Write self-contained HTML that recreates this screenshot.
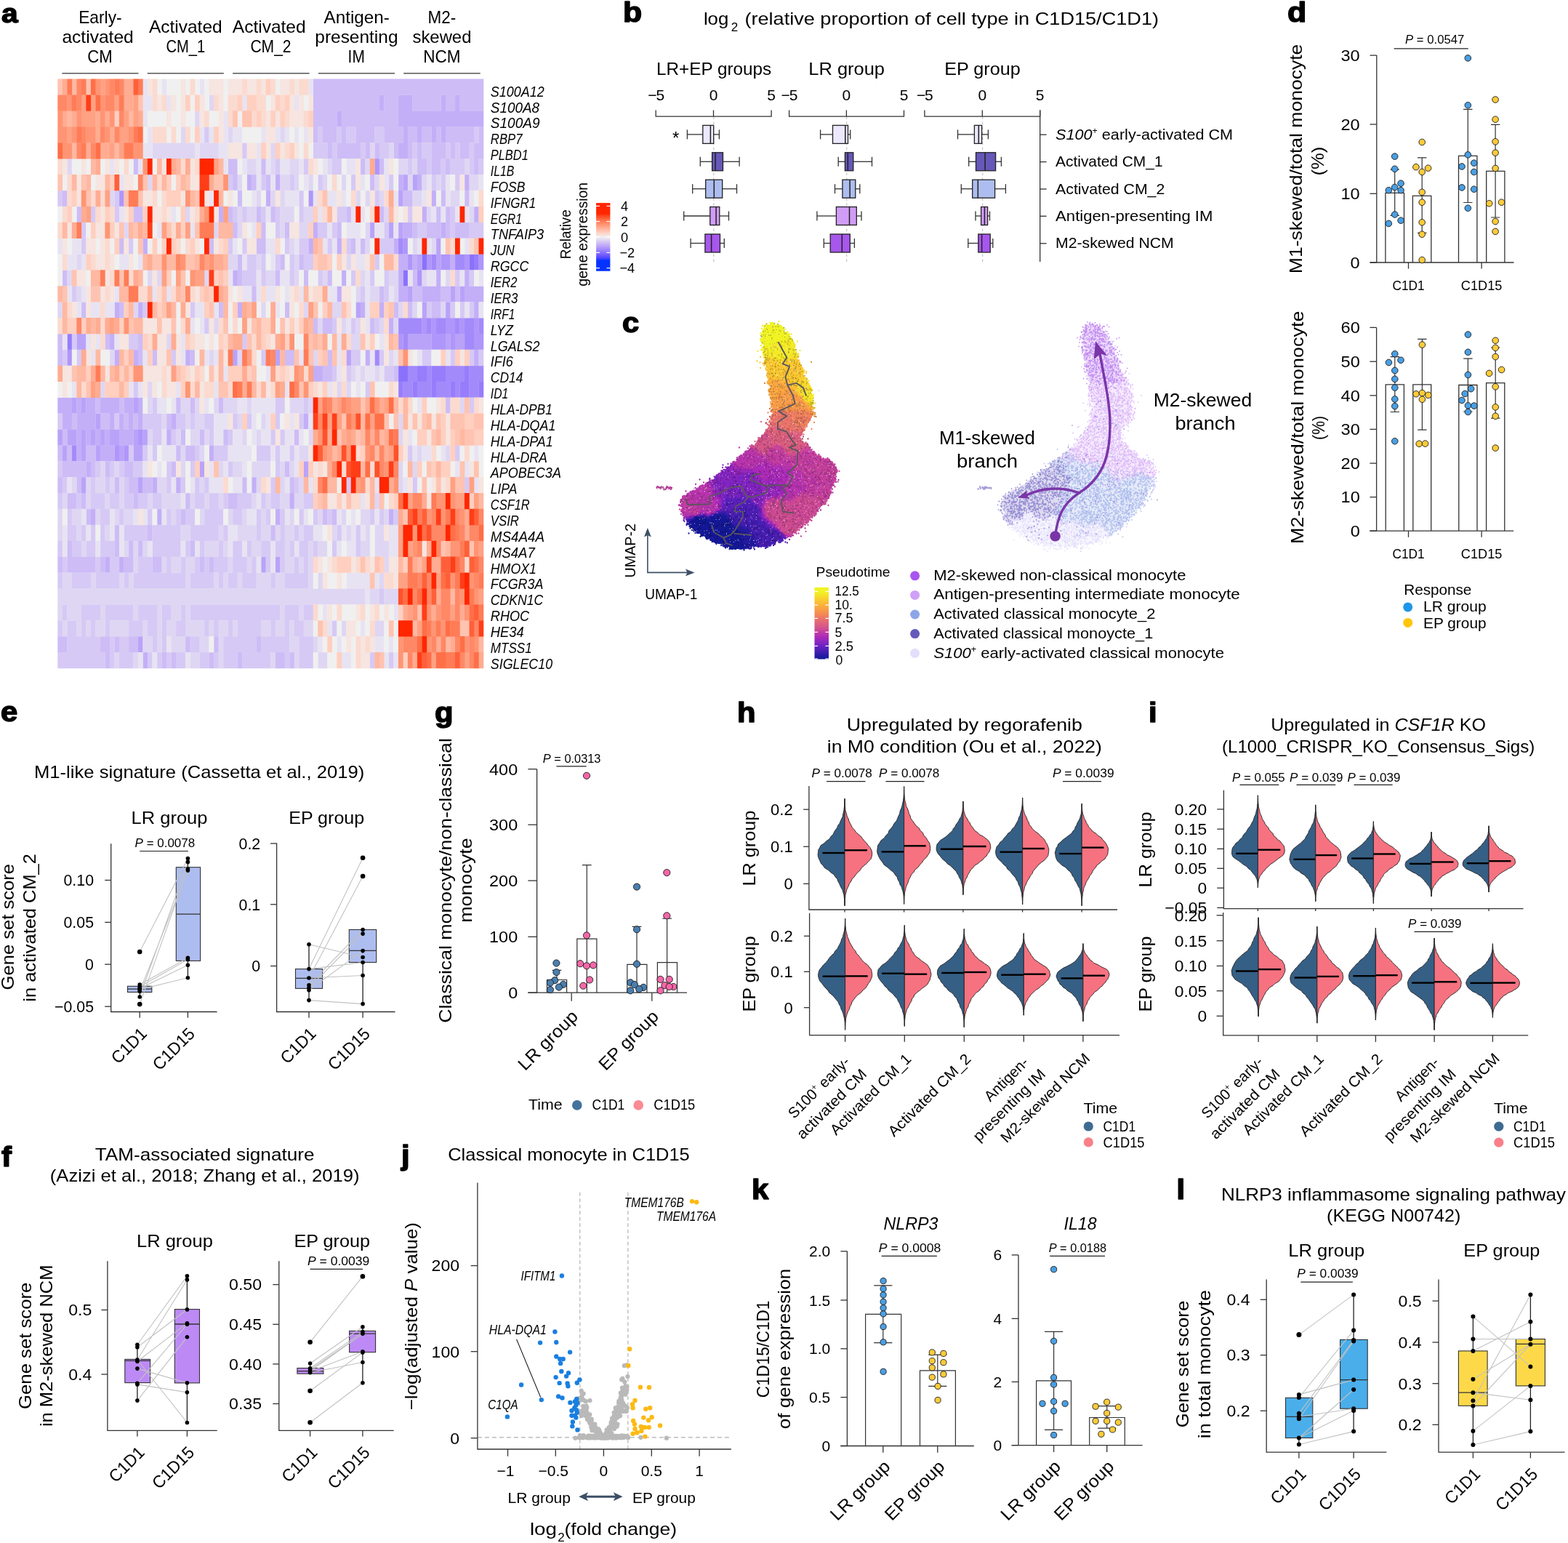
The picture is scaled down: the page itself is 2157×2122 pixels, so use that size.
<!DOCTYPE html>
<html><head><meta charset="utf-8"><title>Figure</title>
<style>html,body{margin:0;padding:0;background:#fff}svg{display:block}text{font-family:"Liberation Sans",sans-serif}</style></head>
<body><svg width="2157" height="2122" viewBox="0 0 2157 2122">
<text x="2" y="30.9" font-size="37" font-weight="bold" stroke="#000" stroke-width="1.5" stroke-linejoin="round" textLength="22.6" lengthAdjust="spacingAndGlyphs">a</text>
<g stroke-width="22.3" fill="none">
<path d="M580.4 360.6h6.8M645.5 360.6h6.8M554.4 382.5h6.8M547.9 513.9h6.8M554.4 513.9h6.8" stroke="#8a71fc"/>
<path d="M652 360.6h6.8M92.3 470.1h6.8M573.9 513.9h6.8M580.4 513.9h6.8M593.4 513.9h6.8M599.9 513.9h6.8M606.4 513.9h6.8M639 513.9h6.8M547.9 535.8h6.8M567.4 535.8h6.8M593.4 535.8h6.8M619.4 535.8h6.8M632.5 535.8h6.8M639 535.8h6.8M658.5 535.8h6.8" stroke="#977dfc"/>
<path d="M547.9 338.7h6.8M593.4 360.6h6.8M626 360.6h6.8M632.5 360.6h6.8M547.9 448.2h6.8M554.4 448.2h6.8M560.9 448.2h6.8M567.4 448.2h6.8M573.9 448.2h6.8M586.9 448.2h6.8M599.9 448.2h6.8M606.4 448.2h6.8M626 448.2h6.8M639 448.2h6.8M645.5 448.2h6.8M658.5 448.2h6.8M554.4 470.1h6.8M639 470.1h6.8M645.5 470.1h6.8M515.3 492h6.8M560.9 513.9h6.8M567.4 513.9h6.8M586.9 513.9h6.8M612.9 513.9h6.8M619.4 513.9h6.8M626 513.9h6.8M632.5 513.9h6.8M645.5 513.9h6.8M652 513.9h6.8M658.5 513.9h6.8M554.4 535.8h6.8M560.9 535.8h6.8M573.9 535.8h6.8M580.4 535.8h6.8M586.9 535.8h6.8M599.9 535.8h6.8M606.4 535.8h6.8M612.9 535.8h6.8M626 535.8h6.8M645.5 535.8h6.8M652 535.8h6.8M98.8 623.4h6.8" stroke="#a38afb"/>
<path d="M515.3 229.2h6.8M163.9 273h6.8M424.2 273h6.8M554.4 338.7h6.8M560.9 360.6h6.8M586.9 360.6h6.8M606.4 360.6h6.8M612.9 360.6h6.8M639 360.6h6.8M658.5 360.6h6.8M573.9 382.5h6.8M580.4 448.2h6.8M593.4 448.2h6.8M612.9 448.2h6.8M619.4 448.2h6.8M632.5 448.2h6.8M652 448.2h6.8M547.9 470.1h6.8M593.4 470.1h6.8M599.9 470.1h6.8M606.4 470.1h6.8M619.4 470.1h6.8M652 470.1h6.8M658.5 470.1h6.8M92.3 492h6.8M189.9 601.5h6.8M157.4 623.4h6.8M170.4 623.4h6.8" stroke="#af96fa"/>
<path d="M554.4 251.1h6.8M567.4 251.1h6.8M547.9 273h6.8M508.8 316.8h6.8M534.8 316.8h6.8M547.9 316.8h6.8M599.9 338.7h6.8M573.9 360.6h6.8M599.9 360.6h6.8M560.9 404.4h6.8M619.4 404.4h6.8M632.5 404.4h6.8M489.3 426.3h6.8M580.4 426.3h6.8M612.9 426.3h6.8M105.3 470.1h6.8M111.8 470.1h6.8M560.9 470.1h6.8M567.4 470.1h6.8M573.9 470.1h6.8M580.4 470.1h6.8M586.9 470.1h6.8M612.9 470.1h6.8M626 470.1h6.8M632.5 470.1h6.8M320.1 492h6.8M378.7 492h6.8M476.3 492h6.8M98.8 557.7h6.8M111.8 557.7h6.8M183.4 557.7h6.8M131.4 579.6h6.8M79.3 601.5h6.8M92.3 601.5h6.8M98.8 601.5h6.8M111.8 601.5h6.8M124.9 601.5h6.8M137.9 601.5h6.8M150.9 601.5h6.8M157.4 601.5h6.8M183.4 601.5h6.8M196.4 601.5h6.8M85.8 623.4h6.8M111.8 623.4h6.8M131.4 623.4h6.8M163.9 623.4h6.8M183.4 623.4h6.8M189.9 623.4h6.8M274.5 645.3h6.8M417.7 645.3h6.8M111.8 667.2h6.8M189.9 667.2h6.8M359.1 776.7h6.8M378.7 776.7h6.8M189.9 886.2h6.8" stroke="#b9a3f9"/>
<path d="M521.8 141.6h6.8M547.9 141.6h6.8M554.4 141.6h6.8M560.9 141.6h6.8M606.4 141.6h6.8M626 141.6h6.8M463.3 163.5h6.8M547.9 163.5h6.8M554.4 163.5h6.8M560.9 163.5h6.8M567.4 163.5h6.8M573.9 163.5h6.8M580.4 163.5h6.8M586.9 163.5h6.8M593.4 163.5h6.8M599.9 163.5h6.8M606.4 163.5h6.8M612.9 163.5h6.8M619.4 163.5h6.8M626 163.5h6.8M632.5 163.5h6.8M639 163.5h6.8M645.5 163.5h6.8M652 163.5h6.8M658.5 163.5h6.8M554.4 185.4h6.8M573.9 185.4h6.8M593.4 185.4h6.8M606.4 185.4h6.8M547.9 207.3h6.8M554.4 207.3h6.8M339.6 251.1h6.8M378.7 251.1h6.8M547.9 251.1h6.8M573.9 251.1h6.8M639 251.1h6.8M365.6 273h6.8M593.4 273h6.8M300.6 294.9h6.8M580.4 294.9h6.8M652 294.9h6.8M430.7 316.8h6.8M554.4 316.8h6.8M560.9 316.8h6.8M606.4 316.8h6.8M196.4 338.7h6.8M424.2 338.7h6.8M463.3 338.7h6.8M541.4 338.7h6.8M547.9 360.6h6.8M554.4 360.6h6.8M567.4 360.6h6.8M619.4 360.6h6.8M320.1 382.5h6.8M469.8 382.5h6.8M547.9 382.5h6.8M599.9 382.5h6.8M639 382.5h6.8M463.3 404.4h6.8M547.9 404.4h6.8M554.4 404.4h6.8M580.4 404.4h6.8M586.9 404.4h6.8M593.4 404.4h6.8M599.9 404.4h6.8M639 404.4h6.8M645.5 404.4h6.8M652 404.4h6.8M658.5 404.4h6.8M157.4 426.3h6.8M189.9 426.3h6.8M326.6 426.3h6.8M495.8 426.3h6.8M521.8 426.3h6.8M652 426.3h6.8M534.8 448.2h6.8M150.9 470.1h6.8M157.4 492h6.8M183.4 492h6.8M255 492h6.8M502.3 492h6.8M652 492h6.8M430.7 513.9h6.8M437.2 513.9h6.8M79.3 557.7h6.8M85.8 557.7h6.8M92.3 557.7h6.8M105.3 557.7h6.8M118.3 557.7h6.8M124.9 557.7h6.8M137.9 557.7h6.8M144.4 557.7h6.8M150.9 557.7h6.8M157.4 557.7h6.8M170.4 557.7h6.8M176.9 557.7h6.8M189.9 557.7h6.8M85.8 579.6h6.8M92.3 579.6h6.8M105.3 579.6h6.8M111.8 579.6h6.8M118.3 579.6h6.8M124.9 579.6h6.8M150.9 579.6h6.8M163.9 579.6h6.8M176.9 579.6h6.8M189.9 579.6h6.8M235.5 579.6h6.8M417.7 579.6h6.8M105.3 601.5h6.8M118.3 601.5h6.8M131.4 601.5h6.8M144.4 601.5h6.8M163.9 601.5h6.8M170.4 601.5h6.8M176.9 601.5h6.8M229 601.5h6.8M105.3 623.4h6.8M137.9 623.4h6.8M144.4 623.4h6.8M150.9 623.4h6.8M287.5 623.4h6.8M118.3 645.3h6.8M209.5 667.2h6.8M242 667.2h6.8M346.1 667.2h6.8M398.2 689.1h6.8M124.9 711h6.8M216 711h6.8M378.7 711h6.8M534.8 711h6.8M144.4 776.7h6.8M163.9 776.7h6.8M196.4 908.1h6.8" stroke="#c3aff8"/>
<path d="M430.7 119.7h6.8M437.2 119.7h6.8M443.7 119.7h6.8M450.2 119.7h6.8M456.8 119.7h6.8M463.3 119.7h6.8M469.8 119.7h6.8M476.3 119.7h6.8M482.8 119.7h6.8M489.3 119.7h6.8M495.8 119.7h6.8M502.3 119.7h6.8M508.8 119.7h6.8M515.3 119.7h6.8M521.8 119.7h6.8M528.3 119.7h6.8M534.8 119.7h6.8M541.4 119.7h6.8M547.9 119.7h6.8M554.4 119.7h6.8M560.9 119.7h6.8M567.4 119.7h6.8M573.9 119.7h6.8M580.4 119.7h6.8M586.9 119.7h6.8M593.4 119.7h6.8M599.9 119.7h6.8M606.4 119.7h6.8M612.9 119.7h6.8M619.4 119.7h6.8M626 119.7h6.8M632.5 119.7h6.8M639 119.7h6.8M645.5 119.7h6.8M652 119.7h6.8M658.5 119.7h6.8M430.7 141.6h6.8M437.2 141.6h6.8M443.7 141.6h6.8M450.2 141.6h6.8M456.8 141.6h6.8M463.3 141.6h6.8M469.8 141.6h6.8M476.3 141.6h6.8M482.8 141.6h6.8M489.3 141.6h6.8M495.8 141.6h6.8M502.3 141.6h6.8M508.8 141.6h6.8M515.3 141.6h6.8M528.3 141.6h6.8M534.8 141.6h6.8M541.4 141.6h6.8M567.4 141.6h6.8M573.9 141.6h6.8M580.4 141.6h6.8M586.9 141.6h6.8M593.4 141.6h6.8M599.9 141.6h6.8M612.9 141.6h6.8M619.4 141.6h6.8M632.5 141.6h6.8M639 141.6h6.8M645.5 141.6h6.8M652 141.6h6.8M658.5 141.6h6.8M430.7 163.5h6.8M437.2 163.5h6.8M443.7 163.5h6.8M450.2 163.5h6.8M456.8 163.5h6.8M469.8 163.5h6.8M476.3 163.5h6.8M482.8 163.5h6.8M489.3 163.5h6.8M495.8 163.5h6.8M502.3 163.5h6.8M508.8 163.5h6.8M515.3 163.5h6.8M521.8 163.5h6.8M528.3 163.5h6.8M534.8 163.5h6.8M541.4 163.5h6.8M430.7 185.4h6.8M443.7 185.4h6.8M450.2 185.4h6.8M456.8 185.4h6.8M469.8 185.4h6.8M489.3 185.4h6.8M495.8 185.4h6.8M502.3 185.4h6.8M508.8 185.4h6.8M528.3 185.4h6.8M534.8 185.4h6.8M541.4 185.4h6.8M547.9 185.4h6.8M560.9 185.4h6.8M567.4 185.4h6.8M580.4 185.4h6.8M586.9 185.4h6.8M599.9 185.4h6.8M612.9 185.4h6.8M619.4 185.4h6.8M626 185.4h6.8M632.5 185.4h6.8M639 185.4h6.8M645.5 185.4h6.8M658.5 185.4h6.8M450.2 207.3h6.8M463.3 207.3h6.8M469.8 207.3h6.8M476.3 207.3h6.8M482.8 207.3h6.8M489.3 207.3h6.8M502.3 207.3h6.8M515.3 207.3h6.8M541.4 207.3h6.8M560.9 207.3h6.8M573.9 207.3h6.8M593.4 207.3h6.8M599.9 207.3h6.8M606.4 207.3h6.8M619.4 207.3h6.8M632.5 207.3h6.8M639 207.3h6.8M652 207.3h6.8M658.5 207.3h6.8M183.4 229.2h6.8M313.6 229.2h6.8M320.1 229.2h6.8M359.1 229.2h6.8M495.8 229.2h6.8M521.8 229.2h6.8M573.9 229.2h6.8M580.4 229.2h6.8M593.4 229.2h6.8M599.9 229.2h6.8M612.9 229.2h6.8M652 229.2h6.8M320.1 251.1h6.8M346.1 251.1h6.8M365.6 251.1h6.8M508.8 251.1h6.8M85.8 273h6.8M326.6 273h6.8M554.4 273h6.8M560.9 273h6.8M606.4 273h6.8M639 273h6.8M105.3 294.9h6.8M183.4 294.9h6.8M189.9 294.9h6.8M313.6 294.9h6.8M352.6 294.9h6.8M372.2 294.9h6.8M476.3 294.9h6.8M521.8 294.9h6.8M599.9 294.9h6.8M612.9 294.9h6.8M320.1 316.8h6.8M359.1 316.8h6.8M391.7 316.8h6.8M463.3 316.8h6.8M567.4 316.8h6.8M586.9 316.8h6.8M593.4 316.8h6.8M599.9 316.8h6.8M612.9 316.8h6.8M626 316.8h6.8M632.5 316.8h6.8M639 316.8h6.8M163.9 338.7h6.8M287.5 338.7h6.8M352.6 338.7h6.8M359.1 338.7h6.8M482.8 338.7h6.8M495.8 338.7h6.8M326.6 360.6h6.8M385.2 360.6h6.8M411.2 360.6h6.8M85.8 382.5h6.8M326.6 382.5h6.8M378.7 382.5h6.8M417.7 382.5h6.8M450.2 382.5h6.8M567.4 382.5h6.8M346.1 404.4h6.8M521.8 404.4h6.8M567.4 404.4h6.8M573.9 404.4h6.8M606.4 404.4h6.8M612.9 404.4h6.8M626 404.4h6.8M111.8 426.3h6.8M163.9 426.3h6.8M300.6 426.3h6.8M391.7 426.3h6.8M541.4 426.3h6.8M560.9 426.3h6.8M593.4 426.3h6.8M599.9 426.3h6.8M430.7 448.2h6.8M443.7 448.2h6.8M450.2 448.2h6.8M508.8 448.2h6.8M79.3 470.1h6.8M144.4 470.1h6.8M189.9 470.1h6.8M79.3 492h6.8M189.9 492h6.8M209.5 492h6.8M261.5 492h6.8M391.7 492h6.8M398.2 492h6.8M450.2 492h6.8M443.7 513.9h6.8M450.2 513.9h6.8M541.4 513.9h6.8M131.4 557.7h6.8M163.9 557.7h6.8M242 557.7h6.8M261.5 557.7h6.8M300.6 557.7h6.8M612.9 557.7h6.8M98.8 579.6h6.8M137.9 579.6h6.8M144.4 579.6h6.8M170.4 579.6h6.8M183.4 579.6h6.8M229 579.6h6.8M85.8 601.5h6.8M248.5 601.5h6.8M274.5 601.5h6.8M307.1 601.5h6.8M404.7 601.5h6.8M79.3 623.4h6.8M92.3 623.4h6.8M118.3 623.4h6.8M124.9 623.4h6.8M242 623.4h6.8M255 623.4h6.8M261.5 623.4h6.8M85.8 645.3h6.8M92.3 645.3h6.8M98.8 645.3h6.8M105.3 645.3h6.8M111.8 645.3h6.8M124.9 645.3h6.8M144.4 645.3h6.8M170.4 645.3h6.8M176.9 645.3h6.8M235.5 645.3h6.8M391.7 645.3h6.8M79.3 667.2h6.8M105.3 667.2h6.8M157.4 667.2h6.8M176.9 667.2h6.8M183.4 667.2h6.8M196.4 667.2h6.8M202.9 667.2h6.8M333.1 667.2h6.8M398.2 667.2h6.8M92.3 689.1h6.8M98.8 689.1h6.8M111.8 689.1h6.8M183.4 689.1h6.8M255 689.1h6.8M313.6 689.1h6.8M320.1 689.1h6.8M118.3 711h6.8M248.5 711h6.8M443.7 711h6.8M456.8 711h6.8M157.4 732.9h6.8M202.9 732.9h6.8M372.2 732.9h6.8M92.3 754.8h6.8M157.4 754.8h6.8M176.9 754.8h6.8M189.9 754.8h6.8M261.5 754.8h6.8M79.3 776.7h6.8M92.3 776.7h6.8M98.8 776.7h6.8M105.3 776.7h6.8M111.8 776.7h6.8M118.3 776.7h6.8M124.9 776.7h6.8M137.9 776.7h6.8M170.4 776.7h6.8M176.9 776.7h6.8M209.5 776.7h6.8M216 776.7h6.8M274.5 776.7h6.8M287.5 776.7h6.8M79.3 886.2h6.8M85.8 886.2h6.8M137.9 886.2h6.8M144.4 886.2h6.8M157.4 886.2h6.8M176.9 886.2h6.8M183.4 886.2h6.8M255 886.2h6.8M294.1 886.2h6.8M352.6 886.2h6.8M144.4 908.1h6.8M222.5 908.1h6.8M235.5 908.1h6.8M287.5 908.1h6.8M326.6 908.1h6.8M378.7 908.1h6.8M385.2 908.1h6.8M398.2 908.1h6.8" stroke="#cdbcf6"/>
<path d="M281 185.4h6.8M437.2 185.4h6.8M463.3 185.4h6.8M476.3 185.4h6.8M482.8 185.4h6.8M515.3 185.4h6.8M521.8 185.4h6.8M652 185.4h6.8M333.1 207.3h6.8M430.7 207.3h6.8M437.2 207.3h6.8M443.7 207.3h6.8M456.8 207.3h6.8M495.8 207.3h6.8M521.8 207.3h6.8M528.3 207.3h6.8M567.4 207.3h6.8M580.4 207.3h6.8M586.9 207.3h6.8M612.9 207.3h6.8M626 207.3h6.8M645.5 207.3h6.8M378.7 229.2h6.8M417.7 229.2h6.8M456.8 229.2h6.8M463.3 229.2h6.8M560.9 229.2h6.8M586.9 229.2h6.8M606.4 229.2h6.8M619.4 229.2h6.8M626 229.2h6.8M632.5 229.2h6.8M645.5 229.2h6.8M658.5 229.2h6.8M313.6 251.1h6.8M359.1 251.1h6.8M398.2 251.1h6.8M437.2 251.1h6.8M482.8 251.1h6.8M534.8 251.1h6.8M593.4 251.1h6.8M606.4 251.1h6.8M626 251.1h6.8M79.3 273h6.8M157.4 273h6.8M411.2 273h6.8M515.3 273h6.8M124.9 294.9h6.8M157.4 294.9h6.8M320.1 294.9h6.8M333.1 294.9h6.8M359.1 294.9h6.8M378.7 294.9h6.8M411.2 294.9h6.8M463.3 294.9h6.8M469.8 294.9h6.8M560.9 294.9h6.8M619.4 294.9h6.8M111.8 316.8h6.8M378.7 316.8h6.8M437.2 316.8h6.8M443.7 316.8h6.8M456.8 316.8h6.8M528.3 316.8h6.8M573.9 316.8h6.8M580.4 316.8h6.8M619.4 316.8h6.8M645.5 316.8h6.8M652 316.8h6.8M658.5 316.8h6.8M111.8 338.7h6.8M176.9 338.7h6.8M313.6 338.7h6.8M333.1 338.7h6.8M391.7 338.7h6.8M411.2 338.7h6.8M417.7 338.7h6.8M450.2 338.7h6.8M476.3 338.7h6.8M521.8 338.7h6.8M528.3 338.7h6.8M534.8 338.7h6.8M339.6 360.6h6.8M346.1 360.6h6.8M359.1 360.6h6.8M378.7 360.6h6.8M398.2 360.6h6.8M417.7 360.6h6.8M424.2 360.6h6.8M515.3 360.6h6.8M333.1 382.5h6.8M339.6 382.5h6.8M346.1 382.5h6.8M359.1 382.5h6.8M398.2 382.5h6.8M437.2 382.5h6.8M482.8 382.5h6.8M508.8 382.5h6.8M528.3 382.5h6.8M626 382.5h6.8M645.5 382.5h6.8M98.8 404.4h6.8M495.8 404.4h6.8M528.3 404.4h6.8M196.4 426.3h6.8M261.5 426.3h6.8M586.9 426.3h6.8M619.4 426.3h6.8M632.5 426.3h6.8M645.5 426.3h6.8M281 448.2h6.8M456.8 448.2h6.8M482.8 448.2h6.8M515.3 448.2h6.8M98.8 470.1h6.8M176.9 470.1h6.8M183.4 470.1h6.8M333.1 470.1h6.8M85.8 492h6.8M105.3 492h6.8M235.5 492h6.8M359.1 492h6.8M482.8 492h6.8M489.3 492h6.8M521.8 492h6.8M580.4 492h6.8M586.9 492h6.8M619.4 492h6.8M645.5 492h6.8M658.5 492h6.8M456.8 513.9h6.8M476.3 513.9h6.8M528.3 513.9h6.8M534.8 513.9h6.8M183.4 535.8h6.8M502.3 535.8h6.8M209.5 557.7h6.8M378.7 557.7h6.8M385.2 557.7h6.8M417.7 557.7h6.8M645.5 557.7h6.8M79.3 579.6h6.8M157.4 579.6h6.8M196.4 579.6h6.8M202.9 579.6h6.8M209.5 579.6h6.8M216 579.6h6.8M242 579.6h6.8M248.5 579.6h6.8M261.5 579.6h6.8M281 579.6h6.8M287.5 579.6h6.8M320.1 579.6h6.8M339.6 579.6h6.8M378.7 579.6h6.8M411.2 579.6h6.8M209.5 601.5h6.8M216 601.5h6.8M235.5 601.5h6.8M287.5 601.5h6.8M313.6 601.5h6.8M372.2 601.5h6.8M385.2 601.5h6.8M176.9 623.4h6.8M196.4 623.4h6.8M209.5 623.4h6.8M268 623.4h6.8M294.1 623.4h6.8M300.6 623.4h6.8M307.1 623.4h6.8M352.6 623.4h6.8M359.1 623.4h6.8M365.6 623.4h6.8M378.7 623.4h6.8M398.2 623.4h6.8M560.9 623.4h6.8M626 623.4h6.8M79.3 645.3h6.8M131.4 645.3h6.8M150.9 645.3h6.8M163.9 645.3h6.8M183.4 645.3h6.8M189.9 645.3h6.8M229 645.3h6.8M261.5 645.3h6.8M313.6 645.3h6.8M378.7 645.3h6.8M85.8 667.2h6.8M124.9 667.2h6.8M144.4 667.2h6.8M170.4 667.2h6.8M229 667.2h6.8M248.5 667.2h6.8M268 667.2h6.8M281 667.2h6.8M372.2 667.2h6.8M404.7 667.2h6.8M476.3 667.2h6.8M567.4 667.2h6.8M639 667.2h6.8M79.3 689.1h6.8M105.3 689.1h6.8M124.9 689.1h6.8M131.4 689.1h6.8M137.9 689.1h6.8M150.9 689.1h6.8M157.4 689.1h6.8M170.4 689.1h6.8M176.9 689.1h6.8M189.9 689.1h6.8M196.4 689.1h6.8M209.5 689.1h6.8M216 689.1h6.8M268 689.1h6.8M274.5 689.1h6.8M287.5 689.1h6.8M294.1 689.1h6.8M307.1 689.1h6.8M326.6 689.1h6.8M333.1 689.1h6.8M339.6 689.1h6.8M359.1 689.1h6.8M372.2 689.1h6.8M378.7 689.1h6.8M417.7 689.1h6.8M424.2 689.1h6.8M92.3 711h6.8M137.9 711h6.8M144.4 711h6.8M163.9 711h6.8M202.9 711h6.8M229 711h6.8M242 711h6.8M255 711h6.8M261.5 711h6.8M281 711h6.8M287.5 711h6.8M294.1 711h6.8M300.6 711h6.8M320.1 711h6.8M326.6 711h6.8M352.6 711h6.8M365.6 711h6.8M385.2 711h6.8M411.2 711h6.8M430.7 711h6.8M450.2 711h6.8M508.8 711h6.8M521.8 711h6.8M541.4 711h6.8M92.3 732.9h6.8M98.8 732.9h6.8M111.8 732.9h6.8M124.9 732.9h6.8M137.9 732.9h6.8M170.4 732.9h6.8M176.9 732.9h6.8M183.4 732.9h6.8M189.9 732.9h6.8M196.4 732.9h6.8M209.5 732.9h6.8M216 732.9h6.8M222.5 732.9h6.8M229 732.9h6.8M235.5 732.9h6.8M242 732.9h6.8M261.5 732.9h6.8M268 732.9h6.8M274.5 732.9h6.8M281 732.9h6.8M287.5 732.9h6.8M294.1 732.9h6.8M307.1 732.9h6.8M352.6 732.9h6.8M385.2 732.9h6.8M404.7 732.9h6.8M417.7 732.9h6.8M424.2 732.9h6.8M463.3 732.9h6.8M489.3 732.9h6.8M79.3 754.8h6.8M98.8 754.8h6.8M105.3 754.8h6.8M118.3 754.8h6.8M124.9 754.8h6.8M137.9 754.8h6.8M144.4 754.8h6.8M150.9 754.8h6.8M209.5 754.8h6.8M216 754.8h6.8M222.5 754.8h6.8M229 754.8h6.8M235.5 754.8h6.8M242 754.8h6.8M255 754.8h6.8M274.5 754.8h6.8M300.6 754.8h6.8M320.1 754.8h6.8M326.6 754.8h6.8M339.6 754.8h6.8M359.1 754.8h6.8M365.6 754.8h6.8M378.7 754.8h6.8M385.2 754.8h6.8M398.2 754.8h6.8M411.2 754.8h6.8M417.7 754.8h6.8M430.7 754.8h6.8M456.8 754.8h6.8M489.3 754.8h6.8M85.8 776.7h6.8M131.4 776.7h6.8M150.9 776.7h6.8M157.4 776.7h6.8M189.9 776.7h6.8M196.4 776.7h6.8M202.9 776.7h6.8M229 776.7h6.8M248.5 776.7h6.8M268 776.7h6.8M281 776.7h6.8M294.1 776.7h6.8M300.6 776.7h6.8M307.1 776.7h6.8M320.1 776.7h6.8M326.6 776.7h6.8M333.1 776.7h6.8M346.1 776.7h6.8M365.6 776.7h6.8M385.2 776.7h6.8M404.7 776.7h6.8M417.7 776.7h6.8M79.3 798.6h6.8M98.8 798.6h6.8M105.3 798.6h6.8M111.8 798.6h6.8M118.3 798.6h6.8M131.4 798.6h6.8M137.9 798.6h6.8M144.4 798.6h6.8M150.9 798.6h6.8M157.4 798.6h6.8M170.4 798.6h6.8M183.4 798.6h6.8M189.9 798.6h6.8M196.4 798.6h6.8M202.9 798.6h6.8M209.5 798.6h6.8M216 798.6h6.8M222.5 798.6h6.8M229 798.6h6.8M235.5 798.6h6.8M242 798.6h6.8M248.5 798.6h6.8M261.5 798.6h6.8M268 798.6h6.8M274.5 798.6h6.8M281 798.6h6.8M287.5 798.6h6.8M300.6 798.6h6.8M313.6 798.6h6.8M320.1 798.6h6.8M333.1 798.6h6.8M339.6 798.6h6.8M346.1 798.6h6.8M372.2 798.6h6.8M391.7 798.6h6.8M398.2 798.6h6.8M404.7 798.6h6.8M411.2 798.6h6.8M417.7 798.6h6.8M521.8 820.5h6.8M85.8 842.4h6.8M111.8 842.4h6.8M118.3 842.4h6.8M124.9 842.4h6.8M131.4 842.4h6.8M144.4 842.4h6.8M150.9 842.4h6.8M157.4 842.4h6.8M163.9 842.4h6.8M170.4 842.4h6.8M176.9 842.4h6.8M189.9 842.4h6.8M196.4 842.4h6.8M202.9 842.4h6.8M209.5 842.4h6.8M222.5 842.4h6.8M229 842.4h6.8M248.5 842.4h6.8M261.5 842.4h6.8M268 842.4h6.8M274.5 842.4h6.8M281 842.4h6.8M287.5 842.4h6.8M294.1 842.4h6.8M300.6 842.4h6.8M307.1 842.4h6.8M313.6 842.4h6.8M320.1 842.4h6.8M326.6 842.4h6.8M333.1 842.4h6.8M339.6 842.4h6.8M346.1 842.4h6.8M352.6 842.4h6.8M359.1 842.4h6.8M365.6 842.4h6.8M372.2 842.4h6.8M378.7 842.4h6.8M391.7 842.4h6.8M398.2 842.4h6.8M404.7 842.4h6.8M417.7 842.4h6.8M424.2 842.4h6.8M79.3 864.3h6.8M92.3 864.3h6.8M98.8 864.3h6.8M111.8 864.3h6.8M124.9 864.3h6.8M144.4 864.3h6.8M176.9 864.3h6.8M183.4 864.3h6.8M189.9 864.3h6.8M202.9 864.3h6.8M209.5 864.3h6.8M222.5 864.3h6.8M242 864.3h6.8M248.5 864.3h6.8M281 864.3h6.8M294.1 864.3h6.8M313.6 864.3h6.8M326.6 864.3h6.8M333.1 864.3h6.8M339.6 864.3h6.8M346.1 864.3h6.8M352.6 864.3h6.8M372.2 864.3h6.8M391.7 864.3h6.8M404.7 864.3h6.8M411.2 864.3h6.8M456.8 864.3h6.8M92.3 886.2h6.8M98.8 886.2h6.8M105.3 886.2h6.8M111.8 886.2h6.8M118.3 886.2h6.8M124.9 886.2h6.8M131.4 886.2h6.8M150.9 886.2h6.8M163.9 886.2h6.8M170.4 886.2h6.8M209.5 886.2h6.8M222.5 886.2h6.8M261.5 886.2h6.8M268 886.2h6.8M307.1 886.2h6.8M313.6 886.2h6.8M320.1 886.2h6.8M326.6 886.2h6.8M333.1 886.2h6.8M339.6 886.2h6.8M346.1 886.2h6.8M359.1 886.2h6.8M365.6 886.2h6.8M372.2 886.2h6.8M378.7 886.2h6.8M385.2 886.2h6.8M391.7 886.2h6.8M411.2 886.2h6.8M417.7 886.2h6.8M424.2 886.2h6.8M79.3 908.1h6.8M85.8 908.1h6.8M92.3 908.1h6.8M98.8 908.1h6.8M105.3 908.1h6.8M111.8 908.1h6.8M118.3 908.1h6.8M124.9 908.1h6.8M131.4 908.1h6.8M137.9 908.1h6.8M150.9 908.1h6.8M163.9 908.1h6.8M170.4 908.1h6.8M176.9 908.1h6.8M202.9 908.1h6.8M216 908.1h6.8M229 908.1h6.8M242 908.1h6.8M248.5 908.1h6.8M274.5 908.1h6.8M281 908.1h6.8M294.1 908.1h6.8M307.1 908.1h6.8M313.6 908.1h6.8M320.1 908.1h6.8M333.1 908.1h6.8M339.6 908.1h6.8M346.1 908.1h6.8M352.6 908.1h6.8M359.1 908.1h6.8M365.6 908.1h6.8M391.7 908.1h6.8M411.2 908.1h6.8M417.7 908.1h6.8M424.2 908.1h6.8M508.8 908.1h6.8M534.8 908.1h6.8" stroke="#d6c9f5"/>
<path d="M287.5 141.6h6.8M268 163.5h6.8M248.5 185.4h6.8M313.6 185.4h6.8M385.2 185.4h6.8M209.5 207.3h6.8M216 207.3h6.8M222.5 207.3h6.8M229 207.3h6.8M235.5 207.3h6.8M242 207.3h6.8M248.5 207.3h6.8M255 207.3h6.8M261.5 207.3h6.8M274.5 207.3h6.8M281 207.3h6.8M287.5 207.3h6.8M294.1 207.3h6.8M372.2 207.3h6.8M508.8 207.3h6.8M534.8 207.3h6.8M92.3 229.2h6.8M339.6 229.2h6.8M346.1 229.2h6.8M372.2 229.2h6.8M398.2 229.2h6.8M404.7 229.2h6.8M450.2 229.2h6.8M502.3 229.2h6.8M547.9 229.2h6.8M554.4 229.2h6.8M567.4 229.2h6.8M639 229.2h6.8M202.9 251.1h6.8M326.6 251.1h6.8M385.2 251.1h6.8M391.7 251.1h6.8M404.7 251.1h6.8M424.2 251.1h6.8M443.7 251.1h6.8M469.8 251.1h6.8M515.3 251.1h6.8M560.9 251.1h6.8M580.4 251.1h6.8M599.9 251.1h6.8M645.5 251.1h6.8M652 251.1h6.8M150.9 273h6.8M352.6 273h6.8M372.2 273h6.8M385.2 273h6.8M489.3 273h6.8M502.3 273h6.8M521.8 273h6.8M567.4 273h6.8M573.9 273h6.8M619.4 273h6.8M626 273h6.8M255 294.9h6.8M326.6 294.9h6.8M339.6 294.9h6.8M346.1 294.9h6.8M385.2 294.9h6.8M391.7 294.9h6.8M398.2 294.9h6.8M417.7 294.9h6.8M424.2 294.9h6.8M528.3 294.9h6.8M586.9 294.9h6.8M645.5 294.9h6.8M170.4 316.8h6.8M294.1 316.8h6.8M326.6 316.8h6.8M385.2 316.8h6.8M411.2 316.8h6.8M417.7 316.8h6.8M502.3 316.8h6.8M398.2 338.7h6.8M502.3 338.7h6.8M567.4 338.7h6.8M593.4 338.7h6.8M105.3 360.6h6.8M313.6 360.6h6.8M320.1 360.6h6.8M352.6 360.6h6.8M404.7 360.6h6.8M476.3 360.6h6.8M92.3 382.5h6.8M202.9 382.5h6.8M216 382.5h6.8M281 382.5h6.8M365.6 382.5h6.8M372.2 382.5h6.8M404.7 382.5h6.8M443.7 382.5h6.8M495.8 382.5h6.8M534.8 382.5h6.8M541.4 382.5h6.8M580.4 382.5h6.8M612.9 382.5h6.8M105.3 404.4h6.8M489.3 404.4h6.8M508.8 404.4h6.8M515.3 404.4h6.8M541.4 404.4h6.8M79.3 426.3h6.8M183.4 426.3h6.8M359.1 426.3h6.8M417.7 426.3h6.8M456.8 426.3h6.8M463.3 426.3h6.8M547.9 426.3h6.8M567.4 426.3h6.8M606.4 426.3h6.8M294.1 448.2h6.8M437.2 448.2h6.8M469.8 448.2h6.8M489.3 448.2h6.8M521.8 448.2h6.8M541.4 448.2h6.8M229 470.1h6.8M482.8 470.1h6.8M489.3 470.1h6.8M150.9 492h6.8M287.5 492h6.8M326.6 492h6.8M430.7 492h6.8M534.8 492h6.8M482.8 513.9h6.8M495.8 513.9h6.8M515.3 513.9h6.8M137.9 535.8h6.8M202.9 535.8h6.8M463.3 535.8h6.8M476.3 535.8h6.8M202.9 557.7h6.8M248.5 557.7h6.8M255 557.7h6.8M268 557.7h6.8M294.1 557.7h6.8M307.1 557.7h6.8M313.6 557.7h6.8M320.1 557.7h6.8M339.6 557.7h6.8M398.2 557.7h6.8M404.7 557.7h6.8M411.2 557.7h6.8M424.2 557.7h6.8M632.5 557.7h6.8M222.5 579.6h6.8M255 579.6h6.8M268 579.6h6.8M274.5 579.6h6.8M326.6 579.6h6.8M359.1 579.6h6.8M547.9 579.6h6.8M202.9 601.5h6.8M242 601.5h6.8M261.5 601.5h6.8M268 601.5h6.8M281 601.5h6.8M333.1 601.5h6.8M352.6 601.5h6.8M424.2 601.5h6.8M547.9 601.5h6.8M248.5 623.4h6.8M274.5 623.4h6.8M411.2 623.4h6.8M417.7 623.4h6.8M573.9 623.4h6.8M612.9 623.4h6.8M137.9 645.3h6.8M157.4 645.3h6.8M248.5 645.3h6.8M300.6 645.3h6.8M320.1 645.3h6.8M326.6 645.3h6.8M346.1 645.3h6.8M352.6 645.3h6.8M359.1 645.3h6.8M365.6 645.3h6.8M385.2 645.3h6.8M398.2 645.3h6.8M547.9 645.3h6.8M567.4 645.3h6.8M98.8 667.2h6.8M118.3 667.2h6.8M131.4 667.2h6.8M137.9 667.2h6.8M150.9 667.2h6.8M163.9 667.2h6.8M216 667.2h6.8M222.5 667.2h6.8M274.5 667.2h6.8M352.6 667.2h6.8M385.2 667.2h6.8M411.2 667.2h6.8M547.9 667.2h6.8M85.8 689.1h6.8M118.3 689.1h6.8M144.4 689.1h6.8M163.9 689.1h6.8M202.9 689.1h6.8M222.5 689.1h6.8M229 689.1h6.8M235.5 689.1h6.8M242 689.1h6.8M261.5 689.1h6.8M281 689.1h6.8M300.6 689.1h6.8M346.1 689.1h6.8M365.6 689.1h6.8M385.2 689.1h6.8M391.7 689.1h6.8M404.7 689.1h6.8M411.2 689.1h6.8M515.3 689.1h6.8M79.3 711h6.8M98.8 711h6.8M105.3 711h6.8M131.4 711h6.8M157.4 711h6.8M170.4 711h6.8M176.9 711h6.8M235.5 711h6.8M274.5 711h6.8M313.6 711h6.8M333.1 711h6.8M359.1 711h6.8M398.2 711h6.8M437.2 711h6.8M469.8 711h6.8M495.8 711h6.8M502.3 711h6.8M528.3 711h6.8M79.3 732.9h6.8M105.3 732.9h6.8M144.4 732.9h6.8M248.5 732.9h6.8M255 732.9h6.8M300.6 732.9h6.8M326.6 732.9h6.8M333.1 732.9h6.8M339.6 732.9h6.8M346.1 732.9h6.8M359.1 732.9h6.8M365.6 732.9h6.8M378.7 732.9h6.8M391.7 732.9h6.8M398.2 732.9h6.8M411.2 732.9h6.8M456.8 732.9h6.8M476.3 732.9h6.8M502.3 732.9h6.8M515.3 732.9h6.8M521.8 732.9h6.8M111.8 754.8h6.8M170.4 754.8h6.8M183.4 754.8h6.8M196.4 754.8h6.8M281 754.8h6.8M287.5 754.8h6.8M294.1 754.8h6.8M307.1 754.8h6.8M346.1 754.8h6.8M352.6 754.8h6.8M391.7 754.8h6.8M424.2 754.8h6.8M437.2 754.8h6.8M443.7 754.8h6.8M495.8 754.8h6.8M502.3 754.8h6.8M515.3 754.8h6.8M521.8 754.8h6.8M528.3 754.8h6.8M183.4 776.7h6.8M222.5 776.7h6.8M235.5 776.7h6.8M242 776.7h6.8M255 776.7h6.8M261.5 776.7h6.8M313.6 776.7h6.8M339.6 776.7h6.8M391.7 776.7h6.8M398.2 776.7h6.8M411.2 776.7h6.8M424.2 776.7h6.8M528.3 776.7h6.8M85.8 798.6h6.8M92.3 798.6h6.8M124.9 798.6h6.8M163.9 798.6h6.8M176.9 798.6h6.8M255 798.6h6.8M294.1 798.6h6.8M307.1 798.6h6.8M326.6 798.6h6.8M352.6 798.6h6.8M359.1 798.6h6.8M365.6 798.6h6.8M378.7 798.6h6.8M385.2 798.6h6.8M424.2 798.6h6.8M437.2 798.6h6.8M521.8 798.6h6.8M79.3 820.5h6.8M85.8 820.5h6.8M92.3 820.5h6.8M98.8 820.5h6.8M105.3 820.5h6.8M111.8 820.5h6.8M118.3 820.5h6.8M124.9 820.5h6.8M131.4 820.5h6.8M137.9 820.5h6.8M144.4 820.5h6.8M150.9 820.5h6.8M157.4 820.5h6.8M163.9 820.5h6.8M170.4 820.5h6.8M176.9 820.5h6.8M183.4 820.5h6.8M189.9 820.5h6.8M196.4 820.5h6.8M202.9 820.5h6.8M209.5 820.5h6.8M216 820.5h6.8M222.5 820.5h6.8M229 820.5h6.8M235.5 820.5h6.8M242 820.5h6.8M248.5 820.5h6.8M255 820.5h6.8M261.5 820.5h6.8M268 820.5h6.8M274.5 820.5h6.8M281 820.5h6.8M287.5 820.5h6.8M294.1 820.5h6.8M300.6 820.5h6.8M307.1 820.5h6.8M313.6 820.5h6.8M320.1 820.5h6.8M326.6 820.5h6.8M333.1 820.5h6.8M339.6 820.5h6.8M346.1 820.5h6.8M352.6 820.5h6.8M359.1 820.5h6.8M365.6 820.5h6.8M372.2 820.5h6.8M378.7 820.5h6.8M385.2 820.5h6.8M391.7 820.5h6.8M398.2 820.5h6.8M404.7 820.5h6.8M411.2 820.5h6.8M417.7 820.5h6.8M424.2 820.5h6.8M430.7 820.5h6.8M437.2 820.5h6.8M443.7 820.5h6.8M450.2 820.5h6.8M456.8 820.5h6.8M463.3 820.5h6.8M469.8 820.5h6.8M476.3 820.5h6.8M482.8 820.5h6.8M489.3 820.5h6.8M495.8 820.5h6.8M508.8 820.5h6.8M515.3 820.5h6.8M528.3 820.5h6.8M534.8 820.5h6.8M541.4 820.5h6.8M79.3 842.4h6.8M92.3 842.4h6.8M98.8 842.4h6.8M105.3 842.4h6.8M137.9 842.4h6.8M183.4 842.4h6.8M216 842.4h6.8M235.5 842.4h6.8M242 842.4h6.8M255 842.4h6.8M385.2 842.4h6.8M411.2 842.4h6.8M85.8 864.3h6.8M105.3 864.3h6.8M118.3 864.3h6.8M131.4 864.3h6.8M137.9 864.3h6.8M150.9 864.3h6.8M157.4 864.3h6.8M163.9 864.3h6.8M170.4 864.3h6.8M196.4 864.3h6.8M216 864.3h6.8M229 864.3h6.8M235.5 864.3h6.8M255 864.3h6.8M261.5 864.3h6.8M268 864.3h6.8M274.5 864.3h6.8M287.5 864.3h6.8M300.6 864.3h6.8M307.1 864.3h6.8M320.1 864.3h6.8M359.1 864.3h6.8M365.6 864.3h6.8M378.7 864.3h6.8M385.2 864.3h6.8M398.2 864.3h6.8M417.7 864.3h6.8M424.2 864.3h6.8M469.8 864.3h6.8M515.3 864.3h6.8M521.8 864.3h6.8M196.4 886.2h6.8M202.9 886.2h6.8M216 886.2h6.8M235.5 886.2h6.8M242 886.2h6.8M248.5 886.2h6.8M274.5 886.2h6.8M281 886.2h6.8M300.6 886.2h6.8M398.2 886.2h6.8M404.7 886.2h6.8M430.7 886.2h6.8M157.4 908.1h6.8M183.4 908.1h6.8M261.5 908.1h6.8M268 908.1h6.8M300.6 908.1h6.8M372.2 908.1h6.8M404.7 908.1h6.8M437.2 908.1h6.8M443.7 908.1h6.8" stroke="#dfd6f3"/>
<path d="M196.4 119.7h6.8M222.5 119.7h6.8M274.5 119.7h6.8M424.2 119.7h6.8M196.4 141.6h6.8M202.9 141.6h6.8M229 141.6h6.8M333.1 141.6h6.8M404.7 141.6h6.8M196.4 163.5h6.8M307.1 163.5h6.8M202.9 185.4h6.8M274.5 185.4h6.8M287.5 185.4h6.8M307.1 185.4h6.8M320.1 185.4h6.8M326.6 185.4h6.8M359.1 185.4h6.8M378.7 185.4h6.8M391.7 185.4h6.8M404.7 185.4h6.8M417.7 185.4h6.8M196.4 207.3h6.8M202.9 207.3h6.8M268 207.3h6.8M300.6 207.3h6.8M307.1 207.3h6.8M352.6 207.3h6.8M150.9 229.2h6.8M189.9 229.2h6.8M307.1 229.2h6.8M333.1 229.2h6.8M352.6 229.2h6.8M365.6 229.2h6.8M385.2 229.2h6.8M391.7 229.2h6.8M411.2 229.2h6.8M443.7 229.2h6.8M476.3 229.2h6.8M482.8 229.2h6.8M528.3 229.2h6.8M163.9 251.1h6.8M352.6 251.1h6.8M372.2 251.1h6.8M417.7 251.1h6.8M495.8 251.1h6.8M528.3 251.1h6.8M586.9 251.1h6.8M612.9 251.1h6.8M658.5 251.1h6.8M287.5 273h6.8M346.1 273h6.8M391.7 273h6.8M398.2 273h6.8M404.7 273h6.8M430.7 273h6.8M450.2 273h6.8M456.8 273h6.8M469.8 273h6.8M541.4 273h6.8M580.4 273h6.8M612.9 273h6.8M645.5 273h6.8M163.9 294.9h6.8M235.5 294.9h6.8M365.6 294.9h6.8M437.2 294.9h6.8M482.8 294.9h6.8M495.8 294.9h6.8M593.4 294.9h6.8M606.4 294.9h6.8M626 294.9h6.8M639 294.9h6.8M216 316.8h6.8M261.5 316.8h6.8M346.1 316.8h6.8M450.2 316.8h6.8M476.3 316.8h6.8M482.8 316.8h6.8M489.3 316.8h6.8M515.3 316.8h6.8M521.8 316.8h6.8M541.4 316.8h6.8M79.3 338.7h6.8M98.8 338.7h6.8M105.3 338.7h6.8M320.1 338.7h6.8M365.6 338.7h6.8M372.2 338.7h6.8M404.7 338.7h6.8M443.7 338.7h6.8M456.8 338.7h6.8M489.3 338.7h6.8M573.9 338.7h6.8M586.9 338.7h6.8M639 338.7h6.8M92.3 360.6h6.8M98.8 360.6h6.8M111.8 360.6h6.8M163.9 360.6h6.8M170.4 360.6h6.8M189.9 360.6h6.8M333.1 360.6h6.8M372.2 360.6h6.8M489.3 360.6h6.8M495.8 360.6h6.8M313.6 382.5h6.8M352.6 382.5h6.8M385.2 382.5h6.8M391.7 382.5h6.8M502.3 382.5h6.8M560.9 382.5h6.8M586.9 382.5h6.8M593.4 382.5h6.8M632.5 382.5h6.8M658.5 382.5h6.8M92.3 404.4h6.8M111.8 404.4h6.8M157.4 404.4h6.8M209.5 404.4h6.8M229 404.4h6.8M333.1 404.4h6.8M339.6 404.4h6.8M352.6 404.4h6.8M365.6 404.4h6.8M372.2 404.4h6.8M391.7 404.4h6.8M411.2 404.4h6.8M450.2 404.4h6.8M456.8 404.4h6.8M502.3 404.4h6.8M534.8 404.4h6.8M105.3 426.3h6.8M124.9 426.3h6.8M131.4 426.3h6.8M144.4 426.3h6.8M150.9 426.3h6.8M268 426.3h6.8M274.5 426.3h6.8M294.1 426.3h6.8M378.7 426.3h6.8M502.3 426.3h6.8M639 426.3h6.8M658.5 426.3h6.8M261.5 448.2h6.8M274.5 448.2h6.8M476.3 448.2h6.8M502.3 448.2h6.8M85.8 470.1h6.8M118.3 470.1h6.8M131.4 470.1h6.8M157.4 470.1h6.8M248.5 470.1h6.8M463.3 470.1h6.8M521.8 470.1h6.8M124.9 492h6.8M196.4 492h6.8M248.5 492h6.8M281 492h6.8M294.1 492h6.8M411.2 492h6.8M463.3 492h6.8M508.8 492h6.8M541.4 492h6.8M573.9 492h6.8M612.9 492h6.8M307.1 513.9h6.8M365.6 513.9h6.8M463.3 513.9h6.8M489.3 513.9h6.8M502.3 513.9h6.8M508.8 513.9h6.8M521.8 513.9h6.8M98.8 535.8h6.8M176.9 535.8h6.8M189.9 535.8h6.8M242 535.8h6.8M294.1 535.8h6.8M391.7 535.8h6.8M450.2 535.8h6.8M489.3 535.8h6.8M216 557.7h6.8M222.5 557.7h6.8M235.5 557.7h6.8M281 557.7h6.8M326.6 557.7h6.8M333.1 557.7h6.8M346.1 557.7h6.8M352.6 557.7h6.8M359.1 557.7h6.8M365.6 557.7h6.8M372.2 557.7h6.8M573.9 557.7h6.8M294.1 579.6h6.8M300.6 579.6h6.8M307.1 579.6h6.8M346.1 579.6h6.8M365.6 579.6h6.8M398.2 579.6h6.8M424.2 579.6h6.8M222.5 601.5h6.8M294.1 601.5h6.8M300.6 601.5h6.8M320.1 601.5h6.8M326.6 601.5h6.8M346.1 601.5h6.8M359.1 601.5h6.8M365.6 601.5h6.8M391.7 601.5h6.8M398.2 601.5h6.8M411.2 601.5h6.8M560.9 601.5h6.8M202.9 623.4h6.8M222.5 623.4h6.8M229 623.4h6.8M235.5 623.4h6.8M313.6 623.4h6.8M320.1 623.4h6.8M326.6 623.4h6.8M333.1 623.4h6.8M339.6 623.4h6.8M372.2 623.4h6.8M385.2 623.4h6.8M391.7 623.4h6.8M404.7 623.4h6.8M567.4 623.4h6.8M580.4 623.4h6.8M586.9 623.4h6.8M606.4 623.4h6.8M652 623.4h6.8M196.4 645.3h6.8M216 645.3h6.8M287.5 645.3h6.8M307.1 645.3h6.8M333.1 645.3h6.8M404.7 645.3h6.8M626 645.3h6.8M639 645.3h6.8M92.3 667.2h6.8M235.5 667.2h6.8M261.5 667.2h6.8M287.5 667.2h6.8M294.1 667.2h6.8M300.6 667.2h6.8M320.1 667.2h6.8M326.6 667.2h6.8M391.7 667.2h6.8M424.2 667.2h6.8M515.3 667.2h6.8M554.4 667.2h6.8M652 667.2h6.8M248.5 689.1h6.8M352.6 689.1h6.8M495.8 689.1h6.8M111.8 711h6.8M150.9 711h6.8M183.4 711h6.8M196.4 711h6.8M222.5 711h6.8M339.6 711h6.8M346.1 711h6.8M391.7 711h6.8M417.7 711h6.8M463.3 711h6.8M482.8 711h6.8M515.3 711h6.8M85.8 732.9h6.8M118.3 732.9h6.8M150.9 732.9h6.8M163.9 732.9h6.8M313.6 732.9h6.8M320.1 732.9h6.8M430.7 732.9h6.8M437.2 732.9h6.8M469.8 732.9h6.8M482.8 732.9h6.8M495.8 732.9h6.8M534.8 732.9h6.8M541.4 732.9h6.8M85.8 754.8h6.8M131.4 754.8h6.8M163.9 754.8h6.8M202.9 754.8h6.8M248.5 754.8h6.8M268 754.8h6.8M313.6 754.8h6.8M333.1 754.8h6.8M372.2 754.8h6.8M404.7 754.8h6.8M463.3 754.8h6.8M476.3 754.8h6.8M482.8 754.8h6.8M534.8 754.8h6.8M541.4 754.8h6.8M352.6 776.7h6.8M372.2 776.7h6.8M476.3 798.6h6.8M482.8 798.6h6.8M489.3 798.6h6.8M495.8 798.6h6.8M502.3 798.6h6.8M515.3 798.6h6.8M502.3 820.5h6.8M443.7 842.4h6.8M541.4 842.4h6.8M450.2 864.3h6.8M495.8 864.3h6.8M229 886.2h6.8M437.2 886.2h6.8M463.3 886.2h6.8M515.3 886.2h6.8M521.8 886.2h6.8M534.8 886.2h6.8M189.9 908.1h6.8M209.5 908.1h6.8M255 908.1h6.8M469.8 908.1h6.8M476.3 908.1h6.8M528.3 908.1h6.8M541.4 908.1h6.8" stroke="#e8e3f2"/>
<path d="M216 119.7h6.8M229 119.7h6.8M235.5 119.7h6.8M242 119.7h6.8M255 119.7h6.8M268 119.7h6.8M281 119.7h6.8M307.1 119.7h6.8M378.7 119.7h6.8M242 141.6h6.8M261.5 141.6h6.8M281 141.6h6.8M307.1 141.6h6.8M365.6 141.6h6.8M417.7 141.6h6.8M202.9 163.5h6.8M209.5 163.5h6.8M216 163.5h6.8M222.5 163.5h6.8M235.5 163.5h6.8M242 163.5h6.8M255 163.5h6.8M261.5 163.5h6.8M287.5 163.5h6.8M294.1 163.5h6.8M326.6 163.5h6.8M196.4 185.4h6.8M229 185.4h6.8M242 185.4h6.8M261.5 185.4h6.8M333.1 185.4h6.8M339.6 185.4h6.8M346.1 185.4h6.8M352.6 185.4h6.8M398.2 185.4h6.8M411.2 185.4h6.8M411.2 207.3h6.8M424.2 207.3h6.8M98.8 229.2h6.8M105.3 229.2h6.8M118.3 229.2h6.8M137.9 229.2h6.8M163.9 229.2h6.8M176.9 229.2h6.8M209.5 229.2h6.8M326.6 229.2h6.8M437.2 229.2h6.8M469.8 229.2h6.8M541.4 229.2h6.8M85.8 251.1h6.8M124.9 251.1h6.8M183.4 251.1h6.8M235.5 251.1h6.8M333.1 251.1h6.8M411.2 251.1h6.8M430.7 251.1h6.8M450.2 251.1h6.8M463.3 251.1h6.8M476.3 251.1h6.8M502.3 251.1h6.8M541.4 251.1h6.8M619.4 251.1h6.8M216 273h6.8M307.1 273h6.8M320.1 273h6.8M333.1 273h6.8M339.6 273h6.8M359.1 273h6.8M417.7 273h6.8M476.3 273h6.8M495.8 273h6.8M599.9 273h6.8M632.5 273h6.8M652 273h6.8M79.3 294.9h6.8M98.8 294.9h6.8M242 294.9h6.8M404.7 294.9h6.8M502.3 294.9h6.8M547.9 294.9h6.8M118.3 316.8h6.8M209.5 316.8h6.8M339.6 316.8h6.8M365.6 316.8h6.8M372.2 316.8h6.8M469.8 316.8h6.8M495.8 316.8h6.8M92.3 338.7h6.8M131.4 338.7h6.8M150.9 338.7h6.8M183.4 338.7h6.8M202.9 338.7h6.8M216 338.7h6.8M248.5 338.7h6.8M274.5 338.7h6.8M326.6 338.7h6.8M385.2 338.7h6.8M508.8 338.7h6.8M560.9 338.7h6.8M606.4 338.7h6.8M632.5 338.7h6.8M79.3 360.6h6.8M157.4 360.6h6.8M183.4 360.6h6.8M365.6 360.6h6.8M391.7 360.6h6.8M456.8 360.6h6.8M521.8 360.6h6.8M79.3 382.5h6.8M118.3 382.5h6.8M196.4 382.5h6.8M235.5 382.5h6.8M255 382.5h6.8M411.2 382.5h6.8M424.2 382.5h6.8M430.7 382.5h6.8M456.8 382.5h6.8M463.3 382.5h6.8M476.3 382.5h6.8M515.3 382.5h6.8M521.8 382.5h6.8M606.4 382.5h6.8M652 382.5h6.8M320.1 404.4h6.8M385.2 404.4h6.8M482.8 404.4h6.8M242 426.3h6.8M313.6 426.3h6.8M352.6 426.3h6.8M365.6 426.3h6.8M385.2 426.3h6.8M404.7 426.3h6.8M437.2 426.3h6.8M482.8 426.3h6.8M573.9 426.3h6.8M626 426.3h6.8M242 448.2h6.8M268 448.2h6.8M313.6 448.2h6.8M326.6 448.2h6.8M378.7 448.2h6.8M281 470.1h6.8M294.1 470.1h6.8M404.7 470.1h6.8M411.2 470.1h6.8M450.2 470.1h6.8M515.3 470.1h6.8M98.8 492h6.8M137.9 492h6.8M144.4 492h6.8M268 492h6.8M352.6 492h6.8M495.8 492h6.8M567.4 492h6.8M593.4 492h6.8M599.9 492h6.8M281 513.9h6.8M352.6 513.9h6.8M359.1 513.9h6.8M79.3 535.8h6.8M92.3 535.8h6.8M216 535.8h6.8M482.8 535.8h6.8M495.8 535.8h6.8M515.3 535.8h6.8M521.8 535.8h6.8M528.3 535.8h6.8M196.4 557.7h6.8M229 557.7h6.8M287.5 557.7h6.8M391.7 557.7h6.8M567.4 557.7h6.8M586.9 557.7h6.8M593.4 557.7h6.8M352.6 579.6h6.8M385.2 579.6h6.8M534.8 579.6h6.8M255 601.5h6.8M339.6 601.5h6.8M417.7 601.5h6.8M567.4 601.5h6.8M216 623.4h6.8M281 623.4h6.8M346.1 623.4h6.8M599.9 623.4h6.8M632.5 623.4h6.8M645.5 623.4h6.8M658.5 623.4h6.8M209.5 645.3h6.8M222.5 645.3h6.8M255 645.3h6.8M339.6 645.3h6.8M372.2 645.3h6.8M554.4 645.3h6.8M580.4 645.3h6.8M619.4 645.3h6.8M658.5 645.3h6.8M255 667.2h6.8M313.6 667.2h6.8M339.6 667.2h6.8M463.3 667.2h6.8M573.9 667.2h6.8M586.9 667.2h6.8M528.3 689.1h6.8M85.8 711h6.8M209.5 711h6.8M268 711h6.8M307.1 711h6.8M372.2 711h6.8M404.7 711h6.8M424.2 711h6.8M476.3 711h6.8M489.3 711h6.8M131.4 732.9h6.8M443.7 732.9h6.8M508.8 732.9h6.8M450.2 754.8h6.8M469.8 754.8h6.8M508.8 754.8h6.8M443.7 776.7h6.8M430.7 798.6h6.8M450.2 798.6h6.8M456.8 798.6h6.8M469.8 798.6h6.8M437.2 842.4h6.8M456.8 842.4h6.8M469.8 842.4h6.8M476.3 842.4h6.8M482.8 842.4h6.8M502.3 842.4h6.8M521.8 842.4h6.8M534.8 842.4h6.8M430.7 864.3h6.8M463.3 864.3h6.8M489.3 864.3h6.8M502.3 864.3h6.8M528.3 864.3h6.8M541.4 864.3h6.8M287.5 886.2h6.8M443.7 886.2h6.8M456.8 886.2h6.8M469.8 886.2h6.8M482.8 886.2h6.8M528.3 886.2h6.8M541.4 886.2h6.8M430.7 908.1h6.8M450.2 908.1h6.8M456.8 908.1h6.8M482.8 908.1h6.8" stroke="#f0f0f0"/>
<path d="M202.9 119.7h6.8M248.5 119.7h6.8M287.5 119.7h6.8M294.1 119.7h6.8M300.6 119.7h6.8M313.6 119.7h6.8M320.1 119.7h6.8M326.6 119.7h6.8M339.6 119.7h6.8M346.1 119.7h6.8M359.1 119.7h6.8M385.2 119.7h6.8M391.7 119.7h6.8M404.7 119.7h6.8M216 141.6h6.8M235.5 141.6h6.8M248.5 141.6h6.8M274.5 141.6h6.8M300.6 141.6h6.8M372.2 141.6h6.8M398.2 141.6h6.8M411.2 141.6h6.8M424.2 141.6h6.8M229 163.5h6.8M248.5 163.5h6.8M274.5 163.5h6.8M300.6 163.5h6.8M365.6 163.5h6.8M378.7 163.5h6.8M398.2 163.5h6.8M404.7 163.5h6.8M411.2 163.5h6.8M300.6 185.4h6.8M365.6 185.4h6.8M372.2 185.4h6.8M424.2 185.4h6.8M313.6 207.3h6.8M320.1 207.3h6.8M326.6 207.3h6.8M339.6 207.3h6.8M346.1 207.3h6.8M365.6 207.3h6.8M385.2 207.3h6.8M404.7 207.3h6.8M85.8 229.2h6.8M111.8 229.2h6.8M144.4 229.2h6.8M157.4 229.2h6.8M222.5 229.2h6.8M261.5 229.2h6.8M430.7 229.2h6.8M489.3 229.2h6.8M534.8 229.2h6.8M105.3 251.1h6.8M131.4 251.1h6.8M137.9 251.1h6.8M170.4 251.1h6.8M176.9 251.1h6.8M261.5 251.1h6.8M268 251.1h6.8M489.3 251.1h6.8M521.8 251.1h6.8M632.5 251.1h6.8M105.3 273h6.8M196.4 273h6.8M202.9 273h6.8M248.5 273h6.8M281 273h6.8M313.6 273h6.8M378.7 273h6.8M463.3 273h6.8M508.8 273h6.8M586.9 273h6.8M137.9 294.9h6.8M170.4 294.9h6.8M209.5 294.9h6.8M216 294.9h6.8M229 294.9h6.8M261.5 294.9h6.8M294.1 294.9h6.8M456.8 294.9h6.8M541.4 294.9h6.8M554.4 294.9h6.8M567.4 294.9h6.8M573.9 294.9h6.8M92.3 316.8h6.8M131.4 316.8h6.8M137.9 316.8h6.8M157.4 316.8h6.8M333.1 316.8h6.8M398.2 316.8h6.8M404.7 316.8h6.8M85.8 338.7h6.8M118.3 338.7h6.8M124.9 338.7h6.8M137.9 338.7h6.8M170.4 338.7h6.8M268 338.7h6.8M294.1 338.7h6.8M339.6 338.7h6.8M346.1 338.7h6.8M131.4 360.6h6.8M137.9 360.6h6.8M150.9 360.6h6.8M176.9 360.6h6.8M469.8 360.6h6.8M482.8 360.6h6.8M502.3 360.6h6.8M105.3 382.5h6.8M111.8 382.5h6.8M144.4 382.5h6.8M209.5 382.5h6.8M118.3 404.4h6.8M137.9 404.4h6.8M150.9 404.4h6.8M268 404.4h6.8M313.6 404.4h6.8M326.6 404.4h6.8M378.7 404.4h6.8M398.2 404.4h6.8M424.2 404.4h6.8M469.8 404.4h6.8M476.3 404.4h6.8M98.8 426.3h6.8M118.3 426.3h6.8M255 426.3h6.8M398.2 426.3h6.8M196.4 448.2h6.8M202.9 448.2h6.8M209.5 448.2h6.8M222.5 448.2h6.8M229 448.2h6.8M287.5 448.2h6.8M339.6 448.2h6.8M391.7 448.2h6.8M404.7 448.2h6.8M463.3 448.2h6.8M495.8 448.2h6.8M124.9 470.1h6.8M163.9 470.1h6.8M170.4 470.1h6.8M216 470.1h6.8M222.5 470.1h6.8M242 470.1h6.8M268 470.1h6.8M274.5 470.1h6.8M287.5 470.1h6.8M372.2 470.1h6.8M502.3 470.1h6.8M528.3 470.1h6.8M118.3 492h6.8M216 492h6.8M222.5 492h6.8M242 492h6.8M307.1 492h6.8M528.3 492h6.8M560.9 492h6.8M632.5 492h6.8M85.8 513.9h6.8M92.3 513.9h6.8M144.4 513.9h6.8M196.4 513.9h6.8M202.9 513.9h6.8M209.5 513.9h6.8M216 513.9h6.8M229 513.9h6.8M261.5 513.9h6.8M294.1 513.9h6.8M398.2 513.9h6.8M469.8 513.9h6.8M85.8 535.8h6.8M196.4 535.8h6.8M209.5 535.8h6.8M229 535.8h6.8M235.5 535.8h6.8M274.5 535.8h6.8M365.6 535.8h6.8M437.2 535.8h6.8M456.8 535.8h6.8M541.4 535.8h6.8M274.5 557.7h6.8M599.9 557.7h6.8M658.5 557.7h6.8M313.6 579.6h6.8M391.7 579.6h6.8M404.7 579.6h6.8M560.9 579.6h6.8M573.9 579.6h6.8M593.4 579.6h6.8M612.9 579.6h6.8M378.7 601.5h6.8M554.4 601.5h6.8M586.9 601.5h6.8M612.9 601.5h6.8M424.2 623.4h6.8M554.4 623.4h6.8M202.9 645.3h6.8M242 645.3h6.8M281 645.3h6.8M430.7 645.3h6.8M443.7 645.3h6.8M645.5 645.3h6.8M365.6 667.2h6.8M560.9 667.2h6.8M593.4 667.2h6.8M606.4 667.2h6.8M658.5 667.2h6.8M450.2 689.1h6.8M456.8 689.1h6.8M469.8 689.1h6.8M502.3 689.1h6.8M586.9 689.1h6.8M189.9 711h6.8M450.2 732.9h6.8M528.3 732.9h6.8M580.4 754.8h6.8M437.2 776.7h6.8M450.2 776.7h6.8M482.8 776.7h6.8M508.8 776.7h6.8M534.8 776.7h6.8M541.4 776.7h6.8M443.7 798.6h6.8M463.3 798.6h6.8M541.4 798.6h6.8M450.2 842.4h6.8M489.3 842.4h6.8M508.8 842.4h6.8M528.3 842.4h6.8M476.3 864.3h6.8M482.8 864.3h6.8M476.3 886.2h6.8M495.8 886.2h6.8M508.8 886.2h6.8M495.8 908.1h6.8M502.3 908.1h6.8" stroke="#f6e5e0"/>
<path d="M209.5 119.7h6.8M261.5 119.7h6.8M333.1 119.7h6.8M352.6 119.7h6.8M372.2 119.7h6.8M398.2 119.7h6.8M411.2 119.7h6.8M417.7 119.7h6.8M209.5 141.6h6.8M222.5 141.6h6.8M294.1 141.6h6.8M313.6 141.6h6.8M320.1 141.6h6.8M352.6 141.6h6.8M359.1 141.6h6.8M385.2 141.6h6.8M281 163.5h6.8M313.6 163.5h6.8M346.1 163.5h6.8M359.1 163.5h6.8M391.7 163.5h6.8M417.7 163.5h6.8M209.5 185.4h6.8M216 185.4h6.8M222.5 185.4h6.8M235.5 185.4h6.8M255 185.4h6.8M391.7 207.3h6.8M417.7 207.3h6.8M79.3 229.2h6.8M170.4 229.2h6.8M248.5 229.2h6.8M268 229.2h6.8M424.2 229.2h6.8M92.3 251.1h6.8M216 251.1h6.8M456.8 251.1h6.8M92.3 273h6.8M124.9 273h6.8M137.9 273h6.8M209.5 273h6.8M222.5 273h6.8M437.2 273h6.8M482.8 273h6.8M528.3 273h6.8M658.5 273h6.8M85.8 294.9h6.8M131.4 294.9h6.8M150.9 294.9h6.8M222.5 294.9h6.8M268 294.9h6.8M443.7 294.9h6.8M508.8 294.9h6.8M79.3 316.8h6.8M235.5 316.8h6.8M144.4 338.7h6.8M242 338.7h6.8M255 338.7h6.8M300.6 338.7h6.8M378.7 338.7h6.8M469.8 338.7h6.8M619.4 338.7h6.8M645.5 338.7h6.8M85.8 360.6h6.8M124.9 360.6h6.8M144.4 360.6h6.8M541.4 360.6h6.8M150.9 382.5h6.8M176.9 382.5h6.8M489.3 382.5h6.8M619.4 382.5h6.8M144.4 404.4h6.8M189.9 404.4h6.8M196.4 404.4h6.8M216 404.4h6.8M235.5 404.4h6.8M261.5 404.4h6.8M359.1 404.4h6.8M404.7 404.4h6.8M430.7 404.4h6.8M437.2 404.4h6.8M92.3 426.3h6.8M137.9 426.3h6.8M411.2 426.3h6.8M476.3 426.3h6.8M554.4 426.3h6.8M79.3 448.2h6.8M137.9 448.2h6.8M248.5 448.2h6.8M300.6 448.2h6.8M320.1 448.2h6.8M528.3 448.2h6.8M137.9 470.1h6.8M202.9 470.1h6.8M261.5 470.1h6.8M307.1 470.1h6.8M346.1 470.1h6.8M365.6 470.1h6.8M476.3 470.1h6.8M346.1 492h6.8M469.8 492h6.8M222.5 513.9h6.8M255 513.9h6.8M274.5 513.9h6.8M378.7 513.9h6.8M391.7 513.9h6.8M417.7 513.9h6.8M111.8 535.8h6.8M222.5 535.8h6.8M261.5 535.8h6.8M281 535.8h6.8M287.5 535.8h6.8M313.6 535.8h6.8M352.6 535.8h6.8M372.2 535.8h6.8M430.7 535.8h6.8M469.8 535.8h6.8M534.8 535.8h6.8M547.9 557.7h6.8M560.9 557.7h6.8M606.4 557.7h6.8M619.4 557.7h6.8M626 557.7h6.8M652 557.7h6.8M489.3 623.4h6.8M593.4 623.4h6.8M639 623.4h6.8M437.2 645.3h6.8M469.8 645.3h6.8M508.8 645.3h6.8M307.1 667.2h6.8M359.1 667.2h6.8M430.7 667.2h6.8M502.3 667.2h6.8M612.9 667.2h6.8M482.8 689.1h6.8M489.3 689.1h6.8M534.8 689.1h6.8M430.7 776.7h6.8M456.8 776.7h6.8M489.3 776.7h6.8M502.3 776.7h6.8M639 776.7h6.8M528.3 798.6h6.8M534.8 798.6h6.8M430.7 842.4h6.8M463.3 842.4h6.8M495.8 842.4h6.8M515.3 842.4h6.8M443.7 864.3h6.8M508.8 864.3h6.8M489.3 886.2h6.8M502.3 886.2h6.8M489.3 908.1h6.8" stroke="#fbdad0"/>
<path d="M365.6 119.7h6.8M255 141.6h6.8M268 141.6h6.8M326.6 141.6h6.8M339.6 141.6h6.8M346.1 141.6h6.8M378.7 141.6h6.8M391.7 141.6h6.8M157.4 163.5h6.8M352.6 163.5h6.8M372.2 163.5h6.8M385.2 163.5h6.8M424.2 163.5h6.8M268 185.4h6.8M294.1 185.4h6.8M359.1 207.3h6.8M378.7 207.3h6.8M398.2 207.3h6.8M150.9 251.1h6.8M229 251.1h6.8M242 251.1h6.8M98.8 273h6.8M229 273h6.8M235.5 273h6.8M242 273h6.8M92.3 294.9h6.8M144.4 294.9h6.8M176.9 294.9h6.8M196.4 294.9h6.8M248.5 294.9h6.8M430.7 294.9h6.8M658.5 294.9h6.8M124.9 316.8h6.8M150.9 316.8h6.8M248.5 316.8h6.8M352.6 316.8h6.8M424.2 316.8h6.8M157.4 338.7h6.8M209.5 338.7h6.8M222.5 338.7h6.8M235.5 338.7h6.8M261.5 338.7h6.8M307.1 338.7h6.8M118.3 360.6h6.8M430.7 360.6h6.8M450.2 360.6h6.8M463.3 360.6h6.8M229 382.5h6.8M294.1 382.5h6.8M307.1 382.5h6.8M274.5 404.4h6.8M287.5 404.4h6.8M170.4 426.3h6.8M216 426.3h6.8M281 426.3h6.8M320.1 426.3h6.8M443.7 426.3h6.8M508.8 426.3h6.8M515.3 426.3h6.8M528.3 426.3h6.8M92.3 448.2h6.8M98.8 448.2h6.8M111.8 448.2h6.8M163.9 448.2h6.8M359.1 448.2h6.8M365.6 448.2h6.8M398.2 448.2h6.8M411.2 448.2h6.8M196.4 470.1h6.8M255 470.1h6.8M300.6 470.1h6.8M359.1 470.1h6.8M391.7 470.1h6.8M508.8 470.1h6.8M170.4 492h6.8M202.9 492h6.8M437.2 492h6.8M606.4 492h6.8M626 492h6.8M639 492h6.8M118.3 513.9h6.8M163.9 513.9h6.8M176.9 513.9h6.8M248.5 513.9h6.8M268 513.9h6.8M313.6 513.9h6.8M320.1 513.9h6.8M326.6 513.9h6.8M339.6 513.9h6.8M385.2 513.9h6.8M144.4 535.8h6.8M150.9 535.8h6.8M157.4 535.8h6.8M170.4 535.8h6.8M248.5 535.8h6.8M424.2 535.8h6.8M443.7 535.8h6.8M580.4 557.7h6.8M333.1 579.6h6.8M372.2 579.6h6.8M606.4 579.6h6.8M639 579.6h6.8M645.5 579.6h6.8M573.9 601.5h6.8M580.4 601.5h6.8M606.4 601.5h6.8M619.4 601.5h6.8M652 601.5h6.8M658.5 601.5h6.8M495.8 623.4h6.8M547.9 623.4h6.8M619.4 623.4h6.8M268 645.3h6.8M411.2 645.3h6.8M424.2 645.3h6.8M573.9 645.3h6.8M593.4 645.3h6.8M606.4 645.3h6.8M612.9 645.3h6.8M430.7 689.1h6.8M463.3 689.1h6.8M541.4 689.1h6.8M645.5 689.1h6.8M463.3 776.7h6.8M469.8 776.7h6.8M476.3 776.7h6.8M521.8 776.7h6.8M554.4 776.7h6.8M547.9 842.4h6.8M450.2 886.2h6.8M463.3 908.1h6.8M554.4 908.1h6.8" stroke="#ffcfc0"/>
<path d="M79.3 119.7h6.8M118.3 119.7h6.8M189.9 141.6h6.8M320.1 163.5h6.8M333.1 163.5h6.8M339.6 163.5h6.8M79.3 251.1h6.8M111.8 251.1h6.8M196.4 251.1h6.8M255 251.1h6.8M294.1 251.1h6.8M300.6 251.1h6.8M118.3 273h6.8M170.4 273h6.8M189.9 273h6.8M268 273h6.8M443.7 273h6.8M163.9 316.8h6.8M183.4 316.8h6.8M229 316.8h6.8M268 316.8h6.8M189.9 338.7h6.8M437.2 338.7h6.8M612.9 338.7h6.8M652 338.7h6.8M209.5 360.6h6.8M216 360.6h6.8M255 360.6h6.8M261.5 360.6h6.8M437.2 360.6h6.8M443.7 360.6h6.8M508.8 360.6h6.8M98.8 382.5h6.8M163.9 382.5h6.8M248.5 382.5h6.8M300.6 382.5h6.8M85.8 404.4h6.8M124.9 404.4h6.8M131.4 404.4h6.8M222.5 404.4h6.8M248.5 404.4h6.8M281 404.4h6.8M222.5 426.3h6.8M287.5 426.3h6.8M430.7 426.3h6.8M469.8 426.3h6.8M534.8 426.3h6.8M176.9 448.2h6.8M216 448.2h6.8M235.5 448.2h6.8M307.1 448.2h6.8M346.1 448.2h6.8M385.2 448.2h6.8M339.6 470.1h6.8M424.2 470.1h6.8M437.2 470.1h6.8M495.8 470.1h6.8M541.4 470.1h6.8M229 492h6.8M404.7 492h6.8M424.2 492h6.8M443.7 492h6.8M456.8 492h6.8M547.9 492h6.8M98.8 513.9h6.8M242 513.9h6.8M287.5 513.9h6.8M346.1 513.9h6.8M118.3 535.8h6.8M300.6 535.8h6.8M307.1 535.8h6.8M411.2 535.8h6.8M508.8 535.8h6.8M495.8 557.7h6.8M639 557.7h6.8M469.8 579.6h6.8M528.3 579.6h6.8M541.4 579.6h6.8M567.4 579.6h6.8M580.4 579.6h6.8M599.9 579.6h6.8M619.4 579.6h6.8M626 579.6h6.8M632.5 579.6h6.8M652 579.6h6.8M658.5 579.6h6.8M463.3 601.5h6.8M489.3 601.5h6.8M593.4 601.5h6.8M626 601.5h6.8M639 601.5h6.8M645.5 601.5h6.8M294.1 645.3h6.8M586.9 645.3h6.8M632.5 645.3h6.8M652 645.3h6.8M580.4 667.2h6.8M599.9 667.2h6.8M626 667.2h6.8M632.5 667.2h6.8M437.2 689.1h6.8M476.3 689.1h6.8M521.8 689.1h6.8M554.4 711h6.8M606.4 754.8h6.8M645.5 754.8h6.8M495.8 776.7h6.8M515.3 776.7h6.8M508.8 798.6h6.8M573.9 842.4h6.8M437.2 864.3h6.8M534.8 864.3h6.8M632.5 864.3h6.8M639 864.3h6.8M521.8 908.1h6.8" stroke="#ffc3b1"/>
<path d="M98.8 119.7h6.8M92.3 163.5h6.8M176.9 163.5h6.8M98.8 207.3h6.8M157.4 207.3h6.8M124.9 229.2h6.8M216 229.2h6.8M242 229.2h6.8M300.6 229.2h6.8M98.8 251.1h6.8M118.3 251.1h6.8M144.4 251.1h6.8M209.5 251.1h6.8M222.5 251.1h6.8M248.5 251.1h6.8M261.5 273h6.8M300.6 273h6.8M450.2 294.9h6.8M534.8 294.9h6.8M85.8 316.8h6.8M176.9 316.8h6.8M196.4 316.8h6.8M300.6 316.8h6.8M307.1 316.8h6.8M313.6 316.8h6.8M430.7 338.7h6.8M196.4 360.6h6.8M229 360.6h6.8M235.5 360.6h6.8M268 360.6h6.8M307.1 360.6h6.8M528.3 360.6h6.8M534.8 360.6h6.8M124.9 382.5h6.8M131.4 382.5h6.8M189.9 382.5h6.8M79.3 404.4h6.8M163.9 404.4h6.8M170.4 404.4h6.8M202.9 404.4h6.8M242 404.4h6.8M307.1 404.4h6.8M417.7 404.4h6.8M85.8 426.3h6.8M176.9 426.3h6.8M209.5 426.3h6.8M235.5 426.3h6.8M307.1 426.3h6.8M339.6 426.3h6.8M450.2 426.3h6.8M85.8 448.2h6.8M124.9 448.2h6.8M183.4 448.2h6.8M189.9 448.2h6.8M352.6 448.2h6.8M424.2 448.2h6.8M313.6 470.1h6.8M352.6 470.1h6.8M430.7 470.1h6.8M456.8 470.1h6.8M534.8 470.1h6.8M131.4 492h6.8M163.9 492h6.8M176.9 492h6.8M274.5 492h6.8M300.6 492h6.8M385.2 492h6.8M105.3 513.9h6.8M111.8 513.9h6.8M137.9 513.9h6.8M150.9 513.9h6.8M170.4 513.9h6.8M300.6 513.9h6.8M105.3 535.8h6.8M163.9 535.8h6.8M268 535.8h6.8M346.1 535.8h6.8M359.1 535.8h6.8M541.4 557.7h6.8M554.4 557.7h6.8M495.8 579.6h6.8M554.4 579.6h6.8M586.9 579.6h6.8M495.8 601.5h6.8M521.8 601.5h6.8M599.9 601.5h6.8M632.5 601.5h6.8M456.8 623.4h6.8M515.3 623.4h6.8M495.8 645.3h6.8M560.9 645.3h6.8M599.9 645.3h6.8M378.7 667.2h6.8M417.7 667.2h6.8M450.2 667.2h6.8M456.8 667.2h6.8M508.8 667.2h6.8M443.7 689.1h6.8M508.8 689.1h6.8M658.5 689.1h6.8M612.9 754.8h6.8M547.9 776.7h6.8M573.9 776.7h6.8M619.4 820.5h6.8M567.4 864.3h6.8M612.9 886.2h6.8M658.5 886.2h6.8M515.3 908.1h6.8" stroke="#ffb8a2"/>
<path d="M85.8 119.7h6.8M170.4 119.7h6.8M176.9 119.7h6.8M170.4 141.6h6.8M176.9 141.6h6.8M85.8 163.5h6.8M98.8 163.5h6.8M131.4 163.5h6.8M144.4 163.5h6.8M189.9 163.5h6.8M131.4 185.4h6.8M150.9 185.4h6.8M118.3 207.3h6.8M137.9 207.3h6.8M144.4 207.3h6.8M131.4 229.2h6.8M235.5 229.2h6.8M255 229.2h6.8M508.8 229.2h6.8M287.5 251.1h6.8M131.4 273h6.8M534.8 273h6.8M111.8 294.9h6.8M274.5 294.9h6.8M98.8 316.8h6.8M189.9 316.8h6.8M242 316.8h6.8M202.9 360.6h6.8M294.1 360.6h6.8M300.6 360.6h6.8M183.4 382.5h6.8M300.6 404.4h6.8M443.7 404.4h6.8M248.5 426.3h6.8M333.1 426.3h6.8M372.2 426.3h6.8M118.3 448.2h6.8M131.4 448.2h6.8M144.4 448.2h6.8M157.4 448.2h6.8M255 448.2h6.8M372.2 448.2h6.8M417.7 448.2h6.8M209.5 470.1h6.8M235.5 470.1h6.8M320.1 470.1h6.8M326.6 470.1h6.8M378.7 470.1h6.8M443.7 470.1h6.8M469.8 470.1h6.8M111.8 492h6.8M79.3 513.9h6.8M124.9 513.9h6.8M157.4 513.9h6.8M333.1 513.9h6.8M131.4 535.8h6.8M333.1 535.8h6.8M385.2 535.8h6.8M456.8 557.7h6.8M502.3 557.7h6.8M521.8 557.7h6.8M430.7 601.5h6.8M450.2 601.5h6.8M469.8 601.5h6.8M482.8 601.5h6.8M508.8 601.5h6.8M528.3 601.5h6.8M463.3 623.4h6.8M528.3 623.4h6.8M450.2 645.3h6.8M534.8 667.2h6.8M580.4 689.1h6.8M547.9 711h6.8M639 711h6.8M639 732.9h6.8M586.9 754.8h6.8M567.4 776.7h6.8M593.4 776.7h6.8M599.9 776.7h6.8M599.9 820.5h6.8M554.4 842.4h6.8M593.4 842.4h6.8M632.5 842.4h6.8M599.9 886.2h6.8M619.4 886.2h6.8M567.4 908.1h6.8M658.5 908.1h6.8" stroke="#ffac92"/>
<path d="M137.9 119.7h6.8M111.8 141.6h6.8M124.9 141.6h6.8M157.4 141.6h6.8M183.4 141.6h6.8M111.8 163.5h6.8M118.3 163.5h6.8M124.9 163.5h6.8M170.4 163.5h6.8M183.4 163.5h6.8M92.3 185.4h6.8M163.9 185.4h6.8M170.4 185.4h6.8M150.9 207.3h6.8M163.9 207.3h6.8M294.1 229.2h6.8M144.4 273h6.8M118.3 294.9h6.8M307.1 294.9h6.8M222.5 316.8h6.8M255 316.8h6.8M281 360.6h6.8M222.5 382.5h6.8M242 382.5h6.8M268 382.5h6.8M274.5 382.5h6.8M229 426.3h6.8M346.1 426.3h6.8M424.2 426.3h6.8M150.9 448.2h6.8M333.1 448.2h6.8M385.2 470.1h6.8M339.6 492h6.8M235.5 513.9h6.8M372.2 513.9h6.8M411.2 513.9h6.8M424.2 513.9h6.8M124.9 535.8h6.8M378.7 535.8h6.8M437.2 557.7h6.8M463.3 557.7h6.8M482.8 557.7h6.8M489.3 557.7h6.8M528.3 557.7h6.8M450.2 579.6h6.8M463.3 579.6h6.8M508.8 579.6h6.8M476.3 601.5h6.8M450.2 623.4h6.8M534.8 623.4h6.8M489.3 667.2h6.8M619.4 667.2h6.8M645.5 667.2h6.8M560.9 689.1h6.8M626 689.1h6.8M632.5 689.1h6.8M652 689.1h6.8M547.9 732.9h6.8M547.9 754.8h6.8M560.9 754.8h6.8M658.5 754.8h6.8M580.4 776.7h6.8M547.9 798.6h6.8M554.4 798.6h6.8M599.9 798.6h6.8M658.5 820.5h6.8M560.9 842.4h6.8M619.4 842.4h6.8M573.9 864.3h6.8M593.4 908.1h6.8M639 908.1h6.8" stroke="#ffa183"/>
<path d="M131.4 119.7h6.8M144.4 119.7h6.8M92.3 141.6h6.8M137.9 141.6h6.8M79.3 163.5h6.8M105.3 163.5h6.8M137.9 163.5h6.8M150.9 163.5h6.8M79.3 185.4h6.8M85.8 185.4h6.8M98.8 185.4h6.8M118.3 185.4h6.8M124.9 185.4h6.8M144.4 185.4h6.8M176.9 185.4h6.8M85.8 207.3h6.8M92.3 207.3h6.8M183.4 207.3h6.8M189.9 207.3h6.8M196.4 229.2h6.8M307.1 251.1h6.8M111.8 273h6.8M255 273h6.8M281 294.9h6.8M144.4 316.8h6.8M222.5 360.6h6.8M248.5 360.6h6.8M287.5 360.6h6.8M261.5 382.5h6.8M170.4 448.2h6.8M398.2 470.1h6.8M554.4 492h6.8M183.4 513.9h6.8M189.9 513.9h6.8M404.7 513.9h6.8M255 535.8h6.8M417.7 535.8h6.8M476.3 557.7h6.8M515.3 557.7h6.8M482.8 579.6h6.8M437.2 601.5h6.8M443.7 623.4h6.8M476.3 623.4h6.8M502.3 623.4h6.8M528.3 645.3h6.8M495.8 667.2h6.8M541.4 667.2h6.8M599.9 689.1h6.8M606.4 689.1h6.8M619.4 689.1h6.8M586.9 711h6.8M606.4 711h6.8M632.5 711h6.8M567.4 732.9h6.8M567.4 754.8h6.8M619.4 754.8h6.8M626 754.8h6.8M652 754.8h6.8M619.4 798.6h6.8M645.5 798.6h6.8M632.5 820.5h6.8M652 820.5h6.8M567.4 842.4h6.8M586.9 842.4h6.8M599.9 842.4h6.8M639 842.4h6.8M593.4 864.3h6.8M606.4 864.3h6.8M547.9 886.2h6.8M586.9 886.2h6.8M639 886.2h6.8M652 886.2h6.8M547.9 908.1h6.8" stroke="#ff9574"/>
<path d="M105.3 119.7h6.8M150.9 119.7h6.8M163.9 119.7h6.8M79.3 141.6h6.8M85.8 141.6h6.8M105.3 141.6h6.8M144.4 141.6h6.8M150.9 141.6h6.8M163.9 163.5h6.8M111.8 185.4h6.8M137.9 185.4h6.8M157.4 185.4h6.8M105.3 207.3h6.8M124.9 207.3h6.8M189.9 251.1h6.8M242 360.6h6.8M274.5 360.6h6.8M255 404.4h6.8M105.3 448.2h6.8M417.7 470.1h6.8M372.2 492h6.8M404.7 535.8h6.8M450.2 557.7h6.8M469.8 557.7h6.8M437.2 579.6h6.8M502.3 601.5h6.8M515.3 601.5h6.8M508.8 623.4h6.8M521.8 623.4h6.8M456.8 645.3h6.8M521.8 645.3h6.8M541.4 645.3h6.8M437.2 667.2h6.8M567.4 689.1h6.8M573.9 689.1h6.8M593.4 711h6.8M626 711h6.8M658.5 711h6.8M593.4 732.9h6.8M599.9 732.9h6.8M606.4 732.9h6.8M632.5 732.9h6.8M645.5 732.9h6.8M652 732.9h6.8M573.9 754.8h6.8M599.9 754.8h6.8M632.5 776.7h6.8M658.5 776.7h6.8M573.9 798.6h6.8M586.9 798.6h6.8M652 798.6h6.8M567.4 820.5h6.8M586.9 820.5h6.8M606.4 820.5h6.8M612.9 820.5h6.8M626 820.5h6.8M606.4 842.4h6.8M612.9 842.4h6.8M626 842.4h6.8M652 864.3h6.8M554.4 886.2h6.8M560.9 886.2h6.8M567.4 886.2h6.8M593.4 886.2h6.8M606.4 886.2h6.8M626 886.2h6.8M645.5 886.2h6.8M560.9 908.1h6.8M632.5 908.1h6.8M645.5 908.1h6.8" stroke="#ff8866"/>
<path d="M92.3 119.7h6.8M111.8 119.7h6.8M157.4 119.7h6.8M189.9 119.7h6.8M98.8 141.6h6.8M163.9 141.6h6.8M105.3 185.4h6.8M183.4 185.4h6.8M111.8 207.3h6.8M170.4 207.3h6.8M176.9 207.3h6.8M176.9 273h6.8M183.4 273h6.8M105.3 316.8h6.8M274.5 316.8h6.8M281 316.8h6.8M287.5 316.8h6.8M137.9 382.5h6.8M157.4 382.5h6.8M170.4 382.5h6.8M176.9 404.4h6.8M183.4 404.4h6.8M313.6 492h6.8M333.1 492h6.8M365.6 492h6.8M417.7 492h6.8M131.4 513.9h6.8M326.6 535.8h6.8M339.6 535.8h6.8M443.7 557.7h6.8M476.3 579.6h6.8M541.4 601.5h6.8M593.4 689.1h6.8M573.9 711h6.8M612.9 711h6.8M626 732.9h6.8M632.5 754.8h6.8M560.9 776.7h6.8M560.9 798.6h6.8M567.4 798.6h6.8M626 798.6h6.8M658.5 798.6h6.8M645.5 820.5h6.8M658.5 842.4h6.8M586.9 864.3h6.8M599.9 864.3h6.8M619.4 864.3h6.8M626 864.3h6.8M612.9 908.1h6.8M619.4 908.1h6.8" stroke="#ff7c57"/>
<path d="M124.9 119.7h6.8M131.4 141.6h6.8M189.9 185.4h6.8M79.3 207.3h6.8M131.4 207.3h6.8M320.1 535.8h6.8M398.2 535.8h6.8M508.8 557.7h6.8M534.8 557.7h6.8M502.3 579.6h6.8M515.3 579.6h6.8M521.8 579.6h6.8M534.8 601.5h6.8M502.3 645.3h6.8M443.7 667.2h6.8M547.9 689.1h6.8M580.4 732.9h6.8M619.4 732.9h6.8M658.5 732.9h6.8M626 776.7h6.8M652 776.7h6.8M606.4 798.6h6.8M554.4 820.5h6.8M573.9 820.5h6.8M645.5 842.4h6.8M580.4 864.3h6.8M612.9 864.3h6.8M573.9 886.2h6.8M632.5 886.2h6.8M586.9 908.1h6.8M599.9 908.1h6.8M606.4 908.1h6.8M652 908.1h6.8" stroke="#ff6f48"/>
<path d="M183.4 119.7h6.8M157.4 251.1h6.8M437.2 623.4h6.8M560.9 711h6.8M580.4 711h6.8M652 711h6.8M639 754.8h6.8M606.4 776.7h6.8M612.9 776.7h6.8M645.5 776.7h6.8M580.4 798.6h6.8M612.9 798.6h6.8M593.4 820.5h6.8M652 842.4h6.8M645.5 864.3h6.8M580.4 908.1h6.8M626 908.1h6.8" stroke="#ff6039"/>
<path d="M489.3 579.6h6.8M443.7 601.5h6.8M469.8 623.4h6.8M541.4 623.4h6.8M476.3 645.3h6.8M515.3 645.3h6.8M586.9 732.9h6.8M547.9 820.5h6.8" stroke="#ff512a"/>
<path d="M118.3 141.6h6.8M274.5 251.1h6.8M281 251.1h6.8M202.9 316.8h6.8M287.5 382.5h6.8M430.7 579.6h6.8M443.7 579.6h6.8M456.8 579.6h6.8M482.8 645.3h6.8M489.3 645.3h6.8M534.8 645.3h6.8M567.4 711h6.8M599.9 711h6.8M619.4 711h6.8M645.5 711h6.8M586.9 776.7h6.8M619.4 776.7h6.8M632.5 798.6h6.8M580.4 842.4h6.8M658.5 864.3h6.8M573.9 908.1h6.8" stroke="#ff3e18"/>
<path d="M202.9 229.2h6.8M229 229.2h6.8M274.5 229.2h6.8M281 229.2h6.8M287.5 229.2h6.8M202.9 294.9h6.8M287.5 294.9h6.8M489.3 294.9h6.8M515.3 294.9h6.8M632.5 294.9h6.8M202.9 426.3h6.8M430.7 557.7h6.8M430.7 623.4h6.8M482.8 623.4h6.8M554.4 689.1h6.8M612.9 689.1h6.8M639 689.1h6.8M554.4 754.8h6.8M593.4 754.8h6.8M560.9 820.5h6.8M580.4 820.5h6.8M639 820.5h6.8M580.4 886.2h6.8" stroke="#ff2600"/>
<path d="M463.3 645.3h6.8" stroke="#ff2600"/>
<path d="M274.5 273h6.8M294.1 273h6.8M229 338.7h6.8M281 338.7h6.8M515.3 338.7h6.8M580.4 338.7h6.8M626 338.7h6.8M658.5 338.7h6.8M294.1 404.4h6.8M456.8 601.5h6.8M469.8 667.2h6.8M482.8 667.2h6.8M521.8 667.2h6.8M528.3 667.2h6.8M554.4 732.9h6.8M560.9 732.9h6.8M573.9 732.9h6.8M612.9 732.9h6.8M593.4 798.6h6.8M639 798.6h6.8M547.9 864.3h6.8M554.4 864.3h6.8M560.9 864.3h6.8" stroke="#ff2600"/>
</g>
<path d="M85.4 100.9L190.5 100.9" stroke="#333" stroke-width="1.3"/>
<path d="M202.8 100.9L307.8 100.9" stroke="#333" stroke-width="1.3"/>
<path d="M320.1 100.9L425.6 100.9" stroke="#333" stroke-width="1.3"/>
<path d="M437.9 100.9L543 100.9" stroke="#333" stroke-width="1.3"/>
<path d="M555.2 100.9L660.7 100.9" stroke="#333" stroke-width="1.3"/>
<text x="108.2" y="31.6" font-size="24" textLength="59.4" lengthAdjust="spacingAndGlyphs">Early-</text>
<text x="85.4" y="59" font-size="24" textLength="98.4" lengthAdjust="spacingAndGlyphs">activated</text>
<text x="120.2" y="86.1" font-size="24" textLength="34.4" lengthAdjust="spacingAndGlyphs">CM</text>
<text x="204.9" y="45" font-size="24" textLength="100.8" lengthAdjust="spacingAndGlyphs">Activated</text>
<text x="228.4" y="72" font-size="24" textLength="53.8" lengthAdjust="spacingAndGlyphs">CM_1</text>
<text x="319.8" y="45" font-size="24" textLength="100.8" lengthAdjust="spacingAndGlyphs">Activated</text>
<text x="344.4" y="72" font-size="24" textLength="56.2" lengthAdjust="spacingAndGlyphs">CM_2</text>
<text x="445.6" y="31.6" font-size="24" textLength="90.3" lengthAdjust="spacingAndGlyphs">Antigen-</text>
<text x="433.3" y="59" font-size="24" textLength="114.2" lengthAdjust="spacingAndGlyphs">presenting</text>
<text x="478.6" y="86.1" font-size="24" textLength="23.2" lengthAdjust="spacingAndGlyphs">IM</text>
<text x="588.6" y="31.6" font-size="24" textLength="38.7" lengthAdjust="spacingAndGlyphs">M2-</text>
<text x="567.5" y="59" font-size="24" textLength="80.9" lengthAdjust="spacingAndGlyphs">skewed</text>
<text x="582.3" y="86.1" font-size="24" textLength="51.3" lengthAdjust="spacingAndGlyphs">NCM</text>
<text x="674.8" y="132.7" font-size="19.6" font-style="italic" textLength="73.9" lengthAdjust="spacingAndGlyphs">S100A12</text>
<text x="674.8" y="154.6" font-size="19.6" font-style="italic" textLength="67.3" lengthAdjust="spacingAndGlyphs">S100A8</text>
<text x="674.8" y="176.4" font-size="19.6" font-style="italic" textLength="67.7" lengthAdjust="spacingAndGlyphs">S100A9</text>
<text x="674.8" y="198.3" font-size="19.6" font-style="italic" textLength="43.7" lengthAdjust="spacingAndGlyphs">RBP7</text>
<text x="674.8" y="220.1" font-size="19.6" font-style="italic" textLength="52" lengthAdjust="spacingAndGlyphs">PLBD1</text>
<text x="674.8" y="242" font-size="19.6" font-style="italic" textLength="32.6" lengthAdjust="spacingAndGlyphs">IL1B</text>
<text x="674.8" y="263.9" font-size="19.6" font-style="italic" textLength="47.6" lengthAdjust="spacingAndGlyphs">FOSB</text>
<text x="674.8" y="285.7" font-size="19.6" font-style="italic" textLength="62.4" lengthAdjust="spacingAndGlyphs">IFNGR1</text>
<text x="674.8" y="307.6" font-size="19.6" font-style="italic" textLength="43.2" lengthAdjust="spacingAndGlyphs">EGR1</text>
<text x="674.8" y="329.4" font-size="19.6" font-style="italic" textLength="73.4" lengthAdjust="spacingAndGlyphs">TNFAIP3</text>
<text x="674.8" y="351.3" font-size="19.6" font-style="italic" textLength="33.1" lengthAdjust="spacingAndGlyphs">JUN</text>
<text x="674.8" y="373.2" font-size="19.6" font-style="italic" textLength="52.5" lengthAdjust="spacingAndGlyphs">RGCC</text>
<text x="674.8" y="395" font-size="19.6" font-style="italic" textLength="36.6" lengthAdjust="spacingAndGlyphs">IER2</text>
<text x="674.8" y="416.9" font-size="19.6" font-style="italic" textLength="37.5" lengthAdjust="spacingAndGlyphs">IER3</text>
<text x="674.8" y="438.7" font-size="19.6" font-style="italic" textLength="33.7" lengthAdjust="spacingAndGlyphs">IRF1</text>
<text x="674.8" y="460.6" font-size="19.6" font-style="italic" textLength="31.1" lengthAdjust="spacingAndGlyphs">LYZ</text>
<text x="674.8" y="482.5" font-size="19.6" font-style="italic" textLength="67.7" lengthAdjust="spacingAndGlyphs">LGALS2</text>
<text x="674.8" y="504.3" font-size="19.6" font-style="italic" textLength="30.9" lengthAdjust="spacingAndGlyphs">IFI6</text>
<text x="674.8" y="526.2" font-size="19.6" font-style="italic" textLength="44.6" lengthAdjust="spacingAndGlyphs">CD14</text>
<text x="674.8" y="548" font-size="19.6" font-style="italic" textLength="24.5" lengthAdjust="spacingAndGlyphs">ID1</text>
<text x="674.8" y="569.9" font-size="19.6" font-style="italic" textLength="85.1" lengthAdjust="spacingAndGlyphs">HLA-DPB1</text>
<text x="674.8" y="591.8" font-size="19.6" font-style="italic" textLength="89.7" lengthAdjust="spacingAndGlyphs">HLA-DQA1</text>
<text x="674.8" y="613.6" font-size="19.6" font-style="italic" textLength="85.8" lengthAdjust="spacingAndGlyphs">HLA-DPA1</text>
<text x="674.8" y="635.5" font-size="19.6" font-style="italic" textLength="78.2" lengthAdjust="spacingAndGlyphs">HLA-DRA</text>
<text x="674.8" y="657.3" font-size="19.6" font-style="italic" textLength="97.1" lengthAdjust="spacingAndGlyphs">APOBEC3A</text>
<text x="674.8" y="679.2" font-size="19.6" font-style="italic" textLength="36.5" lengthAdjust="spacingAndGlyphs">LIPA</text>
<text x="674.8" y="701.1" font-size="19.6" font-style="italic" textLength="53.9" lengthAdjust="spacingAndGlyphs">CSF1R</text>
<text x="674.8" y="722.9" font-size="19.6" font-style="italic" textLength="39.1" lengthAdjust="spacingAndGlyphs">VSIR</text>
<text x="674.8" y="744.8" font-size="19.6" font-style="italic" textLength="74.2" lengthAdjust="spacingAndGlyphs">MS4A4A</text>
<text x="674.8" y="766.6" font-size="19.6" font-style="italic" textLength="61" lengthAdjust="spacingAndGlyphs">MS4A7</text>
<text x="674.8" y="788.5" font-size="19.6" font-style="italic" textLength="63.1" lengthAdjust="spacingAndGlyphs">HMOX1</text>
<text x="674.8" y="810.4" font-size="19.6" font-style="italic" textLength="72.6" lengthAdjust="spacingAndGlyphs">FCGR3A</text>
<text x="674.8" y="832.2" font-size="19.6" font-style="italic" textLength="72.4" lengthAdjust="spacingAndGlyphs">CDKN1C</text>
<text x="674.8" y="854.1" font-size="19.6" font-style="italic" textLength="53.4" lengthAdjust="spacingAndGlyphs">RHOC</text>
<text x="674.8" y="875.9" font-size="19.6" font-style="italic" textLength="46" lengthAdjust="spacingAndGlyphs">HE34</text>
<text x="674.8" y="897.8" font-size="19.6" font-style="italic" textLength="56.9" lengthAdjust="spacingAndGlyphs">MTSS1</text>
<text x="674.8" y="919.7" font-size="19.6" font-style="italic" textLength="85.3" lengthAdjust="spacingAndGlyphs">SIGLEC10</text>
<text x="785.2" y="322.3" font-size="20.2" text-anchor="middle" transform="rotate(-90 785.2 322.3)" textLength="68" lengthAdjust="spacingAndGlyphs">Relative</text>
<text x="807.9" y="322.3" font-size="20.2" text-anchor="middle" transform="rotate(-90 807.9 322.3)" textLength="143" lengthAdjust="spacingAndGlyphs">gene expression</text>
<defs><linearGradient id="hg" x1="0" y1="0" x2="0" y2="1">
<stop offset="0.000" stop-color="#ff2600"/>
<stop offset="0.023" stop-color="#ff2600"/>
<stop offset="0.046" stop-color="#ff2600"/>
<stop offset="0.069" stop-color="#ff2600"/>
<stop offset="0.091" stop-color="#ff2600"/>
<stop offset="0.114" stop-color="#ff2600"/>
<stop offset="0.137" stop-color="#ff2600"/>
<stop offset="0.160" stop-color="#ff2600"/>
<stop offset="0.182" stop-color="#ff3e18"/>
<stop offset="0.205" stop-color="#ff512a"/>
<stop offset="0.228" stop-color="#ff6039"/>
<stop offset="0.250" stop-color="#ff6f48"/>
<stop offset="0.273" stop-color="#ff7c57"/>
<stop offset="0.296" stop-color="#ff8866"/>
<stop offset="0.319" stop-color="#ff9574"/>
<stop offset="0.341" stop-color="#ffa183"/>
<stop offset="0.364" stop-color="#ffac92"/>
<stop offset="0.387" stop-color="#ffb8a2"/>
<stop offset="0.410" stop-color="#ffc3b1"/>
<stop offset="0.432" stop-color="#ffcfc0"/>
<stop offset="0.455" stop-color="#fbdad0"/>
<stop offset="0.478" stop-color="#f6e5e0"/>
<stop offset="0.501" stop-color="#f0f0f0"/>
<stop offset="0.523" stop-color="#e8e3f2"/>
<stop offset="0.546" stop-color="#dfd6f3"/>
<stop offset="0.569" stop-color="#d6c9f5"/>
<stop offset="0.591" stop-color="#cdbcf6"/>
<stop offset="0.614" stop-color="#c3aff8"/>
<stop offset="0.637" stop-color="#b9a3f9"/>
<stop offset="0.660" stop-color="#af96fa"/>
<stop offset="0.682" stop-color="#a38afb"/>
<stop offset="0.705" stop-color="#977dfc"/>
<stop offset="0.728" stop-color="#8a71fc"/>
<stop offset="0.751" stop-color="#7c65fd"/>
<stop offset="0.773" stop-color="#6b58fe"/>
<stop offset="0.796" stop-color="#584cfe"/>
<stop offset="0.819" stop-color="#3e40ff"/>
<stop offset="0.842" stop-color="#0433ff"/>
<stop offset="0.864" stop-color="#0433ff"/>
<stop offset="0.887" stop-color="#0433ff"/>
<stop offset="0.910" stop-color="#0433ff"/>
<stop offset="0.932" stop-color="#0433ff"/>
<stop offset="0.955" stop-color="#0433ff"/>
<stop offset="0.978" stop-color="#0433ff"/>
<stop offset="1.000" stop-color="#0433ff"/>
</linearGradient></defs>
<rect x="820.1" y="279.1" width="19.3" height="93.7" fill="url(#hg)"/>
<text x="854" y="290" font-size="18.2">4</text>
<path d="M820.1 283.4L825 283.4" stroke="#fff" stroke-width="1.2"/>
<path d="M834.5 283.4L839.4 283.4" stroke="#fff" stroke-width="1.2"/>
<text x="854" y="311.1" font-size="18.2">2</text>
<path d="M820.1 304.5L825 304.5" stroke="#fff" stroke-width="1.2"/>
<path d="M834.5 304.5L839.4 304.5" stroke="#fff" stroke-width="1.2"/>
<text x="854" y="332.5" font-size="18.2">0</text>
<path d="M820.1 325.9L825 325.9" stroke="#fff" stroke-width="1.2"/>
<path d="M834.5 325.9L839.4 325.9" stroke="#fff" stroke-width="1.2"/>
<text x="852.4" y="354" font-size="18.2">−2</text>
<path d="M820.1 347.4L825 347.4" stroke="#fff" stroke-width="1.2"/>
<path d="M834.5 347.4L839.4 347.4" stroke="#fff" stroke-width="1.2"/>
<text x="852.4" y="375.2" font-size="18.2">−4</text>
<path d="M820.1 368.6L825 368.6" stroke="#fff" stroke-width="1.2"/>
<path d="M834.5 368.6L839.4 368.6" stroke="#fff" stroke-width="1.2"/>
<text x="857" y="30.2" font-size="39" font-weight="bold" stroke="#000" stroke-width="1.5" stroke-linejoin="round" textLength="26.2" lengthAdjust="spacingAndGlyphs">b</text>
<text x="967.9" y="34.4" font-size="24" textLength="34.4" lengthAdjust="spacingAndGlyphs">log</text>
<text x="1005.8" y="42.6" font-size="17">2</text>
<text x="1024.4" y="34.4" font-size="24" textLength="569.6" lengthAdjust="spacingAndGlyphs">(relative proportion of cell type in C1D15/C1D1)</text>
<text x="903" y="102.5" font-size="24" textLength="158.2" lengthAdjust="spacingAndGlyphs">LR+EP groups</text>
<text x="1112.3" y="102.5" font-size="24" textLength="104.7" lengthAdjust="spacingAndGlyphs">LR group</text>
<text x="1299.2" y="102.5" font-size="24" textLength="104.6" lengthAdjust="spacingAndGlyphs">EP group</text>
<path d="M981.8 160.5L981.8 361" stroke="#c4c4c4" stroke-width="1.2" stroke-dasharray="3.5 3.5"/>
<path d="M902.2 151.4V160.2H1061.1V151.4M981.5 151.4V160.2" stroke="#333" stroke-width="1.3" fill="none"/>
<text x="891.2" y="137.9" font-size="21">−</text>
<text x="902.4" y="137.9" font-size="21">5</text>
<text x="981.5" y="137.9" font-size="21" text-anchor="middle">0</text>
<text x="1061.1" y="137.9" font-size="21" text-anchor="middle">5</text>
<path d="M1164.7 160.5L1164.7 361" stroke="#c4c4c4" stroke-width="1.2" stroke-dasharray="3.5 3.5"/>
<path d="M1085.6 151.4V160.2H1243.5V151.4M1164.4 151.4V160.2" stroke="#333" stroke-width="1.3" fill="none"/>
<text x="1074.6" y="137.9" font-size="21">−</text>
<text x="1085.8" y="137.9" font-size="21">5</text>
<text x="1164.4" y="137.9" font-size="21" text-anchor="middle">0</text>
<text x="1243.5" y="137.9" font-size="21" text-anchor="middle">5</text>
<path d="M1351.6 160.5L1351.6 361" stroke="#c4c4c4" stroke-width="1.2" stroke-dasharray="3.5 3.5"/>
<path d="M1271.9 151.4V160.2H1430.7V151.4M1351.3 151.4V160.2" stroke="#333" stroke-width="1.3" fill="none"/>
<text x="1260.9" y="137.9" font-size="21">−</text>
<text x="1272.1" y="137.9" font-size="21">5</text>
<text x="1351.3" y="137.9" font-size="21" text-anchor="middle">0</text>
<text x="1430.7" y="137.9" font-size="21" text-anchor="middle">5</text>
<path d="M1430.7 151.4L1430.7 360" stroke="#333" stroke-width="1.3"/>
<path d="M1430.7 185.2L1439.6 185.2" stroke="#333" stroke-width="1.3"/>
<path d="M1430.7 222.6L1439.6 222.6" stroke="#333" stroke-width="1.3"/>
<path d="M1430.7 260L1439.6 260" stroke="#333" stroke-width="1.3"/>
<path d="M1430.7 297.3L1439.6 297.3" stroke="#333" stroke-width="1.3"/>
<path d="M1430.7 334.8L1439.6 334.8" stroke="#333" stroke-width="1.3"/>
<path d="M945.4 184.9L966.8 184.9" stroke="#333" stroke-width="1.3"/>
<path d="M981.7 184.9L989.4 184.9" stroke="#333" stroke-width="1.3"/>
<path d="M945.4 178.4L945.4 191.4" stroke="#333" stroke-width="1.3"/>
<path d="M989.4 178.4L989.4 191.4" stroke="#333" stroke-width="1.3"/>
<rect x="966.8" y="172.4" width="14.9" height="25" fill="#ece8fd" stroke="#222" stroke-width="1.3"/>
<path d="M977.4 172.4L977.4 197.4" stroke="#222" stroke-width="1.5"/>
<path d="M963.3 222.3L979.6 222.3" stroke="#333" stroke-width="1.3"/>
<path d="M994.5 222.3L1017.1 222.3" stroke="#333" stroke-width="1.3"/>
<path d="M963.3 215.8L963.3 228.8" stroke="#333" stroke-width="1.3"/>
<path d="M1017.1 215.8L1017.1 228.8" stroke="#333" stroke-width="1.3"/>
<rect x="979.6" y="209.8" width="14.9" height="25" fill="#6558b8" stroke="#222" stroke-width="1.3"/>
<path d="M984.1 209.8L984.1 234.8" stroke="#222" stroke-width="1.5"/>
<path d="M952.7 259.7L970.7 259.7" stroke="#333" stroke-width="1.3"/>
<path d="M993.7 259.7L1013.5 259.7" stroke="#333" stroke-width="1.3"/>
<path d="M952.7 253.2L952.7 266.2" stroke="#333" stroke-width="1.3"/>
<path d="M1013.5 253.2L1013.5 266.2" stroke="#333" stroke-width="1.3"/>
<rect x="970.7" y="247.2" width="23" height="25" fill="#adbdef" stroke="#222" stroke-width="1.3"/>
<path d="M982.3 247.2L982.3 272.2" stroke="#222" stroke-width="1.5"/>
<path d="M940.7 297L976.8 297" stroke="#333" stroke-width="1.3"/>
<path d="M989.8 297L1002.5 297" stroke="#333" stroke-width="1.3"/>
<path d="M940.7 290.5L940.7 303.5" stroke="#333" stroke-width="1.3"/>
<path d="M1002.5 290.5L1002.5 303.5" stroke="#333" stroke-width="1.3"/>
<rect x="976.8" y="284.5" width="13" height="25" fill="#d19cf7" stroke="#222" stroke-width="1.3"/>
<path d="M985.1 284.5L985.1 309.5" stroke="#222" stroke-width="1.5"/>
<path d="M950.1 334.5L969.9 334.5" stroke="#333" stroke-width="1.3"/>
<path d="M990.6 334.5L996.3 334.5" stroke="#333" stroke-width="1.3"/>
<path d="M950.1 328L950.1 341" stroke="#333" stroke-width="1.3"/>
<path d="M996.3 328L996.3 341" stroke="#333" stroke-width="1.3"/>
<rect x="969.9" y="322" width="20.6" height="25" fill="#a757ec" stroke="#222" stroke-width="1.3"/>
<path d="M978.6 322L978.6 347" stroke="#222" stroke-width="1.5"/>
<path d="M1128.6 184.9L1145.5 184.9" stroke="#333" stroke-width="1.3"/>
<path d="M1166.5 184.9L1169.7 184.9" stroke="#333" stroke-width="1.3"/>
<path d="M1128.6 178.4L1128.6 191.4" stroke="#333" stroke-width="1.3"/>
<path d="M1169.7 178.4L1169.7 191.4" stroke="#333" stroke-width="1.3"/>
<rect x="1145.5" y="172.4" width="21" height="25" fill="#ece8fd" stroke="#222" stroke-width="1.3"/>
<path d="M1162.8 172.4L1162.8 197.4" stroke="#222" stroke-width="1.5"/>
<path d="M1153.2 222.3L1162.4 222.3" stroke="#333" stroke-width="1.3"/>
<path d="M1173.8 222.3L1199.5 222.3" stroke="#333" stroke-width="1.3"/>
<path d="M1153.2 215.8L1153.2 228.8" stroke="#333" stroke-width="1.3"/>
<path d="M1199.5 215.8L1199.5 228.8" stroke="#333" stroke-width="1.3"/>
<rect x="1162.4" y="209.8" width="11.4" height="25" fill="#6558b8" stroke="#222" stroke-width="1.3"/>
<path d="M1166.3 209.8L1166.3 234.8" stroke="#222" stroke-width="1.5"/>
<path d="M1148.5 259.7L1158.9 259.7" stroke="#333" stroke-width="1.3"/>
<path d="M1176.7 259.7L1182.8 259.7" stroke="#333" stroke-width="1.3"/>
<path d="M1148.5 253.2L1148.5 266.2" stroke="#333" stroke-width="1.3"/>
<path d="M1182.8 253.2L1182.8 266.2" stroke="#333" stroke-width="1.3"/>
<rect x="1158.9" y="247.2" width="17.9" height="25" fill="#adbdef" stroke="#222" stroke-width="1.3"/>
<path d="M1169.1 247.2L1169.1 272.2" stroke="#222" stroke-width="1.5"/>
<path d="M1123.9 297L1150.4 297" stroke="#333" stroke-width="1.3"/>
<path d="M1178.3 297L1185 297" stroke="#333" stroke-width="1.3"/>
<path d="M1123.9 290.5L1123.9 303.5" stroke="#333" stroke-width="1.3"/>
<path d="M1185 290.5L1185 303.5" stroke="#333" stroke-width="1.3"/>
<rect x="1150.4" y="284.5" width="27.9" height="25" fill="#d19cf7" stroke="#222" stroke-width="1.3"/>
<path d="M1168.5 284.5L1168.5 309.5" stroke="#222" stroke-width="1.5"/>
<path d="M1133.3 334.5L1142.2 334.5" stroke="#333" stroke-width="1.3"/>
<path d="M1169.3 334.5L1175.4 334.5" stroke="#333" stroke-width="1.3"/>
<path d="M1133.3 328L1133.3 341" stroke="#333" stroke-width="1.3"/>
<path d="M1175.4 328L1175.4 341" stroke="#333" stroke-width="1.3"/>
<rect x="1142.2" y="322" width="27.1" height="25" fill="#a757ec" stroke="#222" stroke-width="1.3"/>
<path d="M1158.3 322L1158.3 347" stroke="#222" stroke-width="1.5"/>
<path d="M1317.5 184.9L1340.4 184.9" stroke="#333" stroke-width="1.3"/>
<path d="M1350.6 184.9L1359.4 184.9" stroke="#333" stroke-width="1.3"/>
<path d="M1317.5 178.4L1317.5 191.4" stroke="#333" stroke-width="1.3"/>
<path d="M1359.4 178.4L1359.4 191.4" stroke="#333" stroke-width="1.3"/>
<rect x="1340.4" y="172.4" width="10.2" height="25" fill="#ece8fd" stroke="#222" stroke-width="1.3"/>
<path d="M1346.3 172.4L1346.3 197.4" stroke="#222" stroke-width="1.5"/>
<path d="M1332.7 222.3L1342.5 222.3" stroke="#333" stroke-width="1.3"/>
<path d="M1369.6 222.3L1377.4 222.3" stroke="#333" stroke-width="1.3"/>
<path d="M1332.7 215.8L1332.7 228.8" stroke="#333" stroke-width="1.3"/>
<path d="M1377.4 215.8L1377.4 228.8" stroke="#333" stroke-width="1.3"/>
<rect x="1342.5" y="209.8" width="27.1" height="25" fill="#6558b8" stroke="#222" stroke-width="1.3"/>
<path d="M1355.1 209.8L1355.1 234.8" stroke="#222" stroke-width="1.5"/>
<path d="M1322.3 259.7L1337.7 259.7" stroke="#333" stroke-width="1.3"/>
<path d="M1368.6 259.7L1383.4 259.7" stroke="#333" stroke-width="1.3"/>
<path d="M1322.3 253.2L1322.3 266.2" stroke="#333" stroke-width="1.3"/>
<path d="M1383.4 253.2L1383.4 266.2" stroke="#333" stroke-width="1.3"/>
<rect x="1337.7" y="247.2" width="30.9" height="25" fill="#adbdef" stroke="#222" stroke-width="1.3"/>
<path d="M1345.3 247.2L1345.3 272.2" stroke="#222" stroke-width="1.5"/>
<path d="M1342 297L1349.6 297" stroke="#333" stroke-width="1.3"/>
<path d="M1358.7 297L1361.5 297" stroke="#333" stroke-width="1.3"/>
<path d="M1342 290.5L1342 303.5" stroke="#333" stroke-width="1.3"/>
<path d="M1361.5 290.5L1361.5 303.5" stroke="#333" stroke-width="1.3"/>
<rect x="1349.6" y="284.5" width="9" height="25" fill="#d19cf7" stroke="#222" stroke-width="1.3"/>
<path d="M1354.4 284.5L1354.4 309.5" stroke="#222" stroke-width="1.5"/>
<path d="M1331.8 334.5L1345.8 334.5" stroke="#333" stroke-width="1.3"/>
<path d="M1362.2 334.5L1365.8 334.5" stroke="#333" stroke-width="1.3"/>
<path d="M1331.8 328L1331.8 341" stroke="#333" stroke-width="1.3"/>
<path d="M1365.8 328L1365.8 341" stroke="#333" stroke-width="1.3"/>
<rect x="1345.8" y="322" width="16.4" height="25" fill="#a757ec" stroke="#222" stroke-width="1.3"/>
<path d="M1350.6 322L1350.6 347" stroke="#222" stroke-width="1.5"/>
<text x="929.7" y="197.5" font-size="24" text-anchor="middle">*</text>
<text x="1452.1" y="191.5" font-size="21" textLength="244" lengthAdjust="spacingAndGlyphs"><tspan font-style="italic">S100</tspan><tspan dy="-8" font-size="12">+</tspan><tspan dy="8"> early-activated CM</tspan></text>
<text x="1452.1" y="229.3" font-size="21" textLength="147.4" lengthAdjust="spacingAndGlyphs">Activated CM_1</text>
<text x="1452.1" y="266.5" font-size="21" textLength="150.2" lengthAdjust="spacingAndGlyphs">Activated CM_2</text>
<text x="1452.1" y="304.1" font-size="21" textLength="216.3" lengthAdjust="spacingAndGlyphs">Antigen-presenting IM</text>
<text x="1452.1" y="341.2" font-size="21" textLength="162.6" lengthAdjust="spacingAndGlyphs">M2-skewed NCM</text>
<text x="856" y="456.7" font-size="38" font-weight="bold" stroke="#000" stroke-width="1.5" stroke-linejoin="round" textLength="23.2" lengthAdjust="spacingAndGlyphs">c</text>
<g transform="translate(880 420) scale(0.5)" fill="none" stroke-linecap="round" stroke-width="12.8">
<path d="M364 52h0M353 59h0M360 60h0M368 59h0M377 60h0M385 59h0M347 67h0M357 66h0M365 67h0M373 67h0M381 66h0M390 66h0M343 73h0M351 74h0M360 74h0M369 74h0M377 74h0M385 74h0M394 75h0M340 81h0M348 81h0M356 80h0M365 81h0M373 81h0M382 82h0M389 81h0M398 81h0M407 81h0M343 88h0M352 88h0M360 88h0M369 89h0M376 88h0M385 88h0M394 88h0M402 88h0M410 89h0M339 96h0M347 95h0M356 95h0M365 96h0M373 96h0M381 95h0M390 96h0M397 96h0M343 102h0M351 103h0M360 103h0M368 103h0M378 103h0M347 111h0M357 110h0M364 109h0M344 117h0" stroke="#f0f424"/>
<path d="M406 95h0M415 95h0M385 103h0M393 102h0M403 103h0M410 102h0M419 103h0M372 111h0M381 110h0M389 110h0M398 110h0M406 110h0M414 109h0M423 110h0M353 117h0M360 117h0M369 116h0M377 117h0M385 117h0M393 118h0M403 117h0M411 117h0M418 116h0M347 125h0M357 125h0M364 124h0M373 125h0M381 125h0M389 124h0M398 125h0M406 125h0M415 125h0M423 125h0M344 132h0M352 132h0M361 132h0M369 131h0M377 132h0M385 132h0M394 132h0M402 131h0M411 132h0M419 132h0M426 132h0M347 139h0M356 138h0M365 139h0M373 139h0M381 138h0M389 139h0M397 138h0M407 139h0M414 139h0M423 139h0M369 146h0M376 146h0M386 146h0M394 147h0M402 145h0M410 146h0M448 240h0M456 240h0M464 239h0M453 247h0M460 246h0M469 247h0M456 254h0M464 254h0M473 253h0M460 261h0M469 261h0M472 269h0" stroke="#f4e727"/>
<path d="M431 139h0M353 147h0M361 146h0M418 146h0M427 146h0M389 154h0M397 153h0M406 152h0M443 203h0M452 203h0M440 210h0M447 210h0M457 211h0M435 217h0M444 217h0M452 218h0M461 218h0M431 225h0M440 224h0M447 225h0M455 225h0M465 225h0M435 232h0M443 232h0M452 233h0M460 232h0M469 232h0M439 239h0M444 247h0M465 268h0" stroke="#f8d92b"/>
<path d="M348 154h0M357 153h0M364 152h0M373 152h0M381 153h0M415 153h0M422 152h0M431 153h0M352 161h0M361 161h0M369 160h0M377 160h0M385 160h0M394 160h0M402 160h0M411 160h0M419 161h0M427 161h0M436 160h0M357 168h0M364 167h0M373 168h0M381 168h0M390 168h0M398 167h0M406 167h0M415 168h0M423 168h0M431 168h0M440 168h0M352 175h0M360 175h0M369 174h0M376 175h0M385 175h0M394 174h0M402 174h0M411 174h0M418 175h0M426 174h0M435 175h0M444 175h0M357 182h0M365 181h0M372 182h0M381 182h0M390 182h0M398 182h0M406 182h0M415 183h0M422 182h0M432 182h0M440 181h0M448 182h0M361 188h0M369 189h0M377 190h0M385 189h0M394 188h0M402 189h0M411 190h0M418 189h0M426 189h0M436 190h0M444 189h0M365 196h0M373 196h0M381 196h0M390 196h0M398 196h0M406 197h0M414 196h0M422 196h0M431 196h0M439 196h0M448 196h0M403 203h0M410 204h0M418 204h0M428 203h0M435 204h0M414 210h0M422 210h0M431 211h0M427 218h0M448 254h0M468 275h0" stroke="#facc2f"/>
<path d="M356 196h0M369 204h0M378 204h0M386 203h0M394 204h0M406 211h0M411 218h0M418 218h0M423 226h0M427 232h0M431 240h0M452 262h0" stroke="#fbbf35"/>
<path d="M360 204h0M357 210h0M390 210h0M398 211h0M402 217h0M415 226h0M419 233h0M435 247h0M456 268h0M473 283h0" stroke="#fcb23a"/>
<path d="M364 211h0M372 210h0M381 211h0M361 217h0M368 219h0M377 218h0M385 218h0M394 218h0M365 225h0M373 225h0M382 226h0M389 226h0M398 226h0M407 225h0M360 233h0M369 232h0M377 232h0M385 232h0M394 233h0M402 233h0M411 232h0M365 240h0M373 239h0M381 240h0M389 240h0M397 239h0M415 239h0M423 239h0M368 246h0M376 247h0M428 246h0M364 253h0M373 253h0M440 254h0M368 262h0M460 275h0M464 282h0" stroke="#faa641"/>
<path d="M406 240h0M385 247h0M394 246h0M403 247h0M410 247h0M418 247h0M381 254h0M389 254h0M398 254h0M407 254h0M415 255h0M423 254h0M430 255h0M378 262h0M385 260h0M393 261h0M402 261h0M410 261h0M418 261h0M427 261h0M435 261h0M443 261h0M373 268h0M381 268h0M390 268h0M398 269h0M406 268h0M415 269h0M423 268h0M430 269h0M439 268h0M448 268h0M368 275h0M377 276h0M385 275h0M393 276h0M402 275h0M411 276h0M419 276h0M428 275h0M436 275h0M443 275h0M453 276h0M373 283h0M381 283h0M390 283h0M398 283h0M406 283h0M415 282h0M422 283h0M431 283h0M440 283h0M448 282h0M456 283h0M469 291h0" stroke="#f79a49"/>
<path d="M368 290h0M376 290h0M386 290h0M393 290h0M402 290h0M410 290h0M419 290h0M427 290h0M436 290h0M444 290h0M452 290h0M461 290h0M464 297h0M473 298h0" stroke="#f58e50"/>
<path d="M374 297h0M406 298h0M414 297h0M422 297h0M431 298h0M439 297h0M447 297h0M456 297h0M418 304h0M427 304h0M435 305h0M444 304h0M452 305h0M460 304h0M468 305h0M422 311h0M431 311h0M440 312h0M448 312h0M456 312h0M464 312h0M419 318h0M427 319h0M436 318h0M444 318h0M452 319h0M460 319h0M422 326h0M431 326h0M439 326h0M447 327h0M456 326h0M435 333h0M444 334h0M451 333h0" stroke="#f0815d"/>
<path d="M381 297h0M390 297h0M398 297h0M368 304h0M377 304h0M385 305h0M394 304h0M401 304h0M410 305h0M365 311h0M373 312h0M381 312h0M390 311h0M397 312h0M406 312h0M415 312h0M368 319h0M378 319h0M385 318h0M394 318h0M402 319h0M411 319h0M372 326h0M381 326h0M389 326h0M397 326h0M406 327h0M415 326h0M385 333h0M393 333h0M402 333h0M411 333h0M419 333h0M427 333h0M398 341h0M407 341h0M414 340h0M423 340h0M431 341h0M440 341h0M448 341h0" stroke="#ea746a"/>
<path d="M364 326h0M369 333h0M377 333h0M390 340h0M403 348h0M410 348h0M418 348h0M428 348h0M436 348h0M443 348h0" stroke="#e46b74"/>
<path d="M361 333h0M357 341h0M364 340h0M372 340h0M381 340h0M351 347h0M360 348h0M368 347h0M377 348h0M386 348h0M393 348h0M356 354h0M365 355h0M373 355h0M381 355h0M389 356h0M397 355h0M406 355h0M415 354h0M423 356h0M432 355h0M439 355h0M361 362h0M369 361h0M376 362h0M386 363h0M394 362h0M402 362h0M410 362h0M419 361h0M426 362h0M435 362h0M365 369h0M374 369h0M381 369h0M390 370h0M398 370h0M406 370h0M415 370h0M423 369h0M431 370h0M439 369h0M369 376h0M376 376h0M385 376h0M393 377h0M402 376h0M410 376h0M418 376h0M428 377h0M435 377h0M443 377h0M373 383h0M398 383h0M405 384h0M414 384h0M423 384h0M431 383h0M439 384h0M402 390h0M410 390h0M419 391h0M427 391h0M436 391h0M415 398h0M423 398h0" stroke="#dd617e"/>
<path d="M348 354h0M343 363h0M352 362h0M331 369h0M340 369h0M348 369h0M356 369h0M327 377h0M335 376h0M344 377h0M352 377h0M361 376h0M323 384h0M331 384h0M339 384h0M347 384h0M357 383h0M364 383h0M382 384h0M389 383h0M448 383h0M457 383h0M319 392h0M327 391h0M335 391h0M343 390h0M352 391h0M361 391h0M393 391h0M443 391h0M453 391h0M331 398h0M339 398h0M347 398h0M406 398h0M432 398h0M439 399h0M335 405h0M411 405h0M418 405h0M426 405h0" stroke="#d75888"/>
<path d="M310 390h0M369 390h0M385 390h0M460 391h0M323 397h0M357 398h0M398 399h0M448 398h0M457 398h0M327 405h0M344 406h0M352 406h0M402 405h0M435 405h0M443 405h0M414 412h0M423 413h0M430 412h0M418 419h0M494 520h0M439 528h0M448 528h0M456 528h0M465 527h0M473 528h0M481 527h0M490 527h0M497 528h0M427 535h0M435 535h0M444 536h0M452 535h0M459 535h0M469 535h0M477 534h0M485 536h0M493 536h0M501 535h0M511 535h0M357 542h0M364 542h0M373 541h0M382 543h0M389 542h0M398 542h0M407 542h0M414 542h0M423 543h0M431 542h0M440 542h0M447 542h0M456 543h0M464 542h0M473 543h0M482 542h0M489 542h0M498 542h0M507 543h0M352 549h0M360 549h0M369 550h0M377 549h0M386 550h0M394 550h0M402 549h0M410 549h0M419 550h0M428 550h0M435 549h0M444 549h0M452 549h0M461 549h0M469 549h0M478 549h0M485 549h0M494 549h0M348 557h0M356 556h0M365 557h0M372 556h0M381 556h0M390 557h0M399 557h0M406 556h0M415 557h0M422 557h0M431 557h0M439 556h0M448 556h0M456 556h0M464 557h0M472 557h0M481 557h0M489 556h0M353 563h0M360 563h0M369 564h0M377 564h0M385 564h0M394 564h0M401 564h0M411 564h0M418 564h0M428 564h0M435 564h0M444 564h0M452 564h0M460 564h0M469 563h0M477 563h0M485 563h0M356 570h0M365 570h0M372 570h0M381 570h0M390 570h0M398 571h0M406 570h0M415 571h0M423 571h0M431 571h0M440 572h0M447 571h0M456 571h0M464 571h0M472 571h0M481 571h0M352 577h0M361 578h0M368 579h0M377 578h0M385 579h0M394 578h0M402 578h0M411 579h0M418 578h0M426 578h0M436 579h0M443 578h0M452 578h0M461 579h0M468 578h0M364 585h0M373 585h0M381 586h0M389 585h0M397 585h0M407 586h0M414 585h0M423 585h0M430 585h0M439 586h0M448 586h0M457 585h0M464 586h0M369 593h0M376 593h0M386 592h0M393 593h0M403 592h0M411 593h0M419 592h0M426 592h0M435 593h0M444 593h0M451 592h0M460 593h0M382 600h0M389 600h0M398 600h0M405 599h0M414 600h0M423 600h0M432 599h0M439 600h0M447 599h0M385 608h0M393 607h0M402 608h0M411 607h0M418 607h0M427 606h0M436 607h0M443 607h0M390 615h0M398 615h0M406 614h0M415 615h0M423 613h0M430 615h0M394 622h0M402 622h0M411 621h0M419 621h0M426 621h0M406 629h0M415 629h0" stroke="#ce4b94"/>
<path d="M377 391h0M315 398h0M364 398h0M372 399h0M382 397h0M389 398h0M465 398h0M360 405h0M368 405h0M377 405h0M385 406h0M393 406h0M451 406h0M460 405h0M468 406h0M477 406h0M331 413h0M339 412h0M348 412h0M356 412h0M364 412h0M372 413h0M382 413h0M389 412h0M398 412h0M406 413h0M440 412h0M447 413h0M457 413h0M465 412h0M473 413h0M481 413h0M352 419h0M360 419h0M369 420h0M377 419h0M385 419h0M394 419h0M402 420h0M411 419h0M426 420h0M435 420h0M444 419h0M452 419h0M460 419h0M469 419h0M477 420h0M485 419h0M494 419h0M356 427h0M364 427h0M373 428h0M382 426h0M390 426h0M398 427h0M405 427h0M414 427h0M422 426h0M431 427h0M439 427h0M447 426h0M456 427h0M464 427h0M473 427h0M481 426h0M489 427h0M497 427h0M505 427h0M514 427h0M368 434h0M377 434h0M386 434h0M393 434h0M402 434h0M410 434h0M418 434h0M427 434h0M435 434h0M444 435h0M453 434h0M460 435h0M468 434h0M477 434h0M486 435h0M493 434h0M502 434h0M510 434h0M519 434h0M526 434h0M414 441h0M423 442h0M432 441h0M440 441h0M448 441h0M457 442h0M464 442h0M472 441h0M481 442h0M490 441h0M497 441h0M506 441h0M514 441h0M523 442h0M531 441h0M427 449h0M435 449h0M444 448h0M451 448h0M460 448h0M468 449h0M477 448h0M484 448h0M494 448h0M502 449h0M511 449h0M518 449h0M527 449h0M536 448h0M431 455h0M439 456h0M448 455h0M456 455h0M465 455h0M473 455h0M481 455h0M489 456h0M498 456h0M506 456h0M514 456h0M523 456h0M531 456h0M539 455h0M443 462h0M451 463h0M461 463h0M468 462h0M477 463h0M485 463h0M493 464h0M501 463h0M511 463h0M518 463h0M527 462h0M535 463h0M457 471h0M464 470h0M472 471h0M480 470h0M489 470h0M498 470h0M507 471h0M514 470h0M523 470h0M531 470h0M461 477h0M469 477h0M477 477h0M486 478h0M493 477h0M501 478h0M510 478h0M518 477h0M526 477h0M535 478h0M457 484h0M464 485h0M472 485h0M481 484h0M489 485h0M498 485h0M505 485h0M514 485h0M523 485h0M531 484h0M452 491h0M460 492h0M469 491h0M476 492h0M485 492h0M493 492h0M502 492h0M511 492h0M518 491h0M527 491h0M455 500h0M465 498h0M473 498h0M481 498h0M490 499h0M498 498h0M506 498h0M514 499h0M523 499h0M461 506h0M468 506h0M476 506h0M485 507h0M493 506h0M501 506h0M510 506h0M519 506h0M448 514h0M456 513h0M465 513h0M472 514h0M482 513h0M490 513h0M497 513h0M505 514h0M514 513h0M522 514h0M435 520h0M443 520h0M452 521h0M461 521h0M469 521h0M477 521h0M486 520h0M501 521h0M509 521h0M518 521h0M123 528h0M132 528h0M139 528h0M422 528h0M432 527h0M506 528h0M515 527h0M120 535h0M128 535h0M136 534h0M144 536h0M352 535h0M360 535h0M369 535h0M377 536h0M386 535h0M393 535h0M402 535h0M411 536h0M419 535h0M123 542h0M132 543h0M140 542h0M148 542h0M347 541h0M119 549h0M127 550h0M135 550h0M143 550h0M152 549h0M344 550h0M123 557h0M131 557h0M140 557h0M148 556h0M157 557h0M119 564h0M127 564h0M135 563h0M144 564h0M153 564h0M161 564h0M344 564h0M140 572h0M148 571h0M157 570h0M348 571h0M356 585h0M360 592h0M373 600h0M377 607h0M382 615h0M398 629h0" stroke="#c43ea0"/>
<path d="M306 399h0M294 405h0M302 406h0M311 406h0M318 405h0M289 412h0M298 412h0M307 412h0M315 413h0M324 412h0M277 419h0M285 420h0M293 419h0M302 420h0M310 420h0M320 420h0M328 419h0M335 419h0M344 419h0M273 427h0M281 426h0M289 427h0M298 427h0M307 426h0M314 427h0M323 426h0M331 427h0M340 427h0M349 427h0M260 434h0M268 434h0M278 434h0M285 434h0M293 434h0M302 435h0M310 434h0M319 434h0M327 434h0M353 434h0M361 433h0M265 441h0M272 441h0M281 442h0M289 441h0M298 441h0M306 442h0M315 441h0M323 441h0M365 442h0M373 441h0M381 441h0M390 442h0M397 441h0M406 441h0M286 448h0M294 448h0M302 448h0M311 448h0M401 449h0M411 449h0M418 449h0M414 456h0M422 456h0M410 463h0M419 463h0M427 463h0M436 462h0M414 470h0M423 470h0M431 470h0M440 470h0M448 470h0M410 477h0M419 477h0M427 477h0M435 477h0M444 477h0M452 477h0M406 485h0M414 484h0M423 485h0M430 484h0M439 484h0M448 484h0M186 492h0M401 491h0M410 492h0M418 492h0M427 491h0M435 492h0M444 491h0M173 499h0M181 499h0M190 499h0M406 499h0M414 499h0M423 499h0M432 499h0M440 499h0M447 500h0M161 507h0M169 505h0M177 506h0M186 506h0M194 506h0M401 507h0M410 506h0M419 506h0M427 506h0M435 507h0M443 506h0M452 506h0M148 514h0M156 513h0M165 514h0M173 513h0M182 514h0M190 513h0M199 514h0M406 513h0M414 514h0M423 513h0M431 513h0M440 513h0M136 521h0M144 520h0M152 520h0M160 520h0M169 520h0M177 521h0M185 520h0M195 521h0M402 520h0M410 521h0M419 520h0M427 521h0M148 528h0M157 527h0M164 528h0M174 528h0M182 527h0M190 527h0M199 528h0M381 527h0M389 527h0M398 528h0M407 528h0M414 528h0M153 534h0M160 535h0M169 535h0M177 535h0M186 535h0M194 535h0M203 535h0M210 535h0M157 542h0M166 542h0M174 542h0M182 543h0M189 542h0M198 542h0M206 542h0M160 549h0M169 550h0M178 550h0M185 549h0M193 550h0M202 549h0M211 550h0M164 556h0M173 556h0M182 557h0M189 556h0M198 556h0M206 557h0M340 556h0M168 564h0M177 563h0M185 563h0M195 564h0M202 563h0M123 571h0M131 571h0M165 570h0M181 570h0M189 571h0M340 571h0M127 578h0M136 578h0M145 579h0M152 578h0M344 579h0M348 585h0M365 599h0" stroke="#b734ad"/>
<path d="M335 434h0M343 435h0M256 441h0M332 441h0M340 441h0M348 441h0M356 442h0M269 448h0M277 448h0M319 448h0M327 448h0M335 448h0M343 448h0M353 448h0M360 448h0M369 449h0M377 449h0M385 448h0M394 448h0M314 455h0M323 455h0M332 456h0M340 455h0M347 455h0M356 456h0M364 456h0M373 455h0M381 456h0M389 456h0M398 456h0M406 456h0M319 463h0M328 463h0M336 463h0M344 462h0M353 463h0M360 463h0M369 463h0M378 462h0M385 463h0M393 463h0M402 463h0M331 470h0M339 470h0M348 471h0M356 471h0M365 470h0M374 470h0M382 470h0M389 469h0M398 470h0M406 471h0M335 477h0M343 478h0M353 478h0M360 477h0M369 477h0M376 478h0M385 477h0M393 477h0M401 477h0M364 484h0M374 484h0M381 485h0M389 485h0M398 484h0M194 491h0M376 492h0M385 492h0M393 491h0M198 498h0M390 499h0M397 500h0M393 506h0M398 513h0M202 521h0M386 521h0M393 521h0M207 528h0M365 527h0M372 528h0M344 535h0M215 542h0M219 549h0M215 557h0M211 564h0M173 571h0M198 572h0M352 592h0M386 622h0" stroke="#aa2aba"/>
<path d="M244 449h0M240 456h0M248 455h0M227 463h0M236 462h0M244 463h0M252 463h0M261 462h0M269 464h0M278 463h0M286 464h0M294 463h0M302 464h0M310 462h0M215 470h0M223 470h0M231 470h0M240 470h0M248 469h0M257 470h0M264 470h0M274 470h0M282 470h0M289 470h0M297 470h0M306 471h0M314 470h0M211 477h0M220 478h0M228 477h0M236 478h0M244 478h0M252 477h0M260 478h0M268 478h0M277 477h0M285 477h0M294 477h0M302 478h0M311 478h0M318 478h0M206 484h0M214 484h0M223 485h0M231 484h0M240 485h0M249 485h0M256 485h0M265 484h0M273 484h0M281 484h0M290 484h0M298 484h0M306 485h0M314 485h0M323 484h0M203 492h0M211 492h0M220 491h0M228 492h0M236 492h0M244 492h0M252 491h0M261 491h0M268 492h0M277 492h0M285 491h0M294 492h0M302 492h0M310 492h0M319 492h0M327 492h0M207 499h0M215 498h0M224 498h0M231 499h0M240 498h0M248 499h0M257 500h0M265 499h0M274 499h0M281 499h0M290 499h0M298 498h0M306 499h0M314 499h0M322 499h0M331 499h0M211 505h0M219 506h0M228 506h0M235 506h0M244 506h0M253 507h0M261 507h0M269 507h0M276 506h0M286 506h0M294 506h0M303 505h0M310 507h0M318 506h0M328 507h0M335 505h0M215 513h0M223 514h0M231 514h0M239 513h0M248 513h0M257 513h0M264 514h0M274 514h0M281 514h0M289 514h0M299 513h0M306 514h0M315 514h0M324 513h0M331 513h0M339 514h0M220 520h0M228 521h0M236 520h0M252 520h0M261 520h0M269 520h0M278 520h0M294 521h0M302 521h0M310 520h0M318 521h0M327 521h0M336 520h0M223 528h0M231 527h0M307 527h0M315 528h0M324 528h0M331 527h0M340 528h0M227 534h0M310 535h0M319 535h0M327 535h0M335 535h0M314 542h0M322 542h0M332 543h0M227 549h0M327 549h0M223 556h0M332 556h0M220 563h0M186 578h0M336 578h0M132 586h0M339 586h0M372 614h0" stroke="#8325c1"/>
<path d="M253 448h0M261 449h0M257 455h0M265 455h0M273 455h0M282 456h0M289 456h0M298 455h0M307 455h0M323 471h0M327 478h0M198 485h0M331 484h0M339 484h0M348 484h0M357 484h0M335 491h0M344 492h0M352 492h0M360 492h0M369 492h0M339 499h0M348 498h0M357 499h0M365 499h0M373 499h0M381 500h0M203 506h0M344 506h0M352 506h0M361 507h0M368 505h0M377 507h0M386 506h0M206 514h0M347 513h0M356 513h0M364 513h0M372 513h0M381 513h0M390 513h0M211 520h0M343 521h0M352 521h0M361 520h0M369 520h0M377 520h0M215 528h0M347 528h0M356 528h0M218 534h0M223 543h0M339 542h0M335 549h0M335 564h0M207 570h0M357 599h0M368 607h0M402 635h0" stroke="#9727bd"/>
<path d="M244 521h0M285 521h0M239 527h0M249 527h0M257 528h0M265 528h0M273 527h0M281 528h0M290 528h0M298 528h0M235 535h0M302 536h0M231 542h0M331 571h0M161 579h0M195 577h0M140 585h0M344 592h0M349 599h0M360 607h0" stroke="#7022c4"/>
<path d="M244 534h0M253 535h0M261 535h0M269 536h0M277 535h0M285 535h0M294 535h0M240 542h0M248 543h0M256 543h0M264 543h0M272 542h0M282 542h0M306 541h0M235 549h0M244 549h0M252 549h0M260 549h0M269 549h0M278 549h0M319 549h0M232 556h0M240 557h0M248 556h0M256 557h0M264 556h0M272 556h0M323 556h0M227 563h0M235 563h0M243 564h0M252 563h0M261 564h0M328 563h0M215 571h0M177 578h0M327 577h0M331 586h0M335 592h0M352 608h0M364 615h0M377 621h0M389 628h0M394 635h0" stroke="#5d20bc"/>
<path d="M290 542h0M298 542h0M286 549h0M294 550h0M302 550h0M311 549h0M281 557h0M289 556h0M298 556h0M307 557h0M315 556h0M268 564h0M277 564h0M285 563h0M294 563h0M302 563h0M311 564h0M319 564h0M240 571h0M248 571h0M257 571h0M265 570h0M273 572h0M281 571h0M289 570h0M298 570h0M307 571h0M315 572h0M322 570h0M169 579h0M252 577h0M261 578h0M268 578h0M278 579h0M285 578h0M293 578h0M302 577h0M311 578h0M318 579h0M257 586h0M265 586h0M273 586h0M281 585h0M289 586h0M299 585h0M306 585h0M314 586h0M324 585h0M269 592h0M278 592h0M286 593h0M293 593h0M302 593h0M310 592h0M319 593h0M327 592h0M273 600h0M282 599h0M289 599h0M298 600h0M306 600h0M314 600h0M323 599h0M332 600h0M340 600h0M302 607h0M310 607h0M319 606h0M327 607h0M336 608h0M343 607h0M306 614h0M315 615h0M323 614h0M332 615h0M340 614h0M348 614h0M356 614h0M311 621h0M319 622h0M327 622h0M336 622h0M344 622h0M352 621h0M361 622h0M369 622h0M314 628h0M323 629h0M332 629h0M339 629h0M348 629h0M356 629h0M365 628h0M374 628h0M381 629h0M319 635h0M327 636h0M335 636h0M344 635h0M351 636h0M361 637h0M369 635h0M376 635h0M385 636h0M331 642h0M339 643h0M348 643h0M356 642h0M365 642h0M373 643h0M381 643h0M389 643h0M336 650h0M343 650h0M352 650h0M361 650h0M369 651h0M332 658h0M339 658h0M347 658h0M357 657h0" stroke="#4a1eb4"/>
<path d="M223 571h0M232 572h0M202 578h0M244 579h0M148 585h0M248 585h0M135 593h0M253 592h0M260 592h0M256 599h0M264 600h0M269 607h0M278 607h0M286 607h0M294 607h0M298 615h0M302 621h0M307 629h0M311 636h0M314 643h0M322 644h0M318 650h0M326 651h0M324 658h0" stroke="#371cac"/>
<path d="M211 578h0M227 579h0M235 578h0M182 586h0M189 586h0M240 586h0M243 592h0M249 600h0M261 607h0M264 614h0M273 615h0M282 613h0M289 614h0M276 622h0M286 622h0M294 621h0M281 628h0M290 629h0M298 629h0M277 636h0M286 635h0M294 636h0M302 636h0M281 644h0M290 644h0M298 642h0M306 644h0M286 651h0M294 651h0M302 651h0M311 650h0M289 657h0M298 657h0M307 657h0M315 658h0M294 664h0M303 665h0" stroke="#241aa1"/>
<path d="M218 578h0M157 585h0M165 585h0M173 585h0M198 586h0M207 586h0M215 586h0M223 586h0M231 585h0M143 592h0M152 592h0M161 593h0M170 593h0M178 593h0M186 593h0M194 592h0M202 592h0M211 593h0M219 593h0M228 593h0M235 592h0M140 600h0M148 600h0M157 600h0M165 600h0M174 599h0M182 599h0M189 600h0M198 599h0M206 600h0M215 600h0M222 599h0M231 599h0M239 600h0M143 606h0M152 607h0M161 607h0M169 606h0M178 607h0M186 607h0M194 606h0M202 607h0M210 606h0M219 606h0M228 607h0M235 607h0M243 606h0M253 607h0M156 614h0M165 615h0M173 614h0M181 614h0M189 614h0M198 614h0M206 614h0M215 615h0M224 615h0M231 614h0M240 614h0M248 614h0M257 614h0M161 622h0M170 621h0M178 622h0M186 621h0M194 621h0M203 622h0M211 621h0M218 621h0M228 621h0M235 621h0M244 621h0M252 621h0M260 622h0M269 622h0M173 629h0M181 628h0M190 628h0M198 628h0M206 629h0M215 629h0M223 629h0M231 629h0M239 628h0M248 629h0M256 629h0M265 628h0M273 628h0M186 636h0M194 636h0M202 636h0M210 635h0M220 635h0M228 636h0M235 636h0M243 636h0M253 636h0M260 635h0M269 635h0M198 642h0M206 643h0M215 644h0M223 643h0M231 642h0M239 643h0M249 642h0M257 643h0M265 643h0M273 643h0M211 649h0M219 650h0M228 651h0M236 650h0M243 650h0M252 650h0M260 650h0M269 650h0M277 651h0M231 657h0M239 657h0M247 658h0M257 658h0M265 658h0M274 658h0M282 657h0M252 665h0M260 665h0M268 664h0M278 665h0M286 665h0" stroke="#121896"/>
</g>
<g transform="translate(880 420) scale(0.5)" fill="none" stroke-linecap="round" stroke-width="4.6">
<path d="M365 451h0M349 529h0M358 596h0M345 473h0M286 455h0M352 479h0M342 543h0M196 505h0M337 479h0M278 453h0M360 463h0M422 507h0M393 462h0M342 483h0M314 456h0M391 475h0M346 467h0M332 451h0M368 474h0M392 500h0M196 501h0M347 485h0M176 566h0M337 479h0M341 427h0M357 461h0M389 520h0M387 492h0M213 556h0M434 502h0M389 624h0M341 488h0M358 471h0M352 476h0M263 438h0M327 478h0M384 483h0M394 491h0M338 566h0M421 474h0M337 472h0M400 455h0M406 459h0M318 445h0M343 582h0M219 543h0M293 453h0M399 633h0M388 486h0M389 474h0M415 511h0M373 470h0M337 434h0M371 489h0M369 470h0M190 487h0M274 452h0M423 471h0M386 488h0M378 454h0M420 518h0M376 494h0M336 474h0M203 549h0M190 573h0M348 587h0M374 447h0M415 452h0M337 431h0M340 481h0M374 475h0M325 440h0M172 564h0M434 481h0M354 458h0M216 549h0M377 456h0M211 529h0M364 467h0M378 488h0M341 441h0M336 469h0M369 605h0M348 446h0M384 472h0M203 558h0M391 454h0M396 517h0M349 445h0M363 463h0M216 538h0M367 460h0M334 440h0M396 526h0M319 465h0M267 445h0M209 545h0M383 494h0M431 466h0M362 444h0M400 453h0M347 461h0M375 447h0M325 451h0M340 543h0M384 474h0M203 497h0M178 564h0M280 449h0M334 471h0M408 470h0M386 492h0M393 473h0M260 448h0M334 435h0M125 579h0M211 562h0M172 570h0M205 516h0M381 483h0M194 504h0M409 492h0M126 579h0M390 450h0M327 442h0M201 555h0M408 460h0M360 447h0M198 509h0M324 440h0M392 505h0M334 437h0M312 452h0M336 461h0M169 570h0M408 522h0M316 464h0M392 499h0M204 534h0M371 447h0M304 423h0M401 634h0M338 468h0M429 471h0M192 562h0M217 559h0M441 486h0M335 447h0M341 540h0M377 451h0M383 452h0M366 529h0M335 444h0M344 432h0M397 457h0M397 485h0M360 466h0M390 471h0M119 578h0M338 568h0M203 568h0M358 462h0M189 562h0M201 515h0M435 481h0M398 460h0M217 543h0M369 528h0M166 498h0M365 601h0M353 454h0M416 489h0M192 479h0M396 478h0M360 441h0M384 525h0M370 460h0M382 480h0M345 472h0M362 475h0M211 529h0M358 457h0M386 486h0M400 454h0M348 478h0M189 574h0M390 451h0M372 483h0M366 440h0M372 488h0M352 474h0M186 491h0M385 452h0M396 442h0M356 438h0M178 509h0M373 477h0M403 520h0M386 478h0M389 444h0M268 442h0M400 465h0M413 452h0M351 439h0M182 571h0M342 439h0M330 472h0M354 479h0M374 452h0M319 468h0M391 482h0M358 479h0M218 538h0M380 526h0M380 485h0M218 562h0M298 409h0M418 458h0M354 591h0M403 463h0M399 507h0M366 475h0M312 448h0M412 510h0M219 543h0M420 499h0M360 467h0M381 466h0M407 512h0M420 481h0M302 417h0M349 442h0M280 455h0M416 462h0M392 462h0M396 470h0M189 568h0M338 493h0M395 496h0M395 494h0M386 520h0M362 478h0M370 480h0M365 474h0M389 455h0M345 434h0M207 526h0M372 525h0M402 473h0M194 572h0M179 543h0M387 472h0M290 448h0M384 513h0M319 447h0M365 471h0M394 502h0M329 435h0M375 461h0M394 452h0M271 444h0M343 454h0M324 447h0M268 448h0M350 480h0M344 438h0M359 444h0M348 442h0M377 528h0M380 470h0M403 521h0M381 471h0M212 536h0M256 447h0M390 480h0M293 452h0M345 465h0M194 496h0M136 575h0M396 515h0M191 544h0M401 505h0M180 574h0M274 451h0M364 476h0M408 463h0M431 476h0M346 473h0M402 499h0M376 459h0M346 479h0" stroke="#aa2aba"/>
<path d="M296 577h0M374 635h0M393 647h0M321 589h0M313 549h0M276 600h0M334 590h0M277 555h0M303 564h0M338 598h0M388 639h0M354 610h0M382 632h0M261 572h0M249 566h0M278 555h0M251 565h0M241 535h0M369 650h0M333 595h0M271 593h0M276 563h0M308 593h0M255 563h0M370 641h0M334 664h0M367 644h0M319 590h0M365 621h0M343 613h0M316 554h0M308 622h0M289 593h0M293 597h0M334 598h0M312 580h0M188 583h0M347 606h0M324 602h0M314 554h0M351 640h0M326 600h0M247 546h0M263 588h0M389 650h0M345 626h0M331 628h0M325 586h0M347 642h0M384 638h0M327 631h0M316 566h0M324 654h0M334 602h0M249 579h0M352 665h0M299 561h0M328 642h0M300 567h0M257 572h0M253 574h0M257 562h0M296 571h0M303 572h0M356 631h0M321 560h0M335 655h0M189 582h0M295 562h0M260 559h0M345 650h0M272 557h0M317 567h0M328 644h0M332 660h0M322 586h0M306 592h0M357 622h0M292 570h0M365 635h0M343 663h0M372 620h0M278 592h0M297 580h0M254 577h0M308 603h0M313 580h0M290 605h0M341 627h0M314 620h0M323 571h0M347 609h0M345 622h0M333 645h0M326 637h0M304 572h0M317 576h0M260 558h0M284 605h0M284 563h0M325 565h0M289 608h0M268 585h0M319 610h0M361 634h0M339 603h0M351 614h0M329 663h0M349 657h0M339 609h0M363 619h0M329 623h0M318 603h0M256 580h0M270 584h0M292 584h0M291 602h0M312 635h0M317 625h0M387 652h0M344 631h0M273 548h0M306 589h0M251 566h0M315 585h0M278 585h0M263 561h0M260 543h0M383 652h0M272 564h0M272 551h0M294 597h0M335 633h0M335 654h0M340 602h0M261 533h0M264 557h0M334 623h0M341 609h0M353 621h0M238 543h0M338 607h0M287 581h0M305 570h0M248 553h0M312 553h0M245 554h0M343 637h0M277 565h0M297 582h0M330 613h0M374 645h0M136 588h0M334 663h0M372 634h0M290 555h0M260 543h0M376 637h0M314 557h0M334 637h0M277 593h0M337 630h0M147 584h0M345 647h0M287 572h0M323 594h0M383 634h0M345 627h0M340 651h0M294 543h0M348 656h0M272 564h0M306 635h0M343 655h0M324 643h0M309 614h0M318 586h0M371 657h0M341 620h0M274 601h0M296 545h0M333 612h0M253 560h0M345 647h0M144 585h0M343 608h0M337 657h0M264 583h0M293 580h0M351 617h0M371 618h0M350 618h0M289 551h0M382 647h0M339 653h0M272 534h0M346 621h0M273 577h0M241 547h0M338 619h0M335 660h0M394 647h0M380 634h0M330 632h0M315 560h0M320 600h0M363 645h0M276 574h0M284 603h0M296 579h0M372 657h0M345 600h0M239 545h0M239 574h0M375 633h0M352 626h0M282 598h0M308 594h0M313 637h0M305 609h0M356 619h0M346 646h0M356 626h0M258 562h0M371 655h0M392 641h0M239 563h0M267 580h0M286 563h0M267 572h0M287 565h0M267 539h0M387 629h0M235 562h0M308 624h0M291 538h0M340 641h0M330 645h0M300 583h0M290 609h0M252 535h0M362 651h0M307 622h0M318 638h0M317 596h0M327 572h0" stroke="#4a1eb4"/>
<path d="M512 515h0M398 627h0M453 528h0M432 530h0M139 573h0M143 535h0M537 437h0M511 502h0M343 556h0M450 496h0M529 443h0M390 440h0M420 559h0M410 440h0M487 559h0M487 472h0M522 439h0M470 469h0M435 455h0M136 571h0M519 550h0M508 520h0M529 447h0M484 411h0M386 611h0M369 419h0M357 535h0M315 400h0M419 632h0M449 571h0M379 436h0M161 542h0M429 558h0M488 464h0M292 435h0M541 459h0M324 422h0M495 464h0M149 562h0M454 478h0M502 434h0M135 535h0M167 511h0M449 447h0M426 425h0M497 501h0M339 425h0M320 406h0M382 404h0M407 423h0M375 397h0M448 446h0M412 635h0M129 567h0M491 446h0M494 515h0M339 412h0M477 423h0M303 387h0M457 442h0M513 448h0M520 478h0M154 556h0M339 411h0M479 521h0M491 427h0M503 493h0M503 524h0M126 571h0M454 445h0M439 436h0M452 429h0M524 457h0M363 532h0M462 406h0M437 521h0M525 476h0M462 519h0M307 391h0M478 454h0M412 425h0M422 441h0M520 529h0M524 444h0M503 461h0M530 505h0M352 423h0M460 471h0M479 419h0M371 595h0M447 425h0M346 571h0M478 427h0M397 403h0M386 431h0M488 563h0M475 434h0M515 507h0M494 446h0M522 476h0M187 547h0M453 575h0M469 411h0M139 522h0M322 408h0M512 501h0M417 543h0M499 505h0M484 492h0M186 505h0M511 439h0M503 495h0M457 520h0M488 540h0M372 411h0M467 420h0M411 424h0M463 406h0M296 409h0M460 421h0M466 426h0M144 565h0M500 492h0M416 536h0M441 598h0M381 412h0M317 412h0M158 549h0M140 535h0M479 456h0M469 417h0M395 419h0M457 598h0M505 483h0M458 441h0M449 556h0M446 521h0M129 525h0M428 563h0M450 510h0M482 446h0M466 425h0M522 424h0M355 582h0M418 452h0M442 575h0M448 518h0M477 408h0M460 456h0M453 490h0M485 556h0M395 423h0M483 557h0M137 531h0M464 474h0M158 555h0M366 418h0M460 599h0M405 628h0M470 479h0M492 495h0M428 425h0M464 402h0M490 467h0M161 557h0M468 464h0M524 513h0M465 455h0M491 453h0M446 469h0M452 404h0M505 426h0M522 459h0M392 538h0M513 486h0M433 528h0M467 460h0M519 470h0M477 520h0M318 397h0M451 542h0M516 438h0M455 518h0M527 432h0M526 474h0M509 451h0M487 428h0M509 502h0M147 557h0M480 483h0M399 438h0M348 554h0M491 462h0M466 552h0M125 546h0M153 555h0M473 397h0M495 557h0M372 405h0M512 477h0M283 423h0M163 548h0M374 403h0M442 485h0M509 450h0M489 464h0M421 425h0M409 628h0M143 568h0M464 512h0M128 534h0M398 426h0M359 561h0M508 451h0M422 436h0M351 417h0M363 554h0M454 536h0M444 429h0M483 512h0M516 496h0M518 464h0M509 499h0M450 472h0M383 402h0M376 536h0M479 468h0M531 495h0M488 463h0M404 630h0M531 491h0M391 430h0M507 489h0M433 551h0M159 567h0M454 451h0M496 444h0M505 469h0M508 473h0M532 477h0M466 393h0M437 453h0M495 485h0M378 400h0M519 455h0M396 441h0M143 543h0M459 493h0M153 560h0M376 545h0M154 550h0M415 435h0M388 418h0M398 418h0M450 561h0M531 452h0M435 516h0M455 426h0M507 451h0M443 438h0M475 482h0M378 540h0M437 559h0M475 512h0M498 496h0M504 512h0M510 518h0M456 441h0M513 507h0M458 425h0M403 441h0M387 433h0M499 427h0M460 423h0M167 497h0M363 411h0M383 407h0M149 517h0M510 490h0M519 492h0M540 471h0M463 485h0M498 431h0M127 534h0M438 445h0M123 567h0M414 424h0M483 407h0M503 487h0M357 418h0M439 618h0M281 414h0M506 489h0M483 414h0M452 453h0M425 437h0M390 402h0M145 571h0M304 403h0M465 460h0M364 411h0M474 522h0M484 488h0M298 393h0M495 416h0M394 437h0M445 431h0M525 437h0M419 626h0M112 540h0M370 401h0M499 471h0M512 478h0M460 421h0M500 549h0M494 462h0M476 488h0M317 402h0M123 561h0M505 445h0M387 612h0M521 512h0M485 506h0M383 417h0M498 511h0M453 481h0M146 519h0M442 448h0M461 552h0M177 526h0M452 574h0M417 547h0M517 420h0M496 425h0M509 469h0M360 534h0M510 501h0M518 499h0M369 552h0M474 437h0M136 565h0M443 424h0M158 556h0M179 507h0M364 549h0M537 499h0M386 413h0M372 391h0M426 472h0M491 507h0M440 411h0M480 487h0M422 426h0M459 426h0M480 442h0M308 428h0M482 447h0M479 504h0M417 574h0M524 486h0M479 449h0M444 635h0M293 445h0M503 426h0M504 445h0M413 426h0M367 414h0M427 432h0M481 573h0M355 414h0M495 480h0M478 498h0M122 555h0M366 598h0M519 490h0M452 512h0M474 459h0M115 537h0M433 563h0M139 527h0M514 523h0M504 444h0M461 420h0M438 410h0M447 527h0M432 442h0M460 527h0M398 406h0M425 423h0M451 538h0M377 433h0M471 428h0M124 543h0M371 536h0M354 563h0M144 548h0M522 486h0M487 474h0M545 485h0M490 431h0M453 448h0M514 523h0M440 451h0M152 546h0M514 525h0M196 542h0M485 411h0M438 519h0M369 597h0M486 430h0M155 561h0M129 572h0M138 536h0M420 535h0M481 424h0M468 422h0M503 512h0M459 404h0M472 409h0M499 419h0M523 490h0M118 527h0M467 429h0M462 431h0M515 511h0M500 539h0M500 542h0M367 540h0M461 516h0M465 503h0M400 430h0M473 417h0M420 546h0M469 434h0M444 462h0M378 536h0M458 474h0M492 479h0M484 436h0M298 402h0M109 548h0M308 397h0M506 429h0M407 545h0M363 560h0M382 545h0M479 511h0M489 555h0M463 449h0M363 421h0M374 553h0M456 398h0M315 398h0M469 451h0M463 554h0M529 506h0M352 416h0M373 552h0M369 413h0M485 506h0M460 469h0M385 538h0M423 537h0M425 530h0M110 561h0M524 503h0M460 497h0M295 407h0M502 516h0M525 493h0M376 425h0M451 405h0M478 434h0M369 401h0M485 464h0M365 427h0M498 439h0M389 411h0M491 412h0M124 567h0M440 425h0M167 559h0M306 422h0M286 409h0M383 549h0M462 480h0M502 435h0M147 539h0M455 463h0M504 433h0M469 547h0M308 417h0M282 417h0M477 534h0M477 454h0M370 598h0M465 407h0M448 585h0M358 590h0M162 563h0M401 502h0M419 620h0M495 415h0M518 476h0M212 547h0M367 423h0M192 570h0M402 427h0M445 581h0M504 445h0M437 627h0M359 539h0M448 530h0M538 466h0M449 476h0M514 431h0M426 439h0M130 547h0M417 497h0M408 533h0M150 575h0M465 476h0M447 530h0M343 556h0M516 529h0M349 412h0M421 444h0M506 475h0M378 605h0M119 525h0M524 429h0M473 399h0M473 483h0M373 532h0M447 429h0M395 418h0M160 565h0M182 537h0M283 444h0M471 520h0M353 540h0M307 409h0M448 438h0M349 578h0M508 437h0M529 466h0M497 516h0M130 540h0M141 550h0M370 394h0M515 473h0M501 544h0M510 530h0M436 427h0M366 427h0M358 542h0M368 437h0M126 568h0M505 545h0M462 537h0M452 423h0M528 497h0M527 514h0M144 566h0M344 551h0M440 611h0M497 515h0M436 442h0M344 415h0M193 535h0M481 569h0M161 555h0M492 522h0M456 521h0M385 598h0M499 424h0M451 493h0M410 557h0M410 423h0M134 565h0M368 542h0M383 391h0M490 480h0M367 420h0M396 540h0M293 441h0M393 626h0M489 417h0M460 475h0M456 440h0M468 468h0M516 511h0M443 435h0M299 423h0M436 459h0M418 440h0M375 609h0M319 419h0M401 406h0M460 456h0M494 534h0M443 571h0M489 431h0M295 432h0M380 413h0M432 444h0M452 458h0M422 623h0M476 521h0M457 470h0M515 521h0M492 492h0M150 555h0M437 435h0M517 468h0M445 549h0M521 459h0M375 407h0M133 567h0M368 555h0M520 471h0M390 419h0M516 491h0M401 429h0M493 410h0M456 420h0M427 430h0M506 521h0M396 409h0M453 429h0M347 564h0M387 433h0M484 435h0M310 399h0M449 411h0M386 532h0M338 414h0M472 426h0M459 463h0M480 420h0M365 400h0M446 422h0M439 545h0M480 529h0M142 564h0M485 415h0M416 530h0M158 573h0M392 534h0M503 501h0M374 537h0M463 407h0M163 561h0M495 446h0M433 455h0M454 452h0M490 425h0M511 459h0M512 425h0M497 416h0M485 462h0M469 515h0M478 470h0M476 464h0M169 563h0M451 456h0M491 485h0M185 555h0M450 481h0M130 537h0M204 560h0M297 419h0M476 520h0M172 502h0M128 548h0M455 603h0M440 522h0M464 452h0M503 520h0M346 572h0M116 537h0M452 429h0M367 405h0M148 569h0M486 476h0M491 566h0M483 523h0M360 428h0M461 582h0M200 529h0M499 510h0M520 424h0M447 440h0M391 429h0M455 516h0M473 414h0M349 412h0M395 627h0M64 500h0M58 503h0M61 502h0M67 505h0M86 506h0M79 502h0M48 501h0M82 501h0M65 503h0M50 500h0M53 500h0M56 501h0M85 501h0M80 501h0M85 500h0M55 502h0M67 507h0M53 501h0M82 504h0M61 502h0M64 501h0M81 503h0M84 501h0M48 501h0M79 501h0M85 500h0M47 502h0M75 501h0" stroke="#c43ea0"/>
<path d="M444 203h0M425 199h0M429 217h0M408 161h0M431 164h0M412 206h0M421 194h0M437 168h0M371 170h0M427 182h0M358 162h0M369 154h0M431 173h0M429 176h0M438 181h0M441 175h0M396 181h0M431 227h0M415 198h0M419 194h0M428 151h0M440 159h0M400 157h0M390 167h0M393 197h0M350 164h0M407 175h0M405 202h0M438 194h0M408 166h0M432 211h0M402 193h0M378 178h0M383 163h0M417 203h0M416 165h0M430 157h0M437 172h0M373 182h0M381 171h0M343 157h0M347 174h0M480 282h0M380 155h0M427 163h0M369 149h0M430 176h0M433 191h0M345 160h0M392 198h0M439 165h0M416 164h0M431 199h0M412 198h0M405 169h0M389 191h0M374 185h0M458 186h0M371 158h0M457 269h0M416 174h0M396 160h0M365 159h0M393 157h0M390 165h0M395 166h0M404 185h0M427 233h0M399 201h0M365 167h0M440 184h0M411 186h0M392 158h0M423 174h0M415 193h0M421 182h0M371 183h0M402 199h0M429 218h0M458 265h0M348 170h0M371 201h0M387 154h0M438 245h0M438 155h0M428 188h0M439 177h0M323 153h0M344 155h0M413 203h0M465 271h0M421 167h0M382 185h0M457 202h0M399 199h0M332 172h0M420 215h0M429 206h0M388 184h0M362 165h0M423 203h0M435 157h0M463 214h0M373 187h0M418 181h0M443 208h0M417 196h0M359 177h0M428 204h0M418 190h0M349 156h0M350 175h0M432 166h0M429 204h0M451 178h0M361 176h0M394 155h0M421 219h0M406 181h0M428 185h0M332 142h0M353 178h0M381 188h0M439 190h0M436 206h0M371 158h0M348 172h0M393 176h0M431 158h0M422 167h0M350 193h0M386 170h0M342 159h0M384 174h0M430 159h0M434 235h0M344 156h0M428 153h0M410 156h0M363 196h0M429 151h0M365 183h0M368 160h0M423 159h0M418 196h0M387 167h0M421 219h0M459 201h0M425 203h0M416 195h0M426 212h0M403 164h0M423 152h0M436 166h0M372 169h0M438 195h0M404 204h0M389 156h0M422 147h0M423 160h0M374 193h0M331 157h0M378 184h0M368 150h0M396 187h0M374 194h0M422 163h0M420 170h0M342 165h0M349 166h0M459 223h0M389 159h0M449 206h0M391 176h0M451 197h0M468 275h0M422 175h0M448 187h0M397 191h0M395 197h0" stroke="#facc2f"/>
<path d="M258 648h0M266 634h0M236 644h0M164 615h0M307 652h0M160 596h0M237 663h0M239 626h0M223 599h0M222 621h0M274 666h0M182 637h0M216 617h0M209 623h0M235 623h0M279 656h0M255 668h0M140 608h0M247 634h0M213 617h0M149 621h0M258 634h0M164 620h0M152 615h0M261 659h0M195 589h0M200 607h0M261 618h0M150 611h0M254 607h0M144 618h0M213 642h0M165 593h0M169 634h0M205 592h0M168 619h0M210 605h0M193 628h0M184 619h0M204 604h0M260 609h0M251 669h0M261 625h0M207 596h0M241 664h0M237 654h0M195 620h0M258 660h0M197 644h0M160 593h0M236 621h0M227 591h0M196 630h0M263 662h0M165 606h0M244 612h0M216 588h0M256 630h0M200 637h0M242 638h0M227 630h0M260 649h0M235 654h0M245 637h0M246 595h0M231 645h0M165 604h0M271 646h0M171 584h0M214 586h0M223 585h0M221 576h0M261 623h0M211 648h0M179 606h0M285 628h0M204 597h0M160 583h0M264 659h0M224 660h0M243 635h0M235 636h0M222 619h0M197 597h0M194 585h0M212 623h0M151 591h0M222 616h0M226 590h0M147 604h0M178 622h0M238 617h0M176 599h0M207 638h0M229 592h0M149 606h0M176 622h0M169 613h0M280 669h0M211 599h0M236 648h0M275 621h0M139 613h0M230 599h0M203 638h0M143 596h0M184 587h0M232 644h0M203 608h0M279 642h0M213 616h0M206 601h0M229 647h0M183 603h0M239 592h0M275 635h0M232 598h0M212 595h0M255 622h0M250 636h0M272 622h0M301 656h0M184 617h0M252 637h0M220 625h0M219 612h0M257 654h0M293 644h0M199 647h0M243 637h0M200 644h0M154 604h0M149 619h0M192 607h0M205 624h0M256 656h0M189 609h0M194 596h0M177 631h0M216 632h0M235 660h0M269 657h0M190 623h0M252 613h0M226 615h0M172 629h0M225 635h0M217 645h0M154 597h0M165 587h0M242 590h0M279 633h0M274 649h0M185 621h0M197 601h0M174 592h0M161 609h0M288 630h0M195 612h0M278 669h0M257 620h0M177 626h0M247 623h0M214 581h0M188 596h0M247 670h0M285 659h0M295 667h0M244 589h0M172 593h0M215 616h0M241 646h0M210 648h0M150 596h0M292 633h0M274 669h0M188 611h0M237 647h0M206 588h0M238 599h0M251 603h0M182 615h0M219 581h0M160 590h0M179 634h0M297 646h0M264 650h0M240 598h0M282 659h0M265 626h0M243 657h0M239 600h0M213 617h0M250 640h0M162 584h0M171 604h0M223 634h0M219 594h0M167 636h0M156 610h0M207 610h0M153 626h0M156 592h0M158 591h0M220 622h0M176 598h0M199 608h0M234 663h0M232 608h0M267 628h0M262 645h0M204 650h0M243 642h0M277 639h0M175 626h0M235 598h0M232 614h0M257 639h0M163 583h0M224 654h0M158 585h0M249 622h0M157 619h0M174 626h0M168 585h0M158 620h0M182 588h0M252 623h0M303 640h0M262 615h0M175 623h0M194 609h0M241 619h0M172 601h0M255 624h0M213 645h0M232 604h0M150 607h0M261 632h0M201 601h0M185 592h0M266 615h0M189 631h0M193 596h0M157 599h0M208 589h0M236 648h0M206 605h0M199 606h0M226 652h0M194 609h0M208 637h0M247 652h0M180 594h0M193 631h0M264 640h0M236 654h0M227 622h0M246 630h0M265 639h0M180 621h0M177 631h0M288 655h0M221 625h0M150 590h0M147 589h0M302 659h0M160 588h0M222 638h0M243 608h0M149 618h0M281 634h0M255 670h0M298 630h0M241 661h0M273 627h0M210 632h0M179 634h0M253 626h0M239 603h0M302 635h0M204 602h0M232 663h0M197 638h0M194 596h0M223 605h0M167 585h0M176 630h0M208 579h0M229 641h0M269 660h0M189 618h0M241 621h0M264 660h0M240 609h0M162 603h0M248 603h0M201 597h0M193 618h0M259 628h0M208 614h0M185 596h0M171 609h0M179 611h0M188 618h0M198 643h0M186 593h0M217 622h0M207 588h0M216 632h0M297 630h0M309 649h0M229 643h0M242 623h0M297 657h0M171 598h0M275 656h0M181 602h0M218 619h0M228 626h0M211 618h0M177 609h0M247 642h0M217 617h0M236 667h0M221 615h0M222 615h0M235 585h0M276 651h0M186 619h0M232 618h0M175 609h0M178 597h0M145 589h0M243 634h0M206 641h0M200 650h0M303 662h0M212 593h0M248 630h0M216 590h0M164 611h0M261 615h0M189 620h0M209 638h0M173 632h0M262 668h0M272 654h0M256 656h0M269 647h0M191 619h0" stroke="#121896"/>
<path d="M147 534h0M519 453h0M141 542h0M423 444h0M412 429h0M359 400h0M435 550h0M462 439h0M540 452h0M445 420h0M456 439h0M513 518h0M425 420h0M487 562h0M485 493h0M410 528h0M496 478h0M500 460h0M540 486h0M481 579h0M475 458h0M182 510h0M450 431h0M421 429h0M515 461h0M381 556h0M458 456h0M386 416h0M325 429h0M468 416h0M388 408h0M375 530h0M492 417h0M355 586h0M354 417h0M445 559h0M457 408h0M511 521h0M366 530h0M427 574h0M505 421h0M485 466h0M130 535h0M372 425h0M344 577h0M497 463h0M498 537h0M458 432h0M455 471h0M148 561h0M524 470h0M477 408h0M486 472h0M524 474h0M183 537h0M408 433h0M527 478h0M521 516h0M473 483h0M365 418h0M498 563h0M486 424h0M412 431h0M515 508h0M389 420h0M298 420h0M514 479h0M426 433h0M302 438h0M372 533h0M506 437h0M158 568h0M468 509h0M135 562h0M481 452h0M356 425h0M365 570h0M416 636h0M495 516h0M494 479h0M508 491h0M356 405h0M502 448h0M479 454h0M457 512h0M443 537h0M479 507h0M414 534h0M497 489h0M129 524h0M306 423h0M525 502h0M471 524h0M477 486h0M397 536h0M442 414h0M451 426h0M455 450h0M503 538h0M437 440h0M453 591h0M466 436h0M528 484h0M452 518h0M295 423h0M529 492h0M387 424h0M450 461h0M408 431h0M521 486h0M443 451h0M150 577h0M476 568h0M429 568h0M365 412h0M501 485h0M347 536h0M353 561h0M450 440h0M527 463h0M357 416h0M463 527h0M368 540h0M441 457h0M481 446h0M369 421h0M343 419h0M382 402h0M507 513h0M370 397h0M527 435h0M387 415h0M477 433h0M502 538h0M403 537h0M501 437h0M518 429h0M304 395h0M516 514h0M520 491h0M420 519h0M466 426h0M115 538h0M521 514h0M430 557h0M488 480h0M462 461h0M509 464h0M295 429h0M474 517h0M475 542h0M490 463h0M505 542h0M520 524h0M444 610h0M458 450h0M467 426h0M534 495h0M400 429h0M528 480h0M171 542h0M373 438h0M160 530h0M308 433h0M360 551h0M493 476h0M357 581h0M119 539h0M475 501h0M437 565h0M129 533h0M475 582h0M145 569h0M343 563h0M444 415h0M385 424h0M166 526h0M462 428h0M448 468h0M537 461h0M452 546h0M525 445h0M465 514h0M519 520h0M375 410h0M421 562h0M363 423h0M514 516h0M515 464h0M498 435h0M402 407h0M428 415h0M521 470h0M129 574h0M352 412h0M534 456h0M317 408h0M511 430h0M422 431h0M454 499h0M161 556h0M509 461h0M474 509h0M459 481h0M511 525h0M522 479h0M161 546h0M490 417h0M463 429h0M513 450h0M520 436h0M437 523h0M533 453h0M474 449h0M506 516h0M477 410h0M510 464h0M156 574h0M478 530h0M395 405h0M512 526h0M427 415h0M394 537h0M463 520h0M518 475h0M395 436h0M396 414h0M480 507h0M72 506h0M48 499h0M73 503h0M75 498h0M88 502h0M50 499h0M60 499h0" stroke="#a03283"/>
<path d="M426 182h0M415 177h0M374 169h0M417 220h0M361 203h0M359 202h0M425 159h0M438 177h0M432 192h0M427 176h0M430 237h0M412 164h0M407 187h0M441 183h0M441 190h0M365 167h0M440 162h0M384 186h0M394 188h0M396 176h0M419 197h0M360 176h0M473 281h0M368 193h0M401 184h0M366 197h0M419 155h0M451 259h0M429 200h0M366 176h0" stroke="#cd9c2b"/>
<path d="M407 394h0M374 373h0M437 359h0M422 378h0M408 348h0M426 358h0M431 380h0M381 380h0M375 341h0M374 343h0M356 376h0M442 354h0M377 360h0M390 367h0M396 366h0M351 327h0M400 368h0M375 363h0M401 353h0M448 380h0M386 373h0M388 361h0M362 345h0M422 381h0M362 349h0M336 359h0M406 398h0M408 396h0M424 382h0M375 361h0M389 353h0M360 356h0M363 357h0M419 351h0M367 343h0M426 354h0M370 383h0M439 391h0M448 375h0M375 342h0M368 363h0M411 353h0M437 357h0M424 363h0M408 364h0M362 375h0M397 382h0M328 379h0M357 359h0M398 362h0M388 382h0M402 363h0M398 384h0M400 355h0M383 373h0M446 355h0M381 350h0M394 358h0M421 358h0M334 320h0M388 345h0M406 355h0M367 360h0M397 352h0M444 377h0M368 368h0M342 383h0M317 374h0M372 383h0M427 356h0M412 362h0M440 389h0M386 366h0M420 351h0M329 386h0M404 373h0M441 383h0M395 363h0M388 378h0M351 359h0M431 393h0M395 378h0M410 375h0M366 340h0M417 374h0M438 380h0M379 358h0M363 368h0M368 377h0M379 354h0M389 373h0M382 378h0M425 356h0M387 360h0M381 339h0M405 350h0M409 365h0M403 373h0M397 354h0M436 382h0M408 378h0M409 368h0M424 365h0M362 360h0M356 370h0M412 360h0M430 366h0M382 357h0M454 381h0M426 366h0M387 350h0M416 403h0M376 362h0M378 371h0M384 374h0M365 346h0M359 340h0M387 354h0M443 358h0M378 381h0M419 376h0M361 386h0M420 361h0M347 324h0" stroke="#dd617e"/>
<path d="M300 604h0M328 662h0M261 602h0M328 643h0M270 582h0M305 632h0M263 591h0M345 643h0M348 666h0M368 645h0M287 575h0M346 668h0M321 654h0M319 600h0M270 605h0M301 617h0M284 575h0M350 645h0M233 576h0M303 604h0M318 629h0M305 628h0M313 645h0M306 626h0M291 613h0M326 608h0M365 639h0M322 647h0M364 655h0M270 567h0M282 572h0M346 641h0M357 655h0M286 557h0M275 578h0M276 579h0M282 571h0M239 584h0M173 579h0M275 600h0M360 633h0M309 630h0M250 587h0M365 630h0M322 661h0M281 588h0M313 640h0M225 569h0M348 663h0M318 639h0M348 652h0M256 600h0M285 614h0M325 599h0M248 579h0M313 603h0M351 651h0M242 578h0M186 585h0M365 625h0M277 574h0M364 635h0M300 604h0M322 593h0M289 606h0M301 627h0M327 660h0M239 574h0M300 584h0M313 628h0M286 581h0M333 645h0M166 580h0M323 635h0M314 615h0M357 632h0M316 671h0M334 646h0M139 589h0M262 606h0M268 568h0M328 609h0M354 651h0M314 585h0M307 629h0M320 623h0M306 600h0M331 620h0M217 573h0M216 574h0M335 636h0M317 642h0M356 653h0M290 615h0M138 591h0M349 623h0M356 653h0M336 620h0M321 602h0M304 640h0M258 610h0M293 578h0M287 608h0M325 630h0M322 641h0M246 583h0M289 607h0M355 623h0M261 606h0M316 598h0M281 580h0M311 599h0M299 613h0M234 575h0M143 588h0M291 574h0M329 606h0M277 571h0M310 627h0M285 609h0M344 618h0" stroke="#371cac"/>
<path d="M318 429h0M338 419h0M457 413h0M468 464h0M294 420h0M408 498h0M397 512h0M300 422h0M422 633h0M411 498h0M359 530h0M465 493h0M364 400h0M173 530h0M182 551h0M336 415h0M338 419h0M142 531h0M391 470h0M416 519h0M307 438h0M113 535h0M482 486h0M127 511h0M414 504h0M268 441h0M371 602h0M373 532h0M377 404h0M266 444h0M167 537h0M422 523h0M161 517h0M417 490h0M168 563h0M521 434h0M439 504h0M311 400h0M433 466h0M454 468h0M287 420h0M180 536h0M188 498h0M216 549h0M475 477h0M113 542h0M313 447h0M393 485h0M410 501h0M285 450h0M131 522h0M444 509h0M423 486h0M341 579h0M522 428h0M422 508h0M201 567h0M293 413h0M426 478h0M336 426h0M303 414h0M451 498h0M334 432h0M165 573h0M343 430h0M188 530h0M455 511h0M128 557h0M166 521h0M408 459h0M412 528h0M173 553h0M497 424h0M191 539h0M356 454h0M369 442h0M120 570h0M199 552h0M186 488h0M441 469h0M463 407h0M484 419h0M205 556h0M204 552h0M287 421h0M420 480h0M164 503h0M391 412h0M316 442h0M294 409h0M310 416h0M280 425h0M349 426h0M148 527h0M335 433h0M421 496h0M188 533h0M146 523h0M168 570h0M160 540h0M136 534h0M414 501h0M357 433h0M415 514h0M326 423h0M267 424h0M170 537h0M412 526h0M136 546h0M314 427h0M297 420h0M162 518h0M427 486h0M418 526h0M130 543h0M279 412h0M428 484h0M141 578h0M268 419h0M509 526h0M191 545h0M391 525h0M189 512h0M206 558h0M462 484h0M151 517h0M457 495h0M181 534h0M438 504h0M483 473h0M478 489h0M387 440h0M300 443h0M139 513h0M154 561h0M180 520h0M186 556h0M380 614h0M395 436h0M476 516h0M171 527h0M363 436h0M363 415h0M466 500h0M329 465h0M414 497h0M315 416h0M435 516h0M193 512h0M479 497h0M437 468h0M476 461h0M409 530h0M154 521h0M205 568h0M281 446h0M391 447h0M358 451h0M139 571h0M412 430h0M299 400h0M172 536h0M382 527h0M177 521h0M165 479h0M360 433h0M282 437h0M322 436h0M323 443h0M147 544h0M171 556h0M488 494h0M438 507h0M459 473h0M436 470h0M347 432h0M479 481h0M126 534h0M493 473h0M419 497h0M177 563h0" stroke="#962a8d"/>
<path d="M199 506h0M433 497h0M399 632h0M368 483h0M341 535h0M201 569h0M347 438h0M202 513h0M389 480h0M333 459h0M353 435h0M361 480h0M256 444h0M361 457h0M354 474h0M301 450h0M192 525h0M202 533h0M351 467h0M362 476h0M441 503h0M412 644h0M432 503h0M333 476h0M368 471h0M409 458h0M435 482h0M413 502h0M346 586h0M201 572h0M392 447h0M393 462h0M441 500h0M329 456h0M392 502h0M216 547h0M218 549h0M417 495h0M208 524h0M146 580h0M342 457h0M377 467h0M366 451h0M292 451h0M357 470h0M403 472h0M320 461h0M326 439h0M356 459h0M190 487h0M164 543h0M371 457h0M355 444h0M347 465h0M343 429h0M391 497h0M358 471h0M440 509h0M385 508h0M377 458h0M382 482h0M267 452h0M361 600h0M385 500h0M280 445h0M348 443h0M355 486h0M394 460h0M321 420h0M392 455h0M316 420h0M378 526h0M374 462h0M336 474h0M320 464h0M377 471h0M374 526h0M198 543h0M203 530h0M417 518h0M420 495h0M263 437h0M436 500h0M426 480h0" stroke="#8b2298"/>
<path d="M298 512h0M217 493h0M338 509h0M347 506h0M136 584h0M280 472h0M331 571h0M234 505h0M346 504h0M309 464h0M286 511h0M266 484h0M228 463h0M307 488h0M218 492h0M321 531h0M298 470h0M229 500h0M200 492h0M241 457h0M230 509h0M278 483h0M292 511h0M299 517h0M296 493h0M306 464h0M317 487h0M271 492h0M228 468h0M259 523h0M253 494h0M270 466h0M226 463h0M256 480h0M254 497h0M214 502h0M319 512h0M224 530h0M222 516h0M279 481h0M304 513h0M320 510h0M223 524h0M326 539h0M244 448h0M291 505h0M364 518h0M226 552h0M330 554h0M300 477h0M329 546h0M242 497h0M234 452h0M225 529h0M201 482h0M172 575h0M301 479h0M298 492h0M165 577h0M354 520h0M292 464h0M343 590h0M251 460h0M321 524h0M293 499h0M259 482h0M367 607h0M282 514h0M270 503h0M281 467h0M260 525h0M332 537h0M303 506h0M330 514h0M284 519h0M249 491h0M301 471h0M334 491h0M226 495h0M320 507h0M301 478h0M336 502h0M237 514h0M295 477h0M223 495h0M340 532h0M217 465h0M337 581h0M280 516h0M340 507h0M266 482h0M244 467h0M218 522h0M327 522h0M308 513h0M306 480h0M204 491h0M271 473h0M246 471h0M231 527h0M320 476h0M237 514h0M226 547h0M305 492h0M307 531h0M355 496h0M337 503h0M297 516h0M265 510h0M218 520h0M323 493h0M313 541h0M266 486h0M258 481h0M250 476h0M129 585h0M313 539h0M228 512h0M366 517h0M302 515h0M330 506h0M233 459h0M336 528h0M209 514h0M284 461h0M307 513h0M274 503h0M229 539h0M229 527h0M317 529h0M333 512h0M319 466h0M229 533h0M318 537h0M224 556h0M224 502h0M257 523h0M335 547h0M231 452h0M292 489h0M307 526h0M227 482h0M284 474h0M216 480h0M244 490h0M357 502h0M325 548h0M321 490h0M302 499h0M344 518h0M240 477h0M211 501h0M314 533h0M356 522h0M226 499h0M251 469h0M279 497h0M257 485h0M287 517h0M299 464h0M248 518h0M250 504h0M289 471h0M327 534h0M378 515h0M210 500h0M295 491h0M238 461h0M268 470h0M299 507h0M238 515h0M332 533h0M234 515h0M232 519h0M260 491h0M238 459h0M250 477h0M302 496h0M391 504h0M308 498h0M206 512h0M210 471h0M241 477h0M266 496h0M212 481h0M263 488h0M239 487h0M276 505h0M231 458h0M314 521h0M328 515h0M311 462h0M232 493h0M211 475h0M218 482h0M323 526h0M205 471h0M324 517h0M343 590h0M335 547h0M230 479h0M277 463h0M231 527h0M280 480h0M278 487h0M240 485h0M286 488h0M235 453h0M229 439h0M291 476h0M338 509h0M324 545h0M206 482h0M250 485h0M235 454h0M225 484h0M234 508h0M253 483h0M306 464h0M267 512h0M253 457h0M282 479h0M284 465h0M316 530h0M295 496h0M232 515h0M291 472h0M215 491h0M270 470h0M366 496h0M286 511h0M316 472h0M245 502h0M279 494h0M348 502h0M318 545h0M337 536h0M238 452h0M272 524h0M290 495h0M219 464h0M220 478h0M209 472h0M256 475h0M345 591h0M331 571h0M135 583h0M311 527h0M219 488h0M282 487h0M303 506h0M261 478h0M261 482h0M221 515h0M253 494h0M261 506h0M252 488h0M224 542h0M224 558h0M326 545h0M220 471h0M217 489h0M227 546h0M329 499h0M320 475h0M237 492h0M234 490h0M315 474h0M207 498h0M226 494h0M288 472h0M258 485h0M303 532h0M211 492h0M317 467h0M314 523h0M237 463h0M288 508h0M264 516h0M225 516h0M237 529h0M337 535h0M270 479h0M252 496h0M340 513h0M299 461h0M146 582h0M220 526h0M250 515h0M331 514h0M298 528h0M242 465h0M306 499h0M362 502h0M252 502h0M300 466h0M238 507h0M324 524h0M320 519h0M268 519h0M230 473h0M319 482h0M283 506h0M314 473h0M308 532h0M221 528h0M304 495h0M289 463h0M225 519h0M225 553h0M297 465h0M286 517h0M310 512h0M371 613h0M217 473h0M239 471h0M250 473h0M256 459h0M306 493h0M331 508h0M261 478h0M224 554h0M218 463h0M322 487h0M312 473h0M222 517h0M303 478h0M367 608h0M213 483h0M226 464h0M141 582h0M218 467h0" stroke="#8325c1"/>
<path d="M402 396h0M420 374h0M381 371h0M399 382h0M419 395h0M403 378h0M328 381h0M389 369h0M412 399h0M408 362h0M378 372h0M402 378h0M400 365h0M426 363h0M359 347h0M435 389h0M448 367h0M420 353h0M418 367h0M463 367h0M361 339h0M382 341h0M386 356h0M414 371h0M419 383h0M365 356h0M407 373h0M352 347h0M419 399h0M382 341h0M347 372h0M377 355h0M374 370h0M363 356h0M437 367h0M388 364h0M425 388h0M420 384h0M384 348h0M424 379h0M364 367h0M401 361h0M350 383h0M406 353h0M429 395h0M365 356h0M372 381h0M434 382h0" stroke="#b54f67"/>
<path d="M295 658h0M230 641h0M232 648h0M256 618h0M173 597h0M236 656h0M221 581h0M230 651h0M266 620h0M265 637h0M295 643h0M284 640h0M263 638h0M266 635h0M252 628h0M278 665h0M210 625h0M241 665h0M264 622h0M172 633h0M156 588h0M192 632h0M215 606h0M276 622h0M172 587h0M242 602h0M228 624h0M220 598h0M228 605h0M189 633h0M220 601h0M235 606h0M145 595h0M176 600h0M171 601h0M236 624h0M159 599h0M267 624h0M174 601h0M183 590h0M231 609h0M184 642h0M182 626h0M161 615h0M214 637h0M191 635h0M202 636h0M283 633h0M259 632h0M266 628h0M279 645h0M225 636h0M199 610h0M227 585h0M245 644h0M214 638h0M167 612h0M269 651h0M301 640h0M179 618h0M247 603h0M269 623h0M213 611h0M230 603h0M168 591h0M207 625h0M193 610h0M235 602h0M154 620h0M165 601h0M181 599h0M273 652h0M230 603h0M263 612h0M228 603h0M222 622h0M286 644h0M240 599h0M248 627h0M253 645h0M197 615h0M144 605h0M223 645h0M256 630h0M215 631h0M216 628h0M273 658h0M189 601h0M170 588h0M281 658h0M237 619h0M215 582h0M210 608h0M190 610h0M273 633h0M226 602h0M227 657h0M194 635h0M264 670h0M202 595h0M242 593h0M228 639h0M241 598h0M179 596h0M228 584h0M207 592h0M165 590h0M208 594h0M194 618h0M231 609h0M196 632h0M161 590h0M241 627h0M277 626h0M289 626h0M296 664h0" stroke="#0e137a"/>
<path d="M372 244h0M359 244h0M396 228h0M387 223h0M417 279h0M372 224h0M378 242h0M394 253h0M389 221h0M367 209h0M386 243h0M419 232h0M392 226h0M383 259h0M482 296h0M357 216h0M383 233h0M395 223h0M414 245h0M389 220h0M477 293h0M400 234h0M387 242h0M356 237h0M389 264h0M458 280h0M385 225h0M399 276h0M394 269h0M379 225h0M381 275h0M379 246h0M378 246h0M355 234h0M364 243h0M376 254h0M406 243h0M377 283h0M369 229h0M344 214h0M469 285h0M378 222h0M383 278h0M370 220h0M384 238h0M407 262h0M368 237h0M390 267h0M392 279h0M410 233h0M386 254h0" stroke="#cd8835"/>
<path d="M348 592h0M352 494h0M295 454h0M315 516h0M350 516h0M215 498h0M368 479h0M280 457h0M351 497h0M301 480h0M395 630h0M341 504h0M279 496h0M343 525h0M258 494h0M367 500h0M194 497h0M368 499h0M389 516h0M344 524h0M254 447h0M347 502h0M374 480h0M224 551h0M339 510h0M210 512h0M303 455h0M379 480h0M364 508h0M363 604h0M346 505h0M352 511h0M342 503h0M356 496h0M274 452h0M252 455h0M335 563h0M201 501h0M218 529h0M214 507h0M357 528h0M328 472h0M306 457h0M201 498h0M218 514h0M374 499h0M383 499h0M163 576h0M340 580h0M330 494h0M208 482h0M284 454h0M348 448h0M344 492h0M329 507h0M228 446h0M267 466h0M331 529h0M382 513h0M218 528h0M358 524h0M369 497h0M274 455h0M193 484h0M249 476h0M353 492h0M221 503h0M312 521h0M223 541h0M360 523h0M206 486h0M325 477h0M260 455h0M348 513h0M208 524h0M339 499h0M315 468h0M364 521h0M358 494h0M351 513h0M344 533h0M122 586h0M372 505h0M325 473h0M259 450h0M208 524h0M343 520h0M307 456h0M217 513h0M227 494h0M254 442h0M237 510h0M223 489h0M242 504h0M351 489h0M350 518h0M329 496h0M251 435h0M247 449h0M262 462h0M384 501h0M206 511h0M321 538h0M367 487h0M281 463h0M261 458h0M310 474h0M340 492h0M349 497h0M251 444h0M362 481h0M361 512h0M280 460h0M221 557h0M334 479h0M216 472h0M334 545h0M204 507h0M211 519h0M262 466h0M265 473h0M344 495h0M306 458h0M308 511h0M251 461h0M225 455h0M318 464h0M240 457h0M171 572h0M339 536h0M123 587h0M234 499h0M303 476h0M338 511h0M392 628h0M369 494h0M374 511h0M286 455h0M384 513h0M365 519h0M243 436h0M334 557h0M343 528h0M365 606h0M391 471h0M371 527h0M371 526h0M327 480h0M286 460h0M346 528h0M169 574h0M210 511h0M221 471h0M354 485h0M345 509h0M309 511h0M376 517h0M315 537h0M357 516h0M354 515h0M297 510h0M249 446h0M379 465h0" stroke="#9727bd"/>
<path d="M373 211h0M379 271h0M380 259h0M398 215h0M389 212h0M372 211h0M381 217h0M379 254h0M406 226h0M389 265h0M379 215h0M395 218h0M385 234h0M385 278h0M362 242h0M429 266h0M402 234h0M444 254h0M425 269h0M363 270h0M379 211h0M413 235h0M423 245h0M364 252h0M385 249h0M376 267h0M461 281h0M406 237h0M378 238h0M396 260h0M383 225h0M381 271h0M420 239h0M420 276h0M352 215h0M380 229h0M446 260h0M379 275h0M359 240h0M357 218h0M385 234h0M398 269h0M360 267h0M429 245h0M373 280h0M417 254h0M362 227h0M379 250h0M422 248h0M380 235h0M451 265h0M368 212h0M409 244h0M381 229h0M378 226h0M376 245h0M372 220h0M396 245h0M368 264h0M407 265h0M365 240h0M381 206h0M479 295h0M394 236h0M377 246h0M401 227h0M398 221h0M437 251h0M384 214h0M399 221h0M364 229h0M378 227h0M356 238h0M401 253h0M433 248h0M419 267h0M386 214h0M400 237h0M422 239h0M378 219h0M356 245h0M382 249h0M382 267h0M372 239h0M415 262h0M466 287h0M365 211h0M386 257h0M455 268h0M408 248h0M372 252h0M371 218h0M358 246h0M467 284h0M425 243h0M468 284h0M416 229h0M396 236h0M388 247h0M385 235h0M369 246h0M377 277h0M396 262h0M369 223h0M405 253h0M392 247h0M426 245h0M473 294h0M389 209h0M442 276h0M364 257h0M363 214h0M361 243h0M413 273h0M359 237h0M362 228h0M382 213h0M397 230h0M368 226h0M405 252h0M400 253h0M396 216h0M402 228h0M381 279h0M396 225h0M378 234h0M419 238h0M390 214h0M371 228h0M425 253h0M361 272h0M407 257h0M351 211h0M418 250h0M432 246h0M409 225h0M382 262h0M430 244h0" stroke="#faa641"/>
<path d="M362 372h0M418 573h0M455 390h0M433 391h0M462 385h0M412 405h0M428 362h0M354 389h0M349 402h0M355 383h0M319 383h0M461 539h0M357 374h0M329 372h0M363 365h0M398 386h0M400 393h0M420 370h0M443 391h0M388 553h0M412 611h0M444 598h0M442 399h0M417 589h0M348 394h0M413 579h0M368 389h0M380 372h0M308 384h0M426 384h0M409 616h0M429 566h0M405 363h0M415 583h0M418 410h0M388 369h0M429 399h0M398 592h0M415 354h0M328 375h0M428 400h0M456 387h0M349 364h0M401 379h0M423 407h0M443 400h0M329 388h0M417 584h0M348 342h0M397 609h0M435 374h0M411 399h0M407 364h0M351 353h0M347 400h0M338 394h0M353 385h0M348 383h0M448 389h0M356 568h0M407 404h0M406 621h0M336 403h0M340 406h0M401 601h0M406 604h0M358 370h0M339 372h0M398 599h0M416 574h0M411 582h0M457 381h0M422 399h0M340 356h0M425 604h0M327 385h0M456 380h0M413 406h0M425 406h0M424 587h0M322 389h0M348 374h0M401 365h0M338 406h0M343 403h0M394 546h0M425 385h0M364 361h0M363 379h0M333 401h0M349 566h0M396 547h0M437 388h0M328 379h0M355 371h0M321 381h0M335 372h0M354 353h0M354 372h0M451 388h0M419 394h0M344 387h0M327 364h0M355 382h0M390 620h0M437 589h0M353 397h0M404 619h0M391 371h0M338 387h0M346 389h0M345 401h0M404 369h0M490 446h0M320 391h0M422 374h0M455 389h0M366 385h0M345 360h0M413 377h0M353 355h0M417 575h0M401 565h0M469 551h0M344 397h0M350 379h0M372 381h0M346 369h0M394 558h0M322 388h0M410 403h0M444 402h0M434 357h0M416 372h0M364 387h0M395 389h0M408 389h0M319 391h0M412 582h0M325 391h0M410 592h0M414 388h0M340 387h0M350 360h0M398 360h0M336 387h0M457 377h0M435 387h0M457 394h0M329 388h0M355 377h0M457 383h0M353 358h0M456 393h0M415 576h0M364 393h0M336 373h0M345 350h0M403 610h0M370 382h0M360 377h0M357 386h0M443 387h0M374 364h0M414 403h0M337 395h0M338 365h0M421 598h0M341 363h0M434 614h0M372 363h0M338 374h0M433 618h0M442 388h0M401 587h0M348 395h0M432 362h0M464 546h0M410 406h0M386 373h0M380 562h0M401 573h0" stroke="#d75888"/>
<path d="M368 620h0M323 552h0M243 568h0M325 586h0M310 571h0M401 651h0M254 530h0M314 578h0M260 531h0M392 632h0M248 511h0M357 616h0M265 556h0M257 570h0M378 621h0M286 537h0M233 561h0M289 541h0M291 564h0M257 546h0M121 591h0M242 568h0M270 534h0M250 566h0M243 543h0M329 588h0M380 623h0M299 531h0M325 567h0M302 547h0M252 571h0M280 557h0M325 562h0M310 552h0" stroke="#4c1a9a"/>
<path d="M412 412h0M416 604h0M405 564h0M330 372h0M432 588h0M441 572h0M372 561h0M411 605h0M383 601h0M418 594h0M398 546h0M408 583h0M491 448h0M344 365h0M420 567h0M422 607h0M409 549h0M450 588h0M473 533h0M475 495h0M453 588h0M346 553h0M444 436h0M428 610h0M457 545h0M349 578h0M428 598h0M396 545h0M369 388h0M400 574h0M422 595h0M403 405h0M400 593h0M469 576h0M440 546h0M445 544h0M469 411h0M426 413h0M389 553h0M389 395h0M485 575h0M464 522h0M402 605h0M389 555h0M386 567h0M351 565h0M451 551h0M518 523h0M459 534h0M392 558h0M363 548h0M530 433h0M402 591h0M390 556h0M481 553h0M399 622h0M470 555h0M463 560h0M434 557h0M460 524h0M500 433h0M378 542h0M379 591h0M461 539h0M456 556h0M352 574h0M454 591h0M473 577h0M503 527h0M357 547h0M377 397h0M479 572h0M485 439h0M439 585h0M483 532h0M386 395h0M476 579h0M425 420h0M436 583h0M462 566h0M397 406h0M507 423h0M440 541h0M364 392h0M479 564h0M400 574h0M378 585h0M370 566h0M414 576h0M411 577h0M449 531h0M472 577h0M418 584h0M365 572h0M425 575h0M426 605h0M492 415h0M369 589h0M395 607h0M485 554h0M445 399h0M431 526h0M461 550h0M482 522h0M414 601h0M404 547h0M493 538h0M449 426h0M358 569h0M512 449h0M458 541h0M352 580h0M492 528h0M397 586h0M448 522h0M455 535h0M339 412h0M468 580h0M449 607h0M370 583h0M402 603h0M492 525h0M396 614h0M438 610h0M354 561h0M426 582h0M412 624h0M393 610h0M437 540h0M510 499h0M449 596h0M454 523h0M452 416h0M362 582h0M398 591h0M390 552h0M383 566h0M450 538h0M418 625h0M420 547h0M408 577h0M364 387h0M412 575h0M489 422h0M408 619h0M421 560h0M402 619h0M461 392h0M422 572h0M367 533h0M455 527h0M456 391h0M351 542h0M513 536h0M500 447h0M496 470h0M350 362h0M397 558h0M496 527h0M451 396h0M364 562h0M444 553h0M386 590h0M388 575h0M440 543h0M463 561h0M485 429h0M348 557h0M451 548h0M389 593h0M474 536h0M404 547h0M354 399h0M425 565h0M377 557h0M502 526h0M464 534h0M427 443h0M439 537h0M461 398h0M534 457h0M336 360h0M456 464h0M404 589h0M358 557h0M315 396h0M363 552h0M134 554h0M378 538h0M362 545h0M412 611h0M385 564h0M465 573h0M409 411h0M532 436h0M414 556h0M414 622h0M430 593h0M492 445h0M395 566h0M416 602h0M369 548h0M457 622h0M519 427h0M465 585h0M337 358h0M439 401h0M382 569h0M451 549h0M419 564h0M438 617h0M397 615h0M503 428h0M439 580h0M505 502h0M402 543h0M471 564h0M463 587h0M482 521h0M353 555h0M386 541h0M371 584h0M424 608h0M438 587h0M525 510h0M520 440h0M435 405h0M441 580h0M356 542h0M496 436h0M461 527h0M457 561h0M432 404h0M447 548h0M419 546h0M412 591h0M415 582h0M427 411h0M340 382h0M443 606h0M331 383h0M422 541h0M411 584h0M364 560h0M447 536h0M468 543h0M414 623h0M368 532h0M456 587h0M474 568h0M338 407h0M474 551h0M431 628h0M400 567h0M379 578h0M454 565h0M437 411h0M396 560h0M432 559h0M529 451h0M430 603h0M398 400h0M368 590h0M457 594h0M402 596h0M391 394h0M382 585h0M438 571h0M451 586h0M335 400h0M473 592h0M427 544h0M496 537h0M456 395h0M378 391h0M385 598h0M512 539h0M462 393h0M396 559h0M420 625h0M390 590h0M382 594h0M432 529h0M441 611h0M418 562h0M423 582h0M392 580h0M354 405h0M380 394h0M444 556h0M374 410h0M361 547h0M476 555h0M385 546h0M368 586h0M389 542h0M437 529h0M484 569h0M461 448h0M433 442h0M476 576h0M355 397h0M355 376h0M355 581h0M463 384h0M411 596h0M404 409h0M401 580h0M405 603h0M441 532h0M487 535h0M379 570h0M315 390h0M367 578h0M372 386h0M341 359h0M378 587h0M422 604h0M371 392h0M409 561h0M435 529h0M480 568h0M530 460h0M429 557h0M387 596h0M504 439h0M425 566h0M388 561h0M384 607h0M460 543h0M377 577h0M460 539h0M375 549h0M519 512h0M421 419h0M459 559h0M377 541h0M474 584h0M366 568h0M417 420h0M439 557h0M492 462h0M445 575h0M522 517h0M426 585h0M459 387h0M382 573h0M351 566h0M433 548h0M430 609h0M408 602h0M430 545h0M350 569h0M390 416h0M465 529h0M493 550h0M513 469h0M482 565h0M458 411h0M419 598h0M454 529h0M399 402h0M409 545h0M460 534h0M365 557h0M385 611h0M497 533h0M549 456h0M530 454h0M427 564h0M357 586h0M361 554h0M312 386h0M527 476h0M371 582h0M443 528h0M363 581h0M430 542h0M496 524h0M447 559h0M455 558h0M464 571h0M458 447h0M475 412h0M387 545h0M446 519h0M400 572h0M353 406h0M371 590h0M369 593h0M470 590h0M340 399h0M392 582h0M422 578h0M497 441h0M411 551h0M369 552h0M417 623h0M467 390h0M400 572h0M401 628h0M457 595h0M413 599h0M414 610h0M370 586h0M445 572h0M454 558h0M415 411h0M365 582h0M516 475h0M463 604h0M364 557h0M498 542h0M418 539h0M399 624h0M528 432h0M358 581h0M530 439h0M382 391h0M448 551h0M350 407h0M343 395h0M388 617h0M424 439h0M405 538h0M432 542h0" stroke="#ce4b94"/>
<path d="M393 104h0M364 93h0M362 117h0M364 90h0M356 70h0M396 62h0M414 103h0M387 71h0M369 75h0M414 95h0M391 113h0M391 86h0M385 108h0M378 102h0M411 95h0M380 57h0M391 112h0M364 75h0M374 58h0M408 91h0M386 126h0M406 137h0M366 108h0M390 105h0M341 82h0M408 94h0M353 123h0M396 100h0M342 90h0M371 50h0M340 72h0M395 97h0M402 80h0M366 102h0M369 69h0M354 125h0M474 234h0M349 73h0M356 82h0M390 118h0M349 120h0M337 103h0M376 144h0M343 98h0M371 67h0M340 103h0M336 86h0M397 77h0M342 70h0M384 104h0M363 121h0M361 82h0M403 76h0M344 58h0M350 95h0M380 52h0M367 125h0M410 98h0M382 58h0M334 83h0M372 73h0" stroke="#c4c81d"/>
<path d="M306 529h0M338 522h0M372 500h0M291 511h0M269 496h0M274 462h0M263 482h0M222 524h0M268 493h0M224 476h0M289 522h0M316 492h0M245 455h0M325 536h0M209 511h0M215 487h0M250 514h0M212 480h0M331 498h0M220 509h0M313 461h0M231 493h0M272 458h0M211 499h0M326 547h0M290 506h0M295 512h0M249 518h0M263 473h0M332 562h0M203 490h0M229 458h0M302 470h0M209 488h0M319 500h0M224 513h0M316 499h0M327 504h0M329 522h0M312 488h0M253 465h0M305 486h0M229 507h0M215 489h0M214 504h0M316 498h0M313 471h0M309 517h0M222 505h0M221 489h0M287 484h0M331 482h0M255 474h0M206 489h0M352 595h0M221 501h0M305 488h0M335 509h0M243 520h0M393 630h0M335 546h0M237 445h0M362 500h0M273 506h0M251 522h0M258 450h0M259 473h0M288 521h0M292 497h0M323 475h0M256 527h0M303 515h0M211 483h0M231 468h0M294 491h0M255 522h0M202 574h0M313 474h0M139 583h0M300 517h0M249 498h0M323 533h0M280 493h0M295 471h0M300 486h0M329 510h0M354 494h0M324 540h0M309 463h0M314 482h0M213 475h0M314 484h0M318 521h0" stroke="#6b1e9e"/>
<path d="M385 113h0M402 128h0M363 133h0M463 264h0M402 99h0M394 124h0M364 77h0M404 144h0M416 143h0M414 142h0M451 241h0M384 127h0M357 65h0M368 137h0M364 125h0M466 238h0M458 262h0M374 100h0M419 99h0M369 111h0M464 220h0M367 123h0M459 255h0M383 117h0M401 110h0M437 133h0M426 117h0M360 130h0M413 118h0M417 79h0M424 137h0M337 117h0M427 138h0M427 139h0M368 141h0M366 130h0M378 93h0M469 242h0M344 105h0M389 83h0M450 255h0M383 146h0M361 108h0M374 82h0M384 150h0M397 113h0M392 77h0M353 115h0M407 84h0M468 234h0M340 117h0M382 80h0M420 129h0M418 134h0M379 134h0M434 99h0M349 63h0M395 146h0M350 130h0M383 132h0M378 120h0M412 120h0M359 120h0M468 235h0M337 117h0M373 104h0M334 122h0M407 147h0M341 129h0M364 119h0M458 237h0M458 243h0M401 104h0M359 105h0M368 107h0M457 254h0M374 119h0M350 131h0M392 144h0M447 238h0M470 237h0M459 244h0M483 269h0M473 248h0M373 108h0M356 141h0M354 116h0M368 147h0M389 128h0M344 130h0M360 107h0M453 251h0M352 134h0M420 119h0M399 98h0M410 119h0M410 121h0M372 118h0M341 116h0M456 232h0M355 128h0M476 269h0M391 83h0M393 103h0M396 100h0M370 116h0M424 124h0M364 61h0M388 111h0M393 80h0M386 103h0M346 126h0M399 79h0M388 115h0M408 153h0M430 135h0M353 135h0M380 89h0M410 124h0M395 93h0M477 265h0M428 143h0M356 124h0M367 100h0M412 104h0M401 100h0M387 143h0M407 103h0M371 146h0M332 92h0M469 225h0M369 147h0M428 138h0M409 137h0M426 141h0M419 117h0M401 120h0M451 243h0M345 136h0M421 118h0M453 255h0M395 101h0M408 130h0M391 127h0M422 112h0M354 69h0M364 131h0M381 125h0M354 140h0M408 92h0M393 148h0M468 265h0M458 238h0M357 113h0M382 122h0M379 141h0M394 94h0M359 140h0M470 266h0M325 126h0M441 124h0" stroke="#f4e727"/>
<path d="M393 300h0M372 326h0M447 310h0M398 341h0M403 319h0M424 336h0M374 301h0M413 332h0M400 302h0M364 313h0M406 297h0M410 337h0M456 317h0M417 327h0M445 340h0M447 306h0M420 325h0M444 307h0M440 329h0M410 345h0M424 326h0M358 306h0M396 321h0M361 329h0M410 340h0M377 322h0M398 322h0M406 340h0M466 314h0M383 306h0M415 305h0M444 334h0M401 325h0" stroke="#bf5f56"/>
<path d="M349 426h0M295 442h0M413 469h0M153 525h0M155 513h0M522 435h0M460 511h0M408 533h0M348 427h0M208 534h0M369 413h0M131 568h0M402 522h0M188 538h0M139 575h0M353 457h0M414 504h0M364 459h0M411 462h0M131 557h0M440 506h0M198 532h0M453 492h0M422 503h0M406 635h0M409 434h0M475 456h0M151 518h0M192 495h0M164 500h0M178 547h0M187 503h0M439 452h0M163 573h0M410 528h0M398 424h0M191 491h0M209 558h0M282 418h0M286 408h0M279 421h0M324 459h0M165 542h0M394 435h0M180 494h0M398 502h0M288 423h0M277 438h0M299 429h0M305 400h0M466 500h0M362 436h0M177 496h0M397 469h0M358 432h0M412 468h0M358 449h0M430 461h0M454 444h0M186 572h0M320 420h0M138 564h0M430 478h0M144 556h0M376 441h0M423 481h0M317 414h0M384 526h0M202 549h0M160 559h0M441 508h0M274 442h0M457 500h0M373 423h0M190 535h0M376 434h0M358 536h0M456 492h0M417 472h0M176 529h0M131 518h0M368 444h0M128 524h0M346 424h0M447 466h0M327 411h0M186 533h0M164 527h0M403 523h0M138 547h0M423 505h0M294 419h0M396 447h0M176 568h0M524 492h0M264 446h0M258 430h0M278 428h0M387 420h0M441 509h0M396 478h0M330 413h0M490 492h0M454 498h0M342 435h0M526 502h0M432 504h0M402 433h0M178 531h0M461 504h0M415 481h0M195 518h0M408 465h0M340 554h0M305 448h0M142 513h0M153 517h0M299 423h0M468 499h0M435 472h0M431 457h0M420 477h0M451 509h0M334 471h0M410 636h0M115 553h0M514 487h0M124 533h0M366 597h0M203 562h0M423 512h0M465 434h0M425 502h0M146 572h0M490 500h0M186 519h0M448 468h0M182 524h0M414 526h0M446 481h0M331 447h0M215 550h0M409 521h0M361 433h0M415 635h0M206 563h0M424 507h0M293 408h0M187 542h0M346 585h0M155 521h0M201 546h0M294 416h0M442 486h0M432 498h0M414 507h0M472 472h0M139 562h0M140 550h0M133 566h0M397 448h0M346 534h0M284 444h0M403 453h0M401 524h0M140 513h0M420 481h0M198 553h0M451 460h0M425 517h0M183 545h0M438 515h0M351 433h0M398 450h0M461 501h0M300 443h0M423 483h0M471 462h0M164 506h0M301 441h0M177 557h0M437 466h0M134 538h0M144 547h0M142 524h0M374 417h0M417 470h0M312 439h0M310 432h0M387 523h0M132 555h0M162 506h0M399 486h0M287 444h0M174 499h0M478 505h0M119 529h0M187 559h0M193 527h0M528 473h0M469 492h0M427 528h0M531 515h0M472 490h0M390 431h0M402 443h0M322 408h0M306 428h0M308 408h0M421 500h0M177 550h0M175 525h0M422 475h0M518 484h0M372 600h0M431 496h0M293 421h0M430 466h0M114 566h0M428 480h0M143 517h0M300 437h0M132 574h0M419 477h0M155 523h0M128 543h0M438 503h0M112 551h0M335 432h0M318 435h0M136 529h0M394 520h0M114 574h0M462 491h0M419 492h0M445 470h0M301 441h0M356 435h0M436 468h0M148 576h0M138 543h0M149 538h0M341 470h0M173 555h0M367 476h0M457 409h0M147 559h0M547 480h0M281 426h0M439 500h0M436 485h0M418 482h0M148 530h0M336 432h0M164 538h0M431 470h0M201 569h0M371 530h0M119 549h0M140 538h0M191 491h0M350 434h0M147 550h0M308 399h0M178 537h0M439 464h0M435 460h0M401 489h0M438 479h0M417 445h0M149 529h0M439 508h0M195 505h0M166 551h0M136 551h0M129 531h0M287 447h0M317 419h0M146 517h0M188 555h0M424 487h0M351 447h0M339 561h0M163 554h0M498 498h0M339 436h0M171 538h0M403 431h0M402 441h0M183 552h0M156 576h0M491 488h0M182 528h0M421 455h0M417 462h0M425 471h0M274 391h0M440 514h0M457 420h0M427 491h0M343 574h0M165 549h0M439 501h0M396 425h0M289 423h0M124 569h0M350 463h0M366 440h0M361 531h0M323 411h0M396 483h0M348 422h0M488 494h0M119 557h0M384 463h0M124 530h0M339 436h0M391 425h0M377 441h0M193 571h0M180 522h0M398 436h0M283 420h0M340 564h0M437 460h0M187 552h0M290 440h0M184 509h0M167 564h0M309 418h0M440 508h0M205 567h0M454 454h0M342 566h0M275 439h0M336 470h0M185 570h0M393 450h0M470 442h0M211 554h0M389 441h0M217 557h0M422 488h0M198 559h0M433 502h0M402 448h0M414 504h0M191 524h0M309 405h0M431 479h0M371 440h0M198 549h0M379 528h0M313 430h0M413 454h0M163 521h0M158 513h0M344 450h0M154 515h0M160 547h0M403 487h0M422 517h0M183 526h0M296 417h0M183 496h0M117 548h0M433 487h0M391 443h0M496 465h0M320 437h0M442 510h0M199 559h0M275 420h0M206 552h0M165 524h0M353 440h0M173 495h0M429 503h0M176 498h0M440 488h0M385 450h0M193 528h0M180 518h0M299 406h0M417 475h0M184 496h0M410 438h0M321 430h0M338 474h0M143 549h0M414 469h0M331 436h0M481 474h0M162 570h0M428 467h0M491 503h0M188 529h0M189 563h0M416 518h0M453 476h0M304 421h0M185 538h0M183 503h0M204 538h0M182 526h0M186 528h0M329 420h0M285 426h0M176 487h0M138 565h0M396 436h0M193 564h0M161 572h0M452 473h0M402 452h0M192 506h0M477 487h0M326 421h0M316 443h0M342 427h0M410 437h0M474 431h0M435 517h0M470 428h0M409 512h0M336 427h0M153 515h0M276 422h0M178 541h0M287 440h0M364 442h0M313 431h0M480 497h0M494 493h0M135 545h0M178 504h0M388 439h0M312 420h0M153 502h0M425 480h0M302 449h0M401 456h0M191 545h0M177 526h0M479 483h0M431 458h0M450 489h0M300 438h0M350 434h0M191 572h0M464 476h0M274 434h0M451 512h0M292 437h0M394 446h0M127 570h0M165 512h0M389 533h0M406 524h0M410 489h0M463 483h0M339 435h0M126 560h0M304 429h0M421 527h0M469 485h0M272 428h0M192 517h0M190 552h0M491 503h0M418 446h0M293 427h0M302 448h0M346 468h0M404 434h0M437 487h0M454 433h0M170 550h0M174 545h0M191 539h0M350 531h0M171 543h0M216 534h0M191 557h0M393 439h0M355 438h0M260 433h0M426 461h0M429 496h0M416 427h0M144 572h0M297 430h0M419 462h0M191 522h0M464 490h0M441 466h0M290 433h0M108 550h0M435 515h0M194 553h0M440 466h0M275 427h0M319 431h0M295 439h0M166 550h0M193 505h0M193 505h0M485 481h0M416 465h0M445 444h0M391 442h0M188 550h0M142 543h0M141 559h0M181 520h0M314 423h0M197 548h0M280 448h0M346 537h0M176 553h0M419 463h0M410 474h0M419 461h0M348 421h0M433 476h0M451 475h0M410 636h0M134 573h0M196 568h0M128 532h0M184 555h0M421 497h0M133 572h0M339 470h0M390 462h0M162 512h0M395 432h0M446 463h0M154 492h0M424 447h0M401 510h0M449 505h0M179 561h0M474 490h0" stroke="#b734ad"/>
<path d="M366 493h0M396 630h0M252 462h0M219 466h0M283 462h0M369 504h0M240 478h0M270 464h0M377 508h0M147 579h0M178 575h0M381 495h0M277 449h0M266 458h0M223 509h0M203 509h0M321 472h0M267 465h0M330 493h0M250 441h0M249 445h0M277 453h0M334 514h0M295 462h0M300 510h0M208 506h0M213 520h0M181 574h0M276 463h0M383 508h0M357 519h0M232 500h0M220 526h0M196 575h0M320 464h0M353 523h0M336 534h0M122 584h0M305 520h0M359 523h0M338 486h0M193 476h0M219 463h0M262 456h0M379 519h0M348 500h0M201 494h0M357 523h0M346 589h0M349 502h0M208 516h0M336 485h0M333 552h0M221 528h0M322 509h0M228 455h0M345 522h0M221 552h0M202 482h0" stroke="#7b1f9a"/>
<path d="M372 648h0M312 602h0M170 578h0M291 606h0M326 615h0M241 547h0M295 598h0M383 649h0M278 598h0M359 648h0M371 631h0M275 559h0M279 563h0M341 608h0M371 639h0M301 562h0M328 652h0M248 545h0M306 622h0M349 622h0M274 583h0M327 661h0M274 566h0M320 555h0M284 540h0M266 559h0M347 660h0M338 635h0M367 638h0M319 573h0M383 635h0M290 569h0M309 587h0M375 648h0M271 591h0M264 582h0M293 560h0M367 626h0M330 628h0M354 619h0M308 562h0M371 643h0M347 662h0M316 637h0M348 615h0M325 583h0M264 584h0M292 553h0M376 622h0M274 591h0M365 631h0M320 617h0M280 559h0M318 610h0M277 597h0M385 637h0M326 570h0M241 549h0M283 571h0M250 569h0M271 544h0M289 578h0M391 639h0M305 622h0M314 615h0M381 633h0M315 594h0M353 624h0M266 582h0M243 560h0M351 651h0M368 660h0M231 564h0M292 595h0M312 597h0M255 543h0M258 561h0M286 595h0M246 576h0M356 628h0M345 635h0M344 656h0M382 628h0M290 580h0M372 623h0M335 608h0M177 579h0M294 591h0M320 578h0M274 534h0M294 582h0M332 626h0" stroke="#3c1893"/>
<path d="M398 221h0M457 271h0M376 237h0M377 220h0M361 205h0M365 250h0M434 247h0M414 236h0M357 235h0M359 206h0M395 214h0M419 231h0M401 213h0M426 237h0M403 215h0M385 239h0M474 285h0M453 265h0M409 221h0M360 218h0M358 213h0M378 204h0M394 212h0M467 280h0M375 204h0M397 212h0M357 207h0M473 285h0M366 211h0M456 270h0M391 205h0" stroke="#fcb23a"/>
<path d="M212 646h0M276 627h0M310 647h0M213 640h0M149 596h0M178 581h0M258 611h0M148 614h0M281 642h0M201 607h0M238 581h0M312 656h0M237 581h0M268 612h0M190 633h0M257 606h0M227 619h0M146 612h0M244 595h0M273 652h0M229 661h0M184 629h0M249 656h0M227 620h0M273 626h0M194 614h0M300 666h0M199 583h0M283 624h0M173 582h0M166 617h0M219 603h0M303 642h0M297 646h0M244 589h0M300 658h0M296 630h0M307 660h0M211 642h0M265 617h0M215 610h0M277 611h0M240 604h0M132 602h0M152 597h0M283 631h0M235 613h0" stroke="#1d1584"/>
<path d="M423 311h0M374 322h0M427 312h0M389 298h0M413 303h0M428 297h0M473 340h0M402 292h0M375 292h0M449 310h0M463 312h0M411 328h0M448 319h0M437 323h0M433 319h0M429 308h0M389 323h0M448 294h0M423 318h0M436 294h0M444 295h0M432 327h0M455 337h0M465 311h0M428 315h0M429 304h0M428 296h0M405 296h0M353 295h0M446 316h0M382 292h0M425 324h0M387 315h0M462 310h0M428 306h0M445 306h0M447 334h0M467 317h0M461 300h0M404 301h0M435 332h0M453 326h0M385 304h0M435 303h0M417 295h0M375 313h0M441 305h0M452 324h0M430 336h0M443 298h0M411 335h0M417 294h0M386 318h0M449 315h0M453 298h0M388 305h0M421 309h0M417 308h0M376 319h0M436 331h0M415 299h0M395 297h0M375 298h0M464 320h0M386 320h0M368 299h0M435 296h0M385 322h0M381 329h0M377 315h0M438 315h0M399 299h0M409 296h0M465 318h0M444 323h0M384 295h0M367 300h0M433 326h0M432 317h0" stroke="#f0815d"/>
<path d="M387 132h0M389 86h0M346 83h0M384 120h0M390 129h0M341 97h0M382 103h0M399 83h0M334 110h0M377 76h0M342 67h0M371 57h0M404 123h0M333 97h0M384 129h0M367 92h0M351 95h0M394 89h0M346 92h0M347 97h0M395 118h0M370 66h0M402 139h0M413 115h0M358 123h0M367 57h0M394 121h0M391 104h0M360 108h0M338 55h0M342 93h0M393 77h0M358 113h0M387 91h0M349 58h0M369 137h0M370 64h0M357 99h0M341 102h0M338 124h0M407 73h0M361 58h0M381 94h0M418 102h0M395 85h0M353 101h0M463 255h0M398 72h0M373 108h0M361 72h0M350 84h0M385 66h0M376 82h0M388 136h0M347 95h0M347 79h0M416 95h0M402 82h0M355 121h0M387 77h0M387 87h0M372 67h0M370 74h0M348 78h0M358 94h0M402 135h0M409 135h0M341 59h0M350 76h0M405 139h0M359 73h0M383 44h0M389 81h0M405 74h0M347 68h0M403 87h0M404 114h0M403 120h0M386 112h0M365 71h0M358 60h0M367 101h0M343 78h0M394 103h0M333 76h0M347 95h0M355 66h0M383 88h0M346 61h0M387 59h0M347 113h0M340 57h0M395 70h0M397 83h0M374 126h0M367 96h0M378 115h0M367 104h0M377 72h0M373 99h0M379 88h0M401 66h0M388 80h0M336 64h0M357 86h0M382 117h0M378 68h0M383 71h0M342 88h0M377 91h0M348 92h0M416 128h0M394 96h0M378 55h0M393 100h0M344 110h0M398 141h0M383 79h0M383 145h0M362 59h0M376 141h0M345 55h0M393 60h0M362 100h0M389 119h0M368 93h0M359 107h0M375 123h0M366 85h0M424 124h0M382 105h0M338 78h0M380 65h0M354 109h0M396 85h0M389 90h0M343 115h0M357 64h0M352 94h0M373 71h0M363 137h0M401 95h0M394 105h0M404 107h0M396 78h0M478 246h0M351 83h0M390 63h0M346 65h0M346 100h0M398 139h0M359 74h0M372 67h0M356 72h0M363 70h0M395 94h0M351 73h0M420 108h0M357 64h0M358 92h0M354 95h0M364 98h0M420 108h0M356 112h0M359 47h0M412 98h0M414 98h0M350 72h0M398 93h0M346 94h0M349 91h0M407 92h0M359 68h0M344 83h0M358 70h0M389 76h0M401 139h0M389 89h0M340 67h0M345 70h0M404 133h0M343 69h0M352 71h0M372 103h0M359 104h0M390 85h0M345 96h0" stroke="#f0f424"/>
<path d="M288 649h0M207 579h0M298 640h0M187 586h0M305 668h0M258 624h0M135 596h0M285 654h0M306 644h0M308 654h0M315 651h0M295 626h0M172 583h0M277 634h0M275 651h0M135 599h0M229 578h0M276 610h0M201 613h0M307 648h0M137 608h0M274 617h0M211 583h0M319 659h0M265 613h0M290 666h0M285 629h0M211 656h0M312 644h0M217 647h0M239 582h0M232 661h0M235 576h0M290 656h0M168 620h0M257 610h0M258 650h0M307 661h0M287 616h0M275 620h0M233 648h0M298 649h0M195 581h0M246 635h0M272 616h0M286 613h0M192 588h0M138 596h0M288 663h0M279 620h0M265 610h0M287 673h0M304 638h0M222 599h0M167 627h0M254 604h0M202 642h0M222 576h0M141 591h0M170 582h0M306 649h0M230 584h0M284 655h0M270 628h0M302 639h0M206 593h0M242 648h0M236 656h0M317 651h0M221 583h0M263 610h0M281 640h0M222 640h0M194 640h0M294 638h0M295 637h0M175 583h0M240 648h0M155 612h0M296 645h0M274 613h0M129 604h0M281 623h0M160 610h0M187 587h0M301 633h0M231 578h0M177 627h0M300 647h0M223 576h0M260 626h0M275 658h0M188 642h0M213 614h0M279 632h0M190 587h0M314 667h0M200 638h0M224 588h0M149 587h0M279 615h0M183 628h0M284 641h0M190 594h0M165 583h0M200 621h0M175 604h0M246 597h0M237 581h0M158 625h0M311 650h0M285 614h0M288 629h0M167 585h0M218 578h0M263 634h0M135 627h0M292 641h0M295 646h0M275 666h0M239 634h0" stroke="#241aa1"/>
<path d="M277 566h0M321 606h0M299 557h0M302 553h0M269 551h0M373 633h0M368 634h0M264 566h0M360 614h0M309 568h0M325 566h0M277 538h0M142 585h0M239 558h0M297 567h0M257 564h0M222 564h0M271 557h0M288 543h0M268 558h0M277 550h0M275 555h0M317 549h0M392 640h0M321 588h0M261 569h0M240 529h0M236 531h0M293 549h0M285 543h0M334 587h0M281 560h0M381 623h0M309 542h0M274 529h0M233 557h0M280 551h0M240 531h0M325 562h0M304 552h0M316 580h0M327 570h0M279 534h0M363 617h0M351 644h0M287 533h0M238 560h0M251 543h0M295 539h0M308 545h0M253 570h0M284 529h0M334 594h0M397 639h0M246 529h0M266 543h0M376 634h0M329 580h0M290 532h0M231 566h0M283 534h0M350 609h0M384 633h0M244 532h0M309 583h0M356 610h0M292 543h0M225 562h0M234 554h0M270 541h0M357 610h0M380 645h0M246 560h0M252 557h0M300 470h0M392 634h0M296 534h0M325 576h0M272 536h0M250 565h0M380 621h0M372 643h0M277 538h0M239 561h0M264 551h0M314 547h0M242 559h0M245 542h0M286 539h0M252 545h0M240 532h0M272 545h0M261 538h0M327 571h0M316 576h0M283 531h0M271 552h0M223 567h0M123 594h0M254 555h0M392 639h0M261 546h0M303 585h0M248 552h0M233 563h0M236 531h0M244 539h0" stroke="#5d20bc"/>
<path d="M391 321h0M402 318h0M368 302h0M437 307h0M446 344h0M398 325h0M378 325h0M387 320h0M403 297h0M382 304h0M397 298h0M377 304h0M384 315h0M420 324h0M424 336h0M403 312h0M468 302h0M414 299h0M418 314h0M426 300h0M410 318h0M389 303h0M439 342h0M377 329h0M410 298h0M402 321h0M441 335h0M400 295h0M393 337h0M432 328h0M383 317h0M408 322h0M447 306h0M428 305h0M453 309h0M388 332h0M394 296h0M409 334h0M406 312h0M420 318h0M356 321h0M375 322h0M438 343h0M363 321h0M415 343h0M380 330h0M452 338h0M408 331h0M375 307h0M410 298h0M440 347h0M405 329h0M447 312h0M461 310h0M411 319h0M391 336h0M440 332h0M450 336h0M447 321h0M448 342h0M398 306h0M399 310h0M413 318h0M408 319h0M450 340h0M392 330h0M457 309h0M404 301h0M448 316h0M383 319h0M446 297h0M443 341h0M426 322h0M399 321h0M430 334h0M460 333h0M457 294h0M450 342h0M352 314h0M452 338h0M454 343h0M370 320h0M420 338h0M360 322h0M406 304h0M407 336h0M376 329h0M390 329h0M391 304h0M455 319h0M377 303h0M376 313h0M367 300h0M396 320h0M400 317h0M411 308h0M427 325h0M421 341h0M416 329h0M383 327h0M367 315h0M374 309h0M365 306h0M446 348h0M373 320h0M368 309h0M386 329h0M382 318h0M372 309h0M394 326h0M395 296h0M427 335h0M432 342h0M414 310h0M406 319h0M393 319h0M406 301h0M414 296h0M396 334h0M375 312h0M424 318h0M426 297h0M469 315h0M439 308h0" stroke="#ea746a"/>
<path d="M424 144h0M441 226h0M455 224h0M447 228h0M378 149h0M431 217h0M437 139h0M448 242h0M405 151h0M431 129h0M429 222h0M460 224h0M441 217h0M379 153h0M458 230h0M443 236h0M352 138h0M349 145h0M374 153h0M436 228h0M374 111h0M390 181h0M448 185h0M463 231h0M464 234h0M443 226h0M435 224h0M452 206h0M415 151h0M449 208h0M437 224h0M458 182h0M465 228h0M371 149h0M455 199h0M455 205h0M437 230h0M442 222h0M446 240h0M394 151h0M415 147h0M441 233h0M389 154h0M376 150h0M422 156h0M457 201h0M461 225h0M347 144h0M349 146h0M450 232h0M342 144h0M447 209h0M468 223h0M456 203h0M383 154h0M473 272h0M363 144h0M358 147h0M436 220h0M446 176h0M425 146h0M450 234h0M455 218h0M454 259h0M446 211h0M456 215h0M418 136h0M370 146h0M369 147h0M453 224h0M437 219h0M460 216h0M378 152h0M425 146h0M463 227h0M436 216h0M357 142h0M444 236h0M428 217h0M355 142h0M449 214h0M435 194h0M442 243h0M407 152h0M452 229h0M434 140h0M341 130h0M465 208h0M462 263h0M404 152h0M467 265h0M429 144h0M463 235h0M365 145h0M451 186h0M466 231h0M435 195h0M460 220h0M463 214h0M455 234h0M454 208h0" stroke="#f8d92b"/>
<path d="M402 199h0M347 148h0M436 142h0M429 134h0M444 219h0M445 226h0M351 149h0M440 218h0M433 209h0M477 270h0M347 153h0M351 144h0M468 230h0M449 250h0M367 149h0M346 143h0M405 154h0M460 213h0M387 150h0M355 188h0M460 203h0M447 209h0M352 138h0M458 257h0M417 151h0M435 208h0M443 235h0M346 136h0M445 215h0M465 270h0M445 240h0" stroke="#cbb123"/>
<path d="M405 214h0M384 218h0M424 234h0M375 208h0M421 202h0M382 204h0M410 223h0M400 215h0M379 209h0" stroke="#ce912f"/>
<path d="M357 147h0M351 187h0M379 152h0M423 151h0M381 177h0M345 161h0M419 154h0M360 183h0M429 221h0M437 205h0M354 152h0M426 220h0M441 188h0M390 176h0M366 197h0M423 181h0M413 210h0M424 179h0M450 211h0M431 182h0M422 210h0M375 158h0M431 220h0M472 276h0M392 170h0M374 186h0M369 194h0M472 156h0M409 202h0M431 161h0M404 154h0M423 192h0M388 192h0M438 186h0M444 165h0M418 186h0M396 198h0M386 157h0M458 228h0M441 194h0M392 187h0M397 190h0M447 182h0M391 170h0M370 152h0M354 182h0M481 282h0M429 171h0M399 180h0M345 157h0M447 253h0M379 197h0M365 187h0M410 194h0M432 161h0M361 174h0M438 168h0M469 272h0M421 199h0M446 210h0M402 164h0M430 201h0M383 199h0M381 166h0M426 157h0" stroke="#cda726"/>
<path d="M435 262h0M433 257h0M435 266h0M371 253h0M419 261h0M442 278h0M390 266h0M441 269h0M367 269h0M439 273h0M417 277h0M431 256h0M382 262h0M362 278h0M381 281h0M436 284h0M399 273h0M413 277h0M376 267h0M459 281h0M437 282h0M384 248h0M401 278h0M386 238h0M482 300h0M417 261h0M395 285h0M432 262h0M404 288h0M424 253h0M435 285h0M422 272h0M458 284h0M368 284h0M365 273h0M409 282h0M394 250h0M455 287h0M396 251h0M452 281h0M416 272h0M395 263h0M435 275h0M449 284h0M437 262h0M429 282h0M426 254h0M373 274h0M421 247h0M396 290h0M370 265h0M420 258h0M454 285h0M450 271h0M388 249h0M409 284h0M415 257h0M371 281h0M405 247h0M415 253h0M444 271h0M439 271h0M435 274h0M376 259h0M439 263h0M400 276h0M403 283h0M439 262h0M367 265h0M362 280h0M385 265h0M415 284h0M380 260h0M406 263h0M422 259h0M390 258h0M416 249h0M409 233h0M432 261h0M423 281h0M452 271h0M445 283h0M395 248h0M364 277h0M381 217h0M381 270h0M413 264h0M365 264h0M440 259h0M469 295h0M438 281h0M372 285h0M420 256h0M403 282h0M425 257h0M367 275h0M373 269h0M393 265h0M385 256h0M428 266h0M431 260h0M389 270h0M394 283h0M374 262h0M430 274h0M423 247h0M408 236h0M394 262h0M455 277h0M391 269h0M401 271h0M412 274h0M381 253h0M450 285h0M403 252h0M434 272h0M374 284h0M397 261h0M372 264h0M456 286h0" stroke="#f79a49"/>
<path d="M309 542h0M236 531h0M245 507h0M325 524h0M259 533h0M303 528h0M212 569h0M276 528h0M287 521h0M255 529h0M228 547h0M236 527h0M332 528h0M264 487h0M303 473h0M231 553h0M183 578h0M231 539h0M162 579h0M226 562h0M284 526h0M266 503h0M288 536h0M291 544h0M231 538h0M330 562h0M250 525h0M280 509h0M213 488h0M236 489h0M296 525h0M250 504h0M256 532h0M259 505h0M274 475h0M305 514h0M228 536h0M233 539h0M280 522h0M281 520h0M234 540h0M327 552h0M333 542h0M316 547h0M375 617h0M306 503h0M232 541h0M244 522h0M233 532h0M345 592h0M222 521h0M281 476h0M284 471h0M297 513h0M261 489h0M275 510h0M365 611h0M283 486h0M248 530h0M255 503h0M315 489h0M245 526h0M296 530h0M289 522h0M297 532h0M335 535h0M250 522h0M243 524h0M297 488h0M329 575h0M312 487h0M249 489h0M222 514h0M140 585h0M292 517h0M400 640h0M228 542h0M273 529h0M325 553h0M260 498h0M242 525h0M338 588h0M252 526h0M327 499h0M267 504h0M286 513h0M296 526h0M338 523h0M406 653h0M268 484h0M272 487h0M292 501h0M274 515h0M229 543h0M232 524h0M269 516h0M262 515h0M164 578h0M252 492h0M304 532h0M240 518h0M251 523h0M376 617h0M169 575h0M376 617h0M219 566h0M273 522h0" stroke="#7022c4"/>
<path d="M354 181h0M436 170h0M369 164h0M356 199h0M416 173h0M439 174h0M385 182h0M422 225h0M421 181h0M420 177h0M377 159h0M427 183h0M424 204h0M464 274h0M362 157h0M398 206h0M382 202h0M367 161h0M400 190h0M404 191h0M375 195h0M396 208h0M437 244h0M339 160h0M359 186h0M391 173h0M401 200h0M389 193h0M397 187h0M425 197h0M373 174h0M352 196h0M429 177h0M409 207h0M392 170h0M405 215h0M359 183h0M425 204h0M416 225h0M361 192h0M362 167h0M420 190h0M357 176h0M385 169h0M440 181h0M443 170h0M351 188h0M349 177h0M426 172h0M452 261h0M393 206h0M392 188h0M429 184h0M466 273h0M408 214h0M402 174h0M435 166h0M431 238h0M382 187h0M408 219h0M410 217h0M438 151h0M425 182h0M393 191h0M391 169h0M404 179h0M359 157h0M438 179h0M394 208h0M383 198h0M474 283h0M433 204h0M375 198h0M440 192h0M413 180h0M422 165h0M397 203h0M418 203h0M399 203h0M439 180h0M431 196h0M430 191h0M352 186h0M365 201h0M463 274h0M417 178h0M411 183h0M419 182h0M406 161h0M377 183h0M427 238h0M426 201h0M475 284h0M426 172h0M411 193h0M440 191h0M414 187h0M401 200h0M404 214h0" stroke="#fbbf35"/>
<path d="M434 273h0M365 291h0M369 286h0M372 287h0M446 296h0M469 302h0M474 295h0M443 287h0M445 291h0M385 289h0M411 290h0M414 290h0M451 290h0M365 286h0M374 291h0M425 289h0M470 296h0M456 284h0M468 292h0M480 322h0M427 264h0M442 288h0M442 271h0M364 292h0M375 294h0M366 285h0M463 294h0M454 291h0M450 284h0M392 287h0M365 285h0M370 287h0M419 284h0M470 297h0M441 266h0" stroke="#f58e50"/>
<path d="M450 225h0M472 271h0M427 140h0M401 101h0M420 96h0M409 127h0M430 122h0M410 120h0M410 129h0M470 266h0M405 149h0M462 253h0M477 262h0M383 137h0M413 92h0M414 119h0M406 145h0M407 106h0M463 250h0M443 236h0M423 133h0M428 135h0M349 51h0M458 245h0M409 100h0M470 241h0M364 137h0M390 134h0M424 123h0M404 147h0M353 132h0M371 145h0M342 114h0M390 141h0M471 233h0M399 147h0M345 120h0M391 100h0M395 144h0M399 77h0M344 126h0M363 132h0M403 149h0M391 120h0M367 68h0" stroke="#c8bd1f"/>
<path d="M445 541h0M411 622h0M422 603h0M520 530h0M322 396h0M421 595h0M456 392h0M379 571h0M465 531h0M448 531h0M361 580h0M465 565h0M402 552h0M394 559h0M437 568h0M356 394h0M425 619h0M417 618h0M494 528h0M396 597h0M396 557h0M419 611h0M403 550h0M380 560h0M497 428h0M444 520h0M317 397h0M396 571h0M440 571h0M461 536h0M357 574h0M490 439h0M410 578h0M482 457h0M450 535h0M516 455h0M455 613h0M470 416h0M443 558h0M501 549h0M414 617h0M392 393h0M386 548h0M326 399h0M382 545h0M462 543h0M350 359h0M516 452h0M417 559h0M433 582h0M491 530h0M486 555h0M446 601h0M423 588h0M334 405h0M494 533h0M358 535h0M490 530h0M525 500h0M367 547h0M443 578h0M329 411h0M408 564h0M422 620h0M506 519h0M356 577h0M456 526h0M350 407h0M355 585h0M411 563h0M526 461h0M422 594h0M478 547h0M345 397h0M429 421h0M413 618h0M418 419h0M400 545h0M385 586h0M392 393h0M356 577h0M369 548h0M364 550h0M420 625h0M392 545h0M393 598h0M373 537h0M390 589h0M413 594h0M466 576h0M448 525h0M415 619h0M362 395h0M399 564h0M378 572h0M337 409h0M455 603h0M361 554h0M383 538h0M463 584h0M427 601h0M370 544h0M498 545h0M434 601h0M406 575h0M419 588h0M360 583h0M405 594h0M398 606h0M469 391h0M389 552h0M448 551h0M371 544h0M402 557h0M464 572h0M399 602h0M410 618h0M351 564h0M423 579h0M451 555h0M348 410h0M319 393h0M538 455h0M498 532h0M438 578h0M337 362h0M455 577h0M398 552h0M403 595h0M504 456h0M521 444h0M430 541h0M370 586h0M378 568h0M393 605h0M378 555h0M422 552h0M347 403h0M534 461h0M408 419h0M439 408h0M374 583h0M355 573h0M404 589h0M532 465h0M385 581h0M369 582h0M512 462h0M355 547h0M439 403h0" stroke="#a83d79"/>
<path d="M421 346h0M348 323h0M380 360h0M444 350h0M444 348h0M396 342h0M360 325h0M371 372h0M374 315h0M366 331h0M388 341h0M392 348h0M434 343h0M402 345h0M366 330h0M393 338h0M448 345h0M379 335h0M389 313h0M391 373h0M364 344h0M406 347h0" stroke="#ba575f"/>
<path d="M417 389h0M363 348h0M411 390h0M327 372h0M423 602h0M400 382h0M413 362h0M369 553h0M443 387h0M349 393h0M350 401h0M401 582h0M402 624h0M339 368h0M349 356h0M409 399h0M418 385h0M443 596h0M433 610h0M353 389h0M352 377h0M449 376h0M392 574h0M417 614h0M337 371h0M361 382h0M333 375h0M354 390h0M375 577h0M344 380h0M423 405h0M416 387h0M436 398h0M345 355h0M414 373h0M462 382h0M336 363h0M352 391h0M347 368h0M448 587h0M324 386h0M342 384h0M355 375h0M397 573h0M425 366h0M433 602h0M417 358h0M421 365h0M362 577h0M392 562h0M444 393h0M329 375h0M450 361h0M442 373h0M406 400h0" stroke="#b0486f"/>
<path d="M355 623h0M332 643h0M365 646h0M307 594h0M298 605h0M326 664h0M323 611h0M248 580h0M299 659h0M310 636h0M130 600h0M275 590h0M271 600h0M296 578h0M279 613h0M254 591h0M314 638h0M302 662h0M325 630h0M308 613h0M371 647h0M297 615h0M252 586h0M321 630h0M258 590h0M248 585h0M319 649h0M313 632h0M289 571h0M265 582h0M328 609h0M291 566h0M319 612h0" stroke="#2d168d"/>
<path d="M406 352h0M396 347h0M401 350h0M410 347h0M370 332h0M370 330h0M407 347h0M368 330h0M373 342h0M359 335h0M414 348h0M375 336h0M356 333h0M435 349h0M394 347h0M374 315h0M372 352h0M398 378h0M451 355h0M369 361h0M354 329h0M391 345h0M376 326h0M375 334h0M382 312h0M403 346h0M420 348h0M397 345h0M363 376h0M385 338h0M357 339h0M369 343h0M385 333h0M429 349h0M359 330h0M358 318h0M392 327h0M444 348h0M412 334h0" stroke="#e46b74"/>
<path d="M439 274h0M481 305h0M474 299h0M427 289h0M399 245h0M411 241h0M408 274h0M438 271h0M440 283h0M412 273h0M410 283h0M412 279h0M399 263h0M431 278h0M431 274h0M451 278h0M391 281h0M376 255h0M364 271h0M393 272h0M435 277h0M435 290h0M440 266h0M379 265h0M431 249h0M384 253h0M393 280h0M425 248h0M390 252h0M420 269h0M393 259h0M417 279h0M385 247h0M396 267h0M485 306h0M403 237h0M357 237h0M404 236h0M365 255h0" stroke="#ca7e3b"/>
<path d="M453 307h0M435 298h0M444 298h0M374 294h0M446 319h0M429 322h0M444 309h0M368 302h0M381 291h0M393 305h0M453 317h0M445 320h0M439 334h0M416 317h0M389 294h0M438 310h0M403 295h0M388 295h0M400 306h0M443 317h0M411 291h0M449 297h0M425 327h0M433 333h0M396 292h0M361 291h0M439 324h0M396 289h0M431 312h0M426 320h0M438 334h0M433 317h0M450 321h0M434 323h0M397 293h0" stroke="#c4694c"/>
<path d="M332 584h0M280 513h0M276 512h0M258 520h0M218 567h0M256 498h0M262 510h0M334 568h0M314 515h0M164 577h0M280 524h0M400 642h0M268 493h0M254 507h0M319 535h0M227 555h0M269 518h0M271 493h0M244 509h0M279 517h0M400 640h0M265 484h0M257 497h0M299 521h0M253 506h0M275 516h0M182 579h0M261 473h0M252 507h0M318 486h0M389 627h0M257 499h0M222 564h0M370 612h0M400 639h0M275 506h0M243 523h0" stroke="#5b1ba0"/>
<path d="M475 299h0M470 299h0M431 309h0M363 288h0M448 291h0M392 288h0M393 287h0M446 291h0M386 281h0M358 284h0M415 289h0M413 291h0M410 285h0M463 297h0M453 290h0" stroke="#c87441"/>
</g>
<g transform="translate(880 420) scale(0.5)" fill="none" stroke-linecap="round" stroke-width="2.2" stroke-opacity="0.8">
<path d="M327 651h0M320 620h0M504 546h0M410 578h0M492 502h0M381 448h0M392 439h0M141 555h0M430 233h0M384 382h0M381 647h0M249 584h0M468 252h0M390 345h0M464 536h0M455 204h0M363 162h0M234 657h0M399 557h0M456 433h0M456 442h0M176 571h0M298 508h0M367 334h0M341 58h0M316 539h0M377 507h0M454 186h0M516 536h0M412 241h0M395 361h0M236 562h0M257 521h0M323 440h0M289 566h0M475 307h0M365 109h0M426 508h0M379 281h0M372 157h0M423 175h0M285 416h0M326 645h0M317 465h0M412 477h0M476 253h0M460 491h0M359 332h0M263 428h0M521 490h0M261 461h0M218 623h0M210 589h0M180 505h0M305 606h0M210 492h0M351 492h0M389 211h0M235 601h0M378 400h0M421 310h0M137 557h0M380 117h0M392 333h0M283 543h0M437 283h0M175 530h0M487 560h0M325 545h0M193 497h0M205 496h0M240 517h0M513 518h0M379 467h0M428 249h0M503 519h0M404 637h0M360 526h0M370 179h0M430 336h0M356 529h0M320 544h0M391 203h0M165 603h0M440 172h0M378 226h0M420 222h0M370 446h0M415 297h0M373 547h0M168 510h0M370 355h0M363 357h0M368 368h0M363 457h0M391 538h0M346 520h0M349 528h0M178 512h0M384 125h0M505 537h0M456 229h0M517 487h0M460 552h0M448 491h0M169 501h0M285 529h0M395 67h0M473 311h0M361 503h0M306 476h0M177 496h0M379 192h0M385 291h0M321 646h0M233 516h0M228 656h0M398 592h0M347 646h0M370 598h0M360 615h0M342 489h0M444 259h0M410 262h0M289 660h0M253 456h0M345 556h0M424 315h0M502 483h0M540 440h0M317 541h0M446 273h0M304 594h0M396 296h0M310 446h0M398 520h0M228 660h0M414 470h0M487 546h0M206 502h0M259 515h0M326 416h0M243 472h0M461 238h0M429 326h0M485 435h0M224 557h0M389 337h0M428 236h0M309 586h0M467 476h0M391 554h0M423 325h0M273 582h0M425 465h0M264 647h0M158 539h0M120 537h0M139 602h0M184 502h0M422 436h0M437 178h0M392 173h0M315 646h0M363 461h0M206 506h0M256 620h0M400 82h0M207 556h0M432 379h0M450 335h0M222 584h0M434 443h0M443 521h0M417 489h0M446 239h0M296 526h0M383 211h0M349 82h0M331 641h0M445 474h0M480 452h0M409 623h0M237 468h0M351 517h0M415 155h0M463 575h0M394 266h0M380 262h0M374 460h0M416 171h0M319 608h0M300 463h0M425 471h0M306 582h0M338 406h0M456 281h0M502 470h0M396 424h0M280 512h0M406 290h0M176 561h0M248 573h0M488 510h0M428 565h0M421 326h0M498 493h0M436 585h0M327 437h0M262 493h0M458 506h0M364 78h0M320 588h0M394 466h0M533 456h0M372 470h0M408 486h0M498 498h0M389 530h0M406 587h0M259 651h0M301 654h0M250 575h0M267 551h0M254 541h0M396 122h0M361 487h0M353 135h0M219 589h0M213 619h0M300 438h0M173 587h0M213 504h0M142 602h0M384 318h0M382 515h0M313 563h0M476 416h0M140 548h0M425 338h0M245 667h0M369 462h0M437 520h0M445 468h0M427 483h0M347 61h0M358 441h0M379 535h0M438 368h0M213 536h0M517 460h0M296 668h0M233 605h0M422 153h0M361 331h0M363 546h0M125 564h0M522 461h0M413 533h0M153 518h0M471 449h0M256 457h0M336 440h0M313 647h0M200 506h0M470 289h0M321 583h0M340 622h0M457 304h0M307 625h0M272 504h0M220 499h0M395 256h0M422 475h0M405 277h0M401 257h0M397 495h0M192 564h0M205 525h0M343 445h0M445 294h0M420 619h0M474 495h0M356 116h0M228 469h0M149 546h0M376 191h0M378 282h0M175 558h0M193 598h0M356 599h0M438 290h0M413 128h0M356 152h0M414 507h0M205 620h0M179 630h0M466 400h0M406 419h0M366 642h0M219 466h0M445 604h0M421 359h0M234 608h0M355 500h0M376 591h0M381 538h0M405 119h0M373 116h0M353 566h0M157 620h0M198 612h0M337 484h0M475 288h0M524 433h0M364 643h0M469 496h0M363 146h0M188 569h0M389 576h0M489 487h0M475 400h0M341 409h0M351 173h0M253 595h0M344 511h0M404 539h0M454 551h0M239 599h0M387 220h0M391 437h0M429 239h0M377 290h0M329 434h0M377 553h0M345 414h0M398 249h0M377 452h0M311 573h0M452 556h0M444 320h0M373 137h0M405 492h0M361 515h0M425 207h0M506 458h0M421 168h0M393 196h0M346 172h0M356 375h0M424 457h0M420 571h0M453 572h0M397 590h0M203 601h0M358 223h0M239 626h0M431 457h0M199 598h0M301 545h0M454 459h0M398 340h0M280 508h0M197 526h0M432 405h0M259 527h0M376 291h0M514 467h0M454 520h0M357 79h0M428 186h0M316 484h0M282 555h0M379 158h0M196 598h0M363 525h0M364 315h0M386 630h0M269 488h0M380 56h0M247 643h0M297 503h0M465 555h0M242 504h0M360 495h0M430 595h0M407 369h0M376 402h0M366 610h0M431 236h0M464 427h0M527 477h0M374 318h0M337 528h0M424 550h0M483 406h0M348 535h0M213 549h0M239 629h0M431 330h0M316 666h0M426 468h0M191 626h0M381 612h0M350 186h0M303 665h0M437 226h0M291 477h0M413 370h0M421 360h0M139 519h0M412 154h0M353 164h0M290 544h0M272 647h0M424 348h0M138 568h0M344 407h0M369 639h0M362 508h0M432 137h0M338 620h0M457 384h0M356 341h0M293 606h0M309 614h0M292 604h0M178 584h0M329 532h0M431 460h0M288 593h0M410 217h0M354 469h0M350 212h0M234 543h0M179 511h0M466 453h0M377 551h0M371 488h0M357 377h0M337 591h0M352 541h0M363 332h0M365 554h0M344 378h0M437 571h0M412 419h0M317 655h0M443 512h0M315 514h0M461 224h0M512 513h0M445 252h0M257 614h0M126 559h0M529 444h0M275 563h0M391 157h0M501 437h0M200 577h0M298 528h0M270 644h0M288 483h0M405 207h0M405 427h0M274 495h0M213 556h0M266 571h0M364 217h0M454 485h0M194 567h0M483 538h0M453 410h0M484 562h0M403 606h0M244 599h0M520 441h0M377 194h0M226 658h0M361 622h0M531 445h0M493 540h0M484 417h0M133 597h0M362 163h0M197 484h0M432 264h0M401 406h0M339 512h0M183 488h0M199 539h0M474 519h0M413 242h0M451 585h0M339 84h0M249 650h0M439 401h0M453 338h0M349 123h0M302 632h0M441 609h0M384 182h0M311 482h0M458 566h0M433 184h0M185 619h0M211 551h0M383 471h0M352 92h0M350 141h0M209 618h0M372 103h0M404 284h0M400 218h0M165 589h0M235 502h0M369 177h0M308 417h0M321 472h0M283 532h0M298 414h0M365 350h0M450 232h0M428 176h0M346 419h0M442 451h0M406 125h0M201 490h0M523 465h0M182 502h0M355 361h0M426 474h0M378 113h0M398 166h0M369 269h0M226 662h0M378 403h0M291 588h0M246 543h0M443 323h0M321 573h0M454 593h0M415 347h0M358 219h0M426 384h0M351 631h0M383 460h0M348 633h0M466 403h0M486 462h0M438 475h0M484 546h0M439 318h0M213 571h0M135 558h0M431 353h0M468 518h0M358 405h0M369 507h0M211 500h0M465 528h0M186 535h0M394 315h0M481 430h0M419 279h0M424 353h0M490 502h0M407 77h0M489 525h0M508 499h0M368 559h0M159 571h0M377 301h0M403 550h0M311 520h0M193 515h0M445 273h0M444 439h0M439 400h0M412 94h0M340 654h0M406 587h0M442 483h0M380 261h0M305 640h0M493 557h0M151 600h0M367 116h0M356 555h0M314 606h0M248 614h0M416 154h0M249 528h0M376 581h0M355 115h0M255 591h0M240 554h0M327 398h0M465 475h0M328 612h0M128 529h0M305 505h0M190 561h0M458 225h0M491 556h0M160 502h0M287 633h0M342 419h0M362 304h0M335 436h0M377 206h0M326 392h0M530 468h0M371 241h0M402 376h0M478 531h0M436 516h0M415 261h0M400 281h0M339 421h0M436 183h0M389 527h0M407 126h0M362 649h0M370 308h0M178 620h0M520 435h0M540 452h0M279 586h0M396 133h0M444 242h0M441 545h0M232 533h0M291 492h0M395 157h0M348 541h0M303 645h0M338 542h0M377 455h0M401 263h0M477 454h0M508 536h0M166 530h0M339 433h0M392 269h0M290 468h0M171 574h0M196 480h0M365 506h0M382 110h0M55 504h0M50 500h0M66 504h0M79 505h0M73 506h0M78 504h0M61 502h0M59 504h0M64 503h0M62 499h0" stroke="#fff"/>
</g>
<g transform="translate(880 420) scale(0.5)" fill="none" stroke-linecap="round" stroke-width="1.8" stroke-opacity="0.6">
<path d="M277 622h0M499 543h0M493 234h0M243 603h0M475 558h0M477 256h0M366 545h0M412 631h0M374 361h0M375 179h0M360 392h0M448 408h0M392 299h0M416 302h0M249 556h0M181 497h0M461 231h0M265 527h0M349 64h0M437 605h0M331 560h0M381 458h0M313 466h0M424 165h0M284 580h0M242 614h0M253 611h0M525 433h0M335 563h0M185 528h0M459 553h0M389 592h0M258 495h0M345 85h0M272 445h0M449 231h0M485 526h0M205 482h0M450 584h0M209 493h0M184 535h0M184 564h0M493 503h0M288 632h0M515 434h0M475 395h0M298 617h0M446 369h0M357 477h0M426 597h0M384 338h0M254 538h0M294 567h0M260 444h0M430 499h0M459 216h0M415 148h0M345 601h0M418 460h0M398 62h0M345 55h0M257 484h0M435 209h0M397 368h0M324 391h0M431 323h0M335 380h0M344 391h0M395 396h0M251 627h0M477 561h0M432 293h0M248 647h0M506 472h0M402 507h0M380 519h0M458 425h0M470 502h0M425 467h0M397 70h0M274 557h0M453 329h0M424 380h0M452 316h0M225 551h0M472 509h0M351 584h0M331 559h0M188 495h0M409 491h0M288 538h0M359 514h0M353 74h0M301 635h0M150 543h0M374 644h0M244 599h0M325 519h0M477 521h0M424 174h0M397 376h0M351 67h0M303 621h0M455 496h0M211 577h0M373 145h0M397 611h0M375 506h0M419 259h0M213 625h0M129 522h0M278 619h0M162 582h0M372 529h0M406 171h0M421 562h0M243 448h0M340 470h0M399 607h0M391 293h0M296 597h0M533 445h0M331 393h0M476 468h0M386 348h0M435 374h0M185 506h0M453 234h0M409 383h0M442 488h0M158 557h0M283 509h0M537 476h0M271 560h0M482 491h0M265 456h0M411 110h0M344 597h0M388 396h0M253 515h0M344 557h0M344 642h0M376 637h0M385 587h0M418 221h0M429 175h0M473 574h0M412 164h0M384 252h0M294 442h0M301 517h0M430 466h0M309 497h0M430 559h0M262 571h0M464 546h0M312 563h0M315 644h0M427 425h0M380 206h0M225 510h0M339 493h0M349 157h0M489 522h0M284 656h0M398 624h0M368 229h0M300 515h0M397 369h0M441 277h0M345 654h0M279 461h0M320 490h0M458 457h0M454 520h0M322 530h0M329 563h0M281 484h0M396 308h0M415 575h0M345 382h0M383 79h0M310 464h0M272 658h0M396 581h0M388 237h0M333 427h0M411 85h0M371 360h0M229 597h0M356 376h0M478 517h0M402 581h0M314 578h0M349 426h0M285 644h0M412 206h0M260 488h0M386 391h0M323 509h0M304 526h0M270 542h0M270 445h0M423 199h0M334 561h0M429 200h0M340 651h0M511 500h0M305 629h0M390 574h0M376 641h0M361 350h0M423 220h0M429 386h0M443 274h0M204 597h0M335 365h0M350 400h0M187 533h0M479 439h0M142 531h0M236 590h0M360 166h0M235 470h0M443 176h0M369 551h0M352 168h0M515 514h0M382 375h0M443 254h0M406 314h0M430 238h0M287 464h0M365 214h0M354 480h0M373 188h0M457 557h0M309 393h0M377 275h0M385 597h0M377 383h0M252 614h0M393 318h0M337 624h0M415 552h0M187 541h0M350 436h0M427 238h0M366 444h0M425 453h0M393 424h0M365 523h0M222 595h0M353 657h0M442 174h0M386 565h0M470 286h0M382 256h0M473 268h0M364 306h0M466 461h0M471 291h0M413 277h0M334 632h0M372 169h0M458 405h0M232 574h0M365 468h0M311 607h0M326 491h0M472 439h0M222 577h0M444 239h0M429 367h0M408 561h0M259 590h0M497 493h0M452 506h0M393 204h0M269 423h0M215 630h0M361 559h0M451 518h0M425 445h0M486 461h0M447 568h0M380 478h0M475 268h0M422 559h0M435 478h0M395 586h0M382 101h0M290 636h0M453 236h0M231 489h0M237 479h0M161 551h0M269 640h0M391 549h0M443 311h0M274 517h0M191 483h0M217 555h0M398 275h0M385 457h0M240 553h0M350 457h0M483 473h0M251 569h0M242 457h0M260 471h0M409 605h0M269 489h0M454 422h0M401 300h0M364 188h0M384 219h0M367 58h0M402 200h0M394 580h0M379 224h0M424 421h0M363 560h0M172 603h0M399 487h0M355 507h0M363 566h0M322 506h0M464 233h0M309 534h0M412 121h0M429 551h0M350 435h0M319 598h0M336 654h0M335 560h0M376 115h0M481 491h0M332 368h0M376 493h0M418 251h0M346 143h0M469 311h0M459 228h0M156 604h0M286 654h0M436 229h0M279 435h0M341 510h0M308 452h0M324 594h0M213 518h0M346 81h0M342 588h0M434 456h0M363 628h0M384 175h0M397 515h0M361 229h0M173 526h0M424 165h0M491 436h0M223 455h0M464 497h0M375 520h0M476 556h0M526 495h0M216 524h0M235 460h0M406 304h0M333 639h0M444 451h0M225 638h0M434 321h0M230 566h0M232 644h0M223 481h0M398 284h0M199 569h0M482 561h0M416 202h0M467 474h0M373 115h0M357 644h0M380 118h0M422 517h0M513 439h0M247 598h0M408 182h0M291 471h0M139 526h0M309 545h0M230 621h0M405 498h0M356 504h0M459 233h0M421 510h0M278 528h0M227 533h0M176 582h0M305 445h0M422 122h0M386 585h0M206 648h0M399 335h0M351 188h0M485 456h0M400 290h0M461 260h0M445 299h0M217 581h0M486 563h0M435 286h0M175 530h0M518 430h0M373 652h0M442 600h0M188 618h0M185 539h0M243 449h0M451 324h0M309 496h0M455 230h0M445 588h0M467 536h0M455 193h0M367 507h0M428 173h0M463 516h0M241 622h0M396 549h0M366 253h0M464 275h0M158 578h0M223 491h0M324 522h0M507 490h0M426 336h0M270 628h0M452 194h0M358 188h0M333 400h0M523 485h0M366 287h0M299 455h0M399 582h0M349 641h0M362 238h0M243 606h0M318 533h0M386 353h0M305 509h0M396 525h0M395 184h0M166 597h0M368 541h0M348 401h0M130 525h0M462 308h0M375 287h0M404 453h0M330 502h0M408 204h0M155 504h0M529 437h0M304 579h0M251 527h0M449 539h0M221 604h0M407 258h0M374 648h0M472 487h0M287 617h0M296 596h0M332 506h0M264 519h0M429 317h0M186 564h0M368 368h0M288 434h0M238 471h0M194 557h0M437 515h0M477 419h0M138 582h0M472 546h0M430 169h0M445 312h0M417 439h0M505 495h0M406 205h0M327 533h0M450 237h0M491 470h0M369 114h0M397 372h0M431 498h0M358 106h0M397 68h0M301 486h0M185 564h0M500 472h0M229 657h0M303 409h0M380 434h0M149 505h0M320 608h0M157 588h0M247 580h0M341 129h0M247 590h0M428 589h0M407 495h0M228 501h0M494 491h0M414 473h0M344 394h0M364 341h0M457 590h0M365 211h0M349 193h0M274 463h0M314 621h0M371 255h0M442 495h0M392 205h0M430 333h0M431 549h0M359 231h0M150 581h0M326 552h0M399 98h0M240 563h0M385 378h0M433 320h0M477 267h0M381 486h0M293 570h0M291 464h0M345 70h0M312 471h0M418 413h0M436 354h0M297 599h0M428 346h0M316 431h0M189 548h0M300 472h0M479 523h0M163 625h0M249 473h0M337 478h0M297 607h0M189 565h0M240 523h0M473 567h0M194 488h0M327 399h0M439 604h0M474 458h0M353 388h0M143 536h0M345 467h0M422 255h0M418 92h0M234 445h0M393 627h0M530 438h0M369 480h0M249 621h0M367 444h0M435 200h0M416 190h0M494 524h0M127 532h0M422 567h0M345 158h0M424 523h0M255 636h0M438 444h0M463 250h0M438 498h0M469 545h0M363 223h0M232 652h0M366 406h0M372 461h0M412 533h0M464 240h0M267 664h0M248 503h0M452 583h0M357 443h0M506 508h0M243 480h0M316 386h0M370 238h0M197 651h0M223 519h0M327 565h0M459 314h0M414 92h0M252 599h0M302 653h0M321 627h0M281 517h0M431 341h0M458 247h0M273 655h0M455 513h0M419 294h0M344 597h0M268 505h0M248 547h0M345 559h0M121 559h0M222 507h0M230 569h0M292 638h0M163 560h0M433 222h0M230 606h0M284 418h0M168 501h0M364 392h0M235 498h0M472 541h0M356 642h0M238 469h0M417 275h0M345 497h0M413 530h0M369 635h0M273 611h0M273 513h0M419 211h0M216 525h0M407 534h0M347 385h0M186 556h0M524 430h0M391 135h0M447 310h0M479 457h0M482 517h0M435 491h0M255 520h0M376 352h0M192 500h0M392 584h0M361 220h0M474 566h0M504 546h0M519 481h0M355 423h0M181 619h0M376 67h0M398 486h0M436 546h0M452 481h0M284 651h0M457 529h0M344 160h0M131 556h0M361 259h0M412 500h0M446 341h0M415 512h0M259 503h0M287 617h0M447 267h0M400 352h0M289 673h0M450 212h0M195 585h0M427 142h0M492 440h0M360 624h0M375 472h0M371 376h0M246 583h0M466 244h0M452 528h0M442 448h0M351 342h0M398 154h0M328 666h0M334 86h0M286 436h0M423 254h0M494 467h0M279 561h0M385 636h0M367 496h0M217 516h0M418 530h0M278 508h0M384 68h0M407 388h0M378 490h0M164 612h0M328 535h0M468 256h0M441 579h0M286 447h0M352 511h0M455 482h0M493 512h0M296 619h0M513 547h0M365 366h0M430 226h0M258 497h0M220 557h0M406 591h0M359 374h0M271 476h0M502 454h0M190 542h0M243 549h0M420 258h0M296 428h0M279 566h0M387 543h0M406 288h0M193 646h0M148 564h0M230 520h0M142 518h0M256 646h0M454 414h0M249 529h0M458 509h0M364 538h0M402 188h0M305 463h0M481 579h0M349 424h0M379 121h0M420 567h0M502 507h0M353 612h0M500 443h0M172 629h0M453 289h0M133 536h0M276 597h0M244 465h0M299 567h0M128 527h0M522 457h0M308 668h0M436 295h0M334 486h0M446 393h0M373 166h0M438 403h0M197 537h0M216 484h0M488 561h0M256 545h0M349 479h0M312 438h0M440 422h0M451 322h0M542 470h0M433 551h0M507 429h0M359 632h0M371 104h0M459 450h0M329 647h0M286 601h0M151 530h0M331 538h0M429 397h0M430 166h0M488 547h0M369 258h0M316 535h0M436 455h0M332 645h0M177 558h0M363 187h0M361 221h0M434 154h0M414 443h0M538 447h0M234 514h0M311 468h0M337 534h0M241 465h0M375 456h0M446 591h0M396 270h0M450 334h0M485 553h0M333 436h0M287 475h0M424 416h0M400 528h0M191 595h0M426 153h0M427 512h0M395 557h0M200 518h0M528 458h0M188 555h0M277 493h0M410 129h0M218 582h0M364 304h0M284 653h0M395 301h0M501 490h0M404 467h0M386 306h0M357 456h0M465 321h0M296 467h0M295 498h0M360 255h0M190 563h0M426 494h0M324 476h0M373 161h0M436 309h0M411 524h0M223 559h0M356 248h0M358 264h0M215 551h0M363 401h0M196 563h0M413 451h0M475 522h0M455 450h0M300 448h0M399 87h0M501 549h0M364 606h0M267 589h0M364 245h0M360 491h0M502 531h0M177 597h0M276 641h0M360 470h0M522 438h0M422 463h0M254 479h0M307 497h0M412 503h0M514 524h0M151 613h0M190 616h0M333 570h0M263 511h0M301 533h0M357 158h0M296 479h0M456 583h0M306 643h0M426 559h0M384 416h0M450 492h0M337 515h0M493 493h0M384 616h0M332 586h0M142 563h0M422 552h0M291 441h0M384 350h0M418 262h0M366 60h0M130 536h0M436 311h0M386 499h0M393 199h0M252 608h0M413 397h0M312 464h0M359 571h0M337 631h0M331 441h0M509 452h0M289 506h0M406 256h0M423 455h0M373 405h0M452 270h0M450 406h0M387 332h0M516 486h0M120 543h0M353 613h0M399 224h0M446 233h0M335 489h0M57 506h0M52 501h0M79 506h0M76 501h0M66 505h0M70 506h0M57 501h0M79 504h0M56 504h0M72 501h0M50 506h0" stroke="#2a1430"/>
</g>
<path d="M1071 471L1082.3 491.8L1076.6 500.4L1086.1 504.1L1080.4 518.3L1083.3 529.7L1090.8 543.8L1093.7 555.2L1071 565.6L1082.3 572.2L1070 580.7L1070 590.2L1082.3 593.9L1088 603.4L1094.6 611.9L1086.1 615.7L1097.4 620.4L1096.5 639.3L1083.3 650.7L1090.8 655.4L1084.2 666.7L1076.6 671.5L1082.3 679L1074.7 688.5L1076.6 703.6L1091.8 705.5M1083.3 529.7L1095.5 526.8L1105 533.4L1108.8 543.8M1084.2 666.7L1050.2 667.7L1033.1 660.1L1035 653.5L1046.4 651.6M1057.7 667.7L1053.9 678.1L1033.1 683.8L1025.6 680.9L1019.9 668.6L1004.8 670.5L987.8 679L976.4 682.8L976.4 693.2L946.2 694.2L943.3 686.6M1029.4 682.8L1023.7 690.4L1012.4 696L1010.5 703.6L1021.8 703.6L1021.8 711.2L1010.5 730.1L1004.8 735.7L995.3 739.5L982.1 732L979.3 722.5M995.3 739.5L999.1 747.1L1006.7 749.9M1010.5 733.9L1033.1 735.7" stroke="#5b5560" stroke-width="1.9" fill="none" stroke-linejoin="round" stroke-linecap="round"/>
<g transform="translate(1319.5 420) scale(0.5)" fill="none" stroke-linecap="round" stroke-width="12.8" stroke-opacity="0.24">
<path d="M352 59h0M360 59h0M369 59h0M377 59h0M348 67h0M356 66h0M364 67h0M372 67h0M381 66h0M390 67h0M352 74h0M361 74h0M368 74h0M377 73h0M386 73h0M393 74h0M348 82h0M356 81h0M365 80h0M372 81h0M381 82h0M390 80h0M398 80h0M344 88h0M352 88h0M361 88h0M369 88h0M377 88h0M386 88h0M394 88h0M402 89h0M349 95h0M356 95h0M364 95h0M373 96h0M381 95h0M389 96h0M397 96h0M406 95h0M344 103h0M353 103h0M361 103h0M369 103h0M378 103h0M386 102h0M394 102h0M402 103h0M410 103h0M348 110h0M355 109h0M364 110h0M373 110h0M381 110h0M390 110h0M398 109h0M407 110h0M415 110h0M352 118h0M360 117h0M368 117h0M377 117h0M386 117h0M394 118h0M403 117h0M410 117h0M419 117h0M348 124h0M357 125h0M364 125h0M372 125h0M380 125h0M389 124h0M399 124h0M406 125h0M415 125h0M423 124h0M352 131h0M361 132h0M369 132h0M378 132h0M385 131h0M394 132h0M401 131h0M411 132h0M418 132h0M348 138h0M356 139h0M365 139h0M374 139h0M381 139h0M390 139h0M398 138h0M406 139h0M414 139h0M422 139h0M352 146h0M360 146h0M369 145h0M377 146h0M385 146h0M393 146h0M401 146h0M411 146h0M418 145h0M427 146h0M356 153h0M365 153h0M373 153h0M381 153h0M389 153h0M397 153h0M405 153h0M415 153h0M424 152h0M432 154h0M352 161h0M361 160h0M369 160h0M377 160h0M386 160h0M393 160h0M402 160h0M410 161h0M419 161h0M426 160h0M356 168h0M365 167h0M372 167h0M381 167h0M390 168h0M397 167h0M405 168h0M415 167h0M423 167h0M431 167h0M360 175h0M369 174h0M378 175h0M386 175h0M394 174h0M402 174h0M410 175h0M419 175h0M427 175h0M436 174h0M357 182h0M364 182h0M372 181h0M382 182h0M390 182h0M398 182h0M406 181h0M415 181h0M423 183h0M431 182h0M439 182h0M361 190h0M368 189h0M377 190h0M385 188h0M394 189h0M403 189h0M411 188h0M419 189h0M426 188h0M436 189h0M444 189h0M365 197h0M373 196h0M382 196h0M390 196h0M398 196h0M406 196h0M415 197h0M423 196h0M431 196h0M360 204h0M378 204h0M386 203h0M394 204h0M402 204h0M410 203h0M418 203h0M427 204h0M435 204h0M444 203h0M451 203h0M364 211h0M389 210h0M397 210h0M407 211h0M423 211h0M440 210h0" stroke="#ae66ee"/>
<path d="M439 196h0M447 197h0M368 203h0M372 210h0M382 211h0M415 210h0M432 211h0M448 211h0M456 211h0M369 217h0M377 218h0M386 217h0M394 218h0M402 217h0M411 218h0M418 218h0M427 218h0M435 219h0M444 218h0M452 219h0M460 218h0M364 225h0M374 226h0M381 226h0M389 225h0M398 225h0M406 225h0M414 225h0M422 224h0M432 226h0M440 226h0M448 224h0M457 225h0M368 232h0M377 233h0M385 233h0M393 233h0M402 232h0M410 232h0M419 233h0M426 233h0M435 233h0M443 233h0M452 232h0M460 232h0M372 239h0M381 240h0M390 239h0M398 239h0M406 240h0M414 240h0M423 239h0M432 239h0M440 239h0M447 240h0M455 239h0M464 240h0M369 247h0M377 246h0M386 247h0M393 246h0M402 246h0M410 247h0M419 247h0M427 246h0M435 247h0M443 247h0M451 247h0M460 247h0M469 246h0M373 254h0M382 253h0M389 253h0M397 254h0M406 253h0M414 254h0M422 253h0M431 254h0M440 254h0M448 254h0M457 254h0M464 254h0M369 262h0M378 261h0M386 261h0M394 262h0M402 262h0M410 261h0M418 262h0M426 262h0M435 261h0M444 261h0M452 261h0M460 261h0M469 261h0M373 268h0M381 268h0M390 268h0M398 268h0M407 268h0M414 268h0M422 269h0M431 268h0M440 269h0M447 268h0M456 268h0M465 269h0M377 276h0M385 275h0M393 275h0M402 275h0M410 276h0M418 275h0M427 276h0M435 275h0M444 276h0M453 275h0M461 275h0M468 275h0M372 282h0M382 283h0M389 283h0M398 283h0M406 282h0M415 282h0M422 283h0M431 283h0M440 282h0M448 283h0M456 283h0M464 283h0M377 291h0M386 290h0M394 290h0M402 290h0M410 290h0M419 289h0M427 290h0M436 290h0M444 291h0M452 290h0M460 290h0M469 290h0M373 297h0M381 297h0M389 297h0M397 297h0M406 297h0M414 297h0M423 297h0M430 298h0M439 297h0M448 298h0M456 297h0M464 298h0M368 305h0M376 304h0M385 305h0M394 305h0M402 304h0M411 305h0M419 305h0M427 305h0M435 304h0M443 304h0M453 305h0M460 304h0M468 305h0M372 312h0M380 311h0M390 312h0M398 311h0M406 311h0M415 312h0M423 311h0M431 311h0M440 311h0M448 312h0M455 311h0M465 311h0M369 319h0M376 319h0M386 318h0M393 319h0M402 318h0M411 319h0M419 318h0M427 319h0M435 319h0M443 319h0M451 319h0M460 319h0M364 326h0M373 326h0M381 325h0M390 326h0M398 327h0M406 326h0M415 326h0M423 327h0M431 327h0M440 327h0M447 327h0M455 326h0M361 333h0M369 333h0M377 333h0M385 333h0M394 333h0M402 333h0M410 333h0M418 333h0M427 333h0M436 333h0M444 333h0M356 340h0M365 341h0M374 340h0M381 340h0M389 340h0M398 340h0M407 341h0M414 340h0M423 340h0M432 341h0M440 340h0M352 348h0M360 348h0M369 348h0M377 348h0M385 347h0M393 347h0M402 347h0M410 347h0M418 348h0M426 347h0M435 347h0M349 355h0M356 355h0M365 355h0M373 354h0M382 354h0M389 354h0M399 354h0M406 354h0M414 355h0M423 354h0M431 355h0M440 355h0M344 362h0M352 362h0M361 362h0M369 362h0M377 362h0M385 362h0M394 362h0M402 362h0M410 362h0M418 362h0M427 362h0M435 361h0M339 370h0M347 369h0M356 369h0M365 369h0M372 370h0M382 369h0M390 369h0M398 369h0M407 369h0M414 370h0M423 369h0M431 369h0M439 369h0M336 377h0M344 377h0M352 376h0M360 376h0M369 377h0M377 376h0M386 377h0M394 377h0M402 377h0M410 376h0M419 377h0M427 376h0M435 376h0M444 377h0M323 383h0M331 383h0M340 383h0M348 383h0M357 384h0M365 383h0M372 383h0M381 384h0M390 384h0M397 384h0M406 383h0M415 383h0M423 384h0M431 384h0M439 383h0M448 384h0M319 390h0M327 391h0M336 391h0M343 391h0M351 390h0M360 391h0M369 390h0M377 391h0M386 391h0M394 390h0M401 390h0M410 391h0M419 391h0M428 390h0M435 391h0M443 390h0M452 391h0M307 398h0M315 398h0M323 398h0M332 397h0M340 398h0M348 398h0M357 397h0M365 398h0M373 398h0M381 398h0M390 397h0M398 397h0M406 398h0M414 398h0M422 398h0M431 398h0M439 399h0M448 398h0M457 398h0M464 398h0M302 405h0M310 406h0M318 406h0M328 405h0M336 405h0M343 405h0M353 405h0M360 405h0M369 405h0M376 406h0M385 405h0M394 405h0M401 405h0M411 405h0M419 405h0M427 405h0M435 405h0M444 405h0M452 405h0M461 405h0M469 405h0M297 412h0M314 413h0M323 412h0M332 413h0M339 412h0M347 412h0M357 412h0M364 413h0M373 412h0M381 412h0M390 413h0M398 412h0M406 412h0M415 413h0M422 413h0M431 412h0M440 412h0M447 412h0M456 412h0M465 413h0M473 413h0M481 412h0M302 420h0M318 419h0M327 419h0M336 420h0M344 420h0M352 420h0M360 420h0M369 420h0M377 420h0M386 420h0M394 420h0M402 420h0M410 420h0M419 420h0M426 419h0M435 419h0M443 420h0M452 420h0M460 419h0M469 420h0M476 420h0M484 420h0M323 427h0M339 427h0M348 427h0M356 427h0M365 428h0M373 427h0M381 427h0M390 427h0M397 427h0M405 427h0M414 427h0M422 427h0M431 427h0M440 427h0M448 426h0M456 426h0M464 426h0M472 426h0M482 427h0M490 427h0M498 427h0M506 426h0M352 435h0M386 434h0M394 434h0M402 434h0M410 434h0M419 435h0M426 434h0M435 434h0M444 435h0M451 434h0M461 434h0M468 434h0M477 433h0M485 435h0M493 434h0M502 434h0M510 434h0M519 433h0M389 442h0M397 441h0M407 442h0M415 442h0M423 441h0M430 442h0M439 442h0M448 441h0M456 441h0M464 441h0M472 442h0M482 441h0M490 442h0M497 442h0M505 441h0M514 441h0M523 441h0M410 449h0M419 448h0M427 449h0M434 448h0M444 448h0M451 448h0M460 448h0M468 448h0M477 448h0M485 448h0M494 448h0M502 449h0M510 449h0M518 448h0M527 448h0M414 456h0M422 456h0M432 456h0M440 456h0M448 456h0M456 455h0M464 456h0M473 455h0M480 456h0M490 456h0M498 456h0M506 455h0M515 456h0M522 456h0M530 455h0M419 463h0M428 463h0M436 462h0M443 463h0M452 463h0M460 463h0M469 462h0M477 463h0M493 463h0M510 463h0M518 463h0M526 462h0M432 470h0M439 471h0M447 470h0M456 470h0M473 471h0M523 470h0M531 470h0M418 478h0M436 477h0M444 477h0M439 485h0" stroke="#d5a6f6"/>
<path d="M289 412h0M306 413h0M286 420h0M294 419h0M311 420h0M273 426h0M282 426h0M290 427h0M298 427h0M306 426h0M315 427h0M331 427h0M269 434h0M286 434h0M293 434h0M303 435h0M310 434h0M318 434h0M327 434h0M335 434h0M343 434h0M360 434h0M368 434h0M378 434h0M257 442h0M290 441h0M299 441h0M306 442h0M315 442h0M322 441h0M331 441h0M339 441h0M348 441h0M357 442h0M365 441h0M372 442h0M381 441h0M278 448h0M285 449h0M293 448h0M302 448h0M310 449h0M318 449h0M326 449h0M335 449h0M344 449h0M353 448h0M361 449h0M369 448h0M377 448h0M385 448h0M393 449h0M402 448h0M273 456h0M299 456h0M306 456h0M314 456h0M323 456h0M332 455h0M339 456h0M347 456h0M356 455h0M365 456h0M372 456h0M381 455h0M389 456h0M398 456h0M406 456h0M285 463h0M293 463h0M302 463h0M311 463h0M319 463h0M327 463h0M336 463h0M344 462h0M351 463h0M360 464h0M369 463h0M377 462h0M385 463h0M394 463h0M403 463h0M411 464h0M486 463h0M502 463h0M297 470h0M315 470h0M323 470h0M331 471h0M339 471h0M348 469h0M357 470h0M365 470h0M373 470h0M382 470h0M389 470h0M397 469h0M406 470h0M414 470h0M422 470h0M464 470h0M481 470h0M489 470h0M498 471h0M505 470h0M514 471h0M303 477h0M311 477h0M319 477h0M328 478h0M336 477h0M344 477h0M352 478h0M361 478h0M369 477h0M377 478h0M385 478h0M393 477h0M402 477h0M410 478h0M427 477h0M452 477h0M460 478h0M468 478h0M477 478h0M486 477h0M494 477h0M502 477h0M510 477h0M519 478h0M526 477h0M306 484h0M314 484h0M324 484h0M332 485h0M339 484h0M347 485h0M356 485h0M365 484h0M372 484h0M381 484h0M389 485h0M398 484h0M406 484h0M414 484h0M423 484h0M431 484h0M447 485h0M456 484h0M465 485h0M473 484h0M481 484h0M489 485h0M497 484h0M506 484h0M515 484h0M523 484h0M294 492h0M302 492h0M311 492h0M319 492h0M327 491h0M335 491h0M343 491h0M352 491h0M361 492h0M368 491h0M376 491h0M385 492h0M393 492h0M402 492h0M410 491h0M419 491h0M428 492h0M436 491h0M444 492h0M451 491h0M460 491h0M469 492h0M477 492h0M485 492h0M494 492h0M502 492h0M510 491h0M519 491h0M527 492h0M307 499h0M315 499h0M322 499h0M332 499h0M339 499h0M349 499h0M356 499h0M365 499h0M373 499h0M381 499h0M390 499h0M398 498h0M406 500h0M414 498h0M423 499h0M431 498h0M439 498h0M447 500h0M456 499h0M464 499h0M472 500h0M482 498h0M490 499h0M498 499h0M505 498h0M514 498h0M523 498h0M294 506h0M302 507h0M310 505h0M319 507h0M327 506h0M336 507h0M343 506h0M352 506h0M360 506h0M369 506h0M376 507h0M385 506h0M394 506h0M402 506h0M410 506h0M419 506h0M428 507h0M435 506h0M444 506h0M453 506h0M460 506h0M469 507h0M476 506h0M486 506h0M494 507h0M502 507h0M510 505h0M518 505h0M298 514h0M307 514h0M315 513h0M323 514h0M332 514h0M340 513h0M348 514h0M357 514h0M365 513h0M373 513h0M381 514h0M389 514h0M398 513h0M406 514h0M414 513h0M423 514h0M432 513h0M439 514h0M447 513h0M456 513h0M464 513h0M473 514h0M481 513h0M489 513h0M497 514h0M507 514h0M514 514h0M286 520h0M293 520h0M302 520h0M311 521h0M318 521h0M327 520h0M336 521h0M344 520h0M351 521h0M361 520h0M369 520h0M377 521h0M386 521h0M394 520h0M402 521h0M410 520h0M418 520h0M426 520h0M436 520h0M444 520h0M452 521h0M460 520h0M468 520h0M478 520h0M486 521h0M493 520h0M501 521h0M511 520h0M307 528h0M315 527h0M322 528h0M331 527h0M340 528h0M348 528h0M356 528h0M364 527h0M374 527h0M382 527h0M389 527h0M398 528h0M406 528h0M414 528h0M422 528h0M432 528h0M439 527h0M448 528h0M457 528h0M464 528h0M473 528h0M482 527h0M489 528h0M497 528h0M506 528h0M286 534h0M294 534h0M302 534h0M310 535h0M318 535h0M327 534h0M336 535h0M343 534h0M352 535h0M361 534h0M369 535h0M378 534h0M386 535h0M394 535h0M402 535h0M410 535h0M419 536h0M426 535h0M436 536h0M443 535h0M452 535h0M461 535h0M469 534h0M477 536h0M485 535h0M493 535h0M502 535h0M290 543h0M298 542h0M306 542h0M315 542h0M323 543h0M332 542h0M340 542h0M348 542h0M356 542h0M365 542h0M372 542h0M381 542h0M390 541h0M398 542h0M407 542h0M415 542h0M423 542h0M430 541h0M440 541h0M448 542h0M456 541h0M464 542h0M472 541h0M481 542h0M489 543h0M498 542h0M278 550h0M285 549h0M294 549h0M303 550h0M311 549h0M319 549h0M327 550h0M336 549h0M344 550h0M352 549h0M360 549h0M368 550h0M377 549h0M385 550h0M394 549h0M402 549h0M411 549h0M419 550h0M426 549h0M435 549h0M444 549h0M452 549h0M459 549h0M468 549h0M476 549h0M485 550h0M493 550h0M274 557h0M281 557h0M290 556h0M298 557h0M307 556h0M315 557h0M322 557h0M331 556h0M340 557h0M349 556h0M356 556h0M364 556h0M372 557h0M382 556h0M390 557h0M398 557h0M406 556h0M415 556h0M422 556h0M432 557h0M439 556h0M447 556h0M456 556h0M464 557h0M473 556h0M481 557h0M489 556h0M269 563h0M278 564h0M286 564h0M295 563h0M302 564h0M311 564h0M319 563h0M327 564h0M336 564h0M344 563h0M352 564h0M360 564h0M368 563h0M377 564h0M385 563h0M394 563h0M402 563h0M410 564h0M418 563h0M427 564h0M435 564h0M444 564h0M453 564h0M460 563h0M468 564h0M477 564h0M484 564h0M272 571h0M281 571h0M289 571h0M298 571h0M307 571h0M315 570h0M322 571h0M331 572h0M340 571h0M348 571h0M356 571h0M365 570h0M374 572h0M381 572h0M389 571h0M398 570h0M406 570h0M414 571h0M423 571h0M431 571h0M439 571h0M448 572h0M456 571h0M465 571h0M472 571h0M269 578h0M277 578h0M286 579h0M294 578h0M302 578h0M311 578h0M318 578h0M327 578h0M335 577h0M344 578h0M352 578h0M361 578h0M369 578h0M378 578h0M386 579h0M394 577h0M403 578h0M410 578h0M418 578h0M427 578h0M435 579h0M443 578h0M453 579h0M459 578h0M468 578h0M273 585h0M282 585h0M290 586h0M298 586h0M306 586h0M315 586h0M322 586h0M331 585h0M340 585h0M348 586h0M357 585h0M365 585h0M373 586h0M381 585h0M390 585h0M398 585h0M405 585h0M415 585h0M422 586h0M431 585h0M440 586h0M447 586h0M457 585h0M464 586h0M277 592h0M293 592h0M310 592h0M319 592h0M328 592h0M335 593h0M344 593h0M352 593h0M360 592h0M369 592h0M377 593h0M386 592h0M393 592h0M402 593h0M410 592h0M419 593h0M427 593h0M436 593h0M444 593h0M452 592h0M331 599h0M339 600h0M348 600h0M356 600h0M365 600h0M372 600h0M390 600h0M398 600h0M406 599h0M415 599h0M422 600h0M431 600h0M440 599h0M448 599h0M344 607h0M352 607h0M394 607h0M402 607h0M410 607h0M419 606h0M427 608h0M436 606h0M406 614h0M423 614h0M431 614h0M335 621h0M419 621h0M414 629h0" stroke="#93a9e6"/>
<path d="M277 433h0M265 441h0M272 441h0M282 442h0M252 449h0M260 448h0M269 448h0M240 456h0M248 456h0M256 456h0M265 455h0M281 456h0M289 455h0M235 462h0M244 463h0M253 463h0M260 463h0M268 463h0M277 463h0M223 470h0M231 470h0M239 470h0M248 470h0M256 470h0M265 469h0M274 470h0M282 470h0M289 470h0M306 471h0M210 478h0M219 477h0M228 477h0M236 477h0M245 478h0M252 477h0M261 477h0M268 478h0M277 477h0M286 477h0M294 477h0M198 484h0M206 485h0M215 484h0M224 485h0M232 484h0M240 484h0M248 485h0M257 484h0M265 484h0M273 484h0M282 484h0M289 484h0M298 484h0M194 492h0M202 492h0M210 492h0M219 491h0M227 491h0M235 491h0M244 492h0M252 491h0M261 491h0M268 492h0M278 491h0M286 492h0M181 499h0M189 499h0M199 498h0M206 499h0M214 499h0M224 499h0M232 499h0M240 499h0M248 498h0M256 499h0M265 498h0M273 498h0M281 498h0M290 499h0M298 499h0M169 506h0M177 506h0M186 506h0M194 506h0M203 506h0M210 506h0M220 505h0M227 506h0M235 506h0M244 506h0M252 506h0M261 507h0M268 506h0M276 506h0M286 506h0M149 513h0M157 513h0M165 513h0M173 513h0M182 513h0M190 513h0M198 514h0M207 514h0M215 513h0M224 514h0M231 514h0M240 514h0M249 513h0M257 513h0M264 514h0M273 514h0M282 513h0M289 513h0M145 521h0M153 521h0M161 521h0M169 520h0M178 520h0M186 521h0M195 520h0M202 521h0M210 520h0M219 521h0M227 520h0M236 521h0M244 521h0M253 521h0M261 521h0M269 521h0M277 520h0M131 528h0M140 527h0M148 527h0M157 528h0M165 528h0M173 528h0M182 528h0M190 528h0M198 527h0M206 528h0M215 528h0M223 528h0M231 528h0M239 527h0M249 527h0M256 527h0M264 527h0M272 528h0M281 528h0M290 527h0M299 527h0M127 535h0M136 535h0M144 534h0M152 535h0M160 535h0M169 535h0M177 535h0M186 535h0M194 535h0M203 535h0M211 535h0M218 535h0M228 535h0M236 535h0M244 535h0M252 535h0M261 535h0M269 535h0M276 535h0M123 542h0M131 543h0M140 541h0M148 543h0M157 542h0M165 542h0M173 542h0M182 542h0M190 542h0M198 543h0M206 542h0M214 542h0M223 543h0M232 543h0M240 543h0M248 542h0M256 542h0M265 543h0M274 542h0M281 541h0M120 549h0M128 549h0M136 549h0M143 549h0M152 550h0M161 550h0M170 550h0M178 549h0M186 549h0M194 549h0M203 549h0M211 550h0M219 549h0M227 550h0M235 550h0M243 549h0M253 550h0M260 550h0M269 549h0M123 556h0M131 557h0M140 557h0M149 556h0M156 556h0M165 556h0M173 556h0M181 557h0M190 556h0M199 556h0M206 557h0M215 556h0M223 557h0M232 556h0M240 557h0M248 557h0M256 557h0M265 557h0M128 564h0M136 564h0M144 563h0M152 563h0M161 564h0M169 563h0M177 563h0M195 563h0M202 564h0M211 563h0M219 564h0M227 564h0M236 564h0M244 563h0M253 564h0M260 563h0M132 572h0M140 570h0M148 570h0M157 572h0M164 571h0M173 571h0M207 572h0M215 571h0M223 571h0M231 571h0M239 570h0M248 571h0M257 571h0M265 572h0M128 578h0M136 578h0M144 578h0M152 578h0M160 578h0M169 578h0M211 578h0M218 579h0M227 578h0M236 578h0M243 578h0M132 586h0M141 585h0M148 586h0M156 585h0M165 585h0M232 586h0M239 586h0M135 593h0" stroke="#7468c4"/>
<path d="M186 563h0M181 570h0M189 571h0M198 571h0M178 578h0M185 578h0M193 578h0M202 579h0M252 578h0M261 578h0M173 585h0M182 586h0M190 585h0M198 585h0M207 586h0M215 585h0M223 585h0M248 586h0M256 585h0M265 585h0M144 592h0M153 592h0M161 592h0M169 593h0M177 593h0M186 592h0M194 593h0M202 593h0M211 593h0M219 593h0M227 593h0M236 592h0M243 592h0M252 593h0M261 593h0M269 592h0M286 592h0M302 593h0M140 599h0M148 600h0M156 600h0M165 599h0M173 600h0M182 599h0M189 600h0M198 600h0M206 600h0M214 599h0M222 600h0M232 600h0M239 599h0M248 600h0M256 599h0M265 600h0M272 600h0M282 600h0M289 599h0M298 600h0M307 600h0M314 600h0M323 600h0M382 600h0M152 607h0M161 608h0M169 606h0M178 608h0M185 607h0M194 607h0M202 607h0M210 607h0M219 607h0M227 607h0M236 607h0M244 606h0M253 608h0M261 607h0M269 607h0M277 607h0M285 607h0M294 607h0M302 608h0M311 607h0M319 606h0M327 608h0M335 606h0M360 607h0M368 607h0M376 607h0M385 607h0M157 615h0M166 615h0M173 614h0M182 615h0M190 615h0M197 614h0M206 614h0M215 613h0M222 615h0M231 614h0M240 614h0M248 614h0M256 615h0M265 614h0M273 614h0M281 615h0M289 614h0M298 614h0M307 614h0M315 614h0M323 613h0M332 614h0M339 614h0M348 614h0M357 615h0M364 614h0M372 615h0M380 615h0M389 614h0M398 614h0M415 614h0M169 621h0M177 621h0M185 621h0M193 622h0M203 621h0M211 621h0M219 621h0M228 621h0M236 622h0M244 622h0M252 622h0M260 621h0M269 621h0M277 622h0M286 622h0M293 621h0M301 621h0M311 621h0M319 622h0M327 621h0M343 622h0M353 622h0M360 621h0M369 621h0M377 621h0M385 621h0M393 621h0M401 622h0M410 621h0M181 628h0M190 629h0M198 629h0M206 628h0M215 628h0M223 629h0M231 629h0M240 628h0M247 628h0M256 628h0M265 628h0M272 628h0M281 628h0M290 629h0M298 629h0M307 628h0M315 629h0M324 628h0M331 628h0M340 628h0M348 628h0M356 628h0M364 628h0M373 628h0M382 628h0M390 628h0M398 628h0M407 628h0M194 635h0M203 636h0M210 636h0M219 636h0M227 635h0M235 636h0M243 636h0M253 635h0M261 636h0M268 636h0M278 636h0M285 635h0M294 636h0M303 636h0M310 636h0M319 635h0M328 636h0M335 636h0M343 636h0M352 636h0M361 636h0M368 636h0M377 636h0M386 636h0M394 636h0M206 643h0M214 644h0M223 644h0M231 644h0M240 643h0M248 643h0M257 643h0M265 643h0M273 643h0M281 643h0M289 642h0M298 642h0M307 643h0M314 644h0M323 643h0M332 643h0M340 642h0M348 643h0M356 642h0M364 643h0M373 643h0M382 643h0M219 651h0M227 650h0M236 650h0M243 650h0M252 650h0M260 650h0M270 651h0M278 650h0M286 650h0M294 650h0M302 651h0M311 650h0M318 650h0M328 650h0M335 650h0M344 650h0M353 650h0M361 650h0M240 657h0M247 658h0M256 657h0M265 657h0M273 658h0M281 658h0M290 658h0M298 658h0M306 658h0M315 658h0M324 657h0" stroke="#ded8fa"/>
</g>
<g transform="translate(1319.5 420) scale(0.5)" fill="none" stroke-linecap="round" stroke-width="3.6" stroke-opacity="0.66">
<path d="M273 429h0M275 460h0M368 495h0M341 487h0M493 467h0M285 512h0M234 435h0M355 471h0M486 505h0M332 460h0M481 485h0M333 489h0M362 546h0M336 525h0M316 542h0M388 539h0M273 420h0M478 545h0M462 512h0M312 454h0M297 570h0M515 502h0M418 529h0M302 455h0M379 501h0M293 580h0M445 545h0M381 508h0M499 548h0M382 523h0M383 574h0M419 504h0M290 575h0M288 551h0M368 444h0M380 584h0M417 617h0M488 537h0M482 574h0M357 571h0M337 581h0M427 596h0M514 478h0M453 506h0M373 462h0M283 542h0M499 547h0M342 469h0M457 571h0M422 623h0M320 426h0M377 575h0M468 576h0M491 518h0M426 553h0M401 601h0M499 486h0M344 443h0M432 602h0M344 524h0M340 461h0M448 532h0M287 440h0M487 479h0M399 538h0M290 453h0M348 582h0M406 550h0M504 543h0M342 562h0M271 555h0M256 434h0M383 511h0M525 525h0M425 539h0M393 584h0M375 524h0M420 570h0M274 567h0M509 470h0M389 480h0M404 598h0M467 556h0M414 498h0M462 568h0M475 472h0M359 537h0M463 503h0M508 447h0M334 436h0M474 549h0M426 491h0M393 606h0M534 507h0M397 536h0M319 465h0M304 475h0M390 491h0M413 489h0M417 580h0M175 561h0M331 539h0M320 547h0M339 573h0M376 546h0M397 520h0M279 535h0M516 517h0M455 507h0M384 511h0M378 308h0M338 539h0M513 503h0M392 479h0M472 517h0M301 565h0M484 419h0M303 548h0M453 524h0M298 471h0M431 547h0M469 469h0M359 509h0M308 540h0M402 571h0M353 499h0M340 478h0M465 530h0M422 415h0M391 560h0M439 599h0M378 531h0M462 504h0M345 564h0M332 480h0M501 478h0M289 559h0M504 496h0M428 513h0M356 620h0M313 585h0M496 541h0M473 506h0M349 486h0M445 546h0M532 509h0M412 507h0M459 537h0M418 615h0M471 494h0M279 570h0M313 446h0M377 447h0M440 493h0M513 424h0M358 499h0M461 565h0M275 446h0M506 523h0M491 523h0M462 589h0M471 505h0M312 533h0M360 595h0M432 465h0M361 569h0M352 577h0M412 524h0M323 517h0M341 535h0M502 507h0M380 334h0M317 530h0M469 583h0M520 471h0M318 483h0M420 607h0M319 557h0M303 470h0M360 494h0M481 490h0M293 454h0M345 478h0M323 446h0M449 572h0M469 549h0M240 456h0M409 591h0M476 487h0M273 440h0M494 508h0M338 485h0M464 511h0M487 542h0M285 415h0M320 541h0M315 430h0M422 626h0M375 555h0M343 502h0M407 277h0M175 572h0M372 503h0M291 565h0M462 601h0M514 522h0M488 550h0M415 523h0M380 591h0M452 594h0M275 611h0M317 516h0M344 625h0M412 565h0M377 589h0M323 541h0M443 522h0M478 476h0M328 489h0M429 494h0M468 562h0M320 456h0M365 446h0M273 589h0M432 562h0M400 468h0M434 466h0M338 455h0M477 543h0M297 567h0M428 583h0M446 606h0M450 492h0M372 491h0M458 520h0M403 532h0M392 574h0M318 589h0M348 532h0M476 557h0M356 525h0M448 544h0M383 576h0M337 600h0M290 559h0M316 424h0M319 561h0M241 468h0M448 521h0M361 512h0M523 498h0M294 513h0M332 536h0M406 536h0M319 486h0M364 589h0M433 530h0M286 573h0M291 562h0M458 527h0M325 629h0M224 452h0M391 452h0M434 602h0M462 486h0M454 412h0M282 430h0M397 472h0M506 474h0M409 537h0M432 517h0M347 527h0M307 425h0M348 573h0M354 473h0M465 528h0M311 467h0M367 490h0M429 500h0M342 475h0M344 579h0M345 499h0M337 440h0M347 475h0M308 426h0M401 565h0M429 428h0M458 528h0M484 487h0M514 476h0M461 541h0M305 481h0M283 465h0M361 569h0M170 541h0M379 481h0M336 511h0M352 556h0M267 567h0M335 444h0M327 509h0M480 524h0M412 478h0M293 440h0M380 547h0M292 493h0M470 486h0M429 515h0M467 561h0M307 551h0M407 615h0M293 595h0M445 612h0M503 530h0M461 588h0M337 576h0M340 558h0M395 587h0M351 556h0M359 470h0M418 557h0M478 551h0M490 530h0M486 473h0M444 606h0M470 548h0M335 538h0M502 514h0M529 533h0M364 499h0M542 474h0M316 473h0M362 474h0M352 574h0M291 575h0M374 450h0M362 582h0M443 615h0M300 417h0M404 569h0M359 478h0M313 525h0M392 511h0M269 560h0M424 587h0M419 608h0M393 593h0M387 514h0M513 489h0M412 471h0M289 616h0M377 592h0M310 549h0M296 562h0M353 567h0M317 503h0M332 456h0M356 533h0M346 499h0M388 525h0M513 477h0M383 491h0M410 542h0M365 459h0M463 530h0M341 534h0M367 444h0M288 434h0M444 557h0M412 591h0M449 537h0M516 507h0M357 597h0M330 579h0M324 531h0M300 562h0M311 442h0M346 589h0M335 668h0M354 469h0M429 502h0M402 471h0M334 508h0M468 577h0M333 493h0M361 585h0M355 459h0M366 485h0M444 598h0M403 508h0M448 559h0M420 494h0M292 537h0M431 547h0M282 603h0M410 556h0M442 555h0M328 572h0M337 567h0M412 577h0M317 511h0M289 507h0M500 517h0M283 431h0M464 515h0M351 179h0M486 571h0M301 385h0M313 464h0M342 568h0M402 559h0M289 568h0M454 522h0M392 486h0M323 416h0M469 548h0M413 484h0M250 435h0M364 544h0M513 534h0M447 465h0M302 467h0M413 468h0M424 457h0M382 531h0M327 492h0M437 629h0M468 487h0M467 591h0M388 523h0M298 593h0M344 423h0M403 599h0M432 537h0M423 494h0M277 577h0M437 453h0M396 474h0M305 559h0M441 593h0M394 570h0M370 568h0M384 464h0M357 434h0M390 488h0M291 581h0M401 557h0M456 594h0M519 482h0M348 571h0M469 520h0M538 495h0M383 506h0M348 448h0M404 547h0M318 576h0M341 500h0M406 509h0M337 597h0M320 490h0M463 464h0M460 568h0M426 605h0M484 484h0M472 534h0M410 479h0M363 565h0M507 546h0M259 573h0M324 464h0M445 603h0M286 535h0M388 498h0M390 535h0M444 505h0M500 566h0M333 518h0M347 496h0M368 610h0M447 524h0M468 492h0M528 514h0M329 542h0M450 603h0M497 479h0M437 590h0M264 517h0M411 559h0M364 484h0M454 521h0M380 577h0M308 464h0M301 442h0M379 579h0M333 439h0M297 444h0M241 533h0M409 578h0M350 124h0M401 606h0M325 465h0M398 479h0M365 464h0M284 421h0M454 546h0M400 608h0M436 591h0M293 586h0M307 585h0M310 429h0M394 546h0M270 575h0M325 469h0M408 477h0M349 505h0M375 472h0M450 593h0M274 429h0M481 565h0M432 571h0M417 514h0M431 568h0M398 551h0M318 513h0M394 504h0M454 495h0M350 568h0M432 566h0M463 479h0M331 593h0M286 577h0M479 534h0M426 582h0M468 490h0M281 552h0M471 495h0M287 456h0M376 517h0M448 475h0M362 590h0M461 491h0M325 452h0M391 551h0M362 593h0M415 596h0M311 559h0M368 440h0M451 536h0M445 491h0M435 533h0M402 584h0M397 604h0M425 490h0M401 572h0M253 654h0M331 600h0M309 454h0M348 501h0M352 498h0M356 501h0M430 621h0M439 599h0M351 586h0M445 564h0M400 599h0M325 458h0M331 556h0M283 580h0M407 578h0M506 478h0M364 470h0M292 558h0M223 485h0M293 444h0M374 585h0M430 613h0M414 519h0M444 583h0M354 455h0M293 437h0M345 544h0M411 453h0M425 99h0M452 538h0M385 518h0M355 601h0M339 560h0M360 518h0M290 580h0M461 525h0M311 548h0M406 610h0M460 510h0M385 601h0M340 499h0M392 529h0M520 486h0M449 515h0M349 525h0M308 447h0M301 431h0M355 600h0M483 468h0M428 556h0M412 511h0M451 510h0M509 514h0M500 532h0M408 619h0M326 601h0M417 555h0M492 495h0M299 432h0M352 551h0M447 522h0M356 468h0M373 494h0M386 532h0M360 528h0M311 524h0M312 454h0M356 535h0M458 580h0M383 477h0M423 551h0M458 554h0M375 542h0M462 524h0M407 521h0M380 471h0M407 539h0M450 637h0M437 614h0M312 556h0M353 569h0M478 478h0M420 473h0M446 584h0M414 544h0M321 453h0M441 526h0M351 510h0M398 562h0M363 574h0M467 531h0M464 547h0M307 509h0M475 581h0M410 498h0M457 484h0M346 556h0M335 575h0M348 464h0M451 512h0M419 536h0M150 602h0M436 572h0M345 455h0M513 511h0M309 572h0M456 584h0M286 450h0M282 589h0M483 468h0M430 575h0M319 541h0M442 516h0M494 478h0M514 489h0M307 473h0M362 542h0M302 497h0M406 547h0M334 493h0M353 500h0M501 518h0M371 452h0M310 445h0M478 546h0M453 581h0M357 575h0M434 541h0M381 556h0M501 472h0M364 541h0M407 619h0M444 577h0M327 445h0M499 482h0M485 477h0M424 541h0M365 540h0M423 488h0M245 569h0M386 487h0M335 495h0M361 491h0M347 490h0M385 560h0M426 538h0M488 466h0M469 513h0M489 514h0M296 509h0M485 467h0M289 523h0M360 520h0M324 370h0M397 600h0M374 561h0M412 545h0M310 479h0M409 549h0M364 434h0M399 556h0M466 535h0M459 531h0M466 527h0M483 516h0M416 532h0M301 447h0M394 597h0M319 504h0M360 582h0M362 549h0M264 561h0M325 514h0M441 605h0M499 485h0M416 475h0M455 510h0M284 597h0M378 507h0M402 582h0M274 570h0M423 538h0M417 454h0M508 494h0M340 537h0M402 295h0M302 522h0M325 583h0M445 530h0M475 466h0M496 555h0M359 462h0M375 467h0M410 482h0M368 528h0M432 555h0M479 509h0M464 498h0M322 517h0M316 455h0M400 528h0M363 548h0M388 421h0M379 511h0M299 463h0M534 485h0M352 581h0M392 450h0M410 486h0M385 540h0M376 538h0M497 491h0M410 559h0M279 518h0M336 441h0M383 61h0M395 593h0M415 555h0M344 463h0M340 603h0M317 473h0M325 449h0M397 523h0M429 545h0M518 536h0M431 509h0M317 500h0M318 436h0M491 494h0M372 575h0M346 518h0M437 586h0M443 583h0M306 515h0M401 563h0M321 473h0M379 550h0M376 521h0M339 516h0M348 566h0M341 441h0M494 489h0M291 650h0M421 571h0M406 584h0M420 487h0M385 455h0M310 505h0M509 513h0M370 568h0M381 442h0M377 493h0M281 525h0M382 529h0M305 564h0M378 525h0M337 618h0M464 496h0M428 527h0M346 502h0M376 499h0M358 523h0M293 553h0M445 540h0M379 549h0M311 572h0M269 443h0M478 529h0M402 545h0M445 608h0M472 524h0M472 511h0M370 585h0M358 511h0M433 538h0M331 621h0M444 532h0M416 501h0M487 557h0M405 533h0M419 534h0M481 577h0M439 583h0M339 521h0M471 518h0M348 461h0M370 554h0M312 468h0M349 568h0M433 620h0M397 378h0M391 514h0M395 551h0M323 416h0M430 527h0M449 288h0M278 503h0M514 478h0M265 427h0M487 535h0M451 560h0M376 518h0M308 442h0M536 491h0M295 575h0M472 484h0M349 489h0M423 550h0M470 514h0M443 604h0M361 543h0M349 450h0M509 476h0M390 538h0M349 590h0M394 463h0M479 558h0M396 492h0M299 487h0M455 485h0M308 566h0M439 577h0M476 554h0M339 474h0M454 573h0M486 532h0M329 545h0M482 502h0M380 529h0M417 617h0M472 532h0M487 536h0M485 553h0M388 529h0M385 480h0M419 599h0M527 478h0M389 447h0M447 548h0M469 540h0M482 577h0M343 529h0M460 570h0M443 559h0M293 558h0M330 473h0M336 513h0M437 460h0M320 481h0M418 486h0M370 491h0M299 405h0M391 478h0M373 413h0M403 464h0M325 483h0M238 528h0M337 552h0M428 422h0M292 546h0M343 586h0M372 595h0M465 525h0M307 475h0M449 539h0M452 583h0M297 454h0M331 465h0M273 560h0M493 551h0M281 593h0M293 405h0M496 510h0M461 515h0M423 580h0M367 535h0M324 528h0M371 474h0M349 440h0M252 481h0M349 634h0M383 477h0M370 503h0M451 586h0M436 551h0M349 486h0M436 457h0M296 542h0M332 458h0M429 527h0M464 574h0M279 439h0M373 601h0M405 569h0M429 569h0M360 525h0M329 571h0M224 464h0M433 606h0M457 560h0M396 514h0M518 493h0M536 494h0M446 541h0M489 546h0M295 409h0M427 523h0M173 501h0M280 599h0M475 567h0M285 454h0M514 513h0M341 458h0M391 529h0M449 566h0M310 587h0M421 134h0M438 329h0M460 591h0M365 452h0M483 519h0M537 485h0M436 470h0M377 496h0M284 531h0M378 534h0M310 440h0M501 507h0M245 435h0M426 522h0M494 545h0M330 472h0M414 633h0M469 535h0M535 496h0M349 452h0M436 588h0M277 419h0M502 545h0M464 583h0M347 582h0M389 458h0M444 563h0M332 529h0M346 501h0M347 483h0M393 551h0M410 477h0M346 509h0M442 611h0M357 464h0M442 495h0M384 576h0M391 452h0M352 595h0M283 629h0M427 475h0M307 482h0M427 498h0M313 544h0M372 484h0M263 437h0M360 599h0M379 503h0M372 568h0M278 578h0M501 520h0M308 529h0M321 504h0M417 629h0M312 524h0M400 580h0M436 571h0M338 561h0M402 575h0M502 508h0M267 461h0M391 551h0M463 522h0M507 464h0M506 486h0M391 538h0M338 592h0M435 597h0M323 513h0M258 428h0M396 471h0M367 577h0M334 628h0M287 586h0M320 591h0M334 606h0M299 438h0M352 577h0M398 554h0M461 535h0M463 484h0M280 567h0M509 484h0M434 595h0M353 524h0M405 471h0M333 527h0M410 528h0M353 487h0M511 493h0M334 442h0M431 572h0M356 477h0M429 501h0M189 484h0M387 565h0M444 556h0M333 553h0M479 488h0M341 552h0M404 466h0M351 439h0M292 408h0M378 470h0M355 481h0M314 442h0M376 458h0M390 547h0M298 413h0M374 521h0M320 571h0M434 507h0M500 535h0M493 492h0M378 548h0M346 548h0M385 441h0M367 502h0M368 603h0M361 479h0M348 578h0M463 456h0M364 581h0M391 564h0M311 530h0M373 456h0M295 450h0M486 516h0M339 510h0M314 582h0M277 454h0M373 446h0M492 516h0M417 619h0M352 513h0M177 508h0M459 517h0M311 502h0M431 532h0M407 505h0M299 488h0M344 532h0M278 526h0M464 468h0M400 560h0M376 583h0M313 464h0M398 550h0M423 522h0M292 567h0M481 566h0M451 548h0M373 471h0M506 522h0M447 546h0M342 91h0M337 590h0M275 581h0M482 468h0M350 592h0M324 512h0M440 491h0M298 441h0M448 566h0M358 551h0M279 560h0M324 480h0M419 572h0M287 553h0M459 568h0M475 482h0M422 473h0M334 547h0M396 495h0M315 430h0M465 563h0M277 566h0M345 445h0M339 529h0M326 524h0M446 582h0M485 517h0M429 607h0M363 525h0M531 514h0M512 472h0M484 485h0M377 581h0M377 521h0M456 513h0M468 570h0M291 468h0M427 589h0M302 420h0M471 486h0M412 463h0M427 564h0M506 519h0M337 521h0M324 578h0M389 567h0M181 505h0M374 546h0M265 430h0M294 558h0M430 503h0M348 498h0M278 444h0M328 587h0M407 596h0M384 504h0M433 608h0M474 556h0M353 517h0M322 451h0M380 435h0M343 539h0M279 429h0M311 449h0M411 484h0M454 509h0M290 434h0M324 554h0M352 497h0M343 530h0M390 578h0M441 180h0M443 618h0M510 471h0M298 520h0M458 564h0M359 471h0M426 483h0M510 506h0M286 551h0M301 433h0M270 431h0M435 501h0M306 578h0M425 583h0M522 475h0M380 461h0M420 521h0M392 509h0M288 407h0M392 461h0M410 523h0M324 577h0M301 459h0M324 520h0M300 434h0M420 559h0M524 527h0M423 506h0M439 534h0M215 459h0M294 601h0M418 595h0M366 557h0M499 531h0M438 614h0M327 566h0M378 503h0M401 512h0M248 574h0M354 569h0M404 467h0M424 603h0M461 572h0M327 484h0M390 480h0M439 489h0M461 572h0M436 564h0M416 604h0M302 513h0M376 462h0M302 412h0M414 547h0M497 557h0M433 572h0M371 526h0M219 477h0M436 368h0M500 480h0M431 509h0M332 486h0M404 576h0M381 579h0M286 571h0M378 557h0M389 492h0M209 523h0M305 431h0M327 478h0M358 493h0M486 543h0M483 539h0M404 597h0M396 463h0M385 567h0M411 483h0M502 516h0M403 595h0M244 568h0M273 428h0M445 508h0M305 552h0M296 478h0M426 519h0M427 588h0M374 449h0M508 531h0M318 481h0M295 569h0M348 544h0M359 453h0M250 563h0M318 571h0M273 554h0M404 480h0M430 575h0M483 454h0M469 513h0M326 434h0M441 579h0M362 574h0M447 589h0M517 509h0M495 508h0M464 565h0M313 573h0M437 503h0M405 520h0M354 598h0M406 592h0M230 455h0M417 507h0M282 557h0M341 518h0M459 595h0M462 512h0M414 475h0M328 585h0M343 462h0M363 575h0M319 486h0M436 483h0M401 541h0M323 475h0M362 355h0M397 591h0M513 510h0M499 541h0M398 509h0M498 529h0M257 430h0M379 520h0M279 562h0M389 572h0M369 452h0M314 465h0M501 459h0M455 526h0M350 413h0M512 502h0M387 583h0M262 575h0M373 536h0M322 551h0M328 476h0M315 489h0M493 524h0M383 503h0M326 497h0M475 590h0M343 584h0M494 534h0M459 394h0M333 446h0M301 413h0M358 559h0M320 560h0M398 523h0M326 485h0M372 464h0M466 529h0M353 453h0M454 484h0M290 542h0M481 548h0M424 545h0M393 478h0M447 511h0M472 504h0M497 518h0M302 422h0M399 618h0M338 585h0M350 503h0M371 572h0M124 564h0M409 576h0M316 636h0M423 615h0M503 500h0M511 549h0M398 607h0M355 494h0M338 551h0M324 584h0M389 528h0M503 527h0M331 632h0M477 561h0M314 420h0M229 584h0M404 554h0M503 484h0M304 458h0M484 465h0M331 510h0M294 540h0M408 527h0M393 546h0M388 498h0M301 479h0M381 542h0M487 571h0M457 585h0M410 580h0M337 481h0M419 532h0M516 511h0M342 586h0M273 430h0M373 514h0M344 506h0M280 555h0M499 530h0M344 501h0M355 455h0M464 512h0M473 516h0M366 595h0M399 482h0M359 507h0M512 495h0M346 456h0M414 524h0M517 467h0M440 568h0M283 544h0M479 575h0M325 512h0M357 564h0M475 533h0M400 527h0M442 602h0M380 500h0M381 462h0M329 418h0M414 521h0M315 514h0M383 455h0M348 556h0M411 572h0M437 548h0M273 557h0M416 168h0M443 512h0M446 519h0M363 513h0M468 553h0M381 471h0M346 485h0M288 583h0M320 451h0M425 566h0M473 562h0M466 521h0M357 568h0M380 576h0M515 488h0M384 479h0M296 548h0M477 450h0M446 591h0M470 582h0M308 502h0M516 475h0M513 507h0M340 531h0M532 482h0M313 533h0M349 459h0M423 592h0M370 546h0M522 476h0M452 569h0M405 430h0M406 587h0M485 558h0M360 584h0M414 626h0M365 584h0M306 569h0M383 554h0M392 471h0M314 589h0M359 489h0M282 422h0M382 481h0M451 554h0M324 545h0M404 588h0M340 496h0M305 540h0M385 444h0M479 544h0M494 499h0M307 581h0M345 595h0M420 630h0M370 519h0M500 515h0M374 452h0M294 535h0M304 498h0M374 486h0M489 522h0M437 567h0M458 487h0M377 589h0M485 534h0M384 512h0M420 387h0M293 443h0M351 549h0M286 424h0M381 517h0M262 437h0M454 523h0M338 456h0M411 480h0M394 489h0M296 473h0M494 555h0M474 522h0M330 580h0M345 501h0M382 519h0M321 455h0M409 507h0M319 528h0M397 556h0M476 556h0M416 557h0M408 106h0M273 562h0M446 464h0M491 525h0M279 555h0M145 582h0M315 474h0M332 470h0M312 491h0M342 587h0M399 447h0M331 456h0M298 533h0M497 472h0M469 517h0M430 594h0M346 486h0M441 504h0M466 572h0M282 445h0M345 582h0M465 524h0M501 491h0M502 550h0M512 481h0M415 572h0M326 487h0M289 467h0M325 521h0M288 578h0M403 633h0M490 515h0M497 557h0M461 584h0M526 476h0M460 503h0M437 223h0M440 502h0M310 503h0M289 448h0M437 582h0M378 448h0M446 609h0M475 552h0M466 593h0M443 490h0M467 553h0M439 283h0M442 593h0M505 547h0M483 487h0M424 479h0M387 579h0M352 454h0M356 489h0M338 584h0M416 507h0M345 581h0M474 551h0M319 488h0M450 608h0M364 504h0M448 538h0M360 517h0M318 578h0M388 506h0M453 513h0M361 577h0M500 463h0M319 638h0M410 445h0M405 611h0M371 506h0M305 557h0M515 495h0M484 482h0M406 592h0M411 471h0M432 535h0M353 455h0M321 525h0M535 472h0M335 597h0M469 558h0M382 539h0M313 467h0M294 436h0M436 553h0M536 479h0M461 550h0M417 524h0M502 511h0M356 476h0M366 466h0M403 282h0M398 463h0M342 573h0M275 547h0M314 484h0M428 543h0M534 498h0M506 517h0M448 572h0M492 536h0M367 552h0M448 549h0M462 507h0M367 533h0M370 505h0M286 452h0M294 516h0M334 541h0M402 603h0M239 595h0M303 420h0M410 589h0M341 488h0M170 513h0M452 542h0M437 524h0M471 521h0M420 602h0M399 518h0M426 620h0M324 518h0M380 569h0M485 534h0M449 496h0M468 494h0M296 428h0M529 497h0M415 590h0M269 569h0M413 576h0M283 577h0M354 596h0M375 508h0M327 459h0M411 588h0M507 461h0M370 539h0M307 527h0M459 491h0M377 530h0M276 551h0M391 489h0M448 531h0M339 440h0M513 509h0M458 532h0M385 535h0M339 553h0M368 478h0M319 472h0M320 447h0M364 584h0M438 604h0M335 572h0M499 560h0M434 465h0M313 464h0M315 442h0M457 491h0M337 510h0M281 578h0M313 400h0M301 443h0M364 454h0M328 465h0M459 569h0M351 532h0M329 598h0M295 569h0M425 585h0M303 437h0M461 525h0M432 480h0M299 551h0M360 518h0M373 591h0M370 591h0M481 518h0M398 570h0M434 513h0M380 578h0M443 612h0M364 595h0M475 569h0M339 568h0M177 546h0M339 554h0M308 558h0M383 480h0M383 501h0M373 481h0M365 555h0M402 564h0M289 553h0M411 499h0M384 591h0M390 590h0M320 548h0M369 575h0M373 445h0M298 405h0M325 544h0M379 599h0M337 501h0M421 106h0M400 559h0M446 527h0M456 519h0M368 455h0M426 242h0M333 577h0M424 558h0M327 484h0M375 586h0M368 496h0M367 581h0M398 449h0M426 487h0M447 503h0M366 519h0M268 468h0M314 516h0M460 548h0M358 589h0M270 396h0M334 489h0M348 337h0M345 571h0M257 526h0M344 540h0M299 525h0M318 536h0M301 452h0M390 475h0M407 600h0M266 585h0M485 513h0M441 599h0M450 518h0M468 510h0M312 479h0M339 434h0M492 556h0M434 588h0M472 540h0M411 471h0M359 486h0M340 588h0M418 616h0M241 485h0M425 540h0M321 579h0M274 555h0M341 554h0M460 587h0M309 499h0M420 591h0M321 475h0M519 481h0M302 473h0M400 522h0M272 448h0M406 571h0M372 533h0M355 500h0M345 479h0M291 563h0M331 568h0M386 564h0M497 462h0M300 552h0M437 514h0M480 477h0M429 493h0M418 518h0M496 549h0M437 550h0M420 631h0M537 494h0M311 420h0M435 476h0M380 450h0M413 497h0M443 500h0M324 504h0M488 516h0M318 517h0M405 462h0M455 483h0M275 441h0M468 574h0M228 555h0M336 481h0M456 505h0M289 426h0M421 612h0M346 483h0M335 451h0M372 340h0M313 413h0M320 598h0M399 465h0M337 481h0M289 569h0M420 485h0M409 592h0M397 570h0M405 562h0M492 496h0M440 512h0M320 585h0M334 589h0M378 527h0M380 450h0M321 464h0M422 479h0M453 568h0M453 532h0M354 631h0M509 551h0M333 480h0M431 561h0M449 599h0M315 412h0M490 469h0M333 508h0M402 548h0M301 432h0M319 519h0M485 543h0M272 446h0M452 491h0M449 600h0M366 592h0M373 463h0M396 523h0M346 489h0M424 493h0M517 519h0M369 514h0M318 484h0M207 608h0M294 563h0M475 576h0M351 565h0M526 504h0M409 482h0M283 591h0M436 582h0M311 430h0M470 527h0M419 536h0M362 529h0M521 476h0M306 562h0M392 145h0M319 524h0M356 464h0M375 440h0M367 451h0M369 444h0M444 456h0M287 436h0M327 462h0M412 552h0M403 558h0M334 528h0M383 565h0M347 443h0M455 573h0M380 477h0M467 561h0M462 493h0M451 528h0M360 466h0M361 572h0M358 573h0M404 568h0M462 564h0M404 543h0M501 476h0M268 590h0M503 469h0M470 484h0M333 408h0M471 513h0M333 635h0M427 532h0M437 522h0M437 483h0M173 570h0M347 548h0M401 521h0M523 485h0M428 540h0M295 541h0M471 491h0M352 507h0M377 499h0M426 501h0M266 545h0M332 545h0M374 455h0M383 542h0M323 461h0M475 553h0M312 516h0M337 558h0M300 517h0M402 617h0M383 527h0M431 573h0M440 478h0M330 535h0M366 454h0M297 580h0M312 425h0M338 450h0M407 465h0M256 429h0M325 462h0M427 577h0M413 548h0M383 563h0M530 484h0M359 551h0M167 571h0M309 558h0M364 568h0M512 523h0M464 476h0M349 487h0M372 502h0M509 528h0M480 494h0M335 488h0M525 490h0M516 525h0M412 458h0M366 589h0M275 576h0M468 559h0M414 586h0M385 585h0M466 214h0M473 537h0M471 517h0M371 510h0M411 616h0M296 443h0M308 588h0M535 471h0M307 590h0M340 566h0M519 538h0M480 479h0M308 561h0M442 561h0M383 527h0M414 493h0M191 551h0M350 572h0M321 500h0M397 449h0M345 513h0M465 575h0M374 494h0M371 533h0M323 535h0M344 570h0M510 535h0M463 518h0M421 562h0" stroke="#93a9e6"/>
<path d="M531 472h0M381 362h0M431 329h0M403 303h0M323 441h0M436 276h0M485 449h0M488 406h0M361 424h0M433 302h0M381 234h0M414 429h0M513 449h0M343 445h0M474 411h0M367 288h0M373 401h0M397 353h0M394 296h0M421 297h0M424 337h0M377 317h0M432 341h0M492 467h0M427 476h0M444 362h0M386 194h0M390 251h0M405 310h0M423 314h0M461 287h0M418 452h0M415 265h0M396 330h0M408 434h0M229 451h0M414 302h0M411 299h0M416 242h0M465 301h0M463 401h0M480 448h0M427 269h0M295 405h0M351 350h0M465 439h0M416 266h0M508 447h0M460 315h0M490 466h0M442 292h0M395 335h0M461 293h0M472 403h0M376 422h0M408 278h0M415 351h0M425 295h0M468 281h0M468 298h0M452 419h0M430 414h0M456 261h0M542 453h0M395 411h0M452 290h0M423 260h0M403 350h0M469 409h0M521 470h0M298 482h0M430 301h0M414 428h0M476 444h0M365 323h0M423 309h0M416 331h0M349 382h0M408 372h0M354 354h0M362 410h0M515 436h0M441 405h0M356 436h0M423 370h0M341 390h0M422 291h0M441 387h0M398 373h0M416 364h0M364 396h0M442 288h0M390 486h0M441 377h0M526 459h0M407 305h0M414 296h0M454 400h0M377 253h0M522 429h0M390 313h0M420 260h0M385 340h0M414 394h0M453 409h0M475 430h0M389 392h0M427 325h0M410 403h0M450 391h0M303 406h0M357 251h0M345 392h0M455 443h0M480 450h0M460 447h0M380 273h0M392 248h0M375 278h0M368 334h0M376 198h0M339 374h0M392 356h0M380 307h0M272 438h0M441 435h0M423 300h0M355 380h0M451 396h0M402 402h0M481 417h0M541 459h0M485 284h0M420 445h0M390 273h0M403 322h0M400 340h0M464 283h0M439 216h0M342 368h0M466 333h0M473 400h0M456 402h0M455 262h0M464 430h0M447 228h0M349 407h0M375 290h0M169 580h0M399 430h0M497 460h0M372 224h0M472 241h0M443 244h0M363 307h0M418 355h0M274 540h0M451 332h0M367 239h0M392 295h0M398 288h0M406 234h0M438 425h0M452 262h0M509 518h0M427 247h0M402 376h0M401 306h0M535 457h0M363 369h0M429 356h0M464 435h0M386 356h0M376 334h0M363 322h0M404 315h0M422 434h0M431 343h0M330 393h0M466 469h0M335 366h0M397 230h0M363 332h0M411 443h0M416 429h0M501 248h0M400 336h0M357 358h0M447 441h0M409 288h0M408 447h0M406 393h0M320 398h0M422 360h0M375 241h0M400 357h0M466 252h0M435 326h0M335 377h0M482 312h0M480 400h0M437 462h0M386 313h0M408 269h0M379 414h0M471 434h0M349 53h0M387 112h0M498 450h0M349 368h0M409 258h0M384 350h0M461 609h0M472 399h0M368 229h0M439 451h0M393 296h0M306 412h0M390 266h0M422 456h0M495 440h0M379 235h0M385 408h0M404 212h0M469 307h0M400 426h0M425 292h0M369 366h0M424 418h0M368 259h0M410 296h0M408 216h0M442 313h0M431 321h0M284 410h0M467 231h0M429 262h0M429 407h0M406 311h0M496 460h0M459 465h0M423 218h0M396 321h0M417 416h0M434 264h0M396 384h0M464 387h0M429 229h0M314 410h0M473 286h0M384 426h0M437 238h0M439 273h0M414 337h0M429 426h0M424 418h0M435 459h0M354 410h0M484 444h0M420 416h0M352 403h0M355 247h0M369 416h0M450 188h0M475 432h0M401 385h0M406 335h0M483 453h0M263 467h0M448 275h0M439 322h0M448 440h0M372 264h0M398 334h0M419 497h0M461 296h0M482 410h0M458 431h0M430 455h0M461 234h0M401 287h0M428 407h0M472 309h0M414 225h0M412 224h0M452 435h0M361 346h0M462 246h0M415 263h0M228 463h0M459 239h0M366 439h0M365 428h0M427 339h0M426 336h0M452 305h0M504 437h0M504 432h0M465 412h0M469 217h0M359 278h0M368 339h0M401 444h0M447 197h0M436 288h0M356 372h0M456 443h0M443 243h0M426 343h0M418 300h0M419 417h0M432 273h0M453 379h0M441 410h0M430 261h0M533 465h0M427 500h0M439 273h0M375 421h0M381 255h0M467 315h0M363 231h0M405 263h0M392 491h0M400 259h0M489 446h0M425 379h0M362 413h0M474 316h0M540 476h0M406 296h0M469 297h0M298 422h0M482 456h0M380 270h0M443 222h0M440 255h0M392 421h0M360 326h0M433 314h0M392 417h0M457 386h0M350 505h0M404 225h0M434 211h0M375 224h0M425 349h0M388 261h0M373 345h0M417 224h0M380 201h0M422 398h0M417 260h0M471 441h0M379 244h0M378 325h0M422 440h0M434 269h0M344 424h0M468 239h0M344 393h0M428 480h0M439 252h0M359 317h0M517 412h0M490 412h0M506 434h0M363 252h0M451 468h0M389 438h0M391 254h0M468 411h0M310 415h0M394 209h0M397 414h0M296 628h0M412 359h0M397 394h0M477 281h0M497 442h0M291 426h0M420 383h0M423 252h0M308 397h0M408 312h0M439 367h0M500 453h0M402 222h0M378 337h0M423 321h0M382 398h0M405 411h0M337 430h0M412 439h0M353 366h0M361 226h0M328 400h0M439 383h0M523 435h0M491 422h0M372 319h0M482 444h0M431 457h0M429 338h0M411 258h0M385 404h0M460 390h0M362 335h0M532 494h0M407 366h0M362 249h0M436 336h0M417 254h0M409 264h0M333 361h0M399 381h0M390 348h0M350 194h0M401 318h0M415 339h0M325 372h0M504 451h0M472 284h0M456 395h0M385 316h0M408 240h0M378 242h0M431 315h0M450 268h0M418 307h0M430 435h0M456 271h0M408 282h0M337 376h0M362 242h0M386 397h0M469 461h0M427 370h0M392 266h0M410 93h0M367 445h0M420 242h0M341 361h0M415 405h0M381 430h0M398 392h0M316 403h0M356 337h0M415 200h0M388 205h0M435 327h0M437 476h0M375 361h0M460 237h0M424 301h0M427 205h0M358 370h0M339 471h0M478 432h0M384 238h0M363 385h0M540 444h0M392 267h0M409 138h0M420 463h0M455 234h0M428 301h0M464 265h0M421 252h0M453 435h0M382 421h0M452 295h0M368 314h0M366 316h0M354 416h0M372 345h0M375 403h0M430 445h0M455 233h0M368 290h0M494 430h0M294 405h0M451 356h0M398 340h0M363 251h0M495 439h0M377 422h0M367 415h0M412 364h0M435 204h0M520 468h0M328 411h0M419 127h0M349 360h0M368 421h0M326 387h0M483 424h0M412 378h0M431 427h0M396 339h0M410 411h0M375 389h0M420 258h0M464 312h0M418 400h0M412 260h0M400 431h0M461 227h0M527 519h0M369 371h0M485 430h0M440 425h0M338 403h0M380 243h0M484 283h0M392 274h0M356 422h0M496 433h0M394 319h0M327 432h0M426 383h0M441 345h0M375 442h0M398 284h0M343 362h0M410 265h0M444 587h0M410 378h0M351 369h0M366 404h0M363 208h0M504 458h0M397 215h0M388 249h0M439 354h0M412 386h0M421 317h0M473 278h0M375 430h0M427 448h0M350 351h0M383 421h0M391 227h0M449 292h0M449 386h0M445 255h0M342 353h0M347 289h0M297 433h0M395 411h0M409 228h0M468 443h0M284 439h0M416 287h0M462 330h0M372 395h0M323 409h0M476 444h0M479 301h0M404 296h0M478 456h0M401 261h0M481 292h0M352 397h0M467 409h0M379 305h0M330 425h0M456 436h0M527 455h0M447 224h0M438 350h0M502 431h0M464 419h0M509 455h0M364 235h0M350 554h0M367 221h0M504 459h0M417 301h0M380 331h0M456 297h0M369 308h0M335 390h0M403 390h0M417 378h0M481 268h0M468 480h0M488 447h0M354 377h0M404 327h0M362 343h0M475 454h0M439 359h0M534 445h0M415 301h0M417 316h0M424 488h0M320 417h0M389 383h0M338 433h0M450 454h0M349 418h0M372 281h0M382 240h0M460 409h0M465 323h0M203 567h0M350 475h0M412 395h0M433 273h0M423 251h0M475 408h0M393 349h0M433 292h0M354 333h0M464 308h0M447 408h0M452 459h0M286 411h0M405 464h0M345 344h0M415 353h0M365 427h0M398 354h0M358 359h0M472 266h0M396 243h0M491 463h0M372 317h0M447 217h0M303 400h0M412 302h0M475 253h0M433 270h0M307 396h0M422 396h0M398 390h0M299 490h0M409 245h0M444 361h0M441 210h0M374 305h0M452 462h0M321 393h0M474 254h0M419 395h0M382 349h0M429 492h0M475 410h0M409 323h0M317 398h0M512 453h0M374 306h0M381 335h0M359 245h0M442 445h0M444 249h0M317 416h0M208 555h0M431 398h0M394 430h0M434 278h0M536 503h0M426 428h0M389 435h0M516 470h0M433 354h0M385 393h0M550 458h0M444 337h0M483 409h0M445 275h0M427 266h0M459 297h0M362 386h0M437 442h0M448 279h0M432 271h0M403 403h0M428 265h0M380 258h0M434 401h0M412 402h0M415 393h0M443 256h0M361 348h0M444 256h0M427 401h0M347 629h0M367 256h0M365 240h0M437 450h0M534 424h0M413 449h0M488 408h0M343 395h0M532 436h0M324 396h0M296 420h0M421 215h0M343 173h0M384 232h0M385 322h0M285 601h0M527 438h0M374 205h0M451 307h0M415 225h0M397 365h0M388 332h0M463 242h0M382 369h0M419 266h0M450 367h0M371 237h0M444 249h0M441 370h0M373 303h0M432 437h0M377 314h0M398 408h0M417 450h0M367 333h0M401 236h0M435 438h0M409 454h0M468 253h0M393 273h0M397 220h0M449 421h0M329 410h0M455 439h0M367 348h0M303 432h0M400 275h0M415 354h0M424 356h0M529 432h0M323 423h0M418 254h0M444 412h0M411 222h0M372 381h0M430 276h0M346 405h0M402 265h0M391 382h0M361 237h0M137 590h0M426 335h0M369 243h0M376 363h0M452 423h0M465 404h0M441 402h0M297 414h0M402 327h0M437 310h0M385 279h0M467 426h0M461 474h0M437 253h0M454 250h0M408 391h0M318 393h0M368 442h0M442 423h0M416 308h0M348 410h0M363 369h0M409 327h0M363 315h0M432 379h0M453 476h0M226 459h0M358 316h0M423 375h0M321 410h0M383 379h0M362 407h0M431 274h0M346 406h0M438 185h0M487 432h0M390 246h0M372 430h0M388 499h0M348 417h0M436 427h0M449 312h0M448 410h0M493 441h0M453 331h0M424 342h0M450 451h0M440 251h0M436 390h0M372 424h0M358 302h0M336 374h0M365 423h0M446 309h0M499 442h0M278 619h0M391 342h0M461 272h0M439 303h0M332 390h0M388 259h0M400 253h0M360 337h0M307 413h0M359 429h0M472 224h0M413 235h0M429 349h0M525 429h0M386 362h0M492 449h0M230 504h0M466 271h0M461 413h0M363 291h0M452 407h0M345 373h0M456 313h0M437 261h0M415 374h0M402 393h0M436 439h0M368 364h0M384 385h0M486 440h0M416 242h0M449 443h0M416 301h0M473 413h0M421 417h0M413 415h0M366 413h0M372 379h0M337 169h0M457 378h0M365 413h0M543 484h0M470 466h0M448 268h0M427 468h0M342 361h0M334 384h0M341 420h0M523 434h0M428 416h0M442 274h0M466 302h0M476 217h0M384 251h0M452 206h0M381 362h0M358 245h0M438 306h0M451 457h0M438 257h0M429 225h0M413 457h0M468 235h0M449 465h0M436 264h0M415 440h0M447 277h0M404 370h0M408 219h0M389 252h0M465 428h0M430 327h0M359 379h0M481 461h0M487 412h0M358 249h0M344 391h0M425 249h0M390 294h0M429 316h0M463 448h0M385 264h0M385 408h0M442 252h0M312 400h0M341 269h0M416 380h0M384 403h0M396 286h0M464 268h0M465 300h0M437 441h0M272 549h0M417 244h0M379 388h0M365 296h0M398 341h0M437 351h0M356 362h0M532 460h0M328 424h0M404 390h0M395 324h0M404 335h0M419 408h0M373 256h0M432 392h0M449 376h0M412 227h0M429 349h0M444 224h0M468 303h0M465 387h0M475 401h0M353 365h0M373 247h0M425 347h0M451 481h0M368 310h0M454 209h0M464 391h0M404 283h0M402 429h0M507 421h0M434 426h0M440 428h0M370 248h0M156 577h0M352 395h0M395 457h0M339 366h0M371 355h0M337 403h0M374 393h0M395 307h0M382 287h0M456 395h0M476 261h0M387 264h0M454 248h0M429 291h0M394 397h0M351 399h0M336 386h0M353 364h0M465 205h0M481 446h0M481 432h0M476 254h0M351 364h0M446 312h0M421 375h0M424 250h0M358 263h0M413 440h0M371 216h0M284 453h0M483 294h0M418 231h0M431 252h0M426 426h0M417 240h0M395 225h0M326 418h0M480 468h0M361 374h0M335 403h0M386 414h0M443 214h0M441 289h0M328 424h0M450 392h0M430 395h0M424 410h0M392 418h0M339 421h0M385 300h0M381 258h0M368 406h0M416 406h0M498 430h0M425 225h0M362 418h0M345 410h0M375 219h0M402 275h0M402 260h0M384 318h0M409 496h0M406 420h0M397 253h0M391 338h0M445 203h0M457 200h0M367 388h0M377 649h0M353 404h0M391 275h0M450 304h0M367 317h0M312 396h0M436 409h0M451 474h0M444 323h0M346 345h0M456 464h0M430 166h0M453 330h0M429 402h0M429 461h0M379 378h0M483 461h0M397 252h0M303 430h0M470 256h0M420 429h0M338 412h0M481 450h0M377 544h0M381 307h0M385 239h0M388 347h0M384 264h0M525 433h0M384 384h0M454 458h0M381 222h0M350 407h0M438 296h0M374 385h0M285 408h0M326 336h0M361 274h0M459 455h0M534 433h0M335 676h0M429 458h0M492 266h0M433 428h0M369 204h0M466 287h0M457 471h0M507 441h0M406 277h0M238 518h0M409 290h0M388 218h0M408 304h0M379 273h0M395 285h0M506 438h0M389 288h0M398 337h0M379 351h0M311 397h0M485 455h0M436 233h0M392 345h0M441 354h0M416 452h0M371 300h0M456 411h0M508 554h0M330 415h0M443 435h0M452 190h0M400 353h0M445 202h0M409 373h0M462 427h0M377 296h0M380 323h0M420 330h0M435 303h0M397 222h0M417 369h0M444 388h0M417 393h0M478 302h0M470 255h0M370 413h0M438 303h0M438 214h0M333 390h0M311 425h0M446 442h0M361 413h0M418 248h0M327 388h0M492 467h0M283 417h0M460 319h0M407 442h0M445 398h0M379 261h0M386 311h0M454 424h0M340 361h0M451 199h0M425 437h0M439 276h0M385 225h0M367 330h0M396 217h0M399 221h0M457 412h0M369 319h0M475 419h0M420 436h0M375 515h0M437 387h0M378 426h0M425 291h0M328 396h0M404 382h0M456 283h0M365 264h0M410 417h0M379 405h0M352 203h0M310 395h0M357 258h0M380 429h0M434 336h0M489 453h0M444 226h0M445 349h0M308 624h0M477 219h0M442 369h0M448 443h0M431 275h0M465 345h0M432 452h0M465 398h0M498 434h0M330 414h0M375 255h0M411 325h0M412 295h0M393 406h0M479 466h0M436 333h0M362 434h0M356 241h0M386 222h0M252 503h0M400 244h0M467 287h0M415 351h0M439 475h0M439 337h0M378 218h0M417 442h0M380 374h0M475 403h0M453 258h0M498 439h0M389 323h0M384 334h0M365 286h0M420 315h0M433 228h0M365 301h0M285 415h0M421 277h0M453 239h0M490 420h0M276 518h0M398 363h0M495 448h0M298 545h0M416 362h0M464 261h0M472 410h0M459 212h0M385 397h0M442 332h0M451 292h0M453 315h0M517 459h0M474 280h0M368 396h0M437 243h0M471 458h0M407 355h0M398 328h0M480 426h0M404 229h0M433 220h0M396 243h0M478 415h0M419 375h0M375 229h0M382 209h0M382 388h0M455 243h0M484 465h0M422 424h0M454 422h0M334 424h0M356 380h0M426 205h0M397 252h0M476 470h0M390 451h0M411 207h0M385 334h0M461 292h0M530 434h0M481 297h0M480 264h0M196 622h0M388 232h0M435 387h0M449 249h0M285 422h0M416 240h0M535 439h0M395 286h0M383 401h0M438 397h0M392 428h0M469 399h0M376 177h0M394 407h0M424 276h0M456 251h0M441 303h0M429 465h0M441 347h0M350 377h0M425 245h0M406 308h0M405 379h0M519 429h0M425 284h0M332 388h0M454 262h0M405 500h0M474 243h0M412 354h0M418 316h0M401 409h0M415 342h0M354 383h0M434 259h0M433 337h0M500 439h0M124 590h0M514 443h0M425 275h0M380 426h0M483 443h0M354 189h0M445 453h0M373 308h0M459 417h0M324 367h0M359 610h0M380 230h0M454 432h0M459 238h0M306 561h0M359 192h0M402 288h0M352 418h0M390 445h0M399 392h0M383 385h0M437 409h0M465 320h0M489 448h0M442 418h0M425 418h0M480 448h0M409 227h0M366 443h0M456 430h0M435 340h0M451 308h0M472 220h0M504 448h0M426 285h0M362 442h0M327 402h0M405 290h0M462 447h0M359 336h0M429 422h0M393 375h0M383 428h0M412 405h0M368 334h0M466 428h0M315 423h0M358 230h0M352 386h0M424 373h0M332 401h0M440 482h0M426 290h0M392 380h0M482 458h0M398 313h0M400 430h0M456 300h0M439 391h0M407 425h0M372 589h0M454 412h0M348 412h0M487 451h0M356 344h0M324 393h0M466 458h0M372 420h0M455 387h0M415 407h0M409 271h0M396 344h0M425 426h0M366 392h0M460 256h0M445 380h0M436 415h0M232 565h0M348 450h0M430 251h0M426 468h0M404 419h0M363 261h0M413 436h0M240 455h0M447 324h0M341 424h0M403 418h0M409 426h0M379 289h0M479 306h0M480 405h0M398 349h0M370 227h0M358 234h0M346 433h0M385 322h0M394 427h0M457 423h0M375 228h0M434 288h0M378 327h0M459 381h0M372 213h0M359 390h0M475 288h0M425 363h0M454 215h0M419 347h0M356 417h0M417 337h0M456 441h0M397 354h0M413 365h0M407 436h0M404 350h0M456 227h0M461 390h0M229 491h0M518 440h0M448 317h0M445 366h0M439 301h0M308 407h0M417 271h0M458 457h0M391 231h0M399 254h0M474 297h0M500 447h0M429 394h0M357 331h0M452 321h0M354 377h0M398 263h0M431 344h0M438 320h0M344 427h0M359 426h0M292 530h0M502 453h0M469 277h0M416 290h0M454 404h0M470 321h0M501 431h0M409 305h0M396 411h0M459 428h0M442 513h0M452 469h0M436 367h0M381 236h0M413 437h0M388 262h0M439 361h0M412 349h0M396 433h0M462 267h0M422 214h0M440 348h0M370 456h0M504 431h0M325 398h0M386 406h0M399 281h0M449 445h0M432 371h0M378 269h0M400 247h0M538 454h0M248 591h0M439 240h0M412 279h0M421 289h0M394 362h0M362 203h0M404 435h0M413 305h0M471 275h0M453 248h0M423 281h0M437 421h0M462 208h0M449 264h0M355 361h0M441 218h0M472 227h0M445 351h0M368 358h0M373 409h0M360 431h0M462 468h0M349 370h0M349 418h0M465 297h0M479 462h0M524 442h0M449 263h0M365 421h0M448 397h0M479 250h0M355 170h0M439 394h0M401 431h0M429 288h0M406 285h0M483 284h0M330 370h0M443 223h0M338 429h0M447 320h0M420 266h0M414 380h0M470 236h0M488 417h0M373 375h0M409 361h0M469 307h0M439 249h0M464 270h0M436 433h0M490 425h0M438 218h0M420 404h0M407 269h0M350 370h0M350 409h0M393 437h0M375 295h0M385 244h0M304 435h0M411 352h0M433 294h0M448 335h0M454 259h0M461 386h0M517 434h0M365 201h0M496 421h0M452 439h0M465 218h0M477 469h0M430 443h0M418 253h0M410 466h0M420 310h0M405 230h0M337 427h0M363 347h0M349 396h0M380 397h0M398 384h0M386 397h0M481 416h0M462 430h0M409 318h0M393 239h0M376 386h0M423 282h0M378 395h0M423 348h0M378 307h0M395 386h0M420 293h0M508 471h0M394 297h0M404 270h0M451 275h0M445 344h0M434 263h0M392 237h0M374 336h0M360 233h0M449 385h0M373 311h0M394 230h0M408 414h0M395 261h0M360 270h0M475 444h0M407 372h0M491 411h0M432 333h0M346 428h0M395 417h0M414 416h0M341 361h0M461 270h0M454 242h0M399 320h0M358 335h0M363 421h0M356 415h0M346 383h0M388 218h0M459 455h0M342 378h0M415 429h0M413 312h0M377 328h0M415 312h0M294 531h0M387 234h0M441 303h0M432 455h0M476 467h0M433 453h0M397 218h0M322 410h0M335 368h0M495 425h0M414 465h0M264 483h0M518 433h0M429 111h0M400 291h0M329 475h0M448 309h0M519 475h0M484 435h0M397 539h0M466 402h0M410 230h0M435 297h0M367 371h0M447 426h0M401 352h0M411 391h0M374 411h0M394 273h0M420 360h0M363 296h0M384 269h0M358 382h0M467 261h0M397 233h0M421 391h0M109 539h0M421 419h0M420 375h0M439 433h0M353 631h0M342 368h0M359 269h0M442 261h0M360 197h0M450 298h0M460 386h0M457 403h0M460 427h0M374 294h0M356 228h0M477 243h0M371 305h0M439 323h0M461 450h0M403 339h0M144 566h0M465 424h0M502 427h0M409 420h0M373 354h0M507 437h0M434 293h0M426 458h0M430 455h0M442 320h0M410 270h0M334 416h0M359 401h0M425 323h0M385 252h0M433 236h0M344 365h0M476 415h0M383 261h0M395 365h0M355 352h0M328 376h0M387 404h0M423 417h0M534 448h0M391 236h0M414 329h0M500 455h0M315 395h0M444 389h0M467 437h0M387 316h0M438 234h0M472 299h0M365 277h0M463 302h0M439 344h0M324 406h0M504 536h0M435 315h0M436 306h0M348 416h0M475 263h0M338 386h0M317 416h0M463 228h0M458 186h0M405 399h0M426 397h0M372 425h0M442 342h0M392 377h0M409 312h0M322 414h0M468 424h0M398 208h0M323 403h0M366 358h0M338 378h0M468 459h0M399 336h0M444 461h0M367 433h0M344 389h0M371 126h0M457 251h0M377 251h0M470 458h0M369 232h0M471 278h0M342 351h0M440 378h0M456 232h0M506 425h0M457 228h0M374 344h0M428 445h0M320 410h0M408 217h0M359 233h0M384 441h0M309 397h0M400 250h0M496 436h0M413 270h0M361 232h0M400 424h0M396 422h0M407 345h0M438 615h0M422 266h0M466 445h0M362 240h0M438 484h0M426 465h0M412 396h0M337 384h0M443 356h0M412 449h0M390 300h0M373 248h0M402 265h0M534 461h0M401 276h0M373 432h0M425 390h0M429 420h0M464 277h0M340 417h0M522 430h0M439 256h0M371 209h0M431 331h0M440 352h0M440 299h0M330 378h0M371 214h0M389 261h0M486 413h0M360 297h0M467 290h0M354 320h0M538 467h0M470 436h0M498 461h0M372 366h0M398 235h0M406 257h0M396 363h0M439 261h0M537 455h0M329 398h0M452 259h0M457 404h0M430 257h0M431 302h0M414 368h0M445 301h0M407 357h0M481 406h0M439 312h0M395 245h0M308 421h0M378 226h0M411 246h0M474 246h0M372 256h0M431 459h0M422 364h0M429 304h0M509 430h0M405 342h0M432 449h0M428 437h0M451 416h0M432 460h0M440 229h0M423 254h0M362 299h0M366 285h0M391 238h0M375 319h0M357 221h0M370 229h0M423 392h0M376 383h0M516 451h0M519 460h0M437 434h0M448 293h0M394 253h0M406 369h0M452 208h0M406 346h0M384 289h0M484 401h0M416 335h0M441 364h0M383 293h0M402 230h0M403 373h0M382 405h0M408 220h0M403 326h0M352 403h0M420 425h0M468 188h0M448 265h0M414 288h0M390 306h0M401 227h0M318 403h0M487 449h0M226 518h0M455 414h0M464 293h0M454 448h0M478 416h0M385 287h0M371 340h0M504 450h0M479 309h0M333 410h0M431 328h0M405 363h0M361 235h0M384 243h0M458 428h0M384 384h0M383 269h0M424 327h0M354 272h0M397 221h0M419 335h0M364 199h0M384 321h0M357 348h0M419 400h0M426 389h0M408 256h0M348 383h0M378 214h0M433 287h0M324 419h0M353 355h0M371 392h0M418 257h0M416 278h0M390 287h0M511 432h0M447 454h0M399 355h0M345 350h0M391 275h0M433 186h0M529 450h0M419 279h0M373 401h0M485 425h0M422 424h0M539 464h0M481 298h0M381 223h0M435 366h0M433 361h0M360 274h0M448 195h0M477 421h0M310 391h0M539 462h0M391 242h0M435 417h0M370 318h0M347 354h0M428 305h0M460 436h0M476 416h0M414 353h0M389 298h0M413 256h0M392 394h0M455 199h0M447 375h0M474 251h0M322 426h0M369 264h0M397 343h0M424 475h0M524 446h0M530 460h0M313 351h0M406 355h0M364 256h0M448 425h0M316 382h0M393 268h0M384 277h0M447 444h0M452 418h0M538 466h0M403 260h0M418 254h0M394 400h0M426 338h0M499 425h0M379 361h0M383 229h0M419 364h0M465 451h0M448 288h0M318 368h0M378 281h0M412 305h0M493 439h0M379 258h0M324 410h0M426 401h0M399 337h0M375 394h0M458 315h0M435 336h0M459 384h0M504 436h0M378 352h0M368 493h0M358 230h0M294 416h0M360 507h0M385 334h0M475 248h0M522 426h0M416 320h0M472 267h0M485 457h0M436 479h0M422 221h0M391 245h0M435 317h0M438 469h0M404 326h0M302 437h0M380 376h0M342 396h0M437 309h0M401 288h0M482 471h0M474 409h0M385 363h0M342 352h0M454 230h0M443 280h0M456 186h0M387 285h0M495 421h0M397 239h0M344 347h0M506 543h0M468 464h0M469 298h0M448 232h0M535 466h0M331 362h0M375 377h0M424 315h0M393 282h0M425 145h0M331 438h0M461 211h0M219 482h0M307 431h0M465 326h0M343 408h0M540 499h0M440 383h0M442 409h0M405 228h0M292 426h0M478 229h0M381 416h0M443 290h0M398 229h0M389 429h0M403 408h0M463 272h0M459 215h0M458 234h0M439 257h0M329 378h0M514 443h0M267 505h0M276 417h0M421 385h0M459 213h0M512 458h0M395 314h0M439 497h0M437 320h0M421 406h0M462 229h0M357 602h0M457 241h0M391 205h0M441 448h0M384 340h0M433 288h0M434 386h0M374 264h0M354 383h0M347 402h0M386 330h0M409 220h0M421 247h0M406 258h0M373 361h0M438 265h0M449 191h0M415 378h0M412 253h0M521 419h0M419 325h0M522 435h0M442 254h0M356 224h0M394 412h0M431 441h0M381 349h0M372 349h0M441 361h0M460 202h0M329 333h0M453 460h0M430 377h0" stroke="#d5a6f6"/>
<path d="M350 656h0M308 497h0M379 652h0M197 594h0M405 653h0M314 608h0M342 667h0M362 635h0M334 651h0M216 580h0M347 639h0M214 590h0M399 600h0M135 597h0M347 613h0M383 637h0M180 592h0M291 624h0M386 651h0M264 650h0M172 631h0M268 622h0M391 563h0M247 633h0M228 644h0M348 623h0M317 606h0M235 662h0M303 614h0M303 610h0M409 640h0M359 649h0M238 636h0M364 623h0M173 620h0M379 631h0M176 578h0M283 632h0M240 572h0M369 656h0M394 649h0M201 624h0M403 610h0M181 623h0M353 642h0M263 608h0M240 588h0M396 607h0M232 582h0M273 645h0M408 636h0M247 590h0M316 659h0M300 585h0M195 607h0M291 675h0M199 611h0M272 635h0M251 662h0M303 637h0M185 568h0M177 609h0M215 594h0M348 651h0M215 650h0M512 470h0M368 643h0M187 644h0M177 621h0M194 575h0M222 640h0M353 658h0M201 510h0M324 657h0M207 597h0M302 595h0M257 607h0M177 592h0M312 650h0M238 563h0M228 614h0M161 609h0M363 635h0M373 594h0M364 650h0M167 613h0M234 639h0M213 579h0M239 634h0M361 652h0M275 644h0M197 618h0M243 676h0M219 614h0M202 628h0M146 605h0M301 613h0M256 655h0M205 632h0M367 627h0M294 663h0M177 605h0M387 635h0M337 670h0M279 605h0M384 636h0M403 623h0M375 618h0M386 637h0M234 620h0M156 592h0M439 483h0M256 627h0M383 622h0M290 636h0M176 595h0M401 619h0M365 653h0M297 647h0M297 652h0M357 610h0M375 626h0M303 659h0M332 621h0M209 614h0M188 633h0M314 645h0M334 633h0M140 565h0M353 616h0M213 585h0M320 626h0M136 593h0M239 524h0M311 647h0M297 610h0M339 438h0M198 613h0M289 632h0M268 637h0M406 522h0M329 641h0M365 655h0M382 609h0M196 610h0M304 597h0M213 626h0M284 594h0M375 508h0M267 634h0M184 582h0M244 600h0M234 606h0M383 614h0M348 629h0M328 656h0M228 599h0M253 624h0M394 624h0M249 606h0M291 437h0M327 637h0M180 573h0M214 599h0M325 547h0M157 623h0M281 589h0M276 664h0M235 601h0M189 619h0M275 583h0M247 619h0M170 608h0M208 475h0M300 619h0M337 492h0M303 595h0M263 603h0M194 565h0M270 637h0M180 562h0M360 625h0M291 636h0M322 617h0M231 642h0M171 552h0M268 670h0M167 635h0M289 624h0M239 615h0M175 610h0M267 669h0M221 629h0M391 286h0M397 637h0M176 611h0M303 643h0M127 588h0M179 614h0M186 619h0M183 577h0M278 635h0M239 652h0M253 599h0M305 612h0M342 612h0M403 630h0M381 640h0M373 625h0M356 612h0M253 606h0M232 588h0M309 606h0M419 633h0M254 656h0M186 602h0M271 647h0M137 612h0M335 658h0M360 627h0M213 588h0M367 632h0M237 644h0M283 615h0M262 619h0M384 639h0M294 629h0M232 614h0M212 624h0M315 664h0M129 587h0M267 587h0M252 619h0M275 611h0M381 646h0M475 299h0M364 629h0M201 620h0M297 670h0M259 660h0M214 607h0M412 621h0M251 599h0M343 642h0M173 597h0M388 613h0M260 645h0M285 649h0M281 602h0M335 650h0M303 643h0M291 621h0M488 408h0M224 573h0M391 610h0M290 619h0M326 647h0M218 622h0M200 652h0M371 611h0M388 623h0M131 573h0M225 615h0M277 609h0M272 654h0M234 638h0M408 640h0M297 601h0M150 585h0M241 589h0M290 608h0M273 613h0M163 621h0M283 608h0M381 630h0M288 582h0M221 626h0M212 611h0M315 595h0M318 654h0M358 669h0M298 670h0M389 596h0M389 621h0M223 593h0M325 617h0M337 608h0M169 536h0M247 618h0M219 658h0M232 670h0M369 645h0M356 601h0M321 601h0M145 593h0M300 656h0M234 651h0M365 632h0M194 584h0M231 590h0M251 613h0M314 655h0M255 615h0M380 641h0M280 662h0M250 610h0M332 645h0M329 611h0M374 652h0M228 600h0M309 644h0M329 642h0M362 628h0M216 632h0M198 637h0M265 592h0M353 660h0M320 632h0M185 636h0M207 657h0M377 609h0M310 638h0M244 571h0M280 590h0M177 624h0M204 606h0M253 610h0M386 606h0M247 640h0M301 544h0M126 579h0M206 632h0M324 602h0M356 600h0M181 635h0M246 608h0M274 626h0M141 604h0M174 619h0M234 639h0M383 634h0M143 611h0M331 624h0M131 585h0M213 646h0M319 601h0M184 574h0M186 578h0M133 581h0M385 603h0M350 609h0M220 639h0M320 550h0M303 631h0M257 655h0M337 648h0M212 594h0M210 641h0M198 586h0M404 633h0M192 588h0M304 607h0M216 625h0M338 665h0M322 653h0M282 623h0M340 627h0M316 612h0M257 587h0M280 600h0M368 357h0M251 639h0M227 604h0M326 648h0M361 632h0M304 666h0M284 620h0M363 614h0M298 654h0M277 611h0M410 636h0M252 577h0M280 638h0M321 616h0M321 633h0M294 653h0M320 657h0M301 660h0M294 651h0M178 585h0M405 635h0M287 636h0M265 431h0M209 635h0M250 656h0M249 623h0M207 630h0M256 629h0M303 598h0M188 636h0M374 278h0M267 600h0M322 597h0M296 599h0M415 653h0M338 634h0M224 607h0M226 645h0M191 582h0M247 625h0M408 617h0M390 636h0M320 632h0M208 583h0M299 618h0M201 616h0M373 626h0M230 599h0M141 583h0M228 638h0M175 612h0M223 643h0M372 628h0M368 604h0M225 603h0M318 662h0M385 607h0M335 655h0M325 626h0M217 659h0M340 624h0M273 573h0M291 598h0M236 647h0M306 589h0M293 598h0M328 616h0M141 594h0M255 640h0M209 617h0M343 636h0M376 602h0M327 634h0M286 622h0M325 551h0M284 647h0M327 599h0M408 633h0M246 626h0M161 601h0M333 638h0M234 615h0M267 594h0M272 606h0M338 655h0M311 615h0M298 646h0M370 85h0M321 639h0M269 607h0M373 619h0M265 582h0M234 546h0M399 615h0M277 588h0M292 659h0M181 598h0M184 610h0M179 603h0M196 612h0M380 613h0M241 625h0M369 636h0M218 579h0M191 596h0M257 620h0M340 603h0M234 630h0M286 571h0M165 630h0M327 644h0M301 647h0M359 614h0M364 621h0M177 620h0M297 617h0M253 591h0M199 605h0M436 552h0M125 591h0M316 603h0M214 588h0M175 577h0M275 618h0M265 508h0M222 640h0M273 671h0M276 634h0M390 610h0M250 640h0M383 594h0M242 627h0M237 643h0M345 623h0M195 637h0M262 648h0M169 609h0M145 617h0M218 640h0M347 615h0M229 600h0M362 652h0M204 622h0M209 623h0M310 637h0M182 597h0M150 612h0M241 654h0M253 638h0M266 556h0M255 604h0M302 615h0M309 631h0M318 627h0M194 593h0M246 579h0M229 605h0M218 591h0M262 604h0M215 607h0M159 612h0M287 529h0M235 624h0M431 179h0M317 636h0M253 638h0M297 629h0M209 585h0M181 599h0M323 630h0M269 671h0M303 622h0M339 102h0M208 621h0M367 601h0M315 653h0M249 620h0M287 617h0M320 626h0M325 617h0M260 618h0M180 626h0M169 593h0M251 616h0M203 621h0M251 662h0M244 630h0M194 611h0M292 646h0M300 661h0M254 591h0M378 501h0M243 640h0M189 596h0M131 585h0M239 635h0M346 643h0M185 554h0M310 612h0M203 609h0M201 643h0M176 589h0M246 592h0M192 595h0M150 617h0M374 632h0M312 651h0M151 593h0M277 643h0M225 626h0M376 635h0M323 666h0M189 607h0M310 600h0M269 595h0M282 635h0M288 644h0M240 644h0M264 659h0M344 649h0M306 643h0M186 641h0M293 472h0M281 641h0M404 383h0M384 645h0M182 605h0M352 624h0M298 631h0M254 647h0M240 651h0M252 588h0M380 645h0M300 599h0M256 616h0M278 516h0M404 621h0M196 640h0M456 365h0M195 587h0M186 589h0M367 439h0M242 625h0M317 622h0M368 619h0M155 583h0M379 628h0M375 629h0M216 656h0M199 615h0M166 612h0M352 607h0M270 642h0M367 632h0M246 564h0M377 616h0M252 625h0M295 595h0M379 633h0M215 634h0M211 633h0M191 614h0M296 638h0M343 415h0M291 619h0M367 642h0M309 602h0M286 413h0M400 618h0M230 651h0M326 601h0M202 632h0M190 595h0M360 619h0M298 619h0M355 364h0M267 610h0M270 621h0M186 621h0M185 626h0M356 656h0M368 641h0M207 596h0M290 634h0M360 338h0M336 641h0M296 618h0M335 599h0M171 630h0M241 588h0M260 668h0M348 534h0M372 616h0M348 621h0M226 644h0M502 485h0M288 640h0M251 636h0M366 613h0M251 667h0M341 662h0M376 643h0M300 394h0M128 593h0M252 651h0M384 623h0M360 626h0M306 627h0M235 621h0M194 564h0M315 661h0M337 637h0M155 546h0M188 641h0M276 618h0M296 669h0M267 580h0M270 605h0M226 630h0M177 605h0M400 613h0M303 594h0M292 664h0M378 610h0M404 584h0M306 591h0M175 604h0M376 603h0M339 597h0M432 483h0M265 627h0M333 596h0M183 591h0M320 654h0M364 622h0M221 626h0M322 610h0M182 588h0M214 582h0M164 593h0M519 436h0M257 618h0M218 657h0M384 629h0M260 624h0M272 564h0M264 669h0M330 621h0M204 611h0M170 625h0M359 651h0M188 609h0M389 657h0M177 591h0M242 646h0M123 573h0M224 594h0M367 601h0M290 626h0M371 605h0M324 595h0M478 412h0M294 609h0M435 618h0M247 605h0M381 612h0M320 664h0M211 654h0M279 662h0M306 661h0M263 637h0M233 657h0M232 603h0M235 603h0M214 610h0M202 499h0M305 572h0M275 656h0M235 602h0M192 489h0M260 650h0M201 636h0M336 650h0M380 365h0M322 614h0M401 631h0M185 571h0M174 593h0M206 647h0M292 619h0M133 586h0M244 644h0M256 629h0M249 564h0M352 610h0M373 612h0M220 598h0M211 646h0M177 623h0M327 490h0M193 614h0M240 655h0M246 599h0M287 575h0M162 597h0M298 642h0M237 671h0M186 614h0M258 593h0M235 604h0M219 632h0M390 647h0M246 669h0M186 585h0M310 655h0M403 219h0M319 605h0M320 590h0M277 552h0M198 604h0M380 608h0M364 598h0M229 624h0M374 637h0M316 666h0M182 621h0M252 623h0M205 644h0M309 609h0M342 625h0M239 596h0M183 578h0M200 617h0M242 640h0M278 661h0M215 595h0M321 587h0M307 596h0M231 642h0M138 595h0M393 654h0M226 641h0M327 610h0M310 623h0M252 624h0M276 660h0M277 659h0M303 648h0M316 614h0M224 625h0M279 607h0M375 650h0M399 618h0M348 645h0M312 646h0M333 600h0M376 616h0M377 646h0M315 607h0M355 619h0M296 624h0M317 653h0M155 612h0M257 623h0M309 632h0M195 650h0M369 652h0M234 639h0M165 589h0M320 663h0M303 596h0M293 654h0M380 261h0M297 640h0M284 616h0M244 615h0M419 459h0M275 660h0M285 589h0M266 596h0M179 616h0M309 604h0M408 623h0M121 587h0M193 602h0M215 640h0M305 649h0M321 605h0M279 597h0M233 577h0M265 610h0M303 640h0M418 95h0M150 645h0M392 625h0M502 550h0M251 601h0M202 621h0M317 601h0M371 613h0M384 622h0M391 619h0M319 614h0M247 612h0M311 658h0M351 628h0M279 602h0M163 618h0M340 638h0M212 641h0M347 638h0M192 577h0M284 646h0M422 604h0M290 631h0M278 669h0M330 641h0M179 577h0M146 609h0M266 606h0M248 640h0M323 620h0M314 635h0M197 614h0M319 641h0M199 575h0M186 605h0M381 628h0M188 632h0M176 637h0M374 634h0M140 585h0M312 618h0M390 631h0M154 609h0M322 608h0M240 658h0M263 596h0M194 648h0M397 641h0M332 639h0M347 593h0M348 626h0M287 567h0M370 279h0M227 650h0M310 621h0M244 620h0M158 604h0M295 637h0M317 634h0M235 647h0M401 630h0M260 661h0M296 613h0M278 661h0M426 476h0M158 622h0M298 604h0M293 598h0M197 586h0M265 661h0M180 588h0M253 639h0M388 607h0M315 596h0M202 594h0M276 657h0M259 629h0M220 632h0M267 606h0M275 610h0M403 358h0M311 637h0M449 258h0M232 631h0M351 604h0M225 627h0M384 337h0M177 603h0M309 619h0M339 623h0M318 649h0M249 601h0M161 588h0M298 428h0M154 590h0M296 645h0M304 643h0M388 600h0M291 642h0M343 606h0M369 643h0M298 570h0M282 668h0M148 603h0M233 631h0M207 613h0M237 629h0M239 614h0M318 653h0M140 599h0M251 605h0M316 628h0M403 646h0M316 657h0M343 639h0M358 654h0M204 589h0M300 660h0M188 605h0M216 615h0M427 624h0M397 634h0M197 589h0M368 635h0M309 438h0M160 588h0M218 626h0M374 645h0M317 644h0M270 645h0M181 629h0M375 603h0M265 630h0M293 638h0M346 657h0M349 665h0M126 588h0M371 631h0M263 598h0M199 583h0M228 623h0M286 646h0M360 619h0M225 623h0M295 606h0M389 598h0M193 646h0M247 655h0M211 622h0M380 644h0M423 530h0M236 587h0M365 614h0M316 629h0M358 633h0M191 624h0M353 654h0M160 620h0M282 622h0M314 632h0M315 624h0M320 660h0M350 621h0M224 654h0M298 645h0M251 650h0M183 590h0M147 600h0M231 661h0M364 654h0M329 636h0M180 587h0M386 605h0M357 605h0M257 658h0M231 647h0M408 640h0M412 463h0M361 616h0M324 668h0M268 649h0M294 623h0M227 652h0M154 613h0M315 602h0M410 611h0M195 567h0M323 644h0M334 657h0M335 613h0M452 226h0M343 628h0M290 666h0M205 649h0M240 587h0M214 602h0M291 607h0" stroke="#ded8fa"/>
<path d="M143 554h0M224 496h0M240 475h0M277 542h0M271 500h0M207 521h0M285 582h0M155 540h0M141 593h0M134 561h0M194 502h0M272 452h0M265 451h0M228 484h0M189 497h0M273 486h0M288 491h0M276 578h0M210 525h0M200 488h0M211 564h0M213 569h0M198 481h0M201 471h0M186 489h0M280 553h0M289 484h0M125 550h0M193 506h0M155 508h0M220 585h0M280 455h0M216 508h0M117 552h0M220 617h0M347 491h0M138 535h0M114 552h0M147 580h0M162 524h0M225 454h0M190 551h0M306 518h0M136 523h0M230 541h0M138 541h0M153 542h0M180 565h0M268 508h0M137 513h0M149 568h0M182 528h0M229 490h0M182 514h0M144 504h0M295 404h0M215 467h0M168 577h0M249 531h0M146 558h0M145 558h0M324 609h0M415 536h0M153 524h0M254 436h0M295 523h0M266 517h0M227 513h0M252 445h0M250 580h0M222 529h0M219 594h0M247 557h0M116 545h0M156 577h0M284 430h0M238 459h0M185 537h0M432 329h0M156 525h0M272 426h0M245 471h0M384 171h0M184 508h0M153 548h0M154 541h0M192 559h0M232 492h0M262 545h0M167 569h0M164 557h0M174 519h0M215 529h0M349 626h0M246 543h0M261 451h0M268 545h0M290 487h0M288 442h0M261 485h0M296 472h0M262 567h0M194 494h0M271 572h0M191 570h0M271 521h0M266 575h0M242 536h0M208 497h0M282 539h0M252 522h0M146 530h0M269 450h0M207 472h0M205 498h0M284 489h0M259 525h0M278 542h0M439 598h0M219 510h0M186 571h0M235 573h0M247 503h0M276 471h0M198 536h0M133 585h0M305 475h0M236 526h0M116 563h0M251 439h0M229 544h0M294 419h0M272 494h0M167 541h0M255 442h0M220 490h0M286 520h0M202 484h0M172 573h0M189 541h0M178 557h0M260 509h0M274 576h0M204 515h0M251 462h0M258 475h0M260 436h0M179 560h0M195 521h0M281 508h0M251 467h0M230 575h0M211 528h0M275 569h0M213 559h0M174 510h0M198 519h0M126 540h0M192 548h0M128 542h0M165 515h0M166 526h0M330 504h0M218 487h0M241 482h0M171 560h0M180 539h0M198 554h0M153 523h0M166 551h0M141 560h0M269 444h0M191 489h0M330 483h0M196 525h0M299 513h0M204 520h0M145 545h0M295 487h0M225 508h0M271 519h0M272 419h0M126 529h0M202 513h0M278 501h0M140 599h0M237 523h0M254 570h0M227 508h0M167 536h0M145 521h0M278 514h0M158 540h0M207 532h0M160 500h0M230 535h0M274 526h0M243 633h0M121 582h0M278 525h0M269 508h0M256 496h0M113 565h0M239 488h0M182 557h0M240 503h0M244 467h0M217 528h0M345 542h0M159 580h0M261 456h0M153 583h0M220 496h0M139 549h0M187 520h0M158 549h0M141 573h0M174 519h0M296 475h0M219 507h0M165 517h0M233 492h0M188 502h0M144 546h0M133 532h0M198 555h0M194 561h0M254 502h0M220 522h0M207 514h0M255 476h0M237 494h0M174 586h0M267 446h0M200 542h0M136 561h0M234 516h0M243 467h0M224 515h0M184 530h0M234 567h0M397 578h0M136 594h0M210 552h0M215 464h0M220 515h0M222 494h0M206 489h0M206 542h0M215 542h0M152 565h0M287 449h0M228 508h0M194 498h0M244 561h0M234 561h0M223 500h0M233 549h0M414 505h0M256 480h0M206 557h0M249 493h0M218 568h0M333 492h0M200 509h0M243 538h0M239 568h0M302 488h0M191 497h0M177 542h0M286 493h0M280 509h0M209 579h0M428 211h0M150 564h0M139 567h0M172 564h0M217 559h0M280 620h0M255 474h0M145 525h0M240 503h0M194 495h0M308 564h0M165 503h0M233 452h0M267 555h0M207 528h0M225 452h0M234 502h0M251 543h0M285 470h0M160 514h0M150 534h0M136 579h0M207 507h0M224 468h0M207 574h0M262 504h0M149 530h0M295 496h0M155 523h0M273 429h0M108 562h0M235 453h0M176 540h0M188 499h0M250 539h0M121 525h0M286 493h0M178 533h0M155 528h0M196 525h0M165 549h0M149 515h0M283 495h0M272 463h0M273 522h0M265 474h0M249 479h0M545 535h0M172 551h0M251 541h0M272 464h0M255 498h0M216 535h0M271 491h0M222 535h0M245 457h0M203 492h0M254 497h0M166 575h0M157 506h0M206 607h0M207 571h0M128 532h0M236 502h0M257 533h0M273 488h0M228 516h0M135 521h0M173 579h0M190 646h0M164 561h0M167 559h0M168 510h0M231 493h0M154 560h0M232 493h0M170 561h0M147 523h0M155 502h0M230 487h0M339 451h0M262 456h0M174 540h0M222 518h0M183 503h0M453 340h0M150 538h0M359 423h0M243 478h0M145 521h0M242 452h0M212 482h0M169 556h0M244 529h0M140 517h0M140 538h0M222 532h0M215 545h0M151 569h0M281 505h0M304 596h0M229 501h0M183 526h0M261 520h0M194 544h0M235 561h0M219 555h0M224 483h0M284 496h0M263 549h0M168 588h0M130 581h0M132 574h0M183 490h0M221 579h0M206 551h0M209 564h0M380 583h0M256 459h0M150 553h0M240 475h0M429 332h0M209 558h0M218 485h0M275 425h0M187 513h0M269 479h0M243 509h0M299 510h0M188 503h0M208 539h0M278 442h0M224 559h0M235 585h0M195 561h0M278 589h0M183 546h0M148 516h0M149 553h0M145 602h0M257 548h0M267 516h0M249 456h0M153 585h0M252 556h0M273 534h0M249 479h0M224 464h0M172 526h0M139 526h0M169 550h0M229 504h0M263 482h0M205 545h0M337 115h0M191 556h0M129 542h0M234 462h0M335 357h0M143 556h0M200 520h0M359 174h0M349 413h0M243 523h0M208 545h0M245 550h0M160 518h0M353 342h0M217 546h0M277 587h0M152 559h0M276 515h0M298 522h0M223 478h0M149 532h0M163 561h0M238 442h0M270 478h0M153 586h0M130 592h0M213 491h0M214 537h0M137 537h0M214 536h0M207 527h0M263 504h0M212 533h0M389 263h0M291 486h0M123 527h0M210 530h0M398 312h0M262 498h0M184 495h0M168 534h0M284 459h0M236 583h0M238 549h0M186 562h0M255 531h0M212 477h0M135 590h0M198 479h0M165 543h0M226 458h0M159 575h0M240 449h0M209 497h0M175 509h0M168 562h0M137 524h0M165 511h0M249 511h0M161 552h0M139 549h0M251 569h0M247 611h0M260 563h0M173 529h0M167 582h0M192 530h0M167 542h0M235 516h0M167 528h0M231 479h0M220 631h0M231 537h0M170 561h0M227 531h0M190 533h0M167 540h0M246 541h0M219 640h0M203 501h0M218 538h0M248 565h0M277 458h0M136 594h0M300 488h0M145 573h0M261 518h0M234 503h0M237 545h0M224 462h0M270 486h0M194 553h0M170 574h0M262 515h0M199 552h0M135 566h0M159 518h0M300 390h0M126 541h0M256 566h0M243 520h0M278 507h0M175 579h0M291 419h0M116 554h0M238 456h0M380 73h0M179 544h0M212 580h0M270 485h0M277 523h0M130 554h0M161 515h0M262 471h0M275 549h0M145 599h0M245 524h0M185 567h0M233 509h0M280 432h0M225 525h0M170 527h0M277 482h0M205 548h0M203 540h0M253 523h0M202 582h0M182 535h0M387 201h0M296 418h0M224 497h0M377 629h0M165 573h0M250 562h0M342 608h0M240 559h0M176 502h0M165 548h0M141 568h0M209 621h0M205 563h0M193 491h0M292 497h0M207 529h0M154 574h0M209 488h0M155 526h0M248 507h0M205 470h0M236 466h0M235 556h0M212 505h0M159 524h0M170 515h0M382 265h0M240 478h0M276 455h0M304 484h0M287 447h0M185 563h0M137 543h0M266 561h0M283 532h0M192 491h0M262 482h0M284 487h0M261 463h0M248 511h0M296 520h0M193 557h0M259 487h0M173 576h0M355 625h0M230 543h0M231 590h0M167 576h0M116 564h0M260 528h0M231 524h0M157 582h0M233 578h0M171 524h0M265 473h0M215 560h0M265 522h0M190 545h0M163 516h0M211 502h0M210 476h0M141 520h0M253 438h0M212 526h0M197 515h0M265 555h0M152 542h0M144 571h0M219 504h0M292 481h0M176 545h0M195 553h0M262 458h0M222 531h0M162 569h0M278 482h0M375 539h0M126 578h0M266 492h0M246 451h0M177 571h0M141 557h0M136 515h0M228 501h0M226 530h0M288 460h0M139 602h0M169 509h0M303 485h0M251 492h0M162 514h0M260 476h0M340 508h0M259 504h0M164 580h0M266 471h0M311 479h0M221 464h0M150 570h0M233 514h0M231 541h0M201 536h0M173 522h0M184 499h0M238 473h0M145 540h0M220 471h0M173 519h0M258 524h0M179 547h0M208 476h0M199 554h0M199 624h0M277 523h0M238 491h0M250 433h0M272 463h0M251 579h0M221 578h0M124 585h0M344 422h0M194 516h0M189 490h0M164 558h0M254 500h0M251 553h0M140 578h0M242 494h0M174 528h0M380 428h0M192 502h0M220 460h0M271 479h0M218 551h0M288 471h0M246 556h0M211 565h0M128 518h0M216 578h0M123 540h0M184 541h0M247 559h0M122 588h0M225 476h0M134 542h0M146 542h0M338 535h0M158 554h0M198 567h0M153 550h0M252 505h0M201 566h0M265 482h0M249 491h0M150 543h0M186 537h0M216 602h0M303 474h0M135 529h0M254 501h0M147 547h0M146 526h0M162 567h0M142 553h0M268 526h0M207 504h0M164 525h0M161 573h0M157 548h0M182 549h0M130 592h0M255 546h0M136 524h0M240 530h0M276 443h0M326 504h0M235 476h0M217 562h0M264 473h0M402 494h0M171 507h0M297 468h0M271 567h0M165 544h0M248 470h0M232 561h0M203 542h0M229 502h0M265 478h0M149 540h0M247 515h0M276 519h0M243 499h0M230 546h0M201 552h0M283 487h0M253 558h0M139 567h0M132 578h0M155 523h0M285 468h0M119 573h0M239 547h0M205 594h0M245 506h0M159 533h0M223 465h0M282 494h0M231 487h0M179 562h0M117 533h0M132 561h0M164 584h0M142 558h0M234 498h0M256 464h0M166 564h0M165 554h0M221 506h0M229 552h0M373 599h0M297 480h0M263 490h0M242 531h0M273 446h0M156 574h0M248 566h0M183 528h0M203 481h0M208 556h0M197 510h0M336 74h0M235 585h0M274 478h0M274 456h0M134 604h0M233 546h0M289 506h0M205 560h0M246 457h0M188 494h0M147 573h0M247 492h0M216 486h0M166 555h0M260 506h0M258 583h0M280 540h0M200 507h0M251 494h0M286 494h0M118 540h0M186 522h0M127 580h0M246 563h0M221 486h0M152 539h0M267 475h0M126 523h0M197 506h0M171 541h0M163 564h0M254 481h0M249 534h0M247 463h0M237 534h0M268 462h0M288 600h0M106 549h0M298 532h0M260 561h0M222 546h0M174 527h0M148 571h0M162 522h0M169 500h0M201 561h0M278 542h0M153 522h0M141 515h0M389 279h0M289 473h0M226 523h0M262 431h0M243 570h0M265 491h0M216 541h0M187 526h0M277 420h0M219 496h0M154 568h0M210 561h0M244 468h0M114 562h0M275 456h0M237 502h0M188 538h0M333 517h0M300 476h0M265 490h0M226 547h0M163 506h0M251 472h0M244 479h0M248 457h0M192 528h0M199 544h0M289 499h0M434 477h0M288 478h0M230 478h0M197 507h0M216 545h0M269 514h0M238 511h0M261 544h0M219 498h0M299 476h0M130 547h0M229 504h0M179 560h0M165 510h0M244 560h0M279 464h0M195 558h0M259 430h0M244 559h0M198 490h0M265 482h0M214 561h0M238 468h0M272 454h0M201 532h0M266 477h0M214 546h0M240 498h0M192 610h0M174 562h0M135 522h0M262 426h0M198 486h0M208 547h0M239 562h0M196 534h0M324 475h0M272 430h0M155 509h0M229 513h0M134 553h0M142 566h0M216 491h0M287 479h0M202 464h0M274 451h0M293 444h0M259 502h0M172 508h0M132 530h0M288 469h0M256 514h0M271 439h0M203 553h0M221 464h0M259 442h0M289 504h0M270 495h0M160 536h0M150 566h0M238 534h0M256 518h0M255 511h0M240 496h0M181 543h0M167 492h0M234 576h0M259 563h0M146 596h0M250 540h0M117 569h0M277 518h0M189 614h0M287 533h0M143 529h0M280 498h0M228 525h0M165 548h0M240 498h0M181 558h0M158 551h0M305 396h0M262 468h0M236 561h0M243 468h0M266 522h0M144 552h0M217 490h0M262 468h0M272 524h0M238 514h0M145 579h0M242 452h0M261 504h0M173 519h0M225 554h0M249 490h0M212 503h0M216 509h0M199 611h0M197 474h0M177 546h0M258 515h0M130 544h0M228 541h0M230 463h0M136 565h0M134 568h0M282 514h0M212 545h0M262 458h0M248 497h0M223 484h0M168 556h0M152 581h0M126 557h0M185 636h0M421 324h0M158 575h0M227 501h0M153 525h0M172 539h0M431 496h0M184 533h0M124 551h0M159 514h0M408 492h0M127 529h0M247 565h0M301 477h0M210 551h0M260 551h0M245 448h0M170 574h0M295 538h0M157 579h0M156 525h0M249 577h0M234 474h0M230 459h0M269 513h0M270 451h0M151 553h0M247 504h0M234 613h0M144 569h0M159 598h0M220 548h0M227 506h0M199 523h0M168 553h0M204 563h0M152 527h0M277 457h0M185 498h0M212 590h0M144 542h0M222 574h0M265 514h0M192 497h0M280 471h0M243 503h0M156 547h0M229 490h0M146 584h0M264 496h0M159 559h0M279 490h0M110 539h0M267 490h0M146 563h0M278 510h0M205 476h0M264 522h0M145 567h0M202 512h0M236 527h0M173 497h0M235 548h0M255 479h0M164 571h0M165 514h0M147 520h0M274 564h0M225 522h0M239 463h0M411 245h0M220 571h0M241 510h0M186 535h0M262 570h0M159 562h0M222 557h0M249 446h0M290 518h0M218 559h0M274 463h0M230 545h0M258 497h0M261 522h0M114 563h0M187 502h0M238 477h0M169 549h0M195 484h0M237 558h0M183 513h0M246 581h0M202 527h0M197 498h0M123 561h0M195 500h0M167 558h0M165 519h0M70 504h0M70 505h0M51 505h0M57 500h0M88 501h0M66 503h0M81 503h0M85 503h0M77 502h0M85 502h0M74 500h0M80 502h0M57 500h0M76 499h0M88 504h0M59 504h0M54 505h0M76 502h0M67 505h0M57 498h0M67 502h0M83 501h0M76 499h0M64 499h0M64 501h0M72 501h0M74 500h0M73 503h0M68 506h0M57 501h0M65 503h0M69 500h0M71 499h0M60 502h0M57 499h0M72 503h0" stroke="#7468c4"/>
<path d="M359 224h0M340 91h0M350 147h0M376 136h0M338 125h0M406 165h0M435 435h0M380 177h0M355 139h0M411 215h0M360 127h0M394 62h0M413 298h0M358 51h0M447 208h0M400 108h0M432 121h0M360 160h0M391 154h0M408 201h0M456 218h0M391 92h0M329 113h0M454 206h0M351 134h0M367 89h0M348 184h0M422 164h0M363 179h0M346 103h0M416 196h0M353 168h0M397 126h0M410 78h0M368 198h0M409 133h0M355 136h0M358 180h0M351 179h0M396 149h0M410 170h0M347 54h0M363 108h0M366 175h0M416 129h0M354 81h0M415 179h0M406 155h0M383 128h0M372 117h0M339 117h0M410 202h0M400 58h0M370 113h0M385 105h0M422 179h0M374 86h0M473 427h0M423 189h0M418 168h0M340 113h0M367 204h0M383 168h0M360 47h0M422 196h0M354 133h0M395 197h0M378 219h0M357 165h0M381 121h0M401 114h0M435 190h0M395 93h0M385 210h0M402 80h0M420 172h0M370 194h0M444 304h0M416 148h0M154 541h0M343 100h0M376 73h0M417 207h0M353 94h0M413 160h0M393 111h0M346 140h0M441 126h0M381 70h0M438 173h0M376 75h0M459 198h0M334 85h0M370 120h0M433 207h0M369 94h0M417 108h0M413 87h0M435 148h0M385 95h0M400 143h0M408 415h0M433 206h0M376 305h0M397 99h0M355 109h0M415 171h0M409 191h0M439 166h0M386 138h0M348 124h0M397 160h0M431 194h0M393 200h0M352 136h0M398 188h0M395 393h0M435 150h0M395 174h0M385 120h0M350 65h0M361 76h0M358 153h0M397 131h0M339 119h0M385 65h0M412 100h0M355 114h0M399 99h0M407 72h0M445 205h0M363 89h0M388 150h0M418 181h0M390 120h0M428 158h0M428 202h0M370 118h0M428 146h0M348 60h0M389 141h0M375 83h0M223 584h0M434 155h0M421 167h0M507 519h0M365 249h0M395 185h0M356 168h0M383 113h0M390 184h0M350 125h0M387 78h0M350 59h0M360 138h0M381 83h0M380 157h0M342 122h0M368 135h0M405 199h0M324 633h0M355 194h0M381 227h0M402 166h0M355 158h0M432 138h0M363 191h0M364 81h0M376 103h0M333 88h0M387 143h0M436 206h0M437 164h0M340 126h0M374 130h0M343 87h0M345 166h0M416 196h0M385 118h0M423 132h0M339 81h0M367 180h0M387 119h0M403 130h0M384 173h0M388 157h0M387 157h0M325 89h0M397 126h0M368 190h0M430 121h0M410 169h0M325 452h0M388 108h0M392 78h0M346 428h0M347 131h0M374 80h0M425 134h0M384 76h0M390 84h0M410 102h0M445 429h0M350 69h0M352 178h0M355 114h0M412 59h0M373 59h0M393 78h0M397 164h0M414 327h0M373 108h0M363 184h0M349 145h0M357 91h0M398 129h0M381 76h0M375 66h0M346 134h0M379 162h0M399 142h0M374 48h0M357 185h0M391 177h0M421 199h0M403 222h0M367 52h0M350 170h0M419 130h0M400 205h0M357 152h0M374 107h0M445 192h0M387 147h0M350 131h0M396 80h0M370 177h0M364 231h0M375 122h0M440 89h0M369 192h0M377 77h0M372 108h0M371 105h0M369 194h0M398 137h0M442 157h0M383 68h0M404 179h0M364 81h0M411 209h0M423 118h0M383 194h0M406 123h0M412 151h0M387 187h0M448 158h0M364 190h0M418 204h0M407 145h0M368 182h0M348 102h0M410 180h0M418 205h0M356 166h0M413 204h0M380 155h0M384 125h0M431 139h0M393 108h0M366 180h0M362 193h0M396 178h0M345 93h0M243 555h0M343 136h0M421 100h0M418 210h0M372 133h0M349 136h0M360 151h0M392 161h0M351 163h0M423 153h0M374 144h0M475 314h0M398 112h0M372 159h0M399 73h0M362 212h0M372 91h0M361 114h0M347 168h0M382 67h0M386 84h0M417 192h0M395 170h0M345 82h0M350 149h0M423 189h0M385 216h0M423 183h0M360 128h0M365 225h0M407 86h0M469 551h0M418 155h0M350 81h0M384 114h0M379 164h0M379 207h0M393 180h0M431 183h0M358 99h0M395 156h0M420 114h0M399 173h0M338 119h0M358 179h0M431 188h0M372 135h0M341 93h0M396 120h0M400 99h0M379 54h0M356 167h0M400 86h0M402 135h0M422 165h0M368 107h0M365 52h0M346 72h0M416 116h0M400 81h0M340 123h0M377 199h0M392 79h0M351 215h0M410 106h0M406 184h0M351 146h0M395 100h0M343 70h0M346 77h0M419 106h0M350 73h0M351 55h0M414 129h0M397 74h0M396 195h0M372 150h0M445 384h0M386 148h0M390 155h0M376 106h0M524 460h0M421 196h0M412 90h0M405 188h0M386 52h0M350 64h0M427 206h0M391 119h0M410 227h0M364 192h0M362 93h0M384 62h0M390 167h0M419 148h0M342 201h0M401 82h0M365 75h0M369 140h0M386 218h0M359 129h0M415 209h0M412 207h0M332 94h0M382 208h0M432 291h0M371 133h0M438 160h0M362 59h0M379 163h0M345 161h0M406 82h0M387 91h0M423 201h0M395 199h0M205 486h0M386 87h0M510 427h0M346 61h0M409 173h0M377 100h0M427 181h0M432 185h0M344 143h0M389 110h0M361 109h0M360 193h0M379 65h0M387 158h0M433 92h0M385 117h0M398 208h0M427 142h0M415 122h0M342 72h0M347 131h0M377 182h0M433 207h0M385 113h0M350 166h0M417 165h0M364 121h0M341 60h0M386 77h0M381 124h0M375 56h0M360 218h0M348 69h0M385 60h0M352 133h0M417 165h0M376 525h0M416 172h0M421 186h0M376 198h0M406 211h0M385 129h0M378 117h0M437 147h0M412 157h0M352 64h0M462 173h0M420 122h0M402 143h0M373 305h0M376 59h0M385 66h0M372 153h0M362 114h0M373 69h0M385 78h0M420 178h0M405 153h0M380 195h0M407 196h0M409 194h0M351 90h0M412 433h0M401 168h0M346 84h0M409 160h0M401 130h0M362 164h0M354 131h0M427 144h0M383 105h0M419 138h0M358 129h0M369 57h0M403 101h0M343 103h0M367 50h0M385 139h0M404 154h0M352 201h0M392 180h0M425 211h0M356 189h0M403 153h0M349 103h0M423 175h0M362 54h0M431 228h0M413 117h0M419 127h0M385 130h0M351 123h0M410 173h0M415 166h0M375 121h0M433 182h0M374 156h0M368 195h0M411 169h0M459 181h0M338 73h0M438 135h0M367 86h0M385 95h0M394 161h0M382 106h0M342 79h0M388 79h0M429 122h0M384 111h0M402 88h0M419 204h0M433 154h0M378 138h0M365 102h0M358 130h0M365 75h0M422 205h0M364 132h0M426 163h0M419 189h0M374 58h0M361 65h0M348 65h0M380 95h0M382 151h0M361 111h0M406 152h0M361 111h0M363 104h0M363 152h0M415 100h0M404 172h0M406 212h0M424 211h0M369 155h0M423 180h0M359 68h0M374 130h0M395 192h0M399 115h0M441 199h0M350 105h0M372 109h0M424 213h0M441 153h0M360 123h0M412 186h0M377 176h0M372 95h0M375 185h0M351 176h0M428 201h0M346 151h0M368 173h0M345 112h0M376 210h0M396 123h0M386 134h0M368 57h0M369 53h0M376 117h0M343 79h0M410 102h0M411 186h0M360 193h0M344 101h0M446 136h0M377 133h0M227 644h0M344 175h0M367 166h0M417 108h0M383 212h0M359 49h0M359 74h0M418 222h0M394 97h0M415 107h0M399 176h0M419 192h0M407 126h0M358 95h0M338 102h0M437 167h0M433 211h0M359 132h0M430 166h0M385 161h0M360 52h0M331 102h0M389 70h0M352 142h0M334 89h0M365 153h0M426 131h0M370 174h0M362 112h0M368 133h0M348 112h0M428 149h0M367 116h0M342 68h0M390 110h0M417 168h0M407 54h0M388 92h0M399 114h0M427 135h0M375 92h0M407 195h0M373 63h0M351 169h0M426 226h0M411 133h0M390 145h0M395 59h0M421 170h0M436 146h0M340 59h0M364 72h0M360 155h0M404 201h0M444 177h0M366 195h0M409 177h0M352 179h0M353 46h0M374 118h0M363 92h0M339 114h0M394 84h0M185 481h0M401 178h0M380 106h0M363 184h0M433 172h0M361 121h0M403 163h0M435 145h0M410 188h0M339 130h0M428 171h0M367 148h0M422 195h0M403 197h0M460 530h0M434 152h0M370 72h0M347 113h0M426 117h0M437 189h0M377 172h0M375 73h0M364 91h0M375 181h0M429 164h0M359 143h0M397 121h0M378 170h0M403 71h0M369 164h0M444 182h0M432 187h0M388 56h0M352 115h0M345 182h0M350 57h0M435 115h0M417 171h0M389 171h0M438 176h0M389 93h0M423 156h0M372 167h0M391 133h0M384 140h0M387 58h0M387 110h0M362 73h0M351 73h0M373 83h0M362 171h0M349 72h0M381 104h0M412 200h0M403 124h0M357 92h0M379 104h0M424 207h0M380 82h0M352 410h0M404 93h0M408 153h0M400 148h0M416 105h0M367 101h0M414 183h0M414 484h0M350 66h0M411 155h0M387 193h0M439 192h0M382 66h0M374 65h0M390 140h0M380 54h0M388 202h0M365 166h0M341 621h0M419 157h0M411 203h0M408 136h0M357 116h0M375 150h0M394 131h0M372 92h0M339 131h0M365 206h0M414 125h0M425 177h0M336 89h0M390 170h0M406 110h0M376 84h0M357 130h0M380 122h0M338 116h0M355 77h0M393 92h0M396 84h0M388 65h0M449 255h0M358 86h0M388 151h0M433 204h0M377 272h0M394 94h0M394 111h0M396 176h0M358 86h0M391 97h0M402 128h0M383 117h0M390 215h0M414 239h0M339 101h0M375 125h0M367 91h0M243 581h0M346 76h0M348 76h0M367 126h0M344 147h0M376 156h0M406 168h0M396 91h0M386 100h0M387 176h0M366 76h0M416 173h0M377 189h0M378 162h0M375 160h0M378 184h0M400 139h0M356 59h0M358 68h0M381 150h0M400 100h0M418 124h0M435 130h0M415 117h0M407 157h0M412 103h0M425 119h0M360 184h0M364 93h0M417 164h0M346 167h0M403 144h0M412 187h0M431 163h0M444 154h0M343 69h0M364 123h0M386 58h0M344 147h0M364 96h0M374 76h0M388 154h0M390 77h0M419 170h0M372 171h0M384 341h0M384 100h0M428 152h0M400 115h0M373 191h0M383 118h0M382 60h0M420 178h0M345 71h0M351 165h0M411 148h0M431 287h0M349 114h0M416 134h0M373 152h0M404 147h0M395 152h0M396 73h0M369 79h0M370 71h0M400 113h0M362 127h0M409 162h0M388 102h0M360 112h0M363 130h0M443 157h0M407 150h0M440 183h0M386 78h0M398 94h0M360 157h0M400 191h0M393 121h0M427 540h0M374 73h0M357 117h0M385 94h0M390 147h0M411 181h0M397 57h0M345 136h0M380 184h0M376 175h0M369 68h0M382 86h0M380 147h0M380 159h0M311 330h0M440 183h0M393 172h0M416 200h0M389 181h0M377 165h0" stroke="#ae66ee"/>
</g>
<path d="M1451.6 737.4C1454.7 712.4 1460.7 693.4 1484.4 677.9C1520.1 655.4 1528.4 622.1 1526.8 574.5C1525.3 543.6 1517.7 515.1 1513.4 487.8" stroke="#7a35a8" stroke-width="3.4" fill="none" stroke-linecap="round"/>
<path d="M1484.4 677.9C1463.1 669.6 1436.9 669.6 1411.9 681" stroke="#7a35a8" stroke-width="3.4" fill="none" stroke-linecap="round"/>
<path d="M1507 469.4L1523.4 489.4L1513.9 486.6L1504.7 494.2Z" fill="#7a35a8"/>
<path d="M1400.1 684.6L1412.7 674.4L1412.2 680.5L1416 685.8Z" fill="#7a35a8"/>
<circle cx="1451.6" cy="737.4" r="7.2" fill="#7a35a8"/>
<text x="1291.9" y="610.9" font-size="25" textLength="131.9" lengthAdjust="spacingAndGlyphs">M1-skewed</text>
<text x="1316.1" y="642.8" font-size="25" textLength="84" lengthAdjust="spacingAndGlyphs">branch</text>
<text x="1586.7" y="559.1" font-size="25" textLength="135.5" lengthAdjust="spacingAndGlyphs">M2-skewed</text>
<text x="1616.4" y="590.5" font-size="25" textLength="83.2" lengthAdjust="spacingAndGlyphs">branch</text>
<path d="M890.9 734V787.4H948" stroke="#3d4f66" stroke-width="1.6" fill="none"/>
<path d="M890.9 726L895.8 738.5L890.9 736L886 738.5Z" fill="#3d4f66"/>
<path d="M955.5 787.4L943 782.5L945.5 787.4L943 792.3Z" fill="#3d4f66"/>
<text x="874.2" y="757.2" font-size="20" text-anchor="middle" transform="rotate(-90 874.2 757.2)" textLength="74.4" lengthAdjust="spacingAndGlyphs">UMAP-2</text>
<text x="887.2" y="824.2" font-size="20" textLength="72.1" lengthAdjust="spacingAndGlyphs">UMAP-1</text>
<text x="1122.5" y="792.6" font-size="19" textLength="102" lengthAdjust="spacingAndGlyphs">Pseudotime</text>
<defs><linearGradient id="pg" x1="0" y1="0" x2="0" y2="1">
<stop offset="0.058" stop-color="#f0f424"/>
<stop offset="0.095" stop-color="#f4e727"/>
<stop offset="0.133" stop-color="#f8d92b"/>
<stop offset="0.170" stop-color="#facc2f"/>
<stop offset="0.208" stop-color="#fbbf35"/>
<stop offset="0.245" stop-color="#fcb23a"/>
<stop offset="0.283" stop-color="#faa641"/>
<stop offset="0.320" stop-color="#f79a49"/>
<stop offset="0.358" stop-color="#f58e50"/>
<stop offset="0.395" stop-color="#f0815d"/>
<stop offset="0.433" stop-color="#ea746a"/>
<stop offset="0.470" stop-color="#e46b74"/>
<stop offset="0.508" stop-color="#dd617e"/>
<stop offset="0.545" stop-color="#d75888"/>
<stop offset="0.583" stop-color="#ce4b94"/>
<stop offset="0.620" stop-color="#c43ea0"/>
<stop offset="0.658" stop-color="#b734ad"/>
<stop offset="0.695" stop-color="#aa2aba"/>
<stop offset="0.733" stop-color="#9727bd"/>
<stop offset="0.770" stop-color="#8325c1"/>
<stop offset="0.807" stop-color="#7022c4"/>
<stop offset="0.845" stop-color="#5d20bc"/>
<stop offset="0.882" stop-color="#4a1eb4"/>
<stop offset="0.920" stop-color="#371cac"/>
<stop offset="0.957" stop-color="#241aa1"/>
<stop offset="0.995" stop-color="#121896"/>
</linearGradient></defs>
<rect x="1120.5" y="807.8" width="19.5" height="98.7" fill="url(#pg)"/>
<path d="M1120.5 813.5L1125 813.5" stroke="#fff" stroke-width="1.2"/>
<path d="M1135.5 813.5L1140 813.5" stroke="#fff" stroke-width="1.2"/>
<text x="1148.5" y="818.6" font-size="17.6" textLength="33.2" lengthAdjust="spacingAndGlyphs">12.5</text>
<path d="M1120.5 832.1L1125 832.1" stroke="#fff" stroke-width="1.2"/>
<path d="M1135.5 832.1L1140 832.1" stroke="#fff" stroke-width="1.2"/>
<text x="1148.5" y="837.5" font-size="17.6" textLength="24.3" lengthAdjust="spacingAndGlyphs">10.</text>
<path d="M1120.5 850.4L1125 850.4" stroke="#fff" stroke-width="1.2"/>
<path d="M1135.5 850.4L1140 850.4" stroke="#fff" stroke-width="1.2"/>
<text x="1148.5" y="856.4" font-size="17.6" textLength="25.1" lengthAdjust="spacingAndGlyphs">7.5</text>
<path d="M1120.5 869.3L1125 869.3" stroke="#fff" stroke-width="1.2"/>
<path d="M1135.5 869.3L1140 869.3" stroke="#fff" stroke-width="1.2"/>
<text x="1148.5" y="875.5" font-size="17.6">5</text>
<path d="M1120.5 888.4L1125 888.4" stroke="#fff" stroke-width="1.2"/>
<path d="M1135.5 888.4L1140 888.4" stroke="#fff" stroke-width="1.2"/>
<text x="1148.5" y="894.9" font-size="17.6" textLength="25.6" lengthAdjust="spacingAndGlyphs">2.5</text>
<path d="M1120.5 906L1125 906" stroke="#fff" stroke-width="1.2"/>
<path d="M1135.5 906L1140 906" stroke="#fff" stroke-width="1.2"/>
<text x="1149.6" y="913.8" font-size="17.6">0</text>
<circle cx="1258.6" cy="791.8" r="6.5" fill="#a855f0"/>
<text x="1284.2" y="797.7" font-size="21" textLength="347.2" lengthAdjust="spacingAndGlyphs">M2-skewed non-classical monocyte</text>
<circle cx="1258.6" cy="818.4" r="6.5" fill="#d0a0f8"/>
<text x="1284.2" y="824.3" font-size="21" textLength="421.6" lengthAdjust="spacingAndGlyphs">Antigen-presenting intermediate monocyte</text>
<circle cx="1258.6" cy="845" r="6.5" fill="#8ca5e8"/>
<text x="1284.2" y="851" font-size="21" textLength="305.3" lengthAdjust="spacingAndGlyphs">Activated classical monocyte_2</text>
<circle cx="1258.6" cy="871.6" r="6.5" fill="#645ab9"/>
<text x="1284.2" y="877.8" font-size="21" textLength="302.1" lengthAdjust="spacingAndGlyphs">Activated classical monoycte_1</text>
<circle cx="1258.6" cy="898.3" r="6.5" fill="#e4defc"/>
<text x="1284.2" y="904.5" font-size="21" textLength="399.8" lengthAdjust="spacingAndGlyphs"><tspan font-style="italic">S100</tspan><tspan dy="-8" font-size="12">+</tspan><tspan dy="8"> early-activated classical monocyte</tspan></text>
<text x="1771" y="29.8" font-size="39" font-weight="bold" stroke="#000" stroke-width="1.5" stroke-linejoin="round" textLength="26.2" lengthAdjust="spacingAndGlyphs">d</text>
<text x="1790.8" y="218.4" font-size="24" text-anchor="middle" transform="rotate(-90 1790.8 218.4)" textLength="315.5" lengthAdjust="spacingAndGlyphs">M1-skewed/total monocyte</text>
<text x="1821" y="221.7" font-size="24" text-anchor="middle" transform="rotate(-90 1821 221.7)" textLength="39.7" lengthAdjust="spacingAndGlyphs">(%)</text>
<path d="M1905.9 361V265.4H1931.5V361" stroke="#333" stroke-width="1.3" fill="#fff"/>
<path d="M1943.4 361V269.4H1968.8V361" stroke="#333" stroke-width="1.3" fill="#fff"/>
<path d="M2006.5 361V214.3H2031.9V361" stroke="#333" stroke-width="1.3" fill="#fff"/>
<path d="M2044.7 361V235.4H2069.9V361" stroke="#333" stroke-width="1.3" fill="#fff"/>
<path d="M1893.8 76.1L1893.8 361" stroke="#333" stroke-width="1.3"/>
<path d="M1884.5 361L2082.5 361" stroke="#333" stroke-width="1.3"/>
<path d="M1884.5 76.1L1893.8 76.1" stroke="#333" stroke-width="1.3"/>
<text x="1870.6" y="83.9" font-size="22" text-anchor="end" textLength="26.2" lengthAdjust="spacingAndGlyphs">30</text>
<path d="M1884.5 171L1893.8 171" stroke="#333" stroke-width="1.3"/>
<text x="1870.6" y="178.8" font-size="22" text-anchor="end" textLength="26.2" lengthAdjust="spacingAndGlyphs">20</text>
<path d="M1884.5 266.3L1893.8 266.3" stroke="#333" stroke-width="1.3"/>
<text x="1870.6" y="274.1" font-size="22" text-anchor="end" textLength="26.2" lengthAdjust="spacingAndGlyphs">10</text>
<path d="M1884.5 361L1893.8 361" stroke="#333" stroke-width="1.3"/>
<text x="1870.6" y="368.8" font-size="22" text-anchor="end" textLength="13.1" lengthAdjust="spacingAndGlyphs">0</text>
<path d="M1937.5 361L1937.5 369.6" stroke="#333" stroke-width="1.3"/>
<path d="M2038.1 361L2038.1 369.6" stroke="#333" stroke-width="1.3"/>
<text x="1937.5" y="398.5" font-size="18.5" text-anchor="middle" textLength="44.1" lengthAdjust="spacingAndGlyphs">C1D1</text>
<text x="2038.1" y="398.5" font-size="18.5" text-anchor="middle" textLength="56.5" lengthAdjust="spacingAndGlyphs">C1D15</text>
<text x="1933.1" y="60.2" font-size="16.3" textLength="81.2" lengthAdjust="spacingAndGlyphs"><tspan font-style="italic">P</tspan> = 0.0547</text>
<path d="M1917.6 66.9L2019.8 66.9" stroke="#222" stroke-width="1.2"/>
<path d="M1918.7 233.2V296.3M1912.5 233.2H1924.9M1912.5 296.3H1924.9" stroke="#333" stroke-width="1.2" fill="none"/>
<path d="M1956.2 216.9V320.4M1950 216.9H1962.4M1950 320.4H1962.4" stroke="#333" stroke-width="1.2" fill="none"/>
<path d="M2019.3 150.3V278.5M2013.1 150.3H2025.5M2013.1 278.5H2025.5" stroke="#333" stroke-width="1.2" fill="none"/>
<path d="M2057.1 171.4V299M2050.9 171.4H2063.3M2050.9 299H2063.3" stroke="#333" stroke-width="1.2" fill="none"/>
<circle cx="1918.7" cy="215.1" r="4.3" fill="#4a9fe3" stroke="#1a1a1a" stroke-width="0.9"/>
<circle cx="1918.7" cy="232.3" r="4.3" fill="#4a9fe3" stroke="#1a1a1a" stroke-width="0.9"/>
<circle cx="1927.1" cy="252.2" r="4.3" fill="#4a9fe3" stroke="#1a1a1a" stroke-width="0.9"/>
<circle cx="1918.7" cy="257.5" r="4.3" fill="#4a9fe3" stroke="#1a1a1a" stroke-width="0.9"/>
<circle cx="1910.3" cy="261.7" r="4.3" fill="#4a9fe3" stroke="#1a1a1a" stroke-width="0.9"/>
<circle cx="1927.1" cy="261.7" r="4.3" fill="#4a9fe3" stroke="#1a1a1a" stroke-width="0.9"/>
<circle cx="1918.7" cy="295" r="4.3" fill="#4a9fe3" stroke="#1a1a1a" stroke-width="0.9"/>
<circle cx="1927.1" cy="303.2" r="4.3" fill="#4a9fe3" stroke="#1a1a1a" stroke-width="0.9"/>
<circle cx="1910.3" cy="307.4" r="4.3" fill="#4a9fe3" stroke="#1a1a1a" stroke-width="0.9"/>
<circle cx="1956.2" cy="195.5" r="4.3" fill="#fdcb3a" stroke="#1a1a1a" stroke-width="0.9"/>
<circle cx="1947.9" cy="229.7" r="4.3" fill="#fdcb3a" stroke="#1a1a1a" stroke-width="0.9"/>
<circle cx="1964.6" cy="231.2" r="4.3" fill="#fdcb3a" stroke="#1a1a1a" stroke-width="0.9"/>
<circle cx="1956.2" cy="236.5" r="4.3" fill="#fdcb3a" stroke="#1a1a1a" stroke-width="0.9"/>
<circle cx="1956.2" cy="264.3" r="4.3" fill="#fdcb3a" stroke="#1a1a1a" stroke-width="0.9"/>
<circle cx="1956.2" cy="278.2" r="4.3" fill="#fdcb3a" stroke="#1a1a1a" stroke-width="0.9"/>
<circle cx="1956.2" cy="305.8" r="4.3" fill="#fdcb3a" stroke="#1a1a1a" stroke-width="0.9"/>
<circle cx="1956.2" cy="322.2" r="4.3" fill="#fdcb3a" stroke="#1a1a1a" stroke-width="0.9"/>
<circle cx="1956.2" cy="357.5" r="4.3" fill="#fdcb3a" stroke="#1a1a1a" stroke-width="0.9"/>
<circle cx="2019.3" cy="79.9" r="4.3" fill="#4a9fe3" stroke="#1a1a1a" stroke-width="0.9"/>
<circle cx="2019.3" cy="144.7" r="4.3" fill="#4a9fe3" stroke="#1a1a1a" stroke-width="0.9"/>
<circle cx="2019.3" cy="212.9" r="4.3" fill="#4a9fe3" stroke="#1a1a1a" stroke-width="0.9"/>
<circle cx="2027.7" cy="224.2" r="4.3" fill="#4a9fe3" stroke="#1a1a1a" stroke-width="0.9"/>
<circle cx="2011" cy="229" r="4.3" fill="#4a9fe3" stroke="#1a1a1a" stroke-width="0.9"/>
<circle cx="2027.7" cy="236.5" r="4.3" fill="#4a9fe3" stroke="#1a1a1a" stroke-width="0.9"/>
<circle cx="2011" cy="257.9" r="4.3" fill="#4a9fe3" stroke="#1a1a1a" stroke-width="0.9"/>
<circle cx="2027.7" cy="260.2" r="4.3" fill="#4a9fe3" stroke="#1a1a1a" stroke-width="0.9"/>
<circle cx="2019.3" cy="286.2" r="4.3" fill="#4a9fe3" stroke="#1a1a1a" stroke-width="0.9"/>
<circle cx="2057.1" cy="137" r="4.3" fill="#fdcb3a" stroke="#1a1a1a" stroke-width="0.9"/>
<circle cx="2057.1" cy="164.2" r="4.3" fill="#fdcb3a" stroke="#1a1a1a" stroke-width="0.9"/>
<circle cx="2057.1" cy="194.8" r="4.3" fill="#fdcb3a" stroke="#1a1a1a" stroke-width="0.9"/>
<circle cx="2057.1" cy="210.1" r="4.3" fill="#fdcb3a" stroke="#1a1a1a" stroke-width="0.9"/>
<circle cx="2057.1" cy="231.5" r="4.3" fill="#fdcb3a" stroke="#1a1a1a" stroke-width="0.9"/>
<circle cx="2048.7" cy="279.8" r="4.3" fill="#fdcb3a" stroke="#1a1a1a" stroke-width="0.9"/>
<circle cx="2065.5" cy="278.2" r="4.3" fill="#fdcb3a" stroke="#1a1a1a" stroke-width="0.9"/>
<circle cx="2057.1" cy="304.5" r="4.3" fill="#fdcb3a" stroke="#1a1a1a" stroke-width="0.9"/>
<circle cx="2057.1" cy="318.4" r="4.3" fill="#fdcb3a" stroke="#1a1a1a" stroke-width="0.9"/>
<text x="1793.3" y="587.8" font-size="24" text-anchor="middle" transform="rotate(-90 1793.3 587.8)" textLength="320.4" lengthAdjust="spacingAndGlyphs">M2-skewed/total monocyte</text>
<text x="1822" y="588.4" font-size="24" text-anchor="middle" transform="rotate(-90 1822 588.4)" textLength="33" lengthAdjust="spacingAndGlyphs">(%)</text>
<path d="M1906.2 730.1V528.9H1931.4V730.1" stroke="#333" stroke-width="1.3" fill="#fff"/>
<path d="M1943.8 730.1V528.9H1968.7V730.1" stroke="#333" stroke-width="1.3" fill="#fff"/>
<path d="M2006.8 730.1V529.5H2032V730.1" stroke="#333" stroke-width="1.3" fill="#fff"/>
<path d="M2044.6 730.1V526.6H2069.8V730.1" stroke="#333" stroke-width="1.3" fill="#fff"/>
<path d="M1893.6 450.4L1893.6 730.1" stroke="#333" stroke-width="1.3"/>
<path d="M1884.4 730.1L2082.2 730.1" stroke="#333" stroke-width="1.3"/>
<path d="M1884.4 450.4L1893.6 450.4" stroke="#333" stroke-width="1.3"/>
<text x="1870.8" y="458.2" font-size="22" text-anchor="end" textLength="26.2" lengthAdjust="spacingAndGlyphs">60</text>
<path d="M1884.4 497.2L1893.6 497.2" stroke="#333" stroke-width="1.3"/>
<text x="1870.8" y="505" font-size="22" text-anchor="end" textLength="26.2" lengthAdjust="spacingAndGlyphs">50</text>
<path d="M1884.4 543.9L1893.6 543.9" stroke="#333" stroke-width="1.3"/>
<text x="1870.8" y="551.7" font-size="22" text-anchor="end" textLength="26.2" lengthAdjust="spacingAndGlyphs">40</text>
<path d="M1884.4 590.4L1893.6 590.4" stroke="#333" stroke-width="1.3"/>
<text x="1870.8" y="598.2" font-size="22" text-anchor="end" textLength="26.2" lengthAdjust="spacingAndGlyphs">30</text>
<path d="M1884.4 637.1L1893.6 637.1" stroke="#333" stroke-width="1.3"/>
<text x="1870.8" y="644.9" font-size="22" text-anchor="end" textLength="26.2" lengthAdjust="spacingAndGlyphs">20</text>
<path d="M1884.4 683.6L1893.6 683.6" stroke="#333" stroke-width="1.3"/>
<text x="1870.8" y="691.4" font-size="22" text-anchor="end" textLength="26.2" lengthAdjust="spacingAndGlyphs">10</text>
<path d="M1884.4 730.1L1893.6 730.1" stroke="#333" stroke-width="1.3"/>
<text x="1870.8" y="737.9" font-size="22" text-anchor="end" textLength="13.1" lengthAdjust="spacingAndGlyphs">0</text>
<path d="M1937.5 730.1L1937.5 738.8" stroke="#333" stroke-width="1.3"/>
<path d="M2038.1 730.1L2038.1 738.8" stroke="#333" stroke-width="1.3"/>
<text x="1937.5" y="767.6" font-size="18.5" text-anchor="middle" textLength="44.1" lengthAdjust="spacingAndGlyphs">C1D1</text>
<text x="2038.1" y="767.6" font-size="18.5" text-anchor="middle" textLength="56.5" lengthAdjust="spacingAndGlyphs">C1D15</text>
<path d="M1918.8 490.6V566.5M1912.6 490.6H1925M1912.6 566.5H1925" stroke="#333" stroke-width="1.2" fill="none"/>
<path d="M1956.4 466.4V591.2M1950.2 466.4H1962.6M1950.2 591.2H1962.6" stroke="#333" stroke-width="1.2" fill="none"/>
<path d="M2019.4 493.2V566M2013.2 493.2H2025.6M2013.2 566H2025.6" stroke="#333" stroke-width="1.2" fill="none"/>
<path d="M2057.2 478V575.2M2051 478H2063.4M2051 575.2H2063.4" stroke="#333" stroke-width="1.2" fill="none"/>
<circle cx="1918.8" cy="486.7" r="4.3" fill="#4a9fe3" stroke="#1a1a1a" stroke-width="0.9"/>
<circle cx="1910.4" cy="498.5" r="4.3" fill="#4a9fe3" stroke="#1a1a1a" stroke-width="0.9"/>
<circle cx="1927" cy="495.3" r="4.3" fill="#4a9fe3" stroke="#1a1a1a" stroke-width="0.9"/>
<circle cx="1918.8" cy="509.5" r="4.3" fill="#4a9fe3" stroke="#1a1a1a" stroke-width="0.9"/>
<circle cx="1918.8" cy="521.3" r="4.3" fill="#4a9fe3" stroke="#1a1a1a" stroke-width="0.9"/>
<circle cx="1918.8" cy="533.1" r="4.3" fill="#4a9fe3" stroke="#1a1a1a" stroke-width="0.9"/>
<circle cx="1918.8" cy="548.9" r="4.3" fill="#4a9fe3" stroke="#1a1a1a" stroke-width="0.9"/>
<circle cx="1918.8" cy="558.6" r="4.3" fill="#4a9fe3" stroke="#1a1a1a" stroke-width="0.9"/>
<circle cx="1918.8" cy="606.7" r="4.3" fill="#4a9fe3" stroke="#1a1a1a" stroke-width="0.9"/>
<circle cx="1956.4" cy="474.1" r="4.3" fill="#fdcb3a" stroke="#1a1a1a" stroke-width="0.9"/>
<circle cx="1948" cy="541.8" r="4.3" fill="#fdcb3a" stroke="#1a1a1a" stroke-width="0.9"/>
<circle cx="1956.4" cy="540.5" r="4.3" fill="#fdcb3a" stroke="#1a1a1a" stroke-width="0.9"/>
<circle cx="1964.8" cy="543.4" r="4.3" fill="#fdcb3a" stroke="#1a1a1a" stroke-width="0.9"/>
<circle cx="1956.4" cy="549.2" r="4.3" fill="#fdcb3a" stroke="#1a1a1a" stroke-width="0.9"/>
<circle cx="1952.2" cy="610.3" r="4.3" fill="#fdcb3a" stroke="#1a1a1a" stroke-width="0.9"/>
<circle cx="1960.6" cy="610.1" r="4.3" fill="#fdcb3a" stroke="#1a1a1a" stroke-width="0.9"/>
<circle cx="2019.4" cy="460.1" r="4.3" fill="#4a9fe3" stroke="#1a1a1a" stroke-width="0.9"/>
<circle cx="2019.4" cy="484.3" r="4.3" fill="#4a9fe3" stroke="#1a1a1a" stroke-width="0.9"/>
<circle cx="2019.4" cy="515.5" r="4.3" fill="#4a9fe3" stroke="#1a1a1a" stroke-width="0.9"/>
<circle cx="2023.6" cy="534.7" r="4.3" fill="#4a9fe3" stroke="#1a1a1a" stroke-width="0.9"/>
<circle cx="2015.2" cy="541.5" r="4.3" fill="#4a9fe3" stroke="#1a1a1a" stroke-width="0.9"/>
<circle cx="2011" cy="550.5" r="4.3" fill="#4a9fe3" stroke="#1a1a1a" stroke-width="0.9"/>
<circle cx="2019.4" cy="557.8" r="4.3" fill="#4a9fe3" stroke="#1a1a1a" stroke-width="0.9"/>
<circle cx="2027.8" cy="558.1" r="4.3" fill="#4a9fe3" stroke="#1a1a1a" stroke-width="0.9"/>
<circle cx="2019.4" cy="566.5" r="4.3" fill="#4a9fe3" stroke="#1a1a1a" stroke-width="0.9"/>
<circle cx="2057.2" cy="468.3" r="4.3" fill="#fdcb3a" stroke="#1a1a1a" stroke-width="0.9"/>
<circle cx="2057.2" cy="478.3" r="4.3" fill="#fdcb3a" stroke="#1a1a1a" stroke-width="0.9"/>
<circle cx="2057.2" cy="490.6" r="4.3" fill="#fdcb3a" stroke="#1a1a1a" stroke-width="0.9"/>
<circle cx="2065.6" cy="508.5" r="4.3" fill="#fdcb3a" stroke="#1a1a1a" stroke-width="0.9"/>
<circle cx="2048.6" cy="513.4" r="4.3" fill="#fdcb3a" stroke="#1a1a1a" stroke-width="0.9"/>
<circle cx="2057.2" cy="531.8" r="4.3" fill="#fdcb3a" stroke="#1a1a1a" stroke-width="0.9"/>
<circle cx="2057.2" cy="559.9" r="4.3" fill="#fdcb3a" stroke="#1a1a1a" stroke-width="0.9"/>
<circle cx="2057.2" cy="572.3" r="4.3" fill="#fdcb3a" stroke="#1a1a1a" stroke-width="0.9"/>
<circle cx="2057.2" cy="616.1" r="4.3" fill="#fdcb3a" stroke="#1a1a1a" stroke-width="0.9"/>
<text x="1931.2" y="817.5" font-size="19.5" textLength="93.2" lengthAdjust="spacingAndGlyphs">Response</text>
<circle cx="1936.7" cy="834.9" r="6.5" fill="#1f96e8"/>
<text x="1958" y="841.2" font-size="19.5" textLength="86.6" lengthAdjust="spacingAndGlyphs">LR group</text>
<circle cx="1936.7" cy="856.4" r="6.5" fill="#ffc60a"/>
<text x="1958" y="864.3" font-size="19.5" textLength="86.6" lengthAdjust="spacingAndGlyphs">EP group</text>
<text x="1" y="991.8" font-size="38" font-weight="bold" stroke="#000" stroke-width="1.5" stroke-linejoin="round" textLength="23.2" lengthAdjust="spacingAndGlyphs">e</text>
<text x="47" y="1070.3" font-size="24" textLength="454.2" lengthAdjust="spacingAndGlyphs">M1-like signature (Cassetta et al., 2019)</text>
<text x="180.6" y="1132.9" font-size="24" textLength="104.8" lengthAdjust="spacingAndGlyphs">LR group</text>
<text x="397.2" y="1132.9" font-size="24" textLength="104" lengthAdjust="spacingAndGlyphs">EP group</text>
<text x="19.4" y="1274.7" font-size="24" text-anchor="middle" transform="rotate(-90 19.4 1274.7)" textLength="173.5" lengthAdjust="spacingAndGlyphs">Gene set score</text>
<text x="48.8" y="1275.9" font-size="24" text-anchor="middle" transform="rotate(-90 48.8 1275.9)" textLength="203.5" lengthAdjust="spacingAndGlyphs">in activated CM_2</text>
<path d="M152.7 1160.2V1391.5H298.5" stroke="#333" stroke-width="1.3" fill="none"/>
<path d="M144.2 1210.5L152.7 1210.5" stroke="#333" stroke-width="1.3"/>
<text x="129" y="1218.3" font-size="22" text-anchor="end" textLength="41.5" lengthAdjust="spacingAndGlyphs">0.10</text>
<path d="M144.2 1268.4L152.7 1268.4" stroke="#333" stroke-width="1.3"/>
<text x="129" y="1276.2" font-size="22" text-anchor="end" textLength="41.5" lengthAdjust="spacingAndGlyphs">0.05</text>
<path d="M144.2 1326.2L152.7 1326.2" stroke="#333" stroke-width="1.3"/>
<text x="129" y="1334" font-size="22" text-anchor="end" textLength="11.9" lengthAdjust="spacingAndGlyphs">0</text>
<path d="M144.2 1384.2L152.7 1384.2" stroke="#333" stroke-width="1.3"/>
<text x="129" y="1392" font-size="22" text-anchor="end" textLength="54" lengthAdjust="spacingAndGlyphs">−0.05</text>
<path d="M192.2 1391.5L192.2 1399.7" stroke="#333" stroke-width="1.3"/>
<path d="M258.4 1391.5L258.4 1399.7" stroke="#333" stroke-width="1.3"/>
<path d="M192.2 1354L192.2 1371" stroke="#222" stroke-width="1.3"/>
<rect x="175.5" y="1356.3" width="33.3" height="8.2" fill="#adbdef" stroke="#333" stroke-width="1.1"/>
<path d="M175.5 1360.2L208.8 1360.2" stroke="#333" stroke-width="1.3"/>
<path d="M258.4 1180.6L258.4 1344.7" stroke="#222" stroke-width="1.3"/>
<rect x="242.3" y="1192.7" width="33.3" height="128.7" fill="#adbdef" stroke="#333" stroke-width="1.1"/>
<path d="M242.3 1257.1L275.7 1257.1" stroke="#333" stroke-width="1.3"/>
<path d="M192.2 1309L258.4 1180.6M192.2 1381.1L258.4 1195M192.2 1371L258.4 1185.4M192.2 1354L258.4 1317.2M192.2 1357.1L258.4 1319.4M192.2 1359.4L258.4 1327.3M192.2 1360.9L258.4 1344.7M192.2 1363.3L258.4 1197.1" stroke="#c2c2c2" stroke-width="1.1" fill="none"/>
<circle cx="192.2" cy="1309" r="3.3" fill="#000"/>
<circle cx="192.2" cy="1354" r="2.8" fill="#000"/>
<circle cx="192.2" cy="1357.1" r="2.8" fill="#000"/>
<circle cx="192.2" cy="1359.4" r="2.8" fill="#000"/>
<circle cx="192.2" cy="1360.9" r="2.8" fill="#000"/>
<circle cx="192.2" cy="1363.3" r="2.8" fill="#000"/>
<circle cx="192.2" cy="1371" r="2.8" fill="#000"/>
<circle cx="192.2" cy="1381.1" r="3.3" fill="#000"/>
<circle cx="258.4" cy="1180.6" r="2.8" fill="#000"/>
<circle cx="258.4" cy="1185.4" r="2.8" fill="#000"/>
<circle cx="258.4" cy="1195" r="2.8" fill="#000"/>
<circle cx="258.4" cy="1197.1" r="2.8" fill="#000"/>
<circle cx="258.4" cy="1317.2" r="2.8" fill="#000"/>
<circle cx="258.4" cy="1319.4" r="2.8" fill="#000"/>
<circle cx="258.4" cy="1327.3" r="2.8" fill="#000"/>
<circle cx="258.4" cy="1344.7" r="2.8" fill="#000"/>
<text x="185.6" y="1164.8" font-size="16.5" textLength="82.6" lengthAdjust="spacingAndGlyphs"><tspan font-style="italic">P</tspan> = 0.0078</text>
<path d="M192.2 1170.5L258.9 1170.5" stroke="#222" stroke-width="1.2"/>
<text x="203.5" y="1423.2" font-size="23.5" text-anchor="end" transform="rotate(-45 203.5 1423.2)" textLength="58" lengthAdjust="spacingAndGlyphs">C1D1</text>
<text x="269.5" y="1423.2" font-size="23.5" text-anchor="end" transform="rotate(-45 269.5 1423.2)" textLength="70.7" lengthAdjust="spacingAndGlyphs">C1D15</text>
<path d="M380.6 1159.4V1391.5H543.5" stroke="#333" stroke-width="1.3" fill="none"/>
<path d="M372.1 1160L380.6 1160" stroke="#333" stroke-width="1.3"/>
<text x="358.2" y="1167.8" font-size="22" text-anchor="end" textLength="29.7" lengthAdjust="spacingAndGlyphs">0.2</text>
<path d="M372.1 1243.8L380.6 1243.8" stroke="#333" stroke-width="1.3"/>
<text x="358.2" y="1251.6" font-size="22" text-anchor="end" textLength="29.7" lengthAdjust="spacingAndGlyphs">0.1</text>
<path d="M372.1 1328.5L380.6 1328.5" stroke="#333" stroke-width="1.3"/>
<text x="358.2" y="1336.3" font-size="22" text-anchor="end" textLength="11.9" lengthAdjust="spacingAndGlyphs">0</text>
<path d="M425 1391.5L425 1399.7" stroke="#333" stroke-width="1.3"/>
<path d="M499.1 1391.5L499.1 1399.7" stroke="#333" stroke-width="1.3"/>
<path d="M425 1298.8L425 1375.6" stroke="#222" stroke-width="1.3"/>
<rect x="406.5" y="1332.6" width="37.1" height="26.8" fill="#adbdef" stroke="#333" stroke-width="1.1"/>
<path d="M406.5 1345.3L443.5 1345.3" stroke="#333" stroke-width="1.3"/>
<path d="M499.1 1323.5L499.1 1380.6" stroke="#222" stroke-width="1.3"/>
<rect x="480.3" y="1278.5" width="37.4" height="45" fill="#adbdef" stroke="#333" stroke-width="1.1"/>
<path d="M480.3 1307.4L517.6 1307.4" stroke="#333" stroke-width="1.3"/>
<path d="M425 1298.8L499.1 1316.5M425 1332.6L499.1 1179.7M425 1345L499.1 1205M425 1354.7L499.1 1278.5M425 1358.5L499.1 1284.1M425 1361.8L499.1 1307.6M425 1332.6L499.1 1323.5M425 1345L499.1 1341.5M425 1375.6L499.1 1380.6" stroke="#c2c2c2" stroke-width="1.1" fill="none"/>
<circle cx="425" cy="1298.8" r="2.8" fill="#000"/>
<circle cx="425" cy="1332.6" r="2.8" fill="#000"/>
<circle cx="425" cy="1345" r="2.8" fill="#000"/>
<circle cx="425" cy="1354.7" r="2.8" fill="#000"/>
<circle cx="425" cy="1358.5" r="2.8" fill="#000"/>
<circle cx="425" cy="1361.8" r="2.8" fill="#000"/>
<circle cx="425" cy="1375.6" r="2.8" fill="#000"/>
<circle cx="499.1" cy="1179.7" r="3.3" fill="#000"/>
<circle cx="499.1" cy="1205" r="3.3" fill="#000"/>
<circle cx="499.1" cy="1278.5" r="2.8" fill="#000"/>
<circle cx="499.1" cy="1284.1" r="2.8" fill="#000"/>
<circle cx="499.1" cy="1307.6" r="2.8" fill="#000"/>
<circle cx="499.1" cy="1316.5" r="2.8" fill="#000"/>
<circle cx="499.1" cy="1323.5" r="2.8" fill="#000"/>
<circle cx="499.1" cy="1341.5" r="2.8" fill="#000"/>
<circle cx="499.1" cy="1380.6" r="2.8" fill="#000"/>
<text x="436.3" y="1423.2" font-size="23.5" text-anchor="end" transform="rotate(-45 436.3 1423.2)" textLength="58" lengthAdjust="spacingAndGlyphs">C1D1</text>
<text x="510.4" y="1423.2" font-size="23.5" text-anchor="end" transform="rotate(-45 510.4 1423.2)" textLength="70.7" lengthAdjust="spacingAndGlyphs">C1D15</text>
<text x="2" y="1604.3" font-size="38" font-weight="bold" stroke="#000" stroke-width="1.5" stroke-linejoin="round" textLength="13.9" lengthAdjust="spacingAndGlyphs">f</text>
<text x="130.8" y="1596" font-size="24" textLength="301.7" lengthAdjust="spacingAndGlyphs">TAM-associated signature</text>
<text x="68.8" y="1624.9" font-size="24" textLength="425.7" lengthAdjust="spacingAndGlyphs">(Azizi et al., 2018; Zhang et al., 2019)</text>
<text x="188" y="1715" font-size="24" textLength="104.8" lengthAdjust="spacingAndGlyphs">LR group</text>
<text x="404.4" y="1715" font-size="24" textLength="104.5" lengthAdjust="spacingAndGlyphs">EP group</text>
<text x="42.8" y="1850.8" font-size="24" text-anchor="middle" transform="rotate(-90 42.8 1850.8)" textLength="174.2" lengthAdjust="spacingAndGlyphs">Gene set score</text>
<text x="71.7" y="1850.8" font-size="24" text-anchor="middle" transform="rotate(-90 71.7 1850.8)" textLength="222.6" lengthAdjust="spacingAndGlyphs">in M2-skewed NCM</text>
<path d="M147.9 1734.2V1967.4H298.7" stroke="#333" stroke-width="1.3" fill="none"/>
<path d="M139.4 1801.5L147.9 1801.5" stroke="#333" stroke-width="1.3"/>
<text x="126.3" y="1809.3" font-size="22" text-anchor="end" textLength="32.1" lengthAdjust="spacingAndGlyphs">0.5</text>
<path d="M139.4 1890L147.9 1890" stroke="#333" stroke-width="1.3"/>
<text x="126.3" y="1897.8" font-size="22" text-anchor="end" textLength="32.1" lengthAdjust="spacingAndGlyphs">0.4</text>
<path d="M188.9 1967.4L188.9 1975.6" stroke="#333" stroke-width="1.3"/>
<path d="M257.4 1967.4L257.4 1975.6" stroke="#333" stroke-width="1.3"/>
<path d="M188.9 1849.3L188.9 1926.1" stroke="#222" stroke-width="1.3"/>
<rect x="171.8" y="1869.4" width="34.8" height="32.2" fill="#bd8af5" stroke="#333" stroke-width="1.1"/>
<path d="M171.8 1871.4L206.6 1871.4" stroke="#333" stroke-width="1.3"/>
<path d="M257.4 1754.8L257.4 1956.5" stroke="#222" stroke-width="1.3"/>
<rect x="240.3" y="1800.6" width="34.2" height="101.3" fill="#bd8af5" stroke="#333" stroke-width="1.1"/>
<path d="M240.3 1821L274.5 1821" stroke="#333" stroke-width="1.3"/>
<path d="M188.9 1849.3L257.4 1754.8M188.9 1852.8L257.4 1800.9M188.9 1870L257.4 1759.9M188.9 1872.3L257.4 1819.8M188.9 1882.1L257.4 1901.8M188.9 1902.4L257.4 1821.3M188.9 1903.9L257.4 1914.8M188.9 1926.1L257.4 1838.7M188.9 1870L257.4 1956.5" stroke="#c2c2c2" stroke-width="1.1" fill="none"/>
<circle cx="188.9" cy="1849.3" r="2.8" fill="#000"/>
<circle cx="188.9" cy="1852.8" r="2.8" fill="#000"/>
<circle cx="188.9" cy="1870" r="2.8" fill="#000"/>
<circle cx="188.9" cy="1872.3" r="2.8" fill="#000"/>
<circle cx="188.9" cy="1882.1" r="2.8" fill="#000"/>
<circle cx="188.9" cy="1902.4" r="2.8" fill="#000"/>
<circle cx="188.9" cy="1903.9" r="2.8" fill="#000"/>
<circle cx="188.9" cy="1926.1" r="2.8" fill="#000"/>
<circle cx="257.4" cy="1754.8" r="2.8" fill="#000"/>
<circle cx="257.4" cy="1759.9" r="2.8" fill="#000"/>
<circle cx="257.4" cy="1800.9" r="2.8" fill="#000"/>
<circle cx="257.4" cy="1819.8" r="2.8" fill="#000"/>
<circle cx="257.4" cy="1821.3" r="2.8" fill="#000"/>
<circle cx="257.4" cy="1838.7" r="2.8" fill="#000"/>
<circle cx="257.4" cy="1901.8" r="2.8" fill="#000"/>
<circle cx="257.4" cy="1914.8" r="2.8" fill="#000"/>
<circle cx="257.4" cy="1956.5" r="2.8" fill="#000"/>
<text x="200.2" y="1999.1" font-size="23.5" text-anchor="end" transform="rotate(-45 200.2 1999.1)" textLength="58" lengthAdjust="spacingAndGlyphs">C1D1</text>
<text x="268.7" y="1999.1" font-size="23.5" text-anchor="end" transform="rotate(-45 268.7 1999.1)" textLength="70.7" lengthAdjust="spacingAndGlyphs">C1D15</text>
<path d="M383.8 1734.2V1967.4H541.7" stroke="#333" stroke-width="1.3" fill="none"/>
<path d="M375.3 1766.6L383.8 1766.6" stroke="#333" stroke-width="1.3"/>
<text x="360.1" y="1774.4" font-size="22" text-anchor="end" textLength="45" lengthAdjust="spacingAndGlyphs">0.50</text>
<path d="M375.3 1821.3L383.8 1821.3" stroke="#333" stroke-width="1.3"/>
<text x="360.1" y="1829.1" font-size="22" text-anchor="end" textLength="45" lengthAdjust="spacingAndGlyphs">0.45</text>
<path d="M375.3 1875.9L383.8 1875.9" stroke="#333" stroke-width="1.3"/>
<text x="360.1" y="1883.7" font-size="22" text-anchor="end" textLength="45" lengthAdjust="spacingAndGlyphs">0.40</text>
<path d="M375.3 1930.5L383.8 1930.5" stroke="#333" stroke-width="1.3"/>
<text x="360.1" y="1938.3" font-size="22" text-anchor="end" textLength="45" lengthAdjust="spacingAndGlyphs">0.35</text>
<path d="M426.6 1967.4L426.6 1975.6" stroke="#333" stroke-width="1.3"/>
<path d="M498.9 1967.4L498.9 1975.6" stroke="#333" stroke-width="1.3"/>
<path d="M426.6 1874.7L426.6 1888.6" stroke="#222" stroke-width="1.3"/>
<rect x="408.9" y="1881.5" width="36" height="7.7" fill="#bd8af5" stroke="#333" stroke-width="1.1"/>
<path d="M408.9 1885.6L444.9 1885.6" stroke="#333" stroke-width="1.3"/>
<path d="M498.9 1824.8L498.9 1901.8" stroke="#222" stroke-width="1.3"/>
<rect x="480.6" y="1830.4" width="36" height="29.2" fill="#bd8af5" stroke="#333" stroke-width="1.1"/>
<path d="M480.6 1834.2L516.6 1834.2" stroke="#333" stroke-width="1.3"/>
<path d="M426.6 1845.8L498.9 1755.4M426.6 1875L498.9 1824.8M426.6 1881.8L498.9 1831.6M426.6 1883.8L498.9 1834.2M426.6 1885.9L498.9 1858.7M426.6 1887.7L498.9 1873.5M426.6 1912.8L498.9 1859.9M426.6 1956.2L498.9 1901.8M426.6 1885.9L498.9 1834.2" stroke="#c2c2c2" stroke-width="1.1" fill="none"/>
<circle cx="426.6" cy="1845.8" r="3.3" fill="#000"/>
<circle cx="426.6" cy="1875" r="2.8" fill="#000"/>
<circle cx="426.6" cy="1881.8" r="2.8" fill="#000"/>
<circle cx="426.6" cy="1883.8" r="2.8" fill="#000"/>
<circle cx="426.6" cy="1885.9" r="2.8" fill="#000"/>
<circle cx="426.6" cy="1887.7" r="2.8" fill="#000"/>
<circle cx="426.6" cy="1912.8" r="3.3" fill="#000"/>
<circle cx="426.6" cy="1956.2" r="3.3" fill="#000"/>
<circle cx="498.9" cy="1755.4" r="3.3" fill="#000"/>
<circle cx="498.9" cy="1824.8" r="2.8" fill="#000"/>
<circle cx="498.9" cy="1831.6" r="2.8" fill="#000"/>
<circle cx="498.9" cy="1834.2" r="2.8" fill="#000"/>
<circle cx="498.9" cy="1858.7" r="2.8" fill="#000"/>
<circle cx="498.9" cy="1859.9" r="2.8" fill="#000"/>
<circle cx="498.9" cy="1873.5" r="2.8" fill="#000"/>
<circle cx="498.9" cy="1901.8" r="2.8" fill="#000"/>
<text x="423" y="1740.1" font-size="16.5" textLength="85.3" lengthAdjust="spacingAndGlyphs"><tspan font-style="italic">P</tspan> = 0.0039</text>
<path d="M426.6 1745.4L498.9 1745.4" stroke="#222" stroke-width="1.2"/>
<text x="437.9" y="1999.1" font-size="23.5" text-anchor="end" transform="rotate(-45 437.9 1999.1)" textLength="58" lengthAdjust="spacingAndGlyphs">C1D1</text>
<text x="510.2" y="1999.1" font-size="23.5" text-anchor="end" transform="rotate(-45 510.2 1999.1)" textLength="70.7" lengthAdjust="spacingAndGlyphs">C1D15</text>
<text x="598" y="993" font-size="38" font-weight="bold" stroke="#000" stroke-width="1.5" stroke-linejoin="round" textLength="25.5" lengthAdjust="spacingAndGlyphs">g</text>
<text x="620.5" y="1211" font-size="24" text-anchor="middle" transform="rotate(-90 620.5 1211)" textLength="391.7" lengthAdjust="spacingAndGlyphs">Classical monocyte/non-classical</text>
<text x="649.2" y="1210.5" font-size="24" text-anchor="middle" transform="rotate(-90 649.2 1210.5)" textLength="116.6" lengthAdjust="spacingAndGlyphs">monocyte</text>
<path d="M752.5 1365.2V1347.5H779.6V1365.2" stroke="#333" stroke-width="1.2" fill="#fff"/>
<path d="M793.8 1365.2V1291.1H820.9V1365.2" stroke="#333" stroke-width="1.2" fill="#fff"/>
<path d="M862.8 1365.2V1326.4H889.9V1365.2" stroke="#333" stroke-width="1.2" fill="#fff"/>
<path d="M904.4 1365.2V1323.6H931.5V1365.2" stroke="#333" stroke-width="1.2" fill="#fff"/>
<path d="M738.6 1057.7L738.6 1365.2" stroke="#333" stroke-width="1.3"/>
<path d="M726.4 1365.2L945 1365.2" stroke="#333" stroke-width="1.3"/>
<path d="M726.4 1057.7L738.6 1057.7" stroke="#333" stroke-width="1.3"/>
<text x="712.2" y="1065.5" font-size="22" text-anchor="end" textLength="39.1" lengthAdjust="spacingAndGlyphs">400</text>
<path d="M726.4 1134.2L738.6 1134.2" stroke="#333" stroke-width="1.3"/>
<text x="712.2" y="1142" font-size="22" text-anchor="end" textLength="39.1" lengthAdjust="spacingAndGlyphs">300</text>
<path d="M726.4 1211.1L738.6 1211.1" stroke="#333" stroke-width="1.3"/>
<text x="712.2" y="1218.9" font-size="22" text-anchor="end" textLength="39.1" lengthAdjust="spacingAndGlyphs">200</text>
<path d="M726.4 1288.3L738.6 1288.3" stroke="#333" stroke-width="1.3"/>
<text x="712.2" y="1296.1" font-size="22" text-anchor="end" textLength="39.1" lengthAdjust="spacingAndGlyphs">100</text>
<path d="M726.4 1365.2L738.6 1365.2" stroke="#333" stroke-width="1.3"/>
<text x="712.2" y="1373" font-size="22" text-anchor="end" textLength="13" lengthAdjust="spacingAndGlyphs">0</text>
<path d="M786.2 1365.2L786.2 1376.8" stroke="#333" stroke-width="1.3"/>
<path d="M896.8 1365.2L896.8 1376.8" stroke="#333" stroke-width="1.3"/>
<path d="M766 1334.3V1347.5M759.7 1334.3H772.3" stroke="#333" stroke-width="1.2" fill="none"/>
<path d="M807.3 1189.7V1365.2M801 1189.7H813.6" stroke="#333" stroke-width="1.2" fill="none"/>
<path d="M876 1274.4V1365.2M869.7 1274.4H882.3" stroke="#333" stroke-width="1.2" fill="none"/>
<path d="M917.6 1263.1V1365.2M911.3 1263.1H923.9" stroke="#333" stroke-width="1.2" fill="none"/>
<circle cx="765.4" cy="1324.5" r="4.6" fill="#4a7faf" stroke="#1a1a1a" stroke-width="0.9"/>
<circle cx="765.4" cy="1337.1" r="4.6" fill="#4a7faf" stroke="#1a1a1a" stroke-width="0.9"/>
<circle cx="763.2" cy="1348.2" r="4.6" fill="#4a7faf" stroke="#1a1a1a" stroke-width="0.9"/>
<circle cx="756.9" cy="1351.6" r="4.6" fill="#4a7faf" stroke="#1a1a1a" stroke-width="0.9"/>
<circle cx="774.9" cy="1353.8" r="4.6" fill="#4a7faf" stroke="#1a1a1a" stroke-width="0.9"/>
<circle cx="768.9" cy="1357.6" r="4.6" fill="#4a7faf" stroke="#1a1a1a" stroke-width="0.9"/>
<circle cx="756.9" cy="1361.1" r="4.6" fill="#4a7faf" stroke="#1a1a1a" stroke-width="0.9"/>
<circle cx="807" cy="1066.8" r="4.6" fill="#f567a8" stroke="#1a1a1a" stroke-width="0.9"/>
<circle cx="807" cy="1286.4" r="4.6" fill="#f567a8" stroke="#1a1a1a" stroke-width="0.9"/>
<circle cx="798.2" cy="1325.2" r="4.6" fill="#f567a8" stroke="#1a1a1a" stroke-width="0.9"/>
<circle cx="807" cy="1328.3" r="4.6" fill="#f567a8" stroke="#1a1a1a" stroke-width="0.9"/>
<circle cx="816.1" cy="1327.4" r="4.6" fill="#f567a8" stroke="#1a1a1a" stroke-width="0.9"/>
<circle cx="811.1" cy="1347.5" r="4.6" fill="#f567a8" stroke="#1a1a1a" stroke-width="0.9"/>
<circle cx="802.3" cy="1355.7" r="4.6" fill="#f567a8" stroke="#1a1a1a" stroke-width="0.9"/>
<circle cx="876" cy="1219.6" r="4.6" fill="#4a7faf" stroke="#1a1a1a" stroke-width="0.9"/>
<circle cx="876" cy="1278.2" r="4.6" fill="#4a7faf" stroke="#1a1a1a" stroke-width="0.9"/>
<circle cx="876" cy="1325.8" r="4.6" fill="#4a7faf" stroke="#1a1a1a" stroke-width="0.9"/>
<circle cx="867.2" cy="1351.3" r="4.6" fill="#4a7faf" stroke="#1a1a1a" stroke-width="0.9"/>
<circle cx="872.9" cy="1354.1" r="4.6" fill="#4a7faf" stroke="#1a1a1a" stroke-width="0.9"/>
<circle cx="885.1" cy="1357.9" r="4.6" fill="#4a7faf" stroke="#1a1a1a" stroke-width="0.9"/>
<circle cx="879.2" cy="1360.1" r="4.6" fill="#4a7faf" stroke="#1a1a1a" stroke-width="0.9"/>
<circle cx="867.2" cy="1362.3" r="4.6" fill="#4a7faf" stroke="#1a1a1a" stroke-width="0.9"/>
<circle cx="917.3" cy="1200.1" r="4.6" fill="#f567a8" stroke="#1a1a1a" stroke-width="0.9"/>
<circle cx="917.3" cy="1259.3" r="4.6" fill="#f567a8" stroke="#1a1a1a" stroke-width="0.9"/>
<circle cx="908.5" cy="1346.9" r="4.6" fill="#f567a8" stroke="#1a1a1a" stroke-width="0.9"/>
<circle cx="920.7" cy="1346.9" r="4.6" fill="#f567a8" stroke="#1a1a1a" stroke-width="0.9"/>
<circle cx="914.4" cy="1355.1" r="4.6" fill="#f567a8" stroke="#1a1a1a" stroke-width="0.9"/>
<circle cx="926.4" cy="1357" r="4.6" fill="#f567a8" stroke="#1a1a1a" stroke-width="0.9"/>
<circle cx="908.5" cy="1362.3" r="4.6" fill="#f567a8" stroke="#1a1a1a" stroke-width="0.9"/>
<circle cx="920.7" cy="1357" r="4.6" fill="#f567a8" stroke="#1a1a1a" stroke-width="0.9"/>
<text x="746.8" y="1048.8" font-size="16.5" textLength="79.7" lengthAdjust="spacingAndGlyphs"><tspan font-style="italic">P</tspan> = 0.0313</text>
<path d="M765.4 1053.9L806.7 1053.9" stroke="#222" stroke-width="1.2"/>
<text x="796.5" y="1399.3" font-size="24" text-anchor="end" transform="rotate(-45 796.5 1399.3)" textLength="105" lengthAdjust="spacingAndGlyphs">LR group</text>
<text x="907.4" y="1399.3" font-size="24" text-anchor="end" transform="rotate(-45 907.4 1399.3)" textLength="105" lengthAdjust="spacingAndGlyphs">EP group</text>
<text x="727" y="1526.2" font-size="21" textLength="46.6" lengthAdjust="spacingAndGlyphs">Time</text>
<circle cx="793.8" cy="1519.9" r="6.8" fill="#44729d"/>
<text x="814.6" y="1526.2" font-size="21" textLength="44.7" lengthAdjust="spacingAndGlyphs">C1D1</text>
<circle cx="878.2" cy="1519.9" r="6.8" fill="#fb8a93"/>
<text x="899.3" y="1526.2" font-size="21" textLength="57" lengthAdjust="spacingAndGlyphs">C1D15</text>
<text x="1014" y="992.9" font-size="38" font-weight="bold" stroke="#000" stroke-width="1.5" stroke-linejoin="round" textLength="25.5" lengthAdjust="spacingAndGlyphs">h</text>
<text x="1164.7" y="1005.4" font-size="24" textLength="324.2" lengthAdjust="spacingAndGlyphs">Upregulated by regorafenib</text>
<text x="1137.8" y="1034.6" font-size="24" textLength="378" lengthAdjust="spacingAndGlyphs">in M0 condition (Ou et al., 2022)</text>
<text x="1116.6" y="1069.2" font-size="16.5" textLength="83.3" lengthAdjust="spacingAndGlyphs"><tspan font-style="italic">P</tspan> = 0.0078</text>
<path d="M1137.1 1074.6L1190.5 1074.6" stroke="#222" stroke-width="1.2"/>
<text x="1209" y="1069.2" font-size="16.5" textLength="83.3" lengthAdjust="spacingAndGlyphs"><tspan font-style="italic">P</tspan> = 0.0078</text>
<path d="M1218.4 1074.6L1271.5 1074.6" stroke="#222" stroke-width="1.2"/>
<text x="1447.9" y="1069.2" font-size="16.5" textLength="84.7" lengthAdjust="spacingAndGlyphs"><tspan font-style="italic">P</tspan> = 0.0039</text>
<path d="M1462 1074.6L1515.1 1074.6" stroke="#222" stroke-width="1.2"/>
<path d="M1112.9 1081V1251H1537" stroke="#333" stroke-width="1.3" fill="none"/>
<path d="M1105.2 1113.2L1112.9 1113.2" stroke="#333" stroke-width="1.3"/>
<text x="1090.7" y="1121" font-size="22" text-anchor="end">0.2</text>
<path d="M1105.2 1164.3L1112.9 1164.3" stroke="#333" stroke-width="1.3"/>
<text x="1090.7" y="1172.1" font-size="22" text-anchor="end">0.1</text>
<path d="M1105.2 1215.4L1112.9 1215.4" stroke="#333" stroke-width="1.3"/>
<text x="1090.7" y="1223.2" font-size="22" text-anchor="end">0</text>
<path d="M1162 1251L1162 1254.5" stroke="#333" stroke-width="1.3"/>
<path d="M1243.6 1251L1243.6 1254.5" stroke="#333" stroke-width="1.3"/>
<path d="M1324.9 1251L1324.9 1254.5" stroke="#333" stroke-width="1.3"/>
<path d="M1406.6 1251L1406.6 1254.5" stroke="#333" stroke-width="1.3"/>
<path d="M1488.2 1251L1488.2 1254.5" stroke="#333" stroke-width="1.3"/>
<text x="1038.6" y="1166.6" font-size="24" text-anchor="middle" transform="rotate(-90 1038.6 1166.6)" textLength="104" lengthAdjust="spacingAndGlyphs">LR group</text>
<path d="M1162 1098.4L1161.9 1101.5L1161.8 1104.6L1161.7 1107.6L1161.3 1110.7L1161 1113.8L1160.5 1116.8L1159.6 1119.9L1159.3 1123L1157.7 1126L1156.3 1129.1L1155.1 1132.2L1152.7 1135.2L1151.7 1138.3L1149.3 1141.4L1147.4 1144.4L1146.2 1147.5L1142.8 1150.6L1141.3 1153.6L1136.7 1156.7L1133.7 1159.8L1129.1 1162.8L1127.6 1165.9L1125.8 1169L1125.7 1172L1125.1 1175.1L1125.5 1178.2L1126.6 1181.2L1128.1 1184.3L1129.4 1187.4L1132.3 1190.4L1134.4 1193.5L1139.5 1196.6L1142.5 1199.6L1147.2 1202.7L1149 1205.8L1151.8 1208.8L1152.8 1211.9L1154.6 1215L1155.8 1218L1157.3 1221.1L1159.2 1224.2L1159.8 1227.2L1160.9 1230.3L1161.2 1233.4L1161.6 1236.4L1161.8 1239.5L1161.9 1242.6L1162 1245.6Z" fill="#365f85" stroke="#222" stroke-width="0.9" stroke-linejoin="round"/>
<path d="M1162 1173L1131.4 1173" stroke="#000" stroke-width="2.4"/>
<path d="M1162 1098.4L1162 1101.5L1162.2 1104.6L1162.3 1107.6L1162.7 1110.7L1162.9 1113.8L1163.6 1116.8L1164.6 1119.9L1165.3 1123L1167.1 1126L1167.9 1129.1L1169.4 1132.2L1171.1 1135.2L1172.4 1138.3L1175.6 1141.4L1177.4 1144.4L1181.1 1147.5L1184.6 1150.6L1186.7 1153.6L1189.4 1156.7L1192.3 1159.8L1194.4 1162.8L1197.2 1165.9L1198.7 1169L1199.6 1172L1199.7 1175.1L1199.1 1178.2L1198.1 1181.2L1195.1 1184.3L1192.3 1187.4L1188.7 1190.4L1185.2 1193.5L1183.5 1196.6L1180 1199.6L1177.4 1202.7L1175.2 1205.8L1172.1 1208.8L1170.8 1211.9L1168.4 1215L1167.5 1218L1165.8 1221.1L1164.6 1224.2L1164 1227.2L1163 1230.3L1162.8 1233.4L1162.3 1236.4L1162.2 1239.5L1162 1242.6L1162 1245.6Z" fill="#f67280" stroke="#222" stroke-width="0.9" stroke-linejoin="round"/>
<path d="M1162 1169.3L1192.9 1169.3" stroke="#000" stroke-width="2.4"/>
<path d="M1243.6 1081.6L1243.5 1085L1243.4 1088.4L1243.4 1091.7L1243.1 1095.1L1242.8 1098.5L1242.4 1101.8L1241.5 1105.2L1240.9 1108.6L1239.8 1111.9L1238.2 1115.3L1237.7 1118.7L1236.2 1122L1234.6 1125.4L1233.4 1128.8L1230.4 1132.1L1228.5 1135.5L1226.2 1138.9L1223 1142.2L1222.2 1145.6L1218.7 1149L1216.5 1152.4L1212.1 1155.7L1210.1 1159.1L1207.6 1162.5L1207.2 1165.8L1206.8 1169.2L1206.8 1172.6L1208 1175.9L1209.5 1179.3L1211.5 1182.7L1214.2 1186L1216.3 1189.4L1221.1 1192.8L1224.6 1196.1L1229.2 1199.5L1231.3 1202.9L1234.2 1206.2L1235.1 1209.6L1237.2 1213L1238 1216.3L1240.2 1219.7L1241.1 1223.1L1242.2 1226.4L1242.8 1229.8L1243.2 1233.2L1243.4 1236.5L1243.5 1239.9L1243.6 1243.3Z" fill="#365f85" stroke="#222" stroke-width="0.9" stroke-linejoin="round"/>
<path d="M1243.6 1171.4L1212.6 1171.4" stroke="#000" stroke-width="2.4"/>
<path d="M1243.6 1081.6L1243.7 1085L1243.8 1088.4L1243.9 1091.7L1244.2 1095.1L1244.5 1098.5L1245 1101.8L1246 1105.2L1246.5 1108.6L1248.3 1111.9L1249.6 1115.3L1250.4 1118.7L1252.1 1122L1252.8 1125.4L1255.3 1128.8L1257.7 1132.1L1260.1 1135.5L1264.4 1138.9L1265.9 1142.2L1269.6 1145.6L1270.9 1149L1274.2 1152.4L1275.9 1155.7L1278.5 1159.1L1279.3 1162.5L1279.8 1165.8L1279.5 1169.2L1278.8 1172.6L1276.5 1175.9L1274.3 1179.3L1270.4 1182.7L1268.6 1186L1265.2 1189.4L1262.9 1192.8L1258.8 1196.1L1256.9 1199.5L1253.6 1202.9L1252.3 1206.2L1250.3 1209.6L1249.3 1213L1247.9 1216.3L1246.3 1219.7L1245.7 1223.1L1244.7 1226.4L1244.4 1229.8L1244 1233.2L1243.8 1236.5L1243.7 1239.9L1243.6 1243.3Z" fill="#f67280" stroke="#222" stroke-width="0.9" stroke-linejoin="round"/>
<path d="M1243.6 1163.3L1273.7 1163.3" stroke="#000" stroke-width="2.4"/>
<path d="M1324.9 1102.1L1324.8 1104.8L1324.7 1107.5L1324.6 1110.2L1324.2 1112.8L1324 1115.5L1323.4 1118.2L1322.6 1120.9L1321.9 1123.5L1319.9 1126.2L1318.9 1128.9L1317 1131.6L1315 1134.2L1313.9 1136.9L1311.3 1139.6L1310.5 1142.2L1307.5 1144.9L1304.7 1147.6L1301.8 1150.3L1298 1152.9L1293.7 1155.6L1291.4 1158.3L1289.1 1161L1288.5 1163.6L1288.1 1166.3L1288.2 1169L1289.2 1171.7L1290.6 1174.3L1293.1 1177L1295.1 1179.7L1297.6 1182.4L1301.1 1185L1303.1 1187.7L1307.3 1190.4L1310.1 1193.1L1312.6 1195.7L1315.4 1198.4L1316.6 1201.1L1318.7 1203.8L1319.4 1206.4L1321.1 1209.1L1322.3 1211.8L1322.9 1214.5L1323.9 1217.1L1324.1 1219.8L1324.6 1222.5L1324.7 1225.1L1324.8 1227.8L1324.9 1230.5Z" fill="#365f85" stroke="#222" stroke-width="0.9" stroke-linejoin="round"/>
<path d="M1324.9 1167.7L1293.9 1167.7" stroke="#000" stroke-width="2.4"/>
<path d="M1324.9 1102.1L1325 1104.8L1325.2 1107.5L1325.3 1110.2L1325.7 1112.8L1325.9 1115.5L1326.7 1118.2L1327.5 1120.9L1328.7 1123.5L1330.8 1126.2L1331.8 1128.9L1334.1 1131.6L1335.1 1134.2L1337.1 1136.9L1339.2 1139.6L1340.8 1142.2L1344.8 1144.9L1347.1 1147.6L1352.5 1150.3L1355.9 1152.9L1359.3 1155.6L1361.2 1158.3L1362.2 1161L1362.6 1163.6L1362.8 1166.3L1361.7 1169L1360.8 1171.7L1358.4 1174.3L1357.3 1177L1353.9 1179.7L1351.9 1182.4L1348.1 1185L1345.1 1187.7L1340.6 1190.4L1338.8 1193.1L1335.8 1195.7L1334.3 1198.4L1332.7 1201.1L1331 1203.8L1330.3 1206.4L1328.4 1209.1L1327.7 1211.8L1326.7 1214.5L1325.9 1217.1L1325.7 1219.8L1325.3 1222.5L1325.1 1225.1L1325 1227.8L1324.9 1230.5Z" fill="#f67280" stroke="#222" stroke-width="0.9" stroke-linejoin="round"/>
<path d="M1324.9 1164L1356.6 1164" stroke="#000" stroke-width="2.4"/>
<path d="M1406.6 1097.1L1406.5 1100.2L1406.4 1103.2L1406.3 1106.3L1405.9 1109.3L1405.6 1112.4L1404.8 1115.5L1403.9 1118.5L1403.2 1121.6L1401.4 1124.6L1400.8 1127.7L1399.1 1130.7L1397.4 1133.8L1395.7 1136.9L1392.5 1139.9L1390.9 1143L1386.9 1146L1384.6 1149.1L1381.6 1152.2L1379.7 1155.2L1375.9 1158.3L1374 1161.3L1371.2 1164.4L1370.3 1167.5L1369.6 1170.5L1369.8 1173.6L1370.4 1176.6L1372.1 1179.7L1374.8 1182.8L1378.2 1185.8L1380.6 1188.9L1384.5 1191.9L1385.7 1195L1389.6 1198.1L1391.6 1201.1L1394.4 1204.2L1397 1207.2L1398.4 1210.3L1400.5 1213.3L1401.2 1216.4L1403 1219.5L1403.9 1222.5L1404.7 1225.6L1405.6 1228.6L1405.8 1231.7L1406.2 1234.8L1406.4 1237.8L1406.5 1240.9L1406.6 1243.9Z" fill="#365f85" stroke="#222" stroke-width="0.9" stroke-linejoin="round"/>
<path d="M1406.6 1171.7L1375.5 1171.7" stroke="#000" stroke-width="2.4"/>
<path d="M1406.6 1097.1L1406.7 1100.2L1406.8 1103.2L1406.9 1106.3L1407.3 1109.3L1407.6 1112.4L1408.5 1115.5L1409.2 1118.5L1410.6 1121.6L1412.4 1124.6L1413.2 1127.7L1415.1 1130.7L1415.8 1133.8L1418.3 1136.9L1420.4 1139.9L1423.5 1143L1428 1146L1430.8 1149.1L1434.5 1152.2L1437.1 1155.2L1438.5 1158.3L1440.6 1161.3L1441.7 1164.4L1442.8 1167.5L1442.7 1170.5L1442.3 1173.6L1441.8 1176.6L1439.6 1179.7L1437 1182.8L1432.9 1185.8L1429 1188.9L1426.5 1191.9L1423.8 1195L1421.1 1198.1L1420.2 1201.1L1417.5 1204.2L1416.2 1207.2L1414.1 1210.3L1412.3 1213.3L1411.3 1216.4L1409.5 1219.5L1409 1222.5L1408.2 1225.6L1407.5 1228.6L1407.3 1231.7L1406.9 1234.8L1406.8 1237.8L1406.7 1240.9L1406.6 1243.9Z" fill="#f67280" stroke="#222" stroke-width="0.9" stroke-linejoin="round"/>
<path d="M1406.6 1167L1436.9 1167" stroke="#000" stroke-width="2.4"/>
<path d="M1488.2 1105.2L1488.1 1108.1L1488 1111L1487.9 1113.9L1487.5 1116.9L1487.2 1119.8L1486.2 1122.7L1485.5 1125.6L1483.9 1128.6L1482.2 1131.5L1481.2 1134.4L1479.3 1137.3L1478.5 1140.3L1475.8 1143.2L1474.2 1146.1L1470.2 1149.1L1466.3 1152L1462.2 1154.9L1459.4 1157.8L1455.7 1160.8L1454.8 1163.7L1452.9 1166.6L1452.2 1169.5L1451.3 1172.5L1451.9 1175.4L1452.2 1178.3L1453.3 1181.2L1454.7 1184.2L1457.9 1187.1L1461 1190L1466.1 1192.9L1468.5 1195.9L1472.1 1198.8L1474.2 1201.7L1475.4 1204.7L1477.8 1207.6L1478.5 1210.5L1480.7 1213.4L1482.2 1216.4L1483.5 1219.3L1485.4 1222.2L1485.9 1225.1L1486.8 1228.1L1487.3 1231L1487.5 1233.9L1487.9 1236.8L1488 1239.8L1488.2 1242.7L1488.2 1245.6Z" fill="#365f85" stroke="#222" stroke-width="0.9" stroke-linejoin="round"/>
<path d="M1488.2 1174L1457.4 1174" stroke="#000" stroke-width="2.4"/>
<path d="M1488.2 1105.2L1488.3 1108.1L1488.4 1111L1488.7 1113.9L1489.1 1116.9L1489.7 1119.8L1490.8 1122.7L1491.5 1125.6L1493.5 1128.6L1494.3 1131.5L1496.5 1134.4L1497.6 1137.3L1500.8 1140.3L1502.9 1143.2L1507.4 1146.1L1510.5 1149.1L1515 1152L1517.1 1154.9L1519.8 1157.8L1521.9 1160.8L1523.3 1163.7L1524.5 1166.6L1524.4 1169.5L1524 1172.5L1523.7 1175.4L1521.6 1178.3L1520 1181.2L1515.5 1184.2L1512.9 1187.1L1508.7 1190L1507.4 1192.9L1504.4 1195.9L1502.8 1198.8L1501.5 1201.7L1498.9 1204.7L1497.8 1207.6L1495.8 1210.5L1494 1213.4L1493.3 1216.4L1491.6 1219.3L1490.7 1222.2L1490.3 1225.1L1489.4 1228.1L1489.2 1231L1488.8 1233.9L1488.5 1236.8L1488.4 1239.8L1488.3 1242.7L1488.2 1245.6Z" fill="#f67280" stroke="#222" stroke-width="0.9" stroke-linejoin="round"/>
<path d="M1488.2 1165.6L1518.4 1165.6" stroke="#000" stroke-width="2.4"/>
<path d="M1113.6 1255.7V1423.7H1540" stroke="#333" stroke-width="1.3" fill="none"/>
<path d="M1105.9 1287.3L1113.6 1287.3" stroke="#333" stroke-width="1.3"/>
<text x="1090.7" y="1295.1" font-size="22" text-anchor="end">0.2</text>
<path d="M1105.9 1336.3L1113.6 1336.3" stroke="#333" stroke-width="1.3"/>
<text x="1090.7" y="1344.1" font-size="22" text-anchor="end">0.1</text>
<path d="M1105.9 1385.7L1113.6 1385.7" stroke="#333" stroke-width="1.3"/>
<text x="1090.7" y="1393.5" font-size="22" text-anchor="end">0</text>
<path d="M1162.6 1423.7L1162.6 1432.8" stroke="#333" stroke-width="1.3"/>
<path d="M1244.3 1423.7L1244.3 1432.8" stroke="#333" stroke-width="1.3"/>
<path d="M1326.3 1423.7L1326.3 1432.8" stroke="#333" stroke-width="1.3"/>
<path d="M1408.3 1423.7L1408.3 1432.8" stroke="#333" stroke-width="1.3"/>
<path d="M1489.9 1423.7L1489.9 1432.8" stroke="#333" stroke-width="1.3"/>
<text x="1038.6" y="1339.4" font-size="24" text-anchor="middle" transform="rotate(-90 1038.6 1339.4)" textLength="104" lengthAdjust="spacingAndGlyphs">EP group</text>
<path d="M1162.6 1263.1L1162.6 1266.3L1162.4 1269.5L1162.3 1272.7L1161.9 1275.9L1161.7 1279.1L1161 1282.2L1160 1285.4L1159.4 1288.6L1157.6 1291.8L1156.9 1295L1155.4 1298.2L1153.5 1301.4L1152.1 1304.6L1148.9 1307.8L1147.3 1311L1143.7 1314.2L1140.9 1317.4L1138.8 1320.6L1136.3 1323.7L1132.8 1326.9L1130.4 1330.1L1127.5 1333.3L1126.3 1336.5L1125.7 1339.7L1125.7 1342.9L1126.6 1346.1L1127.9 1349.3L1130.8 1352.5L1133.1 1355.7L1135.8 1358.9L1139 1362L1140.8 1365.2L1144.9 1368.4L1147.8 1371.6L1150.4 1374.8L1153.2 1378L1154.3 1381.2L1156.3 1384.4L1157 1387.6L1158.7 1390.8L1159.9 1394L1160.6 1397.2L1161.6 1400.4L1161.9 1403.5L1162.3 1406.7L1162.4 1409.9L1162.5 1413.1L1162.6 1416.3Z" fill="#365f85" stroke="#222" stroke-width="0.9" stroke-linejoin="round"/>
<path d="M1162.6 1342.7L1131.6 1342.7" stroke="#000" stroke-width="2.4"/>
<path d="M1162.6 1263.1L1162.7 1266.3L1162.8 1269.5L1162.9 1272.7L1163.4 1275.9L1163.6 1279.1L1164.4 1282.2L1165.2 1285.4L1165.8 1288.6L1167.5 1291.8L1168.3 1295L1170.1 1298.2L1172.2 1301.4L1173.7 1304.6L1176.8 1307.8L1178 1311L1181.2 1314.2L1183.6 1317.4L1186 1320.6L1189 1323.7L1193.4 1326.9L1195.9 1330.1L1198.6 1333.3L1199.2 1336.5L1199.7 1339.7L1199.6 1342.9L1198.4 1346.1L1197 1349.3L1194.7 1352.5L1192.8 1355.7L1190.7 1358.9L1186.8 1362L1184.4 1365.2L1179.8 1368.4L1176.9 1371.6L1174.4 1374.8L1172 1378L1171.1 1381.2L1169.2 1384.4L1168.5 1387.6L1166.6 1390.8L1165.3 1394L1164.5 1397.2L1163.6 1400.4L1163.4 1403.5L1163 1406.7L1162.8 1409.9L1162.7 1413.1L1162.6 1416.3Z" fill="#f67280" stroke="#222" stroke-width="0.9" stroke-linejoin="round"/>
<path d="M1162.6 1342.4L1193.7 1342.4" stroke="#000" stroke-width="2.4"/>
<path d="M1244.3 1272.5L1244.2 1275.4L1244.1 1278.3L1243.9 1281.2L1243.5 1284.1L1243.2 1287L1242.3 1289.8L1241.8 1292.7L1240.5 1295.6L1238.7 1298.5L1237.5 1301.4L1235 1304.3L1233.8 1307.2L1230.8 1310.1L1229.4 1313L1226.5 1315.9L1223.7 1318.8L1221.1 1321.7L1217.9 1324.5L1213.2 1327.4L1210.9 1330.3L1208.2 1333.2L1207.7 1336.1L1207.3 1339L1207.7 1341.9L1208.6 1344.8L1210.5 1347.7L1212.7 1350.6L1215.3 1353.5L1217.2 1356.3L1220.7 1359.2L1222.4 1362.1L1226.2 1365L1229.4 1367.9L1231.4 1370.8L1234.4 1373.7L1235.4 1376.6L1237.3 1379.5L1238.5 1382.4L1239.4 1385.3L1241.2 1388.1L1241.7 1391L1242.7 1393.9L1243.3 1396.8L1243.6 1399.7L1244 1402.6L1244.1 1405.5L1244.2 1408.4L1244.3 1411.3Z" fill="#365f85" stroke="#222" stroke-width="0.9" stroke-linejoin="round"/>
<path d="M1244.3 1338.7L1213.2 1338.7" stroke="#000" stroke-width="2.4"/>
<path d="M1244.3 1272.5L1244.4 1275.4L1244.5 1278.3L1244.6 1281.2L1245 1284.1L1245.3 1287L1246.2 1289.8L1246.9 1292.7L1248.3 1295.6L1250.3 1298.5L1251.2 1301.4L1253.3 1304.3L1254 1307.2L1256.3 1310.1L1257.9 1313L1260.7 1315.9L1265 1318.8L1268.2 1321.7L1272.6 1324.5L1276.2 1327.4L1277.8 1330.3L1279.6 1333.2L1280 1336.1L1280.9 1339L1280.7 1341.9L1279.8 1344.8L1279.2 1347.7L1277.5 1350.6L1276 1353.5L1272.7 1356.3L1268.5 1359.2L1265.2 1362.1L1261.4 1365L1258.1 1367.9L1257 1370.8L1254.6 1373.7L1253.9 1376.6L1252.1 1379.5L1250.5 1382.4L1249.4 1385.3L1247.4 1388.1L1246.7 1391L1245.8 1393.9L1245.2 1396.8L1245 1399.7L1244.6 1402.6L1244.5 1405.5L1244.4 1408.4L1244.3 1411.3Z" fill="#f67280" stroke="#222" stroke-width="0.9" stroke-linejoin="round"/>
<path d="M1244.3 1339.7L1275.2 1339.7" stroke="#000" stroke-width="2.4"/>
<path d="M1326.3 1277.5L1326.2 1280.4L1326.1 1283.2L1325.8 1286L1325.4 1288.8L1325 1291.6L1324 1294.4L1323.3 1297.2L1321 1300.1L1319.9 1302.9L1317.4 1305.7L1316.1 1308.5L1313.6 1311.3L1312 1314.1L1309.2 1316.9L1306 1319.8L1302.2 1322.6L1298.6 1325.4L1293.6 1328.2L1291.5 1331L1289.9 1333.8L1289.5 1336.6L1289.4 1339.5L1290.3 1342.3L1291.1 1345.1L1293.5 1347.9L1294.7 1350.7L1297.6 1353.5L1298.9 1356.3L1302.7 1359.2L1304.4 1362L1308.4 1364.8L1311.7 1367.6L1313.3 1370.4L1316.1 1373.2L1317.2 1376L1318.5 1378.9L1320.1 1381.7L1320.6 1384.5L1322.3 1387.3L1323.6 1390.1L1324.1 1392.9L1325.1 1395.7L1325.4 1398.6L1325.7 1401.4L1326 1404.2L1326.1 1407L1326.2 1409.8L1326.3 1412.6Z" fill="#365f85" stroke="#222" stroke-width="0.9" stroke-linejoin="round"/>
<path d="M1326.3 1338L1295.2 1338" stroke="#000" stroke-width="2.4"/>
<path d="M1326.3 1277.5L1326.4 1280.4L1326.5 1283.2L1326.7 1286L1327.1 1288.8L1327.6 1291.6L1328.6 1294.4L1329.4 1297.2L1331.7 1300.1L1332.8 1302.9L1335.4 1305.7L1336.6 1308.5L1339.3 1311.3L1340.6 1314.1L1344 1316.9L1346.6 1319.8L1351.2 1322.6L1354.7 1325.4L1359.1 1328.2L1361.6 1331L1362.6 1333.8L1363.1 1336.6L1363 1339.5L1362.1 1342.3L1361 1345.1L1358.6 1347.9L1357.5 1350.7L1354.3 1353.5L1353.2 1356.3L1349.3 1359.2L1347.7 1362L1343.6 1364.8L1340.7 1367.6L1338.9 1370.4L1336.2 1373.2L1335.3 1376L1333.8 1378.9L1332.4 1381.7L1331.9 1384.5L1330.1 1387.3L1329 1390.1L1328.4 1392.9L1327.5 1395.7L1327.1 1398.6L1326.8 1401.4L1326.5 1404.2L1326.5 1407L1326.3 1409.8L1326.3 1412.6Z" fill="#f67280" stroke="#222" stroke-width="0.9" stroke-linejoin="round"/>
<path d="M1326.3 1337L1357.3 1337" stroke="#000" stroke-width="2.4"/>
<path d="M1408.3 1283.6L1408.2 1285.9L1408.1 1288.3L1408 1290.6L1407.6 1293L1407.4 1295.3L1406.7 1297.7L1405.8 1300L1405.1 1302.3L1403.1 1304.7L1402.1 1307L1400.6 1309.4L1398.8 1311.7L1398.1 1314.1L1395.7 1316.4L1394.5 1318.8L1391.6 1321.1L1387.8 1323.5L1385 1325.8L1380.4 1328.1L1377.1 1330.5L1374.7 1332.8L1372.9 1335.2L1372.1 1337.5L1371.7 1339.9L1371.4 1342.2L1372.4 1344.6L1373.4 1346.9L1376 1349.3L1377.5 1351.6L1380.8 1353.9L1383.6 1356.3L1386.1 1358.6L1389.9 1361L1393.2 1363.3L1395.3 1365.7L1398.4 1368L1399.6 1370.4L1401.8 1372.7L1402.8 1375L1404.4 1377.4L1405.7 1379.7L1406.3 1382.1L1407.2 1384.4L1407.4 1386.8L1407.9 1389.1L1408 1391.5L1408.2 1393.8L1408.3 1396.2Z" fill="#365f85" stroke="#222" stroke-width="0.9" stroke-linejoin="round"/>
<path d="M1408.3 1340.7L1377.3 1340.7" stroke="#000" stroke-width="2.4"/>
<path d="M1408.3 1283.6L1408.3 1285.9L1408.5 1288.3L1408.6 1290.6L1408.9 1293L1409.2 1295.3L1409.8 1297.7L1410.8 1300L1411.5 1302.3L1413.5 1304.7L1414.4 1307L1416.1 1309.4L1417.7 1311.7L1418.6 1314.1L1421 1316.4L1422 1318.8L1425.4 1321.1L1428.7 1323.5L1432.1 1325.8L1435.8 1328.1L1439.8 1330.5L1441.6 1332.8L1443.6 1335.2L1444 1337.5L1444.5 1339.9L1444.4 1342.2L1443.3 1344.6L1442.1 1346.9L1439.7 1349.3L1437.7 1351.6L1435.2 1353.9L1431.6 1356.3L1429.7 1358.6L1425.6 1361L1423 1363.3L1420.6 1365.7L1417.8 1368L1416.6 1370.4L1414.4 1372.7L1413.6 1375L1411.9 1377.4L1410.8 1379.7L1410.1 1382.1L1409.3 1384.4L1409.1 1386.8L1408.6 1389.1L1408.5 1391.5L1408.4 1393.8L1408.3 1396.2Z" fill="#f67280" stroke="#222" stroke-width="0.9" stroke-linejoin="round"/>
<path d="M1408.3 1339.7L1438.7 1339.7" stroke="#000" stroke-width="2.4"/>
<path d="M1489.9 1297.7L1489.8 1299.9L1489.7 1302.2L1489.3 1304.4L1489 1306.6L1488.1 1308.8L1487.3 1311.1L1485.8 1313.3L1484.2 1315.5L1482.7 1317.7L1480.8 1320L1478.6 1322.2L1475.8 1324.4L1472.2 1326.6L1467.8 1328.9L1463 1331.1L1459.9 1333.3L1456.6 1335.5L1454.6 1337.8L1453.9 1340L1453 1342.2L1453.5 1344.5L1454.5 1346.7L1455.4 1348.9L1457.3 1351.1L1458 1353.4L1461 1355.6L1462.3 1357.8L1466.5 1360L1468.2 1362.3L1472 1364.5L1475.3 1366.7L1476.6 1368.9L1479.2 1371.2L1480.8 1373.4L1481.7 1375.6L1483.4 1377.8L1484.1 1380.1L1485.2 1382.3L1486.8 1384.5L1487.3 1386.7L1488.1 1389L1488.9 1391.2L1489.1 1393.4L1489.4 1395.7L1489.7 1397.9L1489.7 1400.1L1489.9 1402.3L1489.9 1404.6Z" fill="#365f85" stroke="#222" stroke-width="0.9" stroke-linejoin="round"/>
<path d="M1489.9 1345.4L1459.7 1345.4" stroke="#000" stroke-width="2.4"/>
<path d="M1489.9 1297.7L1490 1299.9L1490.1 1302.2L1490.6 1304.4L1490.9 1306.6L1492 1308.8L1492.7 1311.1L1494.8 1313.3L1495.9 1315.5L1498.2 1317.7L1499.4 1320L1502.7 1322.2L1504.8 1324.4L1510 1326.6L1513.8 1328.9L1518.1 1331.1L1522.7 1333.3L1524.5 1335.5L1525.4 1337.8L1526 1340L1525.6 1342.2L1524.7 1344.5L1523.8 1346.7L1521.6 1348.9L1520.7 1351.1L1517.9 1353.4L1516.7 1355.6L1513.6 1357.8L1511.7 1360L1509.1 1362.3L1505.5 1364.5L1504.1 1366.7L1501.9 1368.9L1499.5 1371.2L1498.7 1373.4L1497.1 1375.6L1495.7 1377.8L1495.3 1380.1L1493.9 1382.3L1492.6 1384.5L1492.3 1386.7L1491.5 1389L1490.9 1391.2L1490.7 1393.4L1490.4 1395.7L1490.1 1397.9L1490.1 1400.1L1490 1402.3L1489.9 1404.6Z" fill="#f67280" stroke="#222" stroke-width="0.9" stroke-linejoin="round"/>
<path d="M1489.9 1341.7L1520 1341.7" stroke="#000" stroke-width="2.4"/>
<text x="1170.2" y="1461.5" font-size="20.6" text-anchor="end" textLength="110" lengthAdjust="spacingAndGlyphs" transform="rotate(-45 1170.2 1461.5)">S100<tspan dy="-8" font-size="12">+</tspan><tspan dy="8"> early-</tspan></text>
<text x="1193.6" y="1478.4" font-size="20.6" text-anchor="end" transform="rotate(-45 1193.6 1478.4)" textLength="126.5" lengthAdjust="spacingAndGlyphs">activated CM</text>
<text x="1254.8" y="1457.5" font-size="20.6" text-anchor="end" transform="rotate(-45 1254.8 1457.5)" textLength="148" lengthAdjust="spacingAndGlyphs">Activated CM_1</text>
<text x="1336.8" y="1457.5" font-size="20.6" text-anchor="end" transform="rotate(-45 1336.8 1457.5)" textLength="151" lengthAdjust="spacingAndGlyphs">Activated CM_2</text>
<text x="1416.1" y="1462.3" font-size="20.6" text-anchor="end" transform="rotate(-45 1416.1 1462.3)" textLength="76" lengthAdjust="spacingAndGlyphs">Antigen-</text>
<text x="1439.5" y="1478.4" font-size="20.6" text-anchor="end" transform="rotate(-45 1439.5 1478.4)" textLength="131" lengthAdjust="spacingAndGlyphs">presenting IM</text>
<text x="1500.7" y="1456.9" font-size="20.6" text-anchor="end" transform="rotate(-45 1500.7 1456.9)" textLength="164" lengthAdjust="spacingAndGlyphs">M2-skewed NCM</text>
<text x="1490.6" y="1531.2" font-size="21" textLength="46.6" lengthAdjust="spacingAndGlyphs">Time</text>
<circle cx="1497.3" cy="1549" r="6.6" fill="#3f6b92"/>
<text x="1517.5" y="1555.6" font-size="21" textLength="44.7" lengthAdjust="spacingAndGlyphs">C1D1</text>
<circle cx="1497.3" cy="1570.9" r="6.6" fill="#f98089"/>
<text x="1517.5" y="1577.5" font-size="21" textLength="57" lengthAdjust="spacingAndGlyphs">C1D15</text>
<text x="1580" y="992.6" font-size="38" font-weight="bold" stroke="#000" stroke-width="1.5" stroke-linejoin="round" textLength="11.6" lengthAdjust="spacingAndGlyphs">i</text>
<text x="1748.2" y="1005.4" font-size="24" textLength="295.8" lengthAdjust="spacingAndGlyphs">Upregulated in <tspan font-style="italic">CSF1R</tspan> KO</text>
<text x="1681" y="1034.6" font-size="24" textLength="430.3" lengthAdjust="spacingAndGlyphs">(L1000_CRISPR_KO_Consensus_Sigs)</text>
<text x="1695.1" y="1075" font-size="16.5" textLength="72.6" lengthAdjust="spacingAndGlyphs"><tspan font-style="italic">P</tspan> = 0.055</text>
<path d="M1705.5 1079.3L1759.3 1079.3" stroke="#222" stroke-width="1.2"/>
<text x="1774.1" y="1075" font-size="16.5" textLength="73.3" lengthAdjust="spacingAndGlyphs"><tspan font-style="italic">P</tspan> = 0.039</text>
<path d="M1783.5 1079.3L1837.3 1079.3" stroke="#222" stroke-width="1.2"/>
<text x="1853.4" y="1075" font-size="16.5" textLength="72.9" lengthAdjust="spacingAndGlyphs"><tspan font-style="italic">P</tspan> = 0.039</text>
<path d="M1862.5 1079.3L1915.6 1079.3" stroke="#222" stroke-width="1.2"/>
<path d="M1683.4 1086.7V1249.7H2095.5" stroke="#333" stroke-width="1.3" fill="none"/>
<path d="M1674.3 1112.9L1683.4 1112.9" stroke="#333" stroke-width="1.3"/>
<text x="1660.2" y="1120.7" font-size="22" text-anchor="end" textLength="44.5" lengthAdjust="spacingAndGlyphs">0.20</text>
<path d="M1674.3 1140.2L1683.4 1140.2" stroke="#333" stroke-width="1.3"/>
<text x="1660.2" y="1148" font-size="22" text-anchor="end" textLength="44.5" lengthAdjust="spacingAndGlyphs">0.15</text>
<path d="M1674.3 1167.4L1683.4 1167.4" stroke="#333" stroke-width="1.3"/>
<text x="1660.2" y="1175.2" font-size="22" text-anchor="end" textLength="44.5" lengthAdjust="spacingAndGlyphs">0.10</text>
<path d="M1674.3 1194.3L1683.4 1194.3" stroke="#333" stroke-width="1.3"/>
<text x="1660.2" y="1202.1" font-size="22" text-anchor="end" textLength="44.5" lengthAdjust="spacingAndGlyphs">0.05</text>
<path d="M1674.3 1221.2L1683.4 1221.2" stroke="#333" stroke-width="1.3"/>
<text x="1660.2" y="1229" font-size="22" text-anchor="end" textLength="12.7" lengthAdjust="spacingAndGlyphs">0</text>
<path d="M1674.3 1248.4L1683.4 1248.4" stroke="#333" stroke-width="1.3"/>
<text x="1660.2" y="1256.2" font-size="22" text-anchor="end" textLength="57.9" lengthAdjust="spacingAndGlyphs">−0.05</text>
<path d="M1730.4 1249.7L1730.4 1253" stroke="#333" stroke-width="1.3"/>
<path d="M1809.7 1249.7L1809.7 1253" stroke="#333" stroke-width="1.3"/>
<path d="M1889.4 1249.7L1889.4 1253" stroke="#333" stroke-width="1.3"/>
<path d="M1969.1 1249.7L1969.1 1253" stroke="#333" stroke-width="1.3"/>
<path d="M2048.1 1249.7L2048.1 1253" stroke="#333" stroke-width="1.3"/>
<text x="1584.2" y="1168.4" font-size="24" text-anchor="middle" transform="rotate(-90 1584.2 1168.4)" textLength="104" lengthAdjust="spacingAndGlyphs">LR group</text>
<path d="M1730.4 1093.8L1730.4 1096.4L1730.3 1099.1L1730.2 1101.7L1730.1 1104.3L1729.7 1107L1729.5 1109.6L1729.1 1112.3L1728.3 1114.9L1727.8 1117.5L1727.2 1120.2L1725.8 1122.8L1724.9 1125.5L1724.3 1128.1L1722.6 1130.7L1721.2 1133.4L1720 1136L1717.5 1138.7L1715.8 1141.3L1714.7 1143.9L1711.8 1146.6L1710 1149.2L1708.8 1151.9L1705.6 1154.5L1703.8 1157.1L1699.9 1159.8L1698.3 1162.4L1696.1 1165.1L1695 1167.7L1694.8 1170.3L1694.5 1173L1694.9 1175.6L1696.1 1178.3L1699.5 1180.9L1703.5 1183.5L1707.2 1186.2L1710.3 1188.8L1715 1191.5L1717 1194.1L1720.5 1196.7L1722.4 1199.4L1724.6 1202L1726.8 1204.7L1728.1 1207.3L1729.3 1209.9L1729.7 1212.6L1730.2 1215.2L1730.3 1217.9L1730.4 1220.5Z" fill="#365f85" stroke="#222" stroke-width="0.9" stroke-linejoin="round"/>
<path d="M1730.4 1173.8L1700.2 1173.8" stroke="#000" stroke-width="2.4"/>
<path d="M1730.4 1093.8L1730.5 1096.4L1730.6 1099.1L1730.6 1101.7L1730.9 1104.3L1731.2 1107L1731.4 1109.6L1732 1112.3L1732.8 1114.9L1733.1 1117.5L1734.2 1120.2L1735.6 1122.8L1736.1 1125.5L1737.6 1128.1L1739.4 1130.7L1740.4 1133.4L1742.7 1136L1745.1 1138.7L1745.9 1141.3L1748.7 1143.9L1751.2 1146.6L1752 1149.2L1755.5 1151.9L1757.4 1154.5L1761.3 1157.1L1763.2 1159.8L1765.6 1162.4L1766.7 1165.1L1767 1167.7L1767.3 1170.3L1766.7 1173L1765.5 1175.6L1762.2 1178.3L1758.4 1180.9L1755.1 1183.5L1751.5 1186.2L1747.5 1188.8L1745.1 1191.5L1741.7 1194.1L1740 1196.7L1737 1199.4L1735.6 1202L1733.2 1204.7L1732.5 1207.3L1731.4 1209.9L1731.1 1212.6L1730.7 1215.2L1730.5 1217.9L1730.4 1220.5Z" fill="#f67280" stroke="#222" stroke-width="0.9" stroke-linejoin="round"/>
<path d="M1730.4 1168.7L1761.3 1168.7" stroke="#000" stroke-width="2.4"/>
<path d="M1809.7 1106.9L1809.7 1109.7L1809.6 1112.4L1809.5 1115.2L1809.2 1118L1808.9 1120.7L1808.7 1123.5L1807.9 1126.3L1807.4 1129L1806.5 1131.8L1804.7 1134.6L1803.8 1137.3L1802.2 1140.1L1800.4 1142.9L1799.8 1145.6L1797.9 1148.4L1796.3 1151.1L1795.2 1153.9L1791.8 1156.7L1789.4 1159.4L1785.5 1162.2L1782.2 1165L1778.8 1167.7L1777.1 1170.5L1775.8 1173.3L1775 1176L1774.5 1178.8L1773.8 1181.6L1774.6 1184.3L1775.3 1187.1L1777.3 1189.9L1778.9 1192.6L1782 1195.4L1787 1198.2L1790 1200.9L1795 1203.7L1797 1206.5L1800.1 1209.2L1801.2 1212L1803.3 1214.8L1804.2 1217.5L1806.2 1220.3L1807.2 1223.1L1808.2 1225.8L1808.8 1228.6L1809.3 1231.4L1809.5 1234.1L1809.7 1236.9L1809.7 1239.7Z" fill="#365f85" stroke="#222" stroke-width="0.9" stroke-linejoin="round"/>
<path d="M1809.7 1181.8L1779.5 1181.8" stroke="#000" stroke-width="2.4"/>
<path d="M1809.7 1106.9L1809.8 1109.7L1809.9 1112.4L1810 1115.2L1810.4 1118L1810.6 1120.7L1811 1123.5L1811.8 1126.3L1812.2 1129L1813.6 1131.8L1815.2 1134.6L1816.1 1137.3L1818.2 1140.1L1819.4 1142.9L1821 1145.6L1823.1 1148.4L1823.8 1151.1L1826.8 1153.9L1829.1 1156.7L1832.1 1159.4L1835.6 1162.2L1839.5 1165L1841.7 1167.7L1843.6 1170.5L1844.3 1173.3L1844.6 1176L1845 1178.8L1843.9 1181.6L1843 1184.3L1840.6 1187.1L1839 1189.9L1836.4 1192.6L1832.6 1195.4L1830.3 1198.2L1825.7 1200.9L1823.4 1203.7L1820.4 1206.5L1818.5 1209.2L1816.9 1212L1815.2 1214.8L1814.3 1217.5L1812.5 1220.3L1812 1223.1L1810.9 1225.8L1810.6 1228.6L1810.2 1231.4L1809.9 1234.1L1809.8 1236.9L1809.7 1239.7Z" fill="#f67280" stroke="#222" stroke-width="0.9" stroke-linejoin="round"/>
<path d="M1809.7 1176.1L1839.1 1176.1" stroke="#000" stroke-width="2.4"/>
<path d="M1889.4 1129.7L1889.3 1132.1L1889.2 1134.4L1889 1136.8L1888.6 1139.1L1888.2 1141.5L1887.2 1143.8L1886.5 1146.2L1884.3 1148.5L1883.2 1150.9L1880.8 1153.2L1879.4 1155.6L1876.7 1157.9L1875.1 1160.2L1872.1 1162.6L1869.2 1164.9L1865.9 1167.3L1863 1169.6L1858.7 1172L1856.3 1174.3L1854.4 1176.7L1853.6 1179L1853.5 1181.4L1853.9 1183.7L1854.3 1186.1L1856.5 1188.4L1858.2 1190.7L1862.2 1193.1L1864.6 1195.4L1868.6 1197.8L1869.9 1200.1L1872.9 1202.5L1875.1 1204.8L1876.1 1207.2L1878.6 1209.5L1879.7 1211.9L1881.4 1214.2L1883.4 1216.5L1884.2 1218.9L1885.9 1221.2L1887 1223.6L1887.5 1225.9L1888.3 1228.3L1888.5 1230.6L1888.8 1233L1889.2 1235.3L1889.2 1237.7L1889.3 1240L1889.4 1242.4Z" fill="#365f85" stroke="#222" stroke-width="0.9" stroke-linejoin="round"/>
<path d="M1889.4 1180.5L1859.2 1180.5" stroke="#000" stroke-width="2.4"/>
<path d="M1889.4 1129.7L1889.5 1132.1L1889.6 1134.4L1890 1136.8L1890.3 1139.1L1891.1 1141.5L1891.9 1143.8L1893.5 1146.2L1895.1 1148.5L1897.1 1150.9L1899.2 1153.2L1901.9 1155.6L1904.5 1157.9L1908.1 1160.2L1911.5 1162.6L1915.7 1164.9L1918.3 1167.3L1921.3 1169.6L1924 1172L1925.3 1174.3L1926.4 1176.7L1925.9 1179L1925.6 1181.4L1925 1183.7L1923.3 1186.1L1922 1188.4L1918 1190.7L1915.5 1193.1L1910.9 1195.4L1909.1 1197.8L1905.7 1200.1L1903.4 1202.5L1902.6 1204.8L1900.5 1207.2L1899.3 1209.5L1898.3 1211.9L1896.4 1214.2L1895.5 1216.5L1894.1 1218.9L1892.4 1221.2L1891.8 1223.6L1891.1 1225.9L1890.4 1228.3L1890.2 1230.6L1889.9 1233L1889.6 1235.3L1889.6 1237.7L1889.5 1240L1889.4 1242.4Z" fill="#f67280" stroke="#222" stroke-width="0.9" stroke-linejoin="round"/>
<path d="M1889.4 1174.5L1919.6 1174.5" stroke="#000" stroke-width="2.4"/>
<path d="M1969.1 1144.2L1969 1146.1L1968.9 1147.9L1968.8 1149.7L1968.4 1151.6L1968.2 1153.4L1967.5 1155.3L1966.6 1157.1L1965.8 1159L1963.8 1160.8L1962.9 1162.7L1961.2 1164.5L1959.6 1166.4L1958.5 1168.2L1956.1 1170.1L1955.1 1171.9L1951.8 1173.8L1949.3 1175.6L1946 1177.5L1943 1179.3L1938.7 1181.2L1936.7 1183L1934.2 1184.9L1933.6 1186.7L1933.1 1188.6L1933.2 1190.4L1933.8 1192.3L1935 1194.1L1937.4 1196L1940.5 1197.8L1943.6 1199.7L1948.1 1201.5L1950.1 1203.4L1953.8 1205.2L1955.5 1207.1L1957.5 1208.9L1959.5 1210.8L1960.4 1212.6L1962.5 1214.5L1963.4 1216.3L1965.3 1218.2L1966.5 1220L1967.2 1221.8L1968.1 1223.7L1968.3 1225.5L1968.8 1227.4L1968.9 1229.2L1969 1231.1L1969.1 1232.9Z" fill="#365f85" stroke="#222" stroke-width="0.9" stroke-linejoin="round"/>
<path d="M1969.1 1187.9L1939 1187.9" stroke="#000" stroke-width="2.4"/>
<path d="M1969.1 1144.2L1969.2 1146.1L1969.3 1147.9L1969.4 1149.7L1969.8 1151.6L1970 1153.4L1970.9 1155.3L1971.7 1157.1L1972.9 1159L1974.9 1160.8L1975.8 1162.7L1978.1 1164.5L1979.1 1166.4L1981.3 1168.2L1983.4 1170.1L1985.1 1171.9L1988.8 1173.8L1990.5 1175.6L1994.9 1177.5L1997.9 1179.3L2001.1 1181.2L2003.6 1183L2005 1184.9L2005.8 1186.7L2006 1188.6L2005.5 1190.4L2005.1 1192.3L2002.7 1194.1L2000.9 1196L1996.5 1197.8L1993.2 1199.7L1989.6 1201.5L1986.7 1203.4L1983.2 1205.2L1982.1 1207.1L1979.6 1208.9L1978.6 1210.8L1977 1212.6L1975.3 1214.5L1974.5 1216.3L1972.5 1218.2L1971.7 1220L1970.8 1221.8L1970 1223.7L1969.8 1225.5L1969.4 1227.4L1969.3 1229.2L1969.2 1231.1L1969.1 1232.9Z" fill="#f67280" stroke="#222" stroke-width="0.9" stroke-linejoin="round"/>
<path d="M1969.1 1185.5L1999.5 1185.5" stroke="#000" stroke-width="2.4"/>
<path d="M2048.1 1135.8L2048 1137.7L2047.9 1139.6L2047.8 1141.5L2047.5 1143.4L2047.2 1145.3L2047.1 1147.2L2046.3 1149.1L2045.7 1151L2045.1 1152.9L2043.4 1154.8L2042.4 1156.7L2041.1 1158.6L2039 1160.5L2038.1 1162.4L2036 1164.3L2033.7 1166.2L2032.8 1168.1L2029.6 1170L2027.4 1171.9L2025.6 1173.8L2022.5 1175.7L2020.3 1177.5L2017.4 1179.4L2015.7 1181.3L2013.5 1183.2L2012.9 1185.1L2012.2 1187L2012.3 1188.9L2012.7 1190.8L2014.4 1192.7L2016.1 1194.6L2020.7 1196.5L2025.1 1198.4L2028.3 1200.3L2033 1202.2L2035.1 1204.1L2038 1206L2039.3 1207.9L2041.4 1209.8L2042.5 1211.7L2044.4 1213.6L2045.5 1215.5L2046.5 1217.4L2047.1 1219.3L2047.5 1221.2L2047.8 1223.1L2048 1225L2048.1 1226.9Z" fill="#365f85" stroke="#222" stroke-width="0.9" stroke-linejoin="round"/>
<path d="M2048.1 1187.2L2017.9 1187.2" stroke="#000" stroke-width="2.4"/>
<path d="M2048.1 1135.8L2048.1 1137.7L2048.2 1139.6L2048.3 1141.5L2048.6 1143.4L2048.9 1145.3L2049.3 1147.2L2050.2 1149.1L2050.7 1151L2052 1152.9L2053.8 1154.8L2054.4 1156.7L2056.1 1158.6L2057.5 1160.5L2058.4 1162.4L2060.7 1164.3L2061.7 1166.2L2064.2 1168.1L2067.6 1170L2069.5 1171.9L2074.1 1173.8L2076.6 1175.7L2080.6 1177.5L2081.9 1179.4L2083.8 1181.3L2084 1183.2L2084.5 1185.1L2084.3 1187L2083.4 1188.9L2081.5 1190.8L2079.2 1192.7L2074.8 1194.6L2071.8 1196.5L2068.3 1198.4L2065.3 1200.3L2062.3 1202.2L2060.6 1204.1L2058 1206L2056.9 1207.9L2054.5 1209.8L2053.4 1211.7L2051.2 1213.6L2050.4 1215.5L2049.4 1217.4L2048.9 1219.3L2048.5 1221.2L2048.3 1223.1L2048.2 1225L2048.1 1226.9Z" fill="#f67280" stroke="#222" stroke-width="0.9" stroke-linejoin="round"/>
<path d="M2048.1 1184.2L2078.5 1184.2" stroke="#000" stroke-width="2.4"/>
<path d="M1682.7 1255.1V1423.9H2102.2" stroke="#333" stroke-width="1.3" fill="none"/>
<path d="M1673.6 1258.8L1682.7 1258.8" stroke="#333" stroke-width="1.3"/>
<text x="1660.2" y="1266.6" font-size="22" text-anchor="end" textLength="44.5" lengthAdjust="spacingAndGlyphs">0.20</text>
<path d="M1673.6 1293.8L1682.7 1293.8" stroke="#333" stroke-width="1.3"/>
<text x="1660.2" y="1301.6" font-size="22" text-anchor="end" textLength="44.5" lengthAdjust="spacingAndGlyphs">0.15</text>
<path d="M1673.6 1328.4L1682.7 1328.4" stroke="#333" stroke-width="1.3"/>
<text x="1660.2" y="1336.2" font-size="22" text-anchor="end" textLength="44.5" lengthAdjust="spacingAndGlyphs">0.10</text>
<path d="M1673.6 1362.7L1682.7 1362.7" stroke="#333" stroke-width="1.3"/>
<text x="1660.2" y="1370.5" font-size="22" text-anchor="end" textLength="44.5" lengthAdjust="spacingAndGlyphs">0.05</text>
<path d="M1673.6 1397.3L1682.7 1397.3" stroke="#333" stroke-width="1.3"/>
<text x="1660.2" y="1405.1" font-size="22" text-anchor="end" textLength="12.7" lengthAdjust="spacingAndGlyphs">0</text>
<path d="M1731.1 1423.9L1731.1 1432.9" stroke="#333" stroke-width="1.3"/>
<path d="M1811.8 1423.9L1811.8 1432.9" stroke="#333" stroke-width="1.3"/>
<path d="M1892.4 1423.9L1892.4 1432.9" stroke="#333" stroke-width="1.3"/>
<path d="M1973.1 1423.9L1973.1 1432.9" stroke="#333" stroke-width="1.3"/>
<path d="M2053.4 1423.9L2053.4 1432.9" stroke="#333" stroke-width="1.3"/>
<text x="1584.2" y="1339.5" font-size="24" text-anchor="middle" transform="rotate(-90 1584.2 1339.5)" textLength="104" lengthAdjust="spacingAndGlyphs">EP group</text>
<path d="M1731.1 1261.8L1731 1264.7L1730.9 1267.5L1730.8 1270.4L1730.5 1273.2L1730.2 1276L1729.8 1278.9L1728.9 1281.7L1728.4 1284.5L1726.8 1287.4L1725.1 1290.2L1724.5 1293L1722.7 1295.9L1721.8 1298.7L1720.4 1301.6L1717.9 1304.4L1716.5 1307.2L1712.5 1310.1L1709 1312.9L1705.9 1315.7L1702.7 1318.6L1700.3 1321.4L1698.7 1324.2L1697.2 1327.1L1695.8 1329.9L1694.8 1332.8L1694.1 1335.6L1694.7 1338.4L1694.9 1341.3L1697 1344.1L1699 1346.9L1703.5 1349.8L1708.3 1352.6L1711.3 1355.4L1715.5 1358.3L1717.3 1361.1L1719.5 1363.9L1721.2 1366.8L1722.7 1369.6L1724.8 1372.5L1726.1 1375.3L1728.2 1378.1L1728.9 1381L1729.9 1383.8L1730.3 1386.6L1730.7 1389.5L1730.9 1392.3L1731 1395.1L1731.1 1398Z" fill="#365f85" stroke="#222" stroke-width="0.9" stroke-linejoin="round"/>
<path d="M1731.1 1335.5L1700 1335.5" stroke="#000" stroke-width="2.4"/>
<path d="M1731.1 1261.8L1731.2 1264.7L1731.3 1267.5L1731.4 1270.4L1731.8 1273.2L1732 1276L1732.4 1278.9L1733.3 1281.7L1733.8 1284.5L1735.5 1287.4L1737.1 1290.2L1738.2 1293L1740.4 1295.9L1741.2 1298.7L1743.2 1301.6L1745.1 1304.4L1746.2 1307.2L1749.9 1310.1L1752 1312.9L1756.8 1315.7L1759.8 1318.6L1764.1 1321.4L1765.3 1324.2L1767.1 1327.1L1767.2 1329.9L1767.9 1332.8L1767.8 1335.6L1766.7 1338.4L1765.5 1341.3L1763.8 1344.1L1761.3 1346.9L1759.1 1349.8L1753.9 1352.6L1751.1 1355.4L1746.2 1358.3L1744.4 1361.1L1741.4 1363.9L1740.2 1366.8L1738.4 1369.6L1737.1 1372.5L1735.8 1375.3L1733.9 1378.1L1733.3 1381L1732.2 1383.8L1731.9 1386.6L1731.5 1389.5L1731.3 1392.3L1731.2 1395.1L1731.1 1398Z" fill="#f67280" stroke="#222" stroke-width="0.9" stroke-linejoin="round"/>
<path d="M1731.1 1333.1L1762.1 1333.1" stroke="#000" stroke-width="2.4"/>
<path d="M1811.8 1274.3L1811.7 1277.1L1811.6 1279.8L1811.5 1282.6L1811.1 1285.4L1810.8 1288.1L1810.3 1290.9L1809.4 1293.6L1809 1296.4L1807.5 1299.2L1806.1 1301.9L1805.4 1304.7L1803.5 1307.5L1802.5 1310.2L1800.3 1313L1797.4 1315.8L1795.8 1318.5L1791.7 1321.3L1789.5 1324.1L1786.6 1326.8L1784.7 1329.6L1781.5 1332.4L1779.8 1335.1L1777.2 1337.9L1775.9 1340.7L1775 1343.4L1774.8 1346.2L1775.3 1349L1776.1 1351.7L1778.9 1354.5L1782.1 1357.3L1785.8 1360L1790.5 1362.8L1792.3 1365.6L1796.1 1368.3L1797.4 1371.1L1800.1 1373.9L1801.7 1376.6L1803.8 1379.4L1805.8 1382.2L1807.2 1384.9L1809.1 1387.7L1809.7 1390.5L1810.6 1393.2L1810.9 1396L1811.3 1398.8L1811.5 1401.5L1811.7 1404.3L1811.8 1407.1Z" fill="#365f85" stroke="#222" stroke-width="0.9" stroke-linejoin="round"/>
<path d="M1811.8 1344.5L1780.7 1344.5" stroke="#000" stroke-width="2.4"/>
<path d="M1811.8 1274.3L1811.8 1277.1L1812 1279.8L1812.1 1282.6L1812.4 1285.4L1812.7 1288.1L1813.2 1290.9L1814 1293.6L1814.4 1296.4L1815.9 1299.2L1817.2 1301.9L1818.3 1304.7L1820.6 1307.5L1821.7 1310.2L1824.2 1313L1826.3 1315.8L1827.7 1318.5L1831 1321.3L1832.1 1324.1L1835.9 1326.8L1838.3 1329.6L1842.6 1332.4L1844.5 1335.1L1846.9 1337.9L1847.2 1340.7L1847.7 1343.4L1847.4 1346.2L1846.5 1349L1844.5 1351.7L1842.3 1354.5L1838.8 1357.3L1836.8 1360L1833 1362.8L1831.1 1365.6L1827.1 1368.3L1825.5 1371.1L1822.2 1373.9L1820.7 1376.6L1818.5 1379.4L1817.2 1382.2L1815.9 1384.9L1814.3 1387.7L1813.9 1390.5L1812.9 1393.2L1812.6 1396L1812.2 1398.8L1812 1401.5L1811.9 1404.3L1811.8 1407.1Z" fill="#f67280" stroke="#222" stroke-width="0.9" stroke-linejoin="round"/>
<path d="M1811.8 1342.9L1841.9 1342.9" stroke="#000" stroke-width="2.4"/>
<path d="M1892.4 1276L1892.4 1278.6L1892.2 1281.3L1892.1 1283.9L1891.7 1286.6L1891.5 1289.2L1890.8 1291.8L1889.9 1294.5L1889.4 1297.1L1887.7 1299.8L1886.8 1302.4L1885.5 1305.1L1883.5 1307.7L1882.3 1310.4L1879.3 1313L1877.4 1315.7L1874.4 1318.3L1870.7 1321L1869.1 1323.6L1865.6 1326.3L1863.5 1328.9L1860.9 1331.6L1858.7 1334.2L1856.8 1336.8L1855.9 1339.5L1855.4 1342.1L1855.8 1344.8L1856.2 1347.4L1858.7 1350.1L1860.8 1352.7L1865.6 1355.4L1869.2 1358L1872.1 1360.7L1875.2 1363.3L1878 1366L1879.2 1368.6L1881.9 1371.3L1882.9 1373.9L1885.4 1376.6L1886.6 1379.2L1888.5 1381.8L1890 1384.5L1890.5 1387.1L1891.4 1389.8L1891.7 1392.4L1892.1 1395.1L1892.2 1397.7L1892.3 1400.4L1892.4 1403Z" fill="#365f85" stroke="#222" stroke-width="0.9" stroke-linejoin="round"/>
<path d="M1892.4 1342.2L1861.4 1342.2" stroke="#000" stroke-width="2.4"/>
<path d="M1892.4 1276L1892.5 1278.6L1892.6 1281.3L1892.7 1283.9L1893.2 1286.6L1893.4 1289.2L1894 1291.8L1894.9 1294.5L1895.4 1297.1L1897.1 1299.8L1897.9 1302.4L1899.5 1305.1L1901.5 1307.7L1902.8 1310.4L1905.9 1313L1907.3 1315.7L1910.6 1318.3L1913.5 1321L1915.4 1323.6L1918.2 1326.3L1921.2 1328.9L1923.5 1331.6L1926.2 1334.2L1927.5 1336.8L1928.3 1339.5L1928.5 1342.1L1928 1344.8L1927.3 1347.4L1924.5 1350.1L1921.9 1352.7L1918 1355.4L1914.2 1358L1912.2 1360.7L1909 1363.3L1906.8 1366L1905.2 1368.6L1902.5 1371.3L1901.4 1373.9L1899 1376.6L1897.9 1379.2L1896.1 1381.8L1894.8 1384.5L1894.2 1387.1L1893.4 1389.8L1893.2 1392.4L1892.8 1395.1L1892.7 1397.7L1892.5 1400.4L1892.4 1403Z" fill="#f67280" stroke="#222" stroke-width="0.9" stroke-linejoin="round"/>
<path d="M1892.4 1341.2L1922.7 1341.2" stroke="#000" stroke-width="2.4"/>
<path d="M1973.1 1290.1L1973 1292.7L1972.9 1295.4L1972.8 1298L1972.3 1300.6L1972.1 1303.2L1971.1 1305.9L1970.4 1308.5L1969.2 1311.1L1967.4 1313.8L1966.8 1316.4L1964.8 1319L1963.8 1321.7L1961.3 1324.3L1958.9 1326.9L1956.1 1329.6L1951.5 1332.2L1949 1334.8L1944.8 1337.5L1942.5 1340.1L1940.7 1342.7L1938.7 1345.4L1937.6 1348L1936.5 1350.6L1936.4 1353.3L1937 1355.9L1937.3 1358.5L1939.2 1361.2L1940.8 1363.8L1945 1366.4L1948.7 1369.1L1952.4 1371.7L1955.7 1374.3L1959.1 1377L1960.1 1379.6L1962.5 1382.2L1963.4 1384.9L1965 1387.5L1966.8 1390.1L1967.8 1392.8L1969.9 1395.4L1970.7 1398L1971.5 1400.7L1972.2 1403.3L1972.4 1405.9L1972.8 1408.6L1972.9 1411.2L1973 1413.8L1973.1 1416.5Z" fill="#365f85" stroke="#222" stroke-width="0.9" stroke-linejoin="round"/>
<path d="M1973.1 1351.6L1942.1 1351.6" stroke="#000" stroke-width="2.4"/>
<path d="M1973.1 1290.1L1973.2 1292.7L1973.3 1295.4L1973.5 1298L1973.9 1300.6L1974.2 1303.2L1975.2 1305.9L1975.7 1308.5L1977 1311.1L1978.7 1313.8L1979.6 1316.4L1981.8 1319L1983 1321.7L1986.1 1324.3L1988.2 1326.9L1991.6 1329.6L1995.3 1332.2L1997.8 1334.8L2000.5 1337.5L2003.8 1340.1L2005.5 1342.7L2008.2 1345.4L2009.2 1348L2010.2 1350.6L2010 1353.3L2009.7 1355.9L2008.7 1358.5L2006.5 1361.2L2003.5 1363.8L1999.9 1366.4L1995.4 1369.1L1993.2 1371.7L1990 1374.3L1987.5 1377L1986.5 1379.6L1983.9 1382.2L1983 1384.9L1980.9 1387.5L1979.2 1390.1L1978 1392.8L1976 1395.4L1975.4 1398L1974.6 1400.7L1974 1403.3L1973.8 1405.9L1973.4 1408.6L1973.3 1411.2L1973.2 1413.8L1973.1 1416.5Z" fill="#f67280" stroke="#222" stroke-width="0.9" stroke-linejoin="round"/>
<path d="M1973.1 1350.3L2004.2 1350.3" stroke="#000" stroke-width="2.4"/>
<path d="M2053.4 1297.8L2053.4 1299.9L2053.2 1302L2053.2 1304.2L2052.8 1306.3L2052.5 1308.4L2052 1310.5L2051.1 1312.6L2050.7 1314.7L2049.1 1316.8L2047.8 1319L2047 1321.1L2045 1323.2L2044.1 1325.3L2041.7 1327.4L2039.1 1329.5L2037.2 1331.7L2032.9 1333.8L2030.8 1335.9L2026.6 1338L2024.8 1340.1L2021.4 1342.2L2020.5 1344.3L2018.5 1346.5L2017.8 1348.6L2016.8 1350.7L2016.8 1352.8L2017.7 1354.9L2018.7 1357L2020.3 1359.1L2023.1 1361.3L2025.5 1363.4L2030.7 1365.5L2033.3 1367.6L2038.1 1369.7L2039.9 1371.8L2043 1373.9L2044.4 1376.1L2046.4 1378.2L2047.7 1380.3L2049 1382.4L2050.7 1384.5L2051.2 1386.6L2052.3 1388.8L2052.6 1390.9L2053 1393L2053.2 1395.1L2053.4 1397.2L2053.4 1399.3Z" fill="#365f85" stroke="#222" stroke-width="0.9" stroke-linejoin="round"/>
<path d="M2053.4 1351.9L2022.4 1351.9" stroke="#000" stroke-width="2.4"/>
<path d="M2053.4 1297.8L2053.5 1299.9L2053.7 1302L2053.7 1304.2L2054.1 1306.3L2054.4 1308.4L2054.8 1310.5L2055.7 1312.6L2056.1 1314.7L2057.7 1316.8L2059.1 1319L2060.2 1321.1L2062.5 1323.2L2063.6 1325.3L2066.2 1327.4L2068.5 1329.5L2070.1 1331.7L2073.9 1333.8L2075.2 1335.9L2078.9 1338L2080.7 1340.1L2084.5 1342.2L2086.1 1344.3L2088.7 1346.5L2089.5 1348.6L2090.4 1350.7L2090.3 1352.8L2089.9 1354.9L2088.8 1357L2086.9 1359.1L2083 1361.3L2079.9 1363.4L2074.6 1365.5L2072 1367.6L2067.8 1369.7L2066.5 1371.8L2063.8 1373.9L2062.8 1376.1L2060.9 1378.2L2059.6 1380.3L2058.1 1382.4L2056.3 1384.5L2055.7 1386.6L2054.6 1388.8L2054.3 1390.9L2053.8 1393L2053.7 1395.1L2053.5 1397.2L2053.4 1399.3Z" fill="#f67280" stroke="#222" stroke-width="0.9" stroke-linejoin="round"/>
<path d="M2053.4 1351.6L2084.6 1351.6" stroke="#000" stroke-width="2.4"/>
<text x="1937.1" y="1276" font-size="16.5" textLength="73.3" lengthAdjust="spacingAndGlyphs"><tspan font-style="italic">P</tspan> = 0.039</text>
<path d="M1945.5 1281.3L1998.7 1281.3" stroke="#222" stroke-width="1.2"/>
<text x="1738.7" y="1461.5" font-size="20.6" text-anchor="end" textLength="110" lengthAdjust="spacingAndGlyphs" transform="rotate(-45 1738.7 1461.5)">S100<tspan dy="-8" font-size="12">+</tspan><tspan dy="8"> early-</tspan></text>
<text x="1762.1" y="1478.4" font-size="20.6" text-anchor="end" transform="rotate(-45 1762.1 1478.4)" textLength="126.5" lengthAdjust="spacingAndGlyphs">activated CM</text>
<text x="1822.3" y="1457.5" font-size="20.6" text-anchor="end" transform="rotate(-45 1822.3 1457.5)" textLength="148" lengthAdjust="spacingAndGlyphs">Activated CM_1</text>
<text x="1902.9" y="1457.5" font-size="20.6" text-anchor="end" transform="rotate(-45 1902.9 1457.5)" textLength="151" lengthAdjust="spacingAndGlyphs">Activated CM_2</text>
<text x="1980.9" y="1462.3" font-size="20.6" text-anchor="end" transform="rotate(-45 1980.9 1462.3)" textLength="76" lengthAdjust="spacingAndGlyphs">Antigen-</text>
<text x="2004.3" y="1478.4" font-size="20.6" text-anchor="end" transform="rotate(-45 2004.3 1478.4)" textLength="131" lengthAdjust="spacingAndGlyphs">presenting IM</text>
<text x="2064.2" y="1456.9" font-size="20.6" text-anchor="end" transform="rotate(-45 2064.2 1456.9)" textLength="164" lengthAdjust="spacingAndGlyphs">M2-skewed NCM</text>
<text x="2055.1" y="1531.4" font-size="21" textLength="46.6" lengthAdjust="spacingAndGlyphs">Time</text>
<circle cx="2061.8" cy="1549.2" r="6.6" fill="#3f6b92"/>
<text x="2082" y="1555.8" font-size="21" textLength="44.7" lengthAdjust="spacingAndGlyphs">C1D1</text>
<circle cx="2061.8" cy="1571.1" r="6.6" fill="#f98089"/>
<text x="2082" y="1577.7" font-size="21" textLength="57" lengthAdjust="spacingAndGlyphs">C1D15</text>
<text x="552" y="1602" font-size="38" font-weight="bold" stroke="#000" stroke-width="1.5" stroke-linejoin="round" textLength="11.6" lengthAdjust="spacingAndGlyphs">j</text>
<text x="616.2" y="1596" font-size="24" textLength="332.6" lengthAdjust="spacingAndGlyphs">Classical monocyte in C1D15</text>
<path d="M797.7 1639.7L797.7 1993" stroke="#bdbdbd" stroke-width="1.4" stroke-dasharray="5 3.5"/>
<path d="M863.8 1639.7L863.8 1993" stroke="#bdbdbd" stroke-width="1.4" stroke-dasharray="5 3.5"/>
<path d="M656.9 1976.8L1005.8 1976.8" stroke="#bdbdbd" stroke-width="1.4" stroke-dasharray="6 4"/>
<path d="M656.9 1626.4V1993H1005.8" stroke="#333" stroke-width="1.3" fill="none"/>
<path d="M647.7 1740.6L656.9 1740.6" stroke="#333" stroke-width="1.3"/>
<text x="632.1" y="1748.4" font-size="22" text-anchor="end" textLength="38.5" lengthAdjust="spacingAndGlyphs">200</text>
<path d="M647.7 1858.7L656.9 1858.7" stroke="#333" stroke-width="1.3"/>
<text x="632.1" y="1866.5" font-size="22" text-anchor="end" textLength="38.5" lengthAdjust="spacingAndGlyphs">100</text>
<path d="M647.7 1977.7L656.9 1977.7" stroke="#333" stroke-width="1.3"/>
<text x="632.1" y="1985.5" font-size="22" text-anchor="end" textLength="12.8" lengthAdjust="spacingAndGlyphs">0</text>
<path d="M698.5 1993L698.5 2002.7" stroke="#333" stroke-width="1.3"/>
<text x="695.5" y="2029.9" font-size="21" text-anchor="middle">−1</text>
<path d="M764.3 1993L764.3 2002.7" stroke="#333" stroke-width="1.3"/>
<text x="761.3" y="2029.9" font-size="21" text-anchor="middle">−0.5</text>
<path d="M830.4 1993L830.4 2002.7" stroke="#333" stroke-width="1.3"/>
<text x="830.4" y="2029.9" font-size="21" text-anchor="middle">0</text>
<path d="M896.3 1993L896.3 2002.7" stroke="#333" stroke-width="1.3"/>
<text x="896.3" y="2029.9" font-size="21" text-anchor="middle">0.5</text>
<path d="M962.1 1993L962.1 2002.7" stroke="#333" stroke-width="1.3"/>
<text x="962.1" y="2029.9" font-size="21" text-anchor="middle">1</text>
<text x="573.9" y="1810.2" font-size="24" text-anchor="middle" transform="rotate(-90 573.9 1810.2)" textLength="258.3" lengthAdjust="spacingAndGlyphs">−log(adjusted <tspan font-style="italic">P</tspan> value)</text>
<path d="M814.6 1964.5h0M802.3 1933.9h0M795.9 1925.2h0M827.5 1975.6h0M851.2 1975h0M805.7 1947.3h0M851.3 1926.9h0M802.3 1976.9h0M854.4 1919.7h0M844.6 1942.8h0M805.9 1927h0M813.2 1956.2h0M837.5 1973.1h0M822.5 1974.9h0M829 1975.1h0M845.3 1977.4h0M798.8 1976.7h0M834.6 1966.3h0M840.5 1962.3h0M813.7 1951.6h0M846.9 1940.5h0M845 1964.9h0M834.4 1977.6h0M839.3 1963.8h0M852.7 1975.3h0M837.1 1977h0M858.1 1931.9h0M826.7 1973.6h0M826.2 1971.2h0M850.2 1948.6h0M829.6 1975.6h0M820.5 1966.2h0M805.7 1941.9h0M823 1967.9h0M836.2 1967.5h0M829.4 1975.5h0M846.3 1944.4h0M844.8 1947.3h0M833.1 1974.8h0M845.6 1963.5h0M821.9 1975.7h0M825.4 1972.5h0M855.4 1977.2h0M807.3 1935.5h0M820 1964.2h0M832.2 1977.4h0M810.3 1975.9h0M838.1 1969.8h0M847.1 1976.5h0M855.3 1976h0M849.4 1958.6h0M841.1 1960.4h0M827.8 1975.5h0M802.7 1925.3h0M833.6 1975.9h0M846.7 1936.4h0M806.9 1937.3h0M818.4 1958.7h0M822.7 1977.2h0M845.9 1974.9h0M830.5 1976.9h0M806.4 1976.8h0M833.4 1971.2h0M842 1950.7h0M823.9 1967.9h0M813.3 1977.3h0M859.6 1912.3h0M851.7 1945.6h0M803.8 1937.5h0M856.4 1974.8h0M830.7 1974.9h0M853.2 1947.1h0M818.6 1963.4h0M821.8 1975.1h0M799.5 1977h0M803.3 1941.9h0M835.5 1975.5h0M833.6 1977.5h0M832 1977.6h0M839.8 1976.7h0M836 1976h0M851.1 1943.9h0M831.9 1975.6h0M832.9 1977.3h0M815.2 1976.3h0M800.3 1975.1h0M844.6 1949.6h0M830.2 1977.2h0M839.1 1968.1h0M835.9 1970.9h0M862.4 1911.7h0M829.4 1976.3h0M828.1 1976.3h0M814 1964.2h0M817.3 1974.6h0M859.3 1900.4h0M847 1936h0M835.1 1977.6h0M807.4 1942.3h0M807.9 1951.9h0M834.5 1976.5h0M816 1965.3h0M818.8 1976.4h0M830.8 1977.2h0M813.2 1974.8h0M849.3 1974.9h0M832.9 1975.9h0M833.9 1976h0M841.8 1976.7h0M845.3 1976.9h0M834.8 1976.9h0M815.4 1962.2h0M841.2 1976.1h0M828.1 1975.9h0M829 1976.5h0M808.7 1947.8h0M853.8 1915.6h0M847.5 1975.2h0M816.3 1977.3h0M828.4 1974.5h0M837.7 1967.4h0M832.5 1976.9h0M819.5 1963.3h0M854.9 1921.2h0M854.2 1929.2h0M818.2 1961.6h0M861.6 1975h0M824.6 1971.8h0M805.1 1926.9h0M862.5 1974.9h0M824.9 1972.3h0M797.8 1974.2h0M825.5 1975.7h0M855 1977h0M830.6 1977.5h0M833 1974.7h0M813.3 1951.9h0M854.9 1937.1h0M853.3 1937.4h0M824.9 1972.9h0M840.9 1960.6h0M825.8 1976.9h0M809.5 1974.5h0M837.7 1968.5h0M845.2 1954.4h0M861.7 1940.9h0M810.6 1953.7h0M826 1975h0M833.4 1975.6h0M853.2 1925.9h0M856.8 1912.8h0M824.7 1976h0M855.4 1974.8h0M818.3 1976.9h0M837.4 1963.4h0M830 1977.5h0M819.3 1968.6h0M833 1977.4h0M802 1977.2h0M842.7 1977.6h0M801.3 1923.9h0M836.8 1977.4h0M797 1922.9h0M842.6 1976.5h0M823.9 1966.6h0M824.5 1977.2h0M831.1 1976.4h0M834.8 1976.3h0M838.7 1970.1h0M844.5 1963.2h0M864.1 1976.9h0M815.3 1976.7h0M821.5 1964.8h0M828.6 1974.4h0M813.4 1952.5h0M809.2 1974.7h0M829.8 1977.5h0M835.2 1977.2h0M834.6 1976.1h0M864 1976.4h0M833.5 1976.2h0M843.9 1951.4h0M834.3 1975.4h0M824.6 1971.7h0M834.5 1974.2h0M818.2 1976.2h0M843.2 1975.7h0M825.3 1972h0M846 1945.2h0M835.9 1977.2h0M809.7 1952h0M837 1976.1h0M797.8 1924.1h0M844.4 1976.8h0M839.8 1961h0M823.3 1965.4h0M830.4 1977.6h0M817.4 1976.3h0M830.5 1976.6h0M844.4 1950.2h0M820.5 1974.5h0M837.9 1971.9h0M818.4 1965.9h0M836.9 1971.2h0M844.7 1976.6h0M828.5 1977.4h0M831 1977.4h0M849.3 1976.5h0M862.9 1936.2h0M816 1976h0M836.2 1968.1h0M838.2 1966.5h0M849.2 1949.4h0M820.1 1965.4h0M817.1 1977.3h0M857.1 1929.7h0M843.2 1958.3h0M838.7 1976.4h0M810.6 1976.9h0M820.7 1967.9h0M845.7 1955h0M815.6 1974.9h0M842.4 1974.5h0M837.7 1963.9h0M830 1977h0M844.8 1949.4h0M802.4 1938.9h0M813.8 1954.1h0M843.6 1976.5h0M861.5 1915.5h0M841.5 1976.6h0M827.1 1973.5h0M834.2 1976.2h0M815.3 1975.3h0M830.6 1977.1h0M835.7 1970.7h0M799.2 1945.1h0M839.3 1974.9h0M812.8 1976.4h0M810 1953.6h0M824.7 1975.3h0M860.4 1917.7h0M863.3 1976.7h0M828.1 1975h0M806.5 1933.4h0M835.6 1974.7h0M819.3 1975.7h0M825.2 1975.2h0M829.4 1977.6h0M837.3 1976.7h0M833.2 1976h0M833 1975.8h0M847.6 1977.6h0M834.2 1976.8h0M826.4 1976.4h0M849.4 1935h0M819.2 1977.4h0M824.7 1972.2h0M822.1 1970.5h0M834.9 1976.1h0M809.7 1977.6h0M859 1940.7h0M855.5 1925.7h0M821.7 1975.2h0M830 1977.2h0M828.4 1977.2h0M821.2 1965.7h0M846 1953.5h0M825.5 1972.1h0M822.2 1970.1h0M842.4 1977.4h0M837.6 1977h0M835.6 1970.1h0M824.9 1969.1h0M835.3 1977h0M814.6 1959.3h0M847.1 1975.7h0M798.7 1941.2h0M828.7 1976.8h0M843.2 1974.7h0M844.4 1955h0M838 1969.2h0M836.6 1974.6h0M833.8 1976.6h0M807.5 1948.6h0M800.8 1923.3h0M807.9 1976.4h0M821.9 1968.6h0M837.3 1972.1h0M841.1 1970.6h0M851.1 1929.4h0M832.3 1977h0M835.3 1977.3h0M833.9 1977.6h0M819 1974.6h0M805.3 1942.3h0M851.4 1975.7h0M811.1 1956.8h0M814.4 1960.2h0M844.1 1948.3h0M800 1946.9h0M839.8 1976h0M858.3 1974.5h0M826.4 1976.9h0M833.4 1977.5h0M854.8 1977h0M826.2 1974.7h0M834.6 1975.4h0M832.2 1976.8h0M820.7 1976.5h0M825.5 1974.7h0M860.5 1906h0M814.4 1967.2h0M844.2 1974.5h0M854 1922.9h0M806.7 1935.9h0M827.8 1975.7h0M800.6 1975.3h0M825.9 1972.7h0M837.3 1968.8h0M852.8 1941.6h0M838 1971.2h0M858.6 1940.2h0M834.7 1976.5h0M821.8 1965.3h0M834.3 1974.6h0M845.6 1957.8h0M855.9 1908.7h0M799.6 1977.2h0M824.5 1972.5h0M853.7 1926.6h0M835.1 1976.2h0M799.1 1925.4h0M839 1966.7h0M823.8 1977.1h0M863.4 1893.1h0M860 1933.4h0M830.4 1974.6h0M855 1974.4h0M833.4 1974.2h0M858 1977h0M811.6 1974.6h0M842 1958.7h0M813.5 1953.1h0M800.7 1918.9h0M833.5 1974.4h0M852.5 1976.8h0M832 1975.6h0M858.5 1916.6h0M855.9 1931h0M855.2 1975.2h0M845.2 1947.7h0M838.8 1975.2h0M796.6 1977h0M813.2 1962.2h0M862.6 1907.1h0M835.4 1972.7h0M817.7 1963.1h0M829.5 1976.3h0M829.6 1976.8h0M856.8 1940.9h0M856.5 1975.5h0M835.1 1976.1h0M848.4 1937.1h0M825.9 1973.2h0M828.6 1974.3h0M836.2 1976.6h0M813.7 1976.2h0M829.9 1974.2h0M844.2 1974.7h0M808.4 1946.5h0M830.1 1976.7h0M847.4 1938.3h0M837.3 1964.9h0M824.6 1971.8h0M832.9 1976.8h0M824.5 1967.3h0M849.1 1949h0M842.5 1957.4h0M826.7 1976.2h0M826.9 1974.5h0M850.8 1976.2h0M852.5 1935.5h0M828.7 1977.2h0M849.1 1943.5h0M834.9 1975.9h0M837.1 1974.5h0M833.1 1977.5h0M841.1 1964h0M827.8 1977h0M840.7 1963.5h0M811.2 1955.5h0M846.5 1950h0M836.8 1973h0M802.9 1976.8h0M848.8 1961.6h0M841.1 1955.3h0M851.9 1977.2h0M825.8 1974.8h0M824.1 1971.5h0M824.7 1968.2h0M841.7 1974.6h0M835.9 1976.7h0M846.5 1950h0M824.1 1971.2h0M836.8 1974.2h0M810.4 1975.4h0M832.3 1977.3h0M828.1 1976.3h0M838.2 1966.9h0M803.3 1975.2h0M836.8 1971.1h0M855.7 1975.9h0M826.3 1974.4h0M837.5 1967.7h0M840.5 1956.8h0M811.3 1945.4h0M802.7 1974.1h0M805.1 1938.6h0M827 1977.6h0M791.5 1977.7h0M881.5 1976.8h0M916.9 1977.7h0M861.7 1877.3h0M858.8 1878.2h0M856.4 1895.9h0M855.2 1897.4h0M860.2 1907.7h0M856.4 1912.7h0M853.5 1923h0M799.7 1912.7h0M802.7 1916.6h0M799.1 1924.5h0M811.5 1926h0" stroke="#b9b9b9" stroke-width="6.2" stroke-linecap="round" fill="none"/>
<path d="M772.9 1754.5h0M744.8 1925.1h0M697.9 1948.4h0M763.4 1831.5h0M743.1 1846.6h0M765.2 1846h0M784.1 1859.6h0M765.2 1865.5h0M770.2 1869h0M774.7 1869h0M771.1 1874.9h0M772.3 1885.9h0M782 1888.2h0M779.1 1892.6h0M764.6 1894.1h0M769.6 1902.1h0M780.6 1902.4h0M781.4 1906.2h0M797.4 1897.4h0M793.8 1901.8h0M717.1 1904.5h0M768.2 1920.4h0M773.5 1922.5h0M784.4 1928.9h0M793.2 1923.9h0M790.9 1927.5h0M794.4 1929.5h0M792.4 1932.5h0M790.3 1936.3h0M793.2 1939.3h0M786.5 1939.9h0M793.8 1942.8h0M790.9 1946.7h0M786.5 1946.7h0M792.4 1949.6h0M787.9 1955.5h0M787.3 1961.4h0M794.4 1966.4h0" stroke="#1a7fe0" stroke-width="6.4" stroke-linecap="round" fill="none"/>
<path d="M952 1652.1h0M958.2 1653.3h0M866.2 1855.2h0M864.4 1877.9h0M880.9 1907.7h0M893 1908h0M873.5 1926h0M870 1931.3h0M870.6 1936.3h0M888.3 1937.8h0M894.2 1936.3h0M896.6 1949h0M885.3 1949.6h0M892.1 1953.2h0M871.2 1954h0M872.9 1958.5h0M908.1 1960.5h0M881.8 1962h0M886.8 1962.9h0M892.7 1962.9h0M873.5 1965h0M882.4 1967.9h0M876.5 1970.3h0M870.6 1971.7h0M887.4 1975.6h0" stroke="#fdb913" stroke-width="6.4" stroke-linecap="round" fill="none"/>
<path d="M710.6 1841.9L743.7 1921.6" stroke="#111" stroke-width="1.1"/>
<text x="858.8" y="1659.5" font-size="17.5" font-style="italic" textLength="82.1" lengthAdjust="spacingAndGlyphs">TMEM176B</text>
<text x="903" y="1678.9" font-size="17.5" font-style="italic" textLength="82.1" lengthAdjust="spacingAndGlyphs">TMEM176A</text>
<text x="716.5" y="1760.7" font-size="17.5" font-style="italic" textLength="47.8" lengthAdjust="spacingAndGlyphs">IFITM1</text>
<text x="672.8" y="1834.5" font-size="17.5" font-style="italic" textLength="79.1" lengthAdjust="spacingAndGlyphs">HLA-DQA1</text>
<text x="671.3" y="1938.4" font-size="17.5" font-style="italic" textLength="41.3" lengthAdjust="spacingAndGlyphs">C1QA</text>
<text x="698.5" y="2067.1" font-size="21" textLength="86.5" lengthAdjust="spacingAndGlyphs">LR group</text>
<text x="870" y="2067.1" font-size="21" textLength="86.8" lengthAdjust="spacingAndGlyphs">EP group</text>
<path d="M803 2058.2H850" stroke="#3d4f66" stroke-width="3" fill="none"/>
<path d="M796.2 2058.2L809 2052.2L806 2058.2L809 2064.2Z" fill="#3d4f66"/>
<path d="M856.6 2058.2L843.8 2052.2L846.8 2058.2L843.8 2064.2Z" fill="#3d4f66"/>
<text x="728.9" y="2111.4" font-size="24" textLength="37" lengthAdjust="spacingAndGlyphs">log</text>
<text x="767.3" y="2119.5" font-size="17">2</text>
<text x="776.5" y="2111.4" font-size="24" textLength="154.6" lengthAdjust="spacingAndGlyphs">(fold change)</text>
<text x="1034" y="1648.9" font-size="38" font-weight="bold" stroke="#000" stroke-width="1.5" stroke-linejoin="round" textLength="23.2" lengthAdjust="spacingAndGlyphs">k</text>
<text x="1215.4" y="1690.8" font-size="24" font-style="italic" textLength="75" lengthAdjust="spacingAndGlyphs">NLRP3</text>
<text x="1463.6" y="1690.8" font-size="24" font-style="italic" textLength="45" lengthAdjust="spacingAndGlyphs">IL18</text>
<text x="1057.5" y="1855.5" font-size="24" text-anchor="middle" transform="rotate(-90 1057.5 1855.5)" textLength="133.4" lengthAdjust="spacingAndGlyphs">C1D15/C1D1</text>
<text x="1086.5" y="1855" font-size="24" text-anchor="middle" transform="rotate(-90 1086.5 1855)" textLength="220.3" lengthAdjust="spacingAndGlyphs">of gene expression</text>
<path d="M1190.6 1988.5V1807.4H1239.7V1988.5" stroke="#333" stroke-width="1.2" fill="#fff"/>
<path d="M1265.5 1988.5V1884.8H1314.4V1988.5" stroke="#333" stroke-width="1.2" fill="#fff"/>
<path d="M1165.4 1720.8L1165.4 1988.5" stroke="#333" stroke-width="1.3"/>
<path d="M1156.4 1988.5L1339.8 1988.5" stroke="#333" stroke-width="1.3"/>
<path d="M1156.4 1720.8L1165.4 1720.8" stroke="#333" stroke-width="1.3"/>
<text x="1142.3" y="1728.3" font-size="21" text-anchor="end">2.0</text>
<path d="M1156.4 1788L1165.4 1788" stroke="#333" stroke-width="1.3"/>
<text x="1142.3" y="1795.5" font-size="21" text-anchor="end">1.5</text>
<path d="M1156.4 1854.8L1165.4 1854.8" stroke="#333" stroke-width="1.3"/>
<text x="1142.3" y="1862.3" font-size="21" text-anchor="end">1.0</text>
<path d="M1156.4 1921.6L1165.4 1921.6" stroke="#333" stroke-width="1.3"/>
<text x="1142.3" y="1929.1" font-size="21" text-anchor="end">0.5</text>
<path d="M1156.4 1988.5L1165.4 1988.5" stroke="#333" stroke-width="1.3"/>
<text x="1142.3" y="1996" font-size="21" text-anchor="end">0</text>
<path d="M1214.8 1988.5L1214.8 1997.8" stroke="#333" stroke-width="1.3"/>
<path d="M1289.8 1988.5L1289.8 1997.8" stroke="#333" stroke-width="1.3"/>
<path d="M1214.8 1767.9V1846.7M1202.2 1767.9H1227.4M1202.2 1846.7H1227.4" stroke="#333" stroke-width="1.2" fill="none"/>
<path d="M1289.8 1863.2V1906.4M1277.2 1863.2H1302.4M1277.2 1906.4H1302.4" stroke="#333" stroke-width="1.2" fill="none"/>
<circle cx="1215.1" cy="1761.6" r="4.1" fill="#4a9fe3" stroke="#1a1a1a" stroke-width="0.9"/>
<circle cx="1215.1" cy="1772.4" r="4.1" fill="#4a9fe3" stroke="#1a1a1a" stroke-width="0.9"/>
<circle cx="1215.1" cy="1780.8" r="4.1" fill="#4a9fe3" stroke="#1a1a1a" stroke-width="0.9"/>
<circle cx="1215.1" cy="1790.3" r="4.1" fill="#4a9fe3" stroke="#1a1a1a" stroke-width="0.9"/>
<circle cx="1215.1" cy="1798.7" r="4.1" fill="#4a9fe3" stroke="#1a1a1a" stroke-width="0.9"/>
<circle cx="1215.1" cy="1806.8" r="4.1" fill="#4a9fe3" stroke="#1a1a1a" stroke-width="0.9"/>
<circle cx="1215.1" cy="1824.5" r="4.1" fill="#4a9fe3" stroke="#1a1a1a" stroke-width="0.9"/>
<circle cx="1215.1" cy="1845.8" r="4.1" fill="#4a9fe3" stroke="#1a1a1a" stroke-width="0.9"/>
<circle cx="1215.1" cy="1886.3" r="4.1" fill="#4a9fe3" stroke="#1a1a1a" stroke-width="0.9"/>
<circle cx="1282.3" cy="1859.9" r="4.1" fill="#fdcb3a" stroke="#1a1a1a" stroke-width="0.9"/>
<circle cx="1297.9" cy="1861.4" r="4.1" fill="#fdcb3a" stroke="#1a1a1a" stroke-width="0.9"/>
<circle cx="1282.3" cy="1871.6" r="4.1" fill="#fdcb3a" stroke="#1a1a1a" stroke-width="0.9"/>
<circle cx="1297.9" cy="1873.7" r="4.1" fill="#fdcb3a" stroke="#1a1a1a" stroke-width="0.9"/>
<circle cx="1282.3" cy="1880.9" r="4.1" fill="#fdcb3a" stroke="#1a1a1a" stroke-width="0.9"/>
<circle cx="1297.9" cy="1889.9" r="4.1" fill="#fdcb3a" stroke="#1a1a1a" stroke-width="0.9"/>
<circle cx="1282.3" cy="1894.1" r="4.1" fill="#fdcb3a" stroke="#1a1a1a" stroke-width="0.9"/>
<circle cx="1290.1" cy="1906.4" r="4.1" fill="#fdcb3a" stroke="#1a1a1a" stroke-width="0.9"/>
<circle cx="1290.1" cy="1925.5" r="4.1" fill="#fdcb3a" stroke="#1a1a1a" stroke-width="0.9"/>
<text x="1208.8" y="1722.3" font-size="16.5" textLength="85.5" lengthAdjust="spacingAndGlyphs"><tspan font-style="italic">P</tspan> = 0.0008</text>
<path d="M1212.7 1727.4L1288.9 1727.4" stroke="#222" stroke-width="1.2"/>
<text x="1226" y="2018.3" font-size="24" text-anchor="end" transform="rotate(-45 1226 2018.3)" textLength="105" lengthAdjust="spacingAndGlyphs">LR group</text>
<text x="1301" y="2018.3" font-size="24" text-anchor="end" transform="rotate(-45 1301 2018.3)" textLength="105" lengthAdjust="spacingAndGlyphs">EP group</text>
<path d="M1425.6 1987.6V1898.9H1473.5V1987.6" stroke="#333" stroke-width="1.2" fill="#fff"/>
<path d="M1498.7 1987.6V1949.5H1547.3V1987.6" stroke="#333" stroke-width="1.2" fill="#fff"/>
<path d="M1401 1725.9L1401 1987.6" stroke="#333" stroke-width="1.3"/>
<path d="M1391.7 1987.6L1571.6 1987.6" stroke="#333" stroke-width="1.3"/>
<path d="M1391.7 1725.9L1401 1725.9" stroke="#333" stroke-width="1.3"/>
<text x="1378.2" y="1733.4" font-size="21" text-anchor="end">6</text>
<path d="M1391.7 1813.4L1401 1813.4" stroke="#333" stroke-width="1.3"/>
<text x="1378.2" y="1820.9" font-size="21" text-anchor="end">4</text>
<path d="M1391.7 1900.4L1401 1900.4" stroke="#333" stroke-width="1.3"/>
<text x="1378.2" y="1907.9" font-size="21" text-anchor="end">2</text>
<path d="M1391.7 1987.6L1401 1987.6" stroke="#333" stroke-width="1.3"/>
<text x="1378.2" y="1995.1" font-size="21" text-anchor="end">0</text>
<path d="M1449.6 1987.6L1449.6 1997" stroke="#333" stroke-width="1.3"/>
<path d="M1522.7 1987.6L1522.7 1997" stroke="#333" stroke-width="1.3"/>
<path d="M1449.6 1831.4V1966.3M1437 1831.4H1462.2M1437 1966.3H1462.2" stroke="#333" stroke-width="1.2" fill="none"/>
<path d="M1522.7 1933.6V1964.2M1510.1 1933.6H1535.3M1510.1 1964.2H1535.3" stroke="#333" stroke-width="1.2" fill="none"/>
<circle cx="1449.6" cy="1745.7" r="4.1" fill="#4a9fe3" stroke="#1a1a1a" stroke-width="0.9"/>
<circle cx="1449.6" cy="1844.3" r="4.1" fill="#4a9fe3" stroke="#1a1a1a" stroke-width="0.9"/>
<circle cx="1449.6" cy="1894.4" r="4.1" fill="#4a9fe3" stroke="#1a1a1a" stroke-width="0.9"/>
<circle cx="1449.6" cy="1904" r="4.1" fill="#4a9fe3" stroke="#1a1a1a" stroke-width="0.9"/>
<circle cx="1449.6" cy="1927.3" r="4.1" fill="#4a9fe3" stroke="#1a1a1a" stroke-width="0.9"/>
<circle cx="1434" cy="1930.3" r="4.1" fill="#4a9fe3" stroke="#1a1a1a" stroke-width="0.9"/>
<circle cx="1465.1" cy="1930.3" r="4.1" fill="#4a9fe3" stroke="#1a1a1a" stroke-width="0.9"/>
<circle cx="1449.6" cy="1940.5" r="4.1" fill="#4a9fe3" stroke="#1a1a1a" stroke-width="0.9"/>
<circle cx="1449.6" cy="1973.5" r="4.1" fill="#4a9fe3" stroke="#1a1a1a" stroke-width="0.9"/>
<circle cx="1522.7" cy="1928.2" r="4.1" fill="#fdcb3a" stroke="#1a1a1a" stroke-width="0.9"/>
<circle cx="1507.1" cy="1934.2" r="4.1" fill="#fdcb3a" stroke="#1a1a1a" stroke-width="0.9"/>
<circle cx="1538.3" cy="1935.1" r="4.1" fill="#fdcb3a" stroke="#1a1a1a" stroke-width="0.9"/>
<circle cx="1522.7" cy="1943.5" r="4.1" fill="#fdcb3a" stroke="#1a1a1a" stroke-width="0.9"/>
<circle cx="1507.1" cy="1954.3" r="4.1" fill="#fdcb3a" stroke="#1a1a1a" stroke-width="0.9"/>
<circle cx="1522.7" cy="1954.3" r="4.1" fill="#fdcb3a" stroke="#1a1a1a" stroke-width="0.9"/>
<circle cx="1538.3" cy="1956.1" r="4.1" fill="#fdcb3a" stroke="#1a1a1a" stroke-width="0.9"/>
<circle cx="1530.5" cy="1966" r="4.1" fill="#fdcb3a" stroke="#1a1a1a" stroke-width="0.9"/>
<circle cx="1514.9" cy="1972.3" r="4.1" fill="#fdcb3a" stroke="#1a1a1a" stroke-width="0.9"/>
<text x="1442.7" y="1722.3" font-size="16.5" textLength="79.4" lengthAdjust="spacingAndGlyphs"><tspan font-style="italic">P</tspan> = 0.0188</text>
<path d="M1444.2 1727.4L1520 1727.4" stroke="#222" stroke-width="1.2"/>
<text x="1460.5" y="2018.3" font-size="24" text-anchor="end" transform="rotate(-45 1460.5 2018.3)" textLength="105" lengthAdjust="spacingAndGlyphs">LR group</text>
<text x="1534" y="2018.3" font-size="24" text-anchor="end" transform="rotate(-45 1534 2018.3)" textLength="105" lengthAdjust="spacingAndGlyphs">EP group</text>
<text x="1618.5" y="1649.2" font-size="38" font-weight="bold" stroke="#000" stroke-width="1.5" stroke-linejoin="round" textLength="11.6" lengthAdjust="spacingAndGlyphs">l</text>
<text x="1679.9" y="1650.7" font-size="24" textLength="474.1" lengthAdjust="spacingAndGlyphs">NLRP3 inflammasome signaling pathway</text>
<text x="1825.1" y="1679.9" font-size="24" textLength="184.3" lengthAdjust="spacingAndGlyphs">(KEGG N00742)</text>
<text x="1772.3" y="1728.2" font-size="24" textLength="105" lengthAdjust="spacingAndGlyphs">LR group</text>
<text x="2013.3" y="1728.2" font-size="24" textLength="105" lengthAdjust="spacingAndGlyphs">EP group</text>
<text x="1635.2" y="1876" font-size="24" text-anchor="middle" transform="rotate(-90 1635.2 1876)" textLength="174.4" lengthAdjust="spacingAndGlyphs">Gene set score</text>
<text x="1665" y="1876" font-size="24" text-anchor="middle" transform="rotate(-90 1665 1876)" textLength="204.3" lengthAdjust="spacingAndGlyphs">in total monocyte</text>
<path d="M1742.2 1759.5V1997.2H1907.4" stroke="#333" stroke-width="1.3" fill="none"/>
<path d="M1733.7 1787.3L1742.2 1787.3" stroke="#333" stroke-width="1.3"/>
<text x="1719.6" y="1795.1" font-size="22" text-anchor="end" textLength="32.1" lengthAdjust="spacingAndGlyphs">0.4</text>
<path d="M1733.7 1863.6L1742.2 1863.6" stroke="#333" stroke-width="1.3"/>
<text x="1719.6" y="1871.4" font-size="22" text-anchor="end" textLength="32.1" lengthAdjust="spacingAndGlyphs">0.3</text>
<path d="M1733.7 1940.2L1742.2 1940.2" stroke="#333" stroke-width="1.3"/>
<text x="1719.6" y="1948" font-size="22" text-anchor="end" textLength="32.1" lengthAdjust="spacingAndGlyphs">0.2</text>
<path d="M1786.9 1997.2L1786.9 2005.4" stroke="#333" stroke-width="1.3"/>
<path d="M1862.1 1997.2L1862.1 2005.4" stroke="#333" stroke-width="1.3"/>
<path d="M1786.9 1917.9L1786.9 1986.5" stroke="#222" stroke-width="1.3"/>
<rect x="1768.5" y="1922.3" width="37.3" height="55.2" fill="#4aaeea" stroke="#333" stroke-width="1.1"/>
<path d="M1768.5 1948.3L1805.7 1948.3" stroke="#333" stroke-width="1.3"/>
<path d="M1862.1 1780.4L1862.1 1968.6" stroke="#222" stroke-width="1.3"/>
<rect x="1843.6" y="1842.4" width="37.6" height="94.8" fill="#4aaeea" stroke="#333" stroke-width="1.1"/>
<path d="M1843.6 1897.6L1881.2 1897.6" stroke="#333" stroke-width="1.3"/>
<path d="M1786.9 1835.6L1862.1 1780.4M1786.9 1917.9L1862.1 1897.6M1786.9 1922L1862.1 1829.6M1786.9 1943.8L1862.1 1843M1786.9 1948.3L1862.1 1937.2M1786.9 1951.3L1862.1 1844.5M1786.9 1977.5L1862.1 1911M1786.9 1977.5L1862.1 1939.9M1786.9 1986.5L1862.1 1968.6" stroke="#c2c2c2" stroke-width="1.1" fill="none"/>
<circle cx="1786.9" cy="1835.6" r="3.5" fill="#000"/>
<circle cx="1786.9" cy="1917.9" r="3" fill="#000"/>
<circle cx="1786.9" cy="1922" r="3" fill="#000"/>
<circle cx="1786.9" cy="1943.8" r="3" fill="#000"/>
<circle cx="1786.9" cy="1948.3" r="3" fill="#000"/>
<circle cx="1786.9" cy="1951.3" r="3" fill="#000"/>
<circle cx="1786.9" cy="1977.5" r="3" fill="#000"/>
<circle cx="1786.9" cy="1986.5" r="3" fill="#000"/>
<circle cx="1862.1" cy="1780.4" r="3" fill="#000"/>
<circle cx="1862.1" cy="1829.6" r="3" fill="#000"/>
<circle cx="1862.1" cy="1843" r="3" fill="#000"/>
<circle cx="1862.1" cy="1844.5" r="3" fill="#000"/>
<circle cx="1862.1" cy="1897.6" r="3" fill="#000"/>
<circle cx="1862.1" cy="1911" r="3" fill="#000"/>
<circle cx="1862.1" cy="1937.2" r="3" fill="#000"/>
<circle cx="1862.1" cy="1939.9" r="3" fill="#000"/>
<circle cx="1862.1" cy="1968.6" r="3" fill="#000"/>
<text x="1784.3" y="1757.1" font-size="16.5" textLength="84.3" lengthAdjust="spacingAndGlyphs"><tspan font-style="italic">P</tspan> = 0.0039</text>
<path d="M1789.3 1763.1L1860.9 1763.1" stroke="#222" stroke-width="1.2"/>
<text x="1798.2" y="2028.9" font-size="23.5" text-anchor="end" transform="rotate(-45 1798.2 2028.9)" textLength="58" lengthAdjust="spacingAndGlyphs">C1D1</text>
<text x="1873.4" y="2028.9" font-size="23.5" text-anchor="end" transform="rotate(-45 1873.4 2028.9)" textLength="70.7" lengthAdjust="spacingAndGlyphs">C1D15</text>
<path d="M1979 1759.5V1997.2H2152.5" stroke="#333" stroke-width="1.3" fill="none"/>
<path d="M1970.5 1789.1L1979 1789.1" stroke="#333" stroke-width="1.3"/>
<text x="1955.7" y="1796.9" font-size="22" text-anchor="end" textLength="32.1" lengthAdjust="spacingAndGlyphs">0.5</text>
<path d="M1970.5 1846L1979 1846" stroke="#333" stroke-width="1.3"/>
<text x="1955.7" y="1853.8" font-size="22" text-anchor="end" textLength="32.1" lengthAdjust="spacingAndGlyphs">0.4</text>
<path d="M1970.5 1902.7L1979 1902.7" stroke="#333" stroke-width="1.3"/>
<text x="1955.7" y="1910.5" font-size="22" text-anchor="end" textLength="32.1" lengthAdjust="spacingAndGlyphs">0.3</text>
<path d="M1970.5 1959.3L1979 1959.3" stroke="#333" stroke-width="1.3"/>
<text x="1955.7" y="1967.1" font-size="22" text-anchor="end" textLength="32.1" lengthAdjust="spacingAndGlyphs">0.2</text>
<path d="M2026.4 1997.2L2026.4 2005.4" stroke="#333" stroke-width="1.3"/>
<path d="M2105.4 1997.2L2105.4 2005.4" stroke="#333" stroke-width="1.3"/>
<path d="M2026.4 1810.5L2026.4 1987" stroke="#222" stroke-width="1.3"/>
<rect x="2006.4" y="1857.9" width="39.7" height="75.4" fill="#fdd94a" stroke="#333" stroke-width="1.1"/>
<path d="M2006.4 1915.2L2046.1 1915.2" stroke="#333" stroke-width="1.3"/>
<path d="M2105.4 1780.4L2105.4 1968.6" stroke="#222" stroke-width="1.3"/>
<rect x="2085.4" y="1841.5" width="40" height="64.4" fill="#fdd94a" stroke="#333" stroke-width="1.1"/>
<path d="M2085.4 1848.4L2125.4 1848.4" stroke="#333" stroke-width="1.3"/>
<path d="M2026.4 1810.5L2105.4 1879.4M2026.4 1841.5L2105.4 1841.5M2026.4 1857.9L2105.4 1817.7M2026.4 1896.7L2105.4 1848.7M2026.4 1915.2L2105.4 1925.3M2026.4 1926.2L2105.4 1780.4M2026.4 1933.4L2105.4 1848.7M2026.4 1968L2105.4 1905.9M2026.4 1987L2105.4 1968.6" stroke="#c2c2c2" stroke-width="1.1" fill="none"/>
<circle cx="2026.4" cy="1810.5" r="3" fill="#000"/>
<circle cx="2026.4" cy="1841.5" r="3" fill="#000"/>
<circle cx="2026.4" cy="1857.9" r="3" fill="#000"/>
<circle cx="2026.4" cy="1896.7" r="3" fill="#000"/>
<circle cx="2026.4" cy="1915.2" r="3" fill="#000"/>
<circle cx="2026.4" cy="1926.2" r="3" fill="#000"/>
<circle cx="2026.4" cy="1933.4" r="3" fill="#000"/>
<circle cx="2026.4" cy="1968" r="3" fill="#000"/>
<circle cx="2026.4" cy="1987" r="3" fill="#000"/>
<circle cx="2105.4" cy="1780.4" r="3" fill="#000"/>
<circle cx="2105.4" cy="1817.7" r="3" fill="#000"/>
<circle cx="2105.4" cy="1841.5" r="3" fill="#000"/>
<circle cx="2105.4" cy="1848.7" r="3" fill="#000"/>
<circle cx="2105.4" cy="1879.4" r="3" fill="#000"/>
<circle cx="2105.4" cy="1905.9" r="3" fill="#000"/>
<circle cx="2105.4" cy="1925.3" r="3" fill="#000"/>
<circle cx="2105.4" cy="1968.6" r="3" fill="#000"/>
<text x="2037.7" y="2028.9" font-size="23.5" text-anchor="end" transform="rotate(-45 2037.7 2028.9)" textLength="58" lengthAdjust="spacingAndGlyphs">C1D1</text>
<text x="2116.7" y="2028.9" font-size="23.5" text-anchor="end" transform="rotate(-45 2116.7 2028.9)" textLength="70.7" lengthAdjust="spacingAndGlyphs">C1D15</text>
</svg></body></html>
